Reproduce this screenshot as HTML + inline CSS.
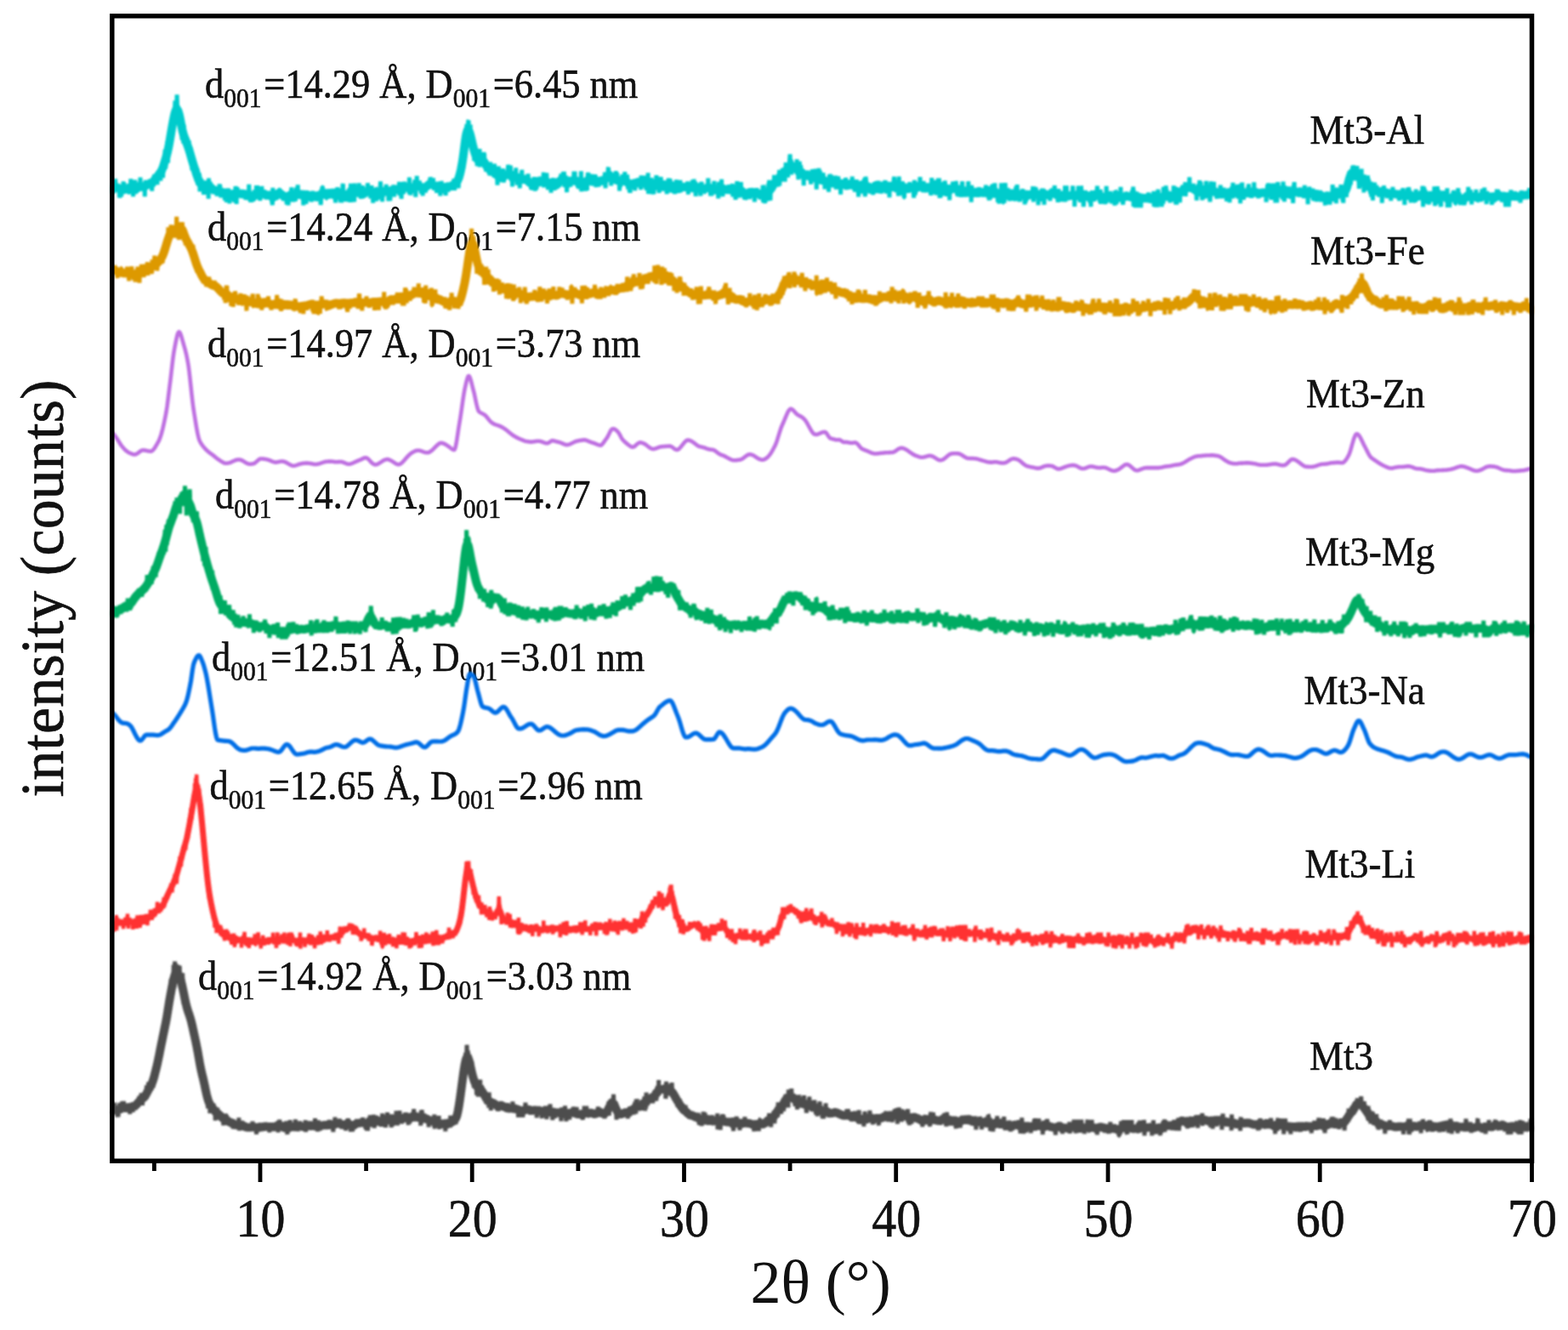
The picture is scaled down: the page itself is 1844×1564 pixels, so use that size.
<!DOCTYPE html>
<html><head><meta charset="utf-8"><style>
html,body{margin:0;padding:0;background:#fff;width:1844px;height:1564px;overflow:hidden}
svg{display:block}
.s{font-family:"Liberation Serif","Times New Roman",serif;fill:#111;stroke:#111;stroke-width:0.6px;paint-order:stroke}
</style></head><body>
<svg width="1844" height="1564" viewBox="0 0 1844 1564">
<rect width="100%" height="100%" fill="#fff"/>
<defs><filter id="b" x="-2%" y="-2%" width="104%" height="104%"><feGaussianBlur stdDeviation="0.8"/></filter></defs>
<text transform="translate(306.5 1454) scale(0.92 1)" font-size="63" text-anchor="middle" class="s">10</text>
<text transform="translate(555.7 1454) scale(0.92 1)" font-size="63" text-anchor="middle" class="s">20</text>
<text transform="translate(805.0 1454) scale(0.92 1)" font-size="63" text-anchor="middle" class="s">30</text>
<text transform="translate(1054.2 1454) scale(0.92 1)" font-size="63" text-anchor="middle" class="s">40</text>
<text transform="translate(1303.5 1454) scale(0.92 1)" font-size="63" text-anchor="middle" class="s">50</text>
<text transform="translate(1552.7 1454) scale(0.92 1)" font-size="63" text-anchor="middle" class="s">60</text>
<text transform="translate(1802.0 1454) scale(0.92 1)" font-size="63" text-anchor="middle" class="s">70</text>
<text x="965" y="1532" font-size="72" text-anchor="middle" class="s" style="stroke-width:0">2θ (°)</text>
<text transform="translate(74 692) rotate(-90) scale(0.978 1)" font-size="72" text-anchor="middle" class="s">intensity (counts)</text>
<text transform="translate(241.0 114.6) scale(0.925 1)" font-size="48" class="s">d<tspan font-size="32" dy="11">001</tspan><tspan dy="-11" dx="3">=</tspan>14.29 Å, D<tspan font-size="32" dy="11">001</tspan><tspan dy="-11" dx="3">=</tspan>6.45 nm</text>
<text transform="translate(244.0 283) scale(0.925 1)" font-size="48" class="s">d<tspan font-size="32" dy="11">001</tspan><tspan dy="-11" dx="3">=</tspan>14.24 Å, D<tspan font-size="32" dy="11">001</tspan><tspan dy="-11" dx="3">=</tspan>7.15 nm</text>
<text transform="translate(244.0 419.6) scale(0.925 1)" font-size="48" class="s">d<tspan font-size="32" dy="11">001</tspan><tspan dy="-11" dx="3">=</tspan>14.97 Å, D<tspan font-size="32" dy="11">001</tspan><tspan dy="-11" dx="3">=</tspan>3.73 nm</text>
<text transform="translate(253.0 598) scale(0.925 1)" font-size="48" class="s">d<tspan font-size="32" dy="11">001</tspan><tspan dy="-11" dx="3">=</tspan>14.78 Å, D<tspan font-size="32" dy="11">001</tspan><tspan dy="-11" dx="3">=</tspan>4.77 nm</text>
<text transform="translate(249.0 789) scale(0.925 1)" font-size="48" class="s">d<tspan font-size="32" dy="11">001</tspan><tspan dy="-11" dx="3">=</tspan>12.51 Å, D<tspan font-size="32" dy="11">001</tspan><tspan dy="-11" dx="3">=</tspan>3.01 nm</text>
<text transform="translate(246.5 940) scale(0.925 1)" font-size="48" class="s">d<tspan font-size="32" dy="11">001</tspan><tspan dy="-11" dx="3">=</tspan>12.65 Å, D<tspan font-size="32" dy="11">001</tspan><tspan dy="-11" dx="3">=</tspan>2.96 nm</text>
<text transform="translate(233.0 1164) scale(0.925 1)" font-size="48" class="s">d<tspan font-size="32" dy="11">001</tspan><tspan dy="-11" dx="3">=</tspan>14.92 Å, D<tspan font-size="32" dy="11">001</tspan><tspan dy="-11" dx="3">=</tspan>3.03 nm</text>
<text transform="translate(1540.5 168.5) scale(0.936 1)" font-size="48" class="s">Mt3-Al</text>
<text transform="translate(1541.0 311.3) scale(0.936 1)" font-size="48" class="s">Mt3-Fe</text>
<text transform="translate(1536.0 479) scale(0.936 1)" font-size="48" class="s">Mt3-Zn</text>
<text transform="translate(1535.0 665) scale(0.936 1)" font-size="48" class="s">Mt3-Mg</text>
<text transform="translate(1533.6 828) scale(0.936 1)" font-size="48" class="s">Mt3-Na</text>
<text transform="translate(1534.6 1032) scale(0.936 1)" font-size="48" class="s">Mt3-Li</text>
<text transform="translate(1540.0 1258) scale(0.936 1)" font-size="48" class="s">Mt3</text>
<g filter="url(#b)"><path d="M132.5 1305.9l.7-.1 .7-.1 .7-.2 .7-.1 .7 0 .7 .1 .7 0 .7-.1 .7-.2 .7-.4 .7-.4 .7-.5 .7-.4 .7-.3 .7-.3 .7-.3 .7-.1 .7 0 .7 .1 .7 .2 .7 .2 .7 0 .7 0 .7-.1 .7-.2 .7-.1 .7-.1 .7-.1 .7-.1 .7-.2 .7-.3 .7-.3 .7-.2 .7-.2 .7-.2 .7-.2 .7-.3 .7-.4 .7-.5 .7-.6 .7-.8 .7-.7 .7-.9 .7-.8 .7-.9 .7-.8 .7-.7 .7-.6 .7-.4 .7-.5 .7-.4 .7-.5 .7-.7 .7-.9 .7-1 .7-1.2 .7-1.3 .7-1.3 .7-1.4 .7-1.3 .7-1.3 .7-1.3 .7-1.2 .7-1.3 .7-1.4 .7-1.5 .7-1.7 .7-2 .7-2.3 .7-2.5 .7-2.7 .7-2.8 .7-2.8 .7-2.9 .7-3 .7-3.1 .7-3.4 .7-3.4 .7-3.6 .7-3.5 .7-3.5 .7-3.5 .7-3.4 .7-3.5 .7-3.4 .7-3.4 .7-3.3 .7-3.3 .7-3.4 .7-3.7 .7-3.9 .7-4.3 .7-4.4 .7-4.4 .7-4.3 .7-4.1 .7-3.9 .7-3.8 .7-3.8 .7-3.6 .7-3.5 .7-3.2 .7-2.8 .7-2.3 .7-1.7 .7-1 .7-.5 .7 0 .7 .3 .7 .8 .7 1 .7 1.4 .7 1.8 .7 2.2 .7 2.5 .7 2.8 .7 3 .7 3.2 .7 3.4 .7 3.5 .7 3.5 .7 3.3 .7 3.1 .7 2.9 .7 2.6 .7 2.3 .7 2.2 .7 2 .7 2.1 .7 2.1 .7 2.4 .7 2.5 .7 2.9 .7 3 .7 3.2 .7 3.2 .7 3.2 .7 3.2 .7 3.2 .7 3.3 .7 3.4 .7 3.6 .7 3.7 .7 4 .7 4 .7 4 .7 3.8 .7 3.6 .7 3.2 .7 3 .7 2.9 .7 2.8 .7 3.1 .7 3.1 .7 3.3 .7 3.4 .7 3.3 .7 3.1 .7 2.8 .7 2.4 .7 2.1 .7 1.7 .7 1.5 .7 1.2 .7 1.1 .7 .9 .7 .9 .7 .9 .7 .9 .7 1 .7 1 .7 .8 .7 .8 .7 .6 .7 .4 .7 .5 .7 .5 .7 .6 .7 .7 .7 .7 .7 .8 .7 .7 .7 .7 .7 .6 .7 .6 .7 .5 .7 .3 .7 .3 .7 .2 .7 .2 .7 .4 .7 .4 .7 .6 .7 .5 .7 .5 .7 .4 .7 .3 .7 .3 .7 .3 .7 .3 .7 .4 .7 .4 .7 .4 .7 .4 .7 .3 .7 .2 .7 0 .7 .1 .7-.1 .7 0 .7 .1 .7 .2 .7 .1 .7 .2 .7 .2 .7 .1 .7 .1 .7 .1 .7 .2 .7 .2 .7 .3 .7 .3 .7 .4 .7 .2 .7 .3 .7 .1 .7 0 .7 0 .7 0 .7 0 .7 0 .7-.1 .7 0 .7-.1 .7-.1 .7 0 .7 0 .7 0 .7 .1 .7 .1 .7 .2 .7 .1 .7 .1 .7 .1 .7-.1 .7-.1 .7-.2 .7-.1 .7-.1 .7-.1 .7 0 .7-.1 .7-.1 .7-.1 .7-.1 .7-.1 .7-.1 .7 0 .7 0 .7 .1 .7 0 .7 0 .7 0 .7 0 .7 0 .7 0 .7 .1 .7 .1 .7 .2 .7 .1 .7-.1 .7-.1 .7-.3 .7-.3 .7-.4 .7-.3 .7-.2 .7-.2 .7 0 .7 0 .7 .2 .7 .4 .7 .4 .7 .4 .7 .3 .7 .2 .7 .2 .7 .1 .7 .1 .7 .1 .7 .2 .7 .1 .7 .1 .7 0 .7-.1 .7-.2 .7-.3 .7-.4 .7-.2 .7-.2 .7-.1 .7 0 .7 0 .7 .1 .7 0 .7 0 .7-.1 .7 0 .7-.1 .7-.1 .7-.1 .7-.1 .7-.1 .7 0 .7 0 .7 .1 .7 .2 .7 .2 .7 .1 .7 .1 .7 .1 .7-.1 .7-.1 .7-.2 .7-.1 .7-.3 .7-.3 .7-.3 .7-.2 .7-.2 .7-.1 .7 .1 .7 .1 .7 .1 .7 .1 .7 0 .7 0 .7-.1 .7 0 .7-.1 .7 0 .7-.1 .7 0 .7 0 .7 0 .7 .1 .7 0 .7 .2 .7 0 .7 .1 .7-.1 .7-.1 .7-.1 .7-.1 .7-.1 .7-.1 .7-.1 .7 0 .7 0 .7-.1 .7-.1 .7-.1 .7-.1 .7-.1 .7-.1 .7 0 .7 .1 .7 .1 .7 .1 .7 0 .7-.1 .7-.2 .7-.3 .7-.3 .7-.3 .7-.3 .7-.2 .7-.2 .7 0 .7 .2 .7 .2 .7 .4 .7 .3 .7 .3 .7 .2 .7 .1 .7 .1 .7-.1 .7 0 .7-.1 .7-.1 .7-.2 .7-.1 .7-.1 .7 0 .7 .1 .7 .2 .7 .3 .7 .4 .7 .3 .7 .3 .7 .2 .7 .1 .7-.1 .7-.3 .7-.4 .7-.5 .7-.5 .7-.5 .7-.3 .7-.2 .7-.1 .7-.1 .7-.1 .7-.1 .7-.1 .7-.1 .7-.1 .7-.1 .7 0 .7 .1 .7 .1 .7 .2 .7 .2 .7 .3 .7 .2 .7 .1 .7-.1 .7-.4 .7-.6 .7-.7 .7-.6 .7-.5 .7-.3 .7-.1 .7 .1 .7 .1 .7 .1 .7 0 .7-.1 .7-.2 .7-.3 .7-.1 .7 0 .7 .2 .7 .2 .7 .2 .7 .2 .7 .1 .7 0 .7-.1 .7-.2 .7-.2 .7-.1 .7-.1 .7-.1 .7 0 .7-.1 .7-.2 .7-.1 .7-.2 .7-.1 .7 0 .7 0 .7 0 .7-.1 .7-.1 .7-.1 .7 0 .7-.1 .7-.1 .7-.2 .7-.2 .7-.3 .7-.3 .7-.3 .7-.4 .7-.3 .7-.3 .7-.2 .7-.1 .7 0 .7 .2 .7 .3 .7 .3 .7 .2 .7 .1 .7 0 .7-.2 .7-.3 .7-.2 .7-.2 .7 0 .7 .1 .7 .3 .7 .4 .7 .2 .7 .1 .7-.1 .7-.4 .7-.5 .7-.6 .7-.5 .7-.5 .7-.3 .7-.2 .7 .1 .7 .2 .7 .3 .7 .3 .7 .4 .7 .3 .7 .3 .7 0 .7 0 .7-.1 .7-.3 .7-.2 .7-.1 .7 0 .7 .1 .7 .3 .7 .3 .7 .5 .7 .4 .7 .4 .7 .3 .7 .4 .7 .3 .7 .4 .7 .2 .7 .3 .7 .1 .7 .2 .7 .2 .7 .2 .7 .2 .7 .2 .7 .2 .7 0 .7 .1 .7 0 .7 .2 .7 .2 .7 .4 .7 .5 .7 .4 .7 .4 .7 .4 .7 .2 .7 .1 .7 .1 .7 0 .7 .1 .7 0 .7 .2 .7 .2 .7 .2 .7 .1 .7 0 .7-.1 .7-.2 .7-.4 .7-.3 .7-.4 .7-.3 .7-.4 .7-.2 .7-.3 .7-.4 .7-.4 .7-.4 .7-.6 .7-.6 .7-.7 .7-1 .7-1.3 .7-1.8 .7-2.5 .7-3.1 .7-3.7 .7-4.2 .7-4.6 .7-5 .7-5.1 .7-5.3 .7-5.3 .7-5.2 .7-5.1 .7-4.8 .7-4.4 .7-3.8 .7-3.1 .7-2.4 .7-1.4 .7-.4 .7 .6 .7 1.6 .7 2.3 .7 2.9 .7 3.1 .7 3.2 .7 3.1 .7 2.9 .7 2.7 .7 2.5 .7 2.1 .7 1.9 .7 1.6 .7 1.4 .7 1.3 .7 1.1 .7 1 .7 .8 .7 .5 .7 .4 .7 .5 .7 .5 .7 .7 .7 .9 .7 1 .7 1.1 .7 1.2 .7 1.2 .7 1.2 .7 1.2 .7 1 .7 1 .7 .9 .7 .7 .7 .6 .7 .6 .7 .5 .7 .5 .7 .5 .7 .3 .7 .3 .7 .2 .7 .2 .7 .3 .7 .5 .7 .5 .7 .6 .7 .6 .7 .5 .7 .4 .7 .3 .7 .2 .7 0 .7-.1 .7-.1 .7 0 .7 0 .7 .1 .7 .1 .7 .2 .7 .3 .7 .2 .7 .3 .7 .2 .7 .3 .7 .2 .7 .2 .7 .2 .7 .2 .7 .1 .7 .1 .7 0 .7 0 .7-.1 .7-.1 .7 0 .7 0 .7 .1 .7 .1 .7 .2 .7 .2 .7 .2 .7 .3 .7 .3 .7 .2 .7 .3 .7 .2 .7 .2 .7 .3 .7 .3 .7 .2 .7 .2 .7-.1 .7-.3 .7-.3 .7-.4 .7-.4 .7-.2 .7-.2 .7-.1 .7 .1 .7 .1 .7 .2 .7 .3 .7 .3 .7 .2 .7 .2 .7 0 .7 0 .7-.2 .7-.1 .7-.1 .7 0 .7 .1 .7 .1 .7 .2 .7 .1 .7 0 .7 .1 .7 0 .7 .1 .7 0 .7 .2 .7 .1 .7 .2 .7 .1 .7 .1 .7 0 .7-.1 .7 0 .7 0 .7 .1 .7 0 .7-.1 .7-.2 .7-.1 .7 0 .7 .1 .7 .2 .7 .3 .7 .4 .7 .3 .7 .3 .7 .1 .7 .1 .7 .1 .7 .1 .7 .1 .7 0 .7 0 .7-.1 .7 0 .7 .1 .7 .1 .7 .2 .7 .2 .7 .2 .7 .2 .7 .1 .7 0 .7-.1 .7-.1 .7-.1 .7-.1 .7 .1 .7 .1 .7 0 .7 .1 .7 0 .7-.1 .7-.1 .7-.2 .7-.3 .7-.3 .7-.2 .7-.1 .7 0 .7 .2 .7 .2 .7 .3 .7 .2 .7 .3 .7 .3 .7 .2 .7 .2 .7 .1 .7 .1 .7 0 .7-.1 .7 .1 .7 0 .7 .1 .7 0 .7-.2 .7-.4 .7-.4 .7-.4 .7-.2 .7-.1 .7 .2 .7 .1 .7 .2 .7 0 .7 0 .7-.2 .7-.2 .7 0 .7 0 .7 .2 .7 .2 .7 .3 .7 .2 .7 .2 .7 0 .7-.1 .7-.3 .7-.3 .7-.3 .7-.2 .7-.1 .7-.1 .7 0 .7 .1 .7 .1 .7 .2 .7 .2 .7 .2 .7 .2 .7 0 .7 0 .7-.3 .7-.4 .7-.6 .7-.9 .7-1 .7-1.2 .7-1.4 .7-1.3 .7-1.4 .7-1.3 .7-1.1 .7-.8 .7-.6 .7 0 .7 .3 .7 .9 .7 1.3 .7 1.5 .7 1.7 .7 1.7 .7 1.5 .7 1.4 .7 1 .7 .8 .7 .5 .7 .3 .7 .1 .7-.1 .7-.1 .7-.2 .7-.3 .7-.4 .7-.3 .7-.3 .7-.2 .7-.1 .7 0 .7-.1 .7 0 .7-.2 .7-.3 .7-.4 .7-.4 .7-.4 .7-.4 .7-.3 .7-.3 .7-.4 .7-.6 .7-.6 .7-.8 .7-.8 .7-.7 .7-.4 .7-.2 .7 0 .7 .2 .7 .2 .7 0 .7-.1 .7-.4 .7-.6 .7-.7 .7-.7 .7-.7 .7-.7 .7-.6 .7-.5 .7-.5 .7-.5 .7-.5 .7-.5 .7-.6 .7-.5 .7-.5 .7-.5 .7-.4 .7-.4 .7-.3 .7-.4 .7-.4 .7-.4 .7-.5 .7-.6 .7-.6 .7-.9 .7-1 .7-1.1 .7-1.2 .7-1 .7-.8 .7-.5 .7-.4 .7-.1 .7-.1 .7-.1 .7 0 .7-.1 .7 .1 .7 0 .7 .2 .7 .2 .7 .2 .7 .2 .7 .2 .7 .2 .7 .3 .7 .2 .7 .2 .7 .2 .7 .2 .7 .2 .7 .4 .7 .5 .7 .8 .7 1 .7 1.2 .7 1.3 .7 1.3 .7 1.2 .7 1.2 .7 1.2 .7 1.1 .7 1.1 .7 1.2 .7 1.1 .7 1.1 .7 1.2 .7 1.1 .7 1 .7 .9 .7 .8 .7 .7 .7 .6 .7 .5 .7 .5 .7 .6 .7 .6 .7 .7 .7 .7 .7 .6 .7 .6 .7 .5 .7 .3 .7 .3 .7 .1 .7 .2 .7 .2 .7 .3 .7 .3 .7 .3 .7 .2 .7 .3 .7 .1 .7 .2 .7 .3 .7 .4 .7 .6 .7 .6 .7 .6 .7 .3 .7 .2 .7 0 .7-.2 .7-.3 .7-.3 .7-.2 .7 0 .7 0 .7 .2 .7 .2 .7 .3 .7 .2 .7 .3 .7 .2 .7 .2 .7 .2 .7 .1 .7 .2 .7 .2 .7 .2 .7 .1 .7 .1 .7-.1 .7-.2 .7-.2 .7-.1 .7-.1 .7 .1 .7 .2 .7 .2 .7 .3 .7 .3 .7 .1 .7 .1 .7-.1 .7-.1 .7-.2 .7-.1 .7 0 .7 .1 .7 .2 .7 .2 .7 .2 .7 .1 .7 .2 .7 .1 .7 0 .7 0 .7 .1 .7 .1 .7 .3 .7 .3 .7 .4 .7 .4 .7 .3 .7 .2 .7 0 .7-.2 .7-.2 .7-.3 .7-.2 .7 0 .7 .1 .7 .1 .7 .2 .7 .2 .7 .1 .7 .1 .7 0 .7-.1 .7-.1 .7-.2 .7-.3 .7-.2 .7-.1 .7 0 .7 .1 .7 .2 .7 .1 .7 .1 .7 0 .7 0 .7 .1 .7 .2 .7 .2 .7 .3 .7 .3 .7 .4 .7 .2 .7 .2 .7 0 .7-.1 .7-.2 .7-.2 .7-.2 .7-.2 .7-.1 .7-.1 .7-.1 .7-.1 .7 0 .7 0 .7 .2 .7 0 .7 0 .7-.1 .7-.2 .7-.4 .7-.5 .7-.6 .7-.6 .7-.7 .7-.7 .7-.6 .7-.4 .7-.3 .7-.3 .7-.2 .7-.2 .7-.4 .7-.5 .7-.7 .7-.7 .7-.9 .7-1 .7-1 .7-1.2 .7-1.1 .7-1 .7-.9 .7-.7 .7-.6 .7-.6 .7-.5 .7-.6 .7-.8 .7-.9 .7-1.2 .7-1.3 .7-1.5 .7-1.5 .7-1.3 .7-1.1 .7-.9 .7-.5 .7-.4 .7-.3 .7-.3 .7-.3 .7-.5 .7-.4 .7-.3 .7-.1 .7 .1 .7 .3 .7 .6 .7 .6 .7 .8 .7 .7 .7 .6 .7 .4 .7 .3 .7 0 .7-.1 .7-.1 .7 .1 .7 .2 .7 .4 .7 .4 .7 .4 .7 .4 .7 .3 .7 .2 .7 .4 .7 .5 .7 .7 .7 .6 .7 .6 .7 .3 .7 .1 .7 0 .7-.1 .7 0 .7 .3 .7 .4 .7 .4 .7 .3 .7 .2 .7 0 .7 0 .7 .1 .7 .3 .7 .3 .7 .5 .7 .4 .7 .4 .7 .2 .7 .1 .7 .1 .7 .3 .7 .3 .7 .6 .7 .7 .7 .7 .7 .6 .7 .3 .7 .1 .7-.2 .7-.2 .7-.2 .7-.1 .7 .1 .7 .3 .7 .4 .7 .5 .7 .4 .7 .4 .7 .2 .7 .1 .7 0 .7 0 .7-.1 .7-.2 .7-.2 .7-.2 .7-.2 .7 0 .7 .1 .7 .2 .7 .3 .7 .3 .7 .4 .7 .3 .7 .3 .7 .3 .7 .3 .7 .3 .7 .3 .7 .3 .7 .2 .7 .1 .7 0 .7-.1 .7-.2 .7-.2 .7-.1 .7-.1 .7 .1 .7 .2 .7 .3 .7 .3 .7 .5 .7 .4 .7 .4 .7 .2 .7 .1 .7 0 .7-.1 .7-.1 .7 .1 .7 .1 .7 .3 .7 .4 .7 .3 .7 .4 .7 .2 .7 .3 .7 .2 .7 .1 .7 .1 .7 .1 .7 0 .7 0 .7 .1 .7 0 .7 0 .7 0 .7 0 .7-.1 .7-.1 .7-.2 .7-.4 .7-.3 .7-.3 .7-.2 .7 0 .7 .3 .7 .3 .7 .4 .7 .2 .7 0 .7-.1 .7-.2 .7-.2 .7-.2 .7 0 .7 0 .7 .1 .7 0 .7 0 .7 0 .7-.1 .7 0 .7-.1 .7-.2 .7-.2 .7-.4 .7-.5 .7-.4 .7-.4 .7-.2 .7-.1 .7 .2 .7 .3 .7 .3 .7 .2 .7 .1 .7 0 .7-.1 .7-.2 .7-.2 .7-.2 .7-.3 .7-.4 .7-.3 .7-.3 .7-.2 .7 0 .7 0 .7 .1 .7 0 .7-.1 .7-.1 .7-.2 .7-.1 .7 0 .7 .1 .7 .2 .7 .2 .7 .1 .7 .2 .7 .1 .7 0 .7 .1 .7 .1 .7 .2 .7 .3 .7 .3 .7 .5 .7 .5 .7 .4 .7 .4 .7 .2 .7 .1 .7-.2 .7-.3 .7-.4 .7-.2 .7-.2 .7 .1 .7 .3 .7 .3 .7 .4 .7 .3 .7 .2 .7 .2 .7 .3 .7 .3 .7 .4 .7 .4 .7 .4 .7 .3 .7 .3 .7 0 .7-.1 .7-.2 .7-.1 .7-.1 .7-.1 .7 0 .7-.1 .7-.2 .7-.2 .7-.3 .7-.3 .7-.3 .7-.2 .7-.1 .7 0 .7 0 .7 .2 .7 .3 .7 .3 .7 .3 .7 .3 .7 .3 .7 .2 .7 .2 .7 .1 .7 0 .7 0 .7 0 .7-.1 .7-.2 .7-.3 .7-.3 .7-.3 .7-.2 .7-.1 .7 .1 .7 .3 .7 .2 .7 .2 .7 .1 .7-.1 .7-.1 .7-.1 .7-.1 .7 .1 .7 .3 .7 .2 .7 .3 .7 .2 .7 0 .7 0 .7-.1 .7 0 .7 .1 .7 .1 .7 .2 .7 .2 .7 .2 .7 .2 .7 .2 .7 .1 .7 0 .7-.2 .7-.4 .7-.5 .7-.5 .7-.4 .7-.2 .7 0 .7 0 .7 0 .7 0 .7 0 .7 0 .7 0 .7 .1 .7 0 .7 .2 .7 .2 .7 .2 .7 .3 .7 .3 .7 .3 .7 .2 .7 .2 .7 .1 .7 .2 .7 .1 .7 .1 .7 0 .7-.1 .7-.1 .7-.1 .7-.1 .7 0 .7 .2 .7 .3 .7 .4 .7 .3 .7 .2 .7 0 .7-.2 .7-.2 .7-.2 .7-.1 .7-.1 .7 0 .7-.1 .7 0 .7 0 .7 .2 .7 .3 .7 .5 .7 .6 .7 .5 .7 .4 .7 .2 .7 .1 .7-.2 .7-.2 .7-.3 .7-.2 .7-.2 .7-.2 .7-.1 .7 0 .7 .1 .7 .1 .7 .1 .7 .1 .7 0 .7 .1 .7 .1 .7 .1 .7 .2 .7 .3 .7 .4 .7 .5 .7 .4 .7 .4 .7 .2 .7 0 .7-.1 .7-.1 .7-.2 .7-.1 .7 0 .7 0 .7 0 .7 0 .7-.1 .7-.2 .7-.2 .7-.1 .7-.1 .7-.1 .7 .1 .7 .1 .7 .2 .7 .3 .7 .3 .7 .2 .7 .2 .7 .2 .7 0 .7 0 .7 0 .7 .1 .7 0 .7 .1 .7 .1 .7 0 .7 0 .7 0 .7-.1 .7 0 .7 0 .7 0 .7 .2 .7 .2 .7 .1 .7 .1 .7-.1 .7-.3 .7-.3 .7-.4 .7-.4 .7-.2 .7-.1 .7 0 .7 .2 .7 .1 .7 .1 .7 0 .7 0 .7 0 .7 .2 .7 .2 .7 .2 .7 .3 .7 .2 .7 .1 .7-.1 .7-.2 .7-.4 .7-.4 .7-.3 .7-.2 .7 0 .7 .2 .7 .4 .7 .5 .7 .3 .7 .3 .7 .1 .7 .1 .7 .1 .7 .2 .7 .2 .7 .2 .7 .2 .7 .1 .7 0 .7-.2 .7-.3 .7-.5 .7-.4 .7-.3 .7-.1 .7 0 .7 .2 .7 .4 .7 .4 .7 .4 .7 .3 .7 .2 .7 .1 .7 .1 .7 0 .7 .1 .7 0 .7 .1 .7 0 .7-.1 .7-.1 .7-.1 .7-.2 .7-.1 .7-.2 .7-.2 .7-.2 .7-.2 .7-.2 .7 0 .7 .1 .7 .1 .7 .2 .7 .1 .7 .1 .7 0 .7 0 .7 0 .7 0 .7-.1 .7-.1 .7-.1 .7 0 .7 .1 .7 .3 .7 .3 .7 .3 .7 .1 .7 0 .7-.2 .7-.3 .7-.2 .7-.2 .7 0 .7 .1 .7 .1 .7 0 .7 0 .7 0 .7-.1 .7 .1 .7 .1 .7 .2 .7 .1 .7 .2 .7 .2 .7 .1 .7 0 .7-.1 .7-.2 .7-.3 .7-.3 .7-.2 .7-.2 .7-.1 .7 .1 .7 .2 .7 .2 .7 .3 .7 .2 .7 .2 .7 .1 .7 .1 .7 0 .7 .1 .7 .1 .7 .1 .7 .2 .7 0 .7 0 .7-.1 .7-.1 .7 0 .7 0 .7 0 .7 .1 .7 0 .7 .1 .7 .1 .7 .2 .7 .3 .7 .3 .7 .3 .7 .2 .7 .1 .7-.2 .7-.5 .7-.5 .7-.6 .7-.5 .7-.4 .7-.2 .7 0 .7 .1 .7 .2 .7 .4 .7 .3 .7 .1 .7 .1 .7-.2 .7-.2 .7-.3 .7-.2 .7-.1 .7 .2 .7 .2 .7 .3 .7 .3 .7 .2 .7 .1 .7 0 .7 0 .7-.1 .7-.1 .7-.1 .7-.1 .7-.1 .7-.2 .7-.2 .7-.1 .7-.1 .7 0 .7 0 .7-.1 .7 0 .7 0 .7 .1 .7 0 .7 .1 .7 0 .7 0 .7-.1 .7-.2 .7-.1 .7-.2 .7 0 .7-.1 .7 0 .7 0 .7 .1 .7 .1 .7 .2 .7 .3 .7 .3 .7 .3 .7 .2 .7 .1 .7-.1 .7-.2 .7-.3 .7-.2 .7-.1 .7 0 .7 .1 .7 0 .7-.1 .7-.3 .7-.4 .7-.4 .7-.5 .7-.4 .7-.2 .7-.2 .7-.1 .7 0 .7 0 .7 0 .7 0 .7-.1 .7-.1 .7 0 .7 0 .7-.1 .7-.1 .7-.2 .7-.1 .7-.2 .7 0 .7 0 .7-.1 .7-.1 .7-.2 .7-.4 .7-.5 .7-.6 .7-.6 .7-.6 .7-.5 .7-.5 .7-.3 .7-.2 .7 0 .7 .1 .7 .2 .7 .1 .7 .2 .7 0 .7 .1 .7 0 .7-.1 .7 0 .7-.2 .7-.1 .7-.2 .7-.1 .7-.1 .7 0 .7 0 .7 .1 .7-.1 .7-.1 .7-.2 .7-.2 .7-.3 .7-.2 .7-.3 .7-.2 .7-.2 .7-.1 .7-.2 .7-.1 .7 .1 .7 .1 .7 .1 .7 .2 .7 .1 .7 .1 .7 0 .7 .1 .7 .1 .7 .1 .7 .2 .7 .2 .7 .3 .7 .3 .7 .2 .7 .2 .7 .1 .7 .1 .7-.1 .7-.1 .7-.2 .7-.2 .7-.1 .7-.1 .7 0 .7 0 .7 .1 .7 0 .7-.1 .7-.1 .7-.2 .7-.1 .7 0 .7 .1 .7 .2 .7 .2 .7 .2 .7 .1 .7 .1 .7 .1 .7 .1 .7 .2 .7 .1 .7 .2 .7 .2 .7 .1 .7 .1 .7 .2 .7 .1 .7 .1 .7 .1 .7 .1 .7 0 .7 0 .7 .1 .7 0 .7 .2 .7 .1 .7 .3 .7 .3 .7 .3 .7 .3 .7 .2 .7 .1 .7-.1 .7-.1 .7-.3 .7-.3 .7-.4 .7-.2 .7-.1 .7 0 .7 .1 .7 .1 .7 .1 .7-.1 .7-.1 .7-.1 .7-.1 .7 0 .7 0 .7 0 .7 .2 .7 .2 .7 .3 .7 .2 .7 .2 .7 .3 .7 .2 .7 .2 .7 .1 .7 .1 .7 .1 .7 0 .7-.1 .7-.1 .7-.1 .7-.1 .7-.1 .7-.2 .7-.2 .7-.1 .7 0 .7 0 .7 .1 .7 .2 .7 .2 .7 .2 .7 .2 .7 .1 .7-.1 .7-.1 .7-.1 .7 0 .7 0 .7 0 .7 .1 .7-.1 .7 0 .7 .1 .7 .2 .7 .4 .7 .4 .7 .5 .7 .4 .7 .1 .7-.1 .7-.3 .7-.4 .7-.5 .7-.4 .7-.2 .7-.1 .7 .1 .7 .2 .7 .2 .7 .2 .7 .2 .7 .3 .7 .2 .7 .3 .7 .1 .7 .1 .7 0 .7 0 .7 .1 .7 .1 .7 .1 .7 .2 .7 .1 .7 .2 .7 .2 .7 .2 .7 .1 .7 0 .7-.1 .7-.2 .7-.1 .7-.1 .7 0 .7-.1 .7 0 .7-.1 .7-.1 .7-.1 .7-.1 .7 0 .7 0 .7 .1 .7 0 .7 0 .7 0 .7 0 .7 0 .7 0 .7 .1 .7-.1 .7 0 .7-.1 .7-.1 .7 0 .7 0 .7 0 .7 .2 .7 .1 .7 .2 .7 0 .7 0 .7-.2 .7-.3 .7-.2 .7-.2 .7-.1 .7 0 .7-.1 .7-.1 .7-.2 .7-.4 .7-.3 .7-.3 .7-.1 .7 0 .7 .1 .7 .2 .7 .2 .7 .3 .7 .3 .7 .2 .7 .2 .7 .1 .7-.1 .7-.2 .7-.4 .7-.4 .7-.3 .7-.4 .7-.4 .7-.3 .7-.3 .7-.2 .7-.2 .7-.1 .7 0 .7 .1 .7 .1 .7 0 .7 0 .7 0 .7 .1 .7 .1 .7 .1 .7 .1 .7 .1 .7 0 .7 0 .7-.1 .7-.2 .7-.1 .7 0 .7-.1 .7-.2 .7-.3 .7-.5 .7-.8 .7-.9 .7-1.1 .7-1 .7-1.1 .7-1 .7-1.1 .7-1 .7-1.1 .7-1 .7-.9 .7-.8 .7-.7 .7-.8 .7-.9 .7-1 .7-1.3 .7-1.3 .7-1.4 .7-1.2 .7-.9 .7-.6 .7-.4 .7-.1 .7 0 .7 .2 .7 .4 .7 .4 .7 .7 .7 .7 .7 .9 .7 .9 .7 .8 .7 1 .7 .9 .7 1 .7 1 .7 1.1 .7 1 .7 1 .7 1.1 .7 1.1 .7 1.1 .7 1 .7 .9 .7 .7 .7 .6 .7 .5 .7 .4 .7 .3 .7 .3 .7 .3 .7 .4 .7 .6 .7 .6 .7 .6 .7 .6 .7 .4 .7 .3 .7 .3 .7 .2 .7 .3 .7 .2 .7 .3 .7 .3 .7 .2 .7 .3 .7 .2 .7 .2 .7 .1 .7 .2 .7 .1 .7 0 .7 0 .7-.1 .7 0 .7-.1 .7 0 .7 .1 .7 .1 .7 .1 .7 .2 .7 .2 .7 .2 .7 .2 .7 .1 .7 0 .7 0 .7-.1 .7-.1 .7 0 .7-.1 .7-.1 .7 0 .7 0 .7 0 .7 .1 .7 .2 .7 .1 .7 0 .7 0 .7-.3 .7-.2 .7-.3 .7-.2 .7 0 .7 .1 .7 .1 .7 .1 .7 .1 .7 .1 .7 0 .7 0 .7 0 .7 0 .7-.1 .7 0 .7-.1 .7 .1 .7 0 .7 .1 .7 0 .7-.1 .7-.1 .7-.2 .7-.1 .7 0 .7 0 .7-.1 .7-.1 .7-.2 .7-.1 .7-.2 .7 0 .7 0 .7 .1 .7 .1 .7 0 .7 0 .7-.1 .7-.2 .7-.2 .7-.1 .7 .1 .7 .2 .7 .3 .7 .4 .7 .2 .7 .1 .7 .1 .7 .1 .7 .1 .7 .1 .7 .1 .7 .1 .7 0 .7-.1 .7 0 .7-.2 .7-.1 .7-.2 .7-.1 .7-.2 .7-.1 .7-.1 .7-.1 .7-.1 .7 0 .7 0 .7 .1 .7 .1 .7 .2 .7 .1 .7 .1 .7 .1 .7 0 .7-.1 .7 0 .7 0 .7 .1 .7 .1 .7 .1 .7 0 .7-.1 .7-.1 .7-.1 .7-.1 .7 .1 .7 .1 .7 .2 .7 .2 .7 .2 .7 .1 .7 .1 .7 .1 .7 0 .7 0 .7 0 .7 0 .7 0 .7-.1 .7-.1 .7-.1 .7-.1 .7-.1 .7 0 .7 .1 .7 .2 .7 .2 .7 .3 .7 .2 .7 .1 .7 .2 .7 .1 .7 .1 .7 0 .7-.1 .7-.1 .7-.1 .7-.2 .7-.3 .7-.2 .7-.3 .7-.1 .7-.1 .7 .1 .7 .2 .7 .3 .7 .3 .7 .2 .7 .3 .7 .1 .7 .2 .7 .1 .7-.1 .7-.1 .7-.3 .7-.3 .7-.3 .7-.4 .7-.2 .7-.2 .7 0 .7 .1 .7 .2 .7 .2 .7 .1 .7 0 .7-.2 .7-.4 .7-.5 .7-.5 .7-.5 .7-.4 .7-.1 .7 .1 .7 .2 .7 .4 .7 .4 .7 .3 .7 .1 .7 .1 .7-.1 .7-.2 .7-.2 .7-.1 .7-.1 .7 .1 .7 .2 .7 .3 .7 .3 .7 .2 .7 .2 .7 .2 .7 .1 .7 0 .7-.1 .7-.1 .7 0 .7-.1 .7 0 .7 0 .7 0 .7 .1 .7 0 .7-.1 .7 0 .7-.1 .7-.1 .7-.1 .7-.1 .7-.1 .7-.1 .7-.2 .7-.2 .7-.2 .7-.1 .7 0 .7 .1 .7 .1 .7 .3 .7 .2 .7 .3 .7 .2 .7 .1 .7 0 .7-.1 .7-.1 .7-.1 .7-.2 .7-.1 .7 0 .7-.1 .7 0" fill="none" stroke="#4D4D4D" stroke-width="10" stroke-linejoin="round"/>
<path d="M132.5 1306.5l.3 3.2 .4-2 .3-4.1 .4 .7 .3 4.6 .4-12.3 .3 11.3 .4-.4 .3-2.4 .4-1.2 .3-.2 .4-.3 .3 1.3 .4 .3 .3 .2 .4 8.5 .3-6.7 .4-1.6 .3 8.1 .4-11 .3-.8 .4 3.5 .3-6.8 .4-.6 .3 6.6 .4-.3 .3 4.7 .4-3.8 .3-.8 .4-.1 .3-1.8 .4-7.2 .3 6.4 .4 3.6 .3-3.6 .4 1.5 .3-8.2 .4 11.6 .3-5.8 .4 1.4 .3 5.1 .4-3.6 .3 2.8 .4-2.2 .3 .8 .4-6 .3 4.4 .4-.3 .3 3.4 .4-4.4 .3 1.3 .4-6 .3 4.7 .4-.6 .3-2 .4 5.5 .3-3.4 .4 8.7 .3-7.7 .4 0 .3 .2 .4 .1 .3-4.3 .4 2.6 .3-1.7 .4 1.2 .3-3.8 .4 11.1 .3-9.4 .4 3.1 .3-2.6 .4 4.7 .3-2.8 .4-4.7 .3 6.3 .4 2.5 .3-1.7 .4-4.1 .3-3.9 .4 .5 .3 7.3 .4-5 .3-3.2 .4 6.2 .3-3.2 .4-.8 .3-1.4 .4-.1 .3-1.7 .4-5.2 .3 10.3 .4-4.2 .3 .1 .4-1.7 .3 2.7 .4-10.2 .3 6.9 .4-7.1 .3 3.4 .4 10.9 .3-6.7 .4-1.8 .3 .2 .4 3.2 .3-5.2 .4 1.2 .3 .2 .4-2.6 .3 .6 .4 1.5 .3 2.2 .4-8.7 .3 8.6 .4-16.3 .3 11.5 .4 .2 .3-7.1 .4 2.6 .3 2.8 .4-13.7 .3 10.4 .4 1.1 .3-3.2 .4 1 .3-4.8 .4-1.1 .3 1 .4-2.9 .3 1.1 .4 7 .3-7.3 .4-2.7 .3-1.7 .4 8 .3-8.7 .4 9.4 .3-11.3 .4-1.2 .3 3.7 .4-4.2 .3-2.9 .4-2.4 .3 3.9 .4-6.7 .3 5.5 .4-14.4 .3 4.8 .4-.8 .3 6.6 .4-12 .3 4.3 .4-3.2 .3-.9 .4-2.5 .3 7.9 .4-13.7 .3-1 .4-4.2 .3-7.1 .4 3.6 .3 8.5 .4-4.3 .3-12.3 .4 5 .3-2.9 .4-.8 .3-1.2 .4-5.4 .3 11 .4-12.9 .3-.2 .4-1.6 .3-7.4 .4-6.5 .3 6.8 .4 2.7 .3-.3 .4-3.2 .3-11 .4 13.5 .3-5.3 .4 .9 .3-7.9 .4 6.7 .3-21.4 .4-3.8 .3-3.7 .4 10.5 .3-1.9 .4-3.4 .3 3.5 .4-16.2 .3 11.4 .4-9.7 .3 5.2 .4-22.2 .3 11.5 .4 11.4 .3-13.6 .4 2.7 .3-5.2 .4-2.4 .3-8.5 .4 4.8 .3-17.2 .4 18.6 .3 8.1 .4-8.8 .3-22 .4 10.4 .3-1.1 .4-6.6 .3 10.5 .4 3.7 .3-8.1 .4 10.7 .3-2.1 .4-13.3 .3 12.9 .4 4.5 .3-13.9 .4 6.9 .3 1.4 .4-.1 .3-10.7 .4 12.9 .3 .6 .4 5.6 .3 .8 .4-6.3 .3 7.5 .4 6.1 .3 3 .4-13.3 .3-8.2 .4 20.2 .3-4.7 .4 7.6 .3 13.5 .4-11.2 .3 .1 .4 5.4 .3 4.5 .4-8.5 .3 8.5 .4-3.9 .3 10.2 .4 4.9 .3-5.7 .4 1.2 .3 3.1 .4-3.5 .3 1.8 .4 2.5 .3 2.7 .4-7.4 .3 13.3 .4-1.6 .3-2.3 .4-5.5 .3 13.6 .4-9 .3 1.2 .4 1 .3-1.1 .4 17.6 .3-9.6 .4 1.9 .3 8.6 .4-2.4 .3-4.4 .4 5.3 .3 8.8 .4-6.4 .3 5.3 .4-8.1 .3 11.6 .4 2.6 .3 2.7 .4-1 .3-1.3 .4-5.7 .3 10.7 .4 4.6 .3-5.1 .4 3.2 .3 4.7 .4 4.3 .3 5.3 .4-9.9 .3 3.3 .4 9.3 .3-.5 .4 2.6 .3 12.9 .4-3.8 .3-1.9 .4 .3 .3-2.2 .4 3.6 .3-3.2 .4 7.9 .3 1.6 .4 1.1 .3-.7 .4 1.2 .3 2.1 .4-6.9 .3 14.8 .4-1.9 .3 .5 .4 2.9 .3 3.2 .4-1.2 .3 5.8 .4 3.8 .3-5 .4-1.8 .3 7.5 .4 9.7 .3-13.2 .4 6.4 .3 2.5 .4 3.2 .3-8.8 .4-.2 .3 15.9 .4-13.9 .3 1.8 .4 4.1 .3-.3 .4 2.9 .3-4.2 .4 8.3 .3-6.9 .4 5 .3-7.4 .4 6 .3-7.1 .4 6.8 .3 .5 .4 3.3 .3-1.5 .4-5.4 .3 16.3 .4-5.3 .3 1.1 .4-6.5 .3 1.6 .4-1.2 .3-1.3 .4-3.3 .3 7.7 .4-3.5 .3 1.3 .4 6.5 .3-3.3 .4-2.3 .3 4.1 .4-2.6 .3 2.1 .4-1.5 .3 1.9 .4 .9 .3-.4 .4-.6 .3 3.1 .4 1.6 .3-6.2 .4-.6 .3-.3 .4 12.7 .3-2.6 .4-7.6 .3 9.8 .4-9.7 .3 2.6 .4 .1 .3 4.9 .4-11.1 .3 5.6 .4 2 .3-5.7 .4 3.5 .3 2 .4 4.1 .3-1.6 .4 1 .3-.7 .4-.3 .3 1.9 .4-1.8 .3 .7 .4-2.8 .3-1.4 .4 4.9 .3-4.6 .4 7.8 .3-4 .4-1.5 .3 6.6 .4-8.2 .3 3.2 .4-4.3 .3 11.4 .4-6.3 .3 2.1 .4-3.7 .3 4 .4-.9 .3-.3 .4 5.2 .3-6.2 .4 .1 .3 1.8 .4 1.7 .3-3.7 .4 2.2 .3-3.1 .4 2.6 .3 1.8 .4-7 .3 6.8 .4-10.2 .3 15.1 .4-6.3 .3-.2 .4 2 .3-1.2 .4 1.5 .3-5.9 .4 4.9 .3 0 .4 4.8 .3-11.2 .4 6.1 .3 1.1 .4-.4 .3-5 .4 5.4 .3-2.5 .4-.3 .3 6 .4-5.8 .3 2.1 .4 2 .3-.3 .4-1 .3 2.1 .4-2.5 .3 .9 .4 1.8 .3-1.4 .4-.2 .3-1.3 .4 .8 .3-.9 .4 2.3 .3-2.4 .4 .5 .3 2 .4-1.8 .3-1 .4 3.6 .3-3.3 .4 3.6 .3-.8 .4-2.4 .3 1.7 .4-8.1 .3 6.1 .4 3.8 .3-2.8 .4-.1 .3 .7 .4 .1 .3-.6 .4-.9 .3-2.1 .4 1.2 .3 0 .4 .9 .3 9.2 .4-9.7 .3 .6 .4-.4 .3 1.1 .4 5.2 .3-1.9 .4-4.4 .3-.9 .4 5.2 .3-3.6 .4 1.2 .3-6 .4 8.1 .3-4.5 .4 1.2 .3-2.3 .4 1.9 .3 3.1 .4-.1 .3-2.7 .4 2 .3-2.1 .4-.5 .3 .9 .4-2.5 .3 1.2 .4 2.4 .3 .6 .4-7.3 .3 7 .4 .9 .3-2.8 .4-4.9 .3 6.3 .4-2.9 .3 2.6 .4-1.5 .3 1.5 .4-2.4 .3 1.5 .4 .2 .3 .7 .4-3 .3 8.6 .4-7.8 .3 .2 .4-.5 .3-3.3 .4 4.6 .3 2.4 .4-.6 .3-3.7 .4-.9 .3 2.1 .4 3 .3-2 .4 4.8 .3-3.8 .4-.2 .3 1.2 .4-.2 .3-2.6 .4-.8 .3 1.4 .4 .2 .3-3 .4 2.8 .3 1.1 .4-4 .3 0 .4 .6 .3 1.2 .4 7.8 .3-13.8 .4 4.9 .3-.3 .4 2.7 .3-8.6 .4 8.5 .3-2.6 .4 1.3 .3 3.7 .4-4.7 .3 3.2 .4-1.2 .3 .1 .4 2.9 .3-5.3 .4 7.5 .3-.8 .4-2.9 .3-6.8 .4 6.8 .3-.4 .4 1.4 .3-4.1 .4 8 .3-2.2 .4-7.4 .3 2.6 .4-5.7 .3 9.5 .4 1.7 .3 4.4 .4-8.2 .3 .4 .4 .1 .3-.7 .4 5.5 .3-5.3 .4-1.6 .3 1.1 .4-8.3 .3 9.7 .4-.3 .3-1.6 .4 3.4 .3-1.2 .4-2.8 .3-3.7 .4 1.4 .3 .8 .4 1.2 .3 1 .4 5.1 .3-6.3 .4 5.4 .3-2.9 .4 2 .3-3.6 .4-8.3 .3 10.9 .4-3.9 .3-1.4 .4 5.4 .3-1.1 .4-3.3 .3 .6 .4 6.8 .3-6.9 .4 2.9 .3-4.7 .4 5.9 .3-6.2 .4 3.7 .3-6.7 .4 6.9 .3 2.7 .4-7.5 .3 3 .4 3.3 .3-1.3 .4-1.8 .3 1.9 .4-1 .3 3.5 .4-4.6 .3 3.2 .4-1.1 .3 .8 .4-2.3 .3 2.2 .4-.3 .3-1.9 .4-6.8 .3 13.9 .4-5.1 .3-3.7 .4 3.8 .3-3.1 .4 1.3 .3 3.4 .4-3.5 .3-1.2 .4 .2 .3-3.5 .4 2.6 .3 .5 .4-1.1 .3-2.6 .4 5 .3-2 .4 3.8 .3 3 .4-6.2 .3 1.9 .4-.4 .3-4.8 .4 1.2 .3 7.2 .4-3.9 .3 2.5 .4-7.5 .3 5.6 .4 2.8 .3 0 .4-12.3 .3 9 .4-.9 .3 2.6 .4-6.7 .3 3.2 .4 4.1 .3-2.7 .4-.1 .3 7.2 .4-8.1 .3-5.2 .4 5.7 .3-2.4 .4-1.6 .3 4.9 .4 5.6 .3-5.6 .4 .4 .3-2 .4 1.5 .3 1.4 .4-1.3 .3 1.8 .4-2.1 .3-2.6 .4 2.7 .3-.5 .4-2.8 .3 3.5 .4 1.8 .3-5.8 .4 3.5 .3 1.3 .4-2.1 .3-1.1 .4 .8 .3 1 .4 .9 .3-.9 .4-4.2 .3 6.4 .4 2.2 .3-8.8 .4 2.3 .3-1 .4 5.7 .3 1.3 .4-10.5 .3 5.1 .4-1.4 .3 2.3 .4 4.8 .3-9.7 .4 2.2 .3 2.7 .4 .2 .3 1.5 .4-2 .3-2.9 .4 2.3 .3 9.3 .4-6.7 .3-5.5 .4 6.1 .3-3.6 .4 3.3 .3-11.1 .4 12.4 .3-6.3 .4 2.6 .3 1.2 .4-1 .3-2.9 .4-.4 .3 1.8 .4-4.3 .3 3.6 .4-1.3 .3 3.2 .4-.7 .3 1.3 .4-1.9 .3-5.4 .4 5.7 .3 2.9 .4-3.5 .3 1.1 .4 2.3 .3-2.3 .4 4.3 .3 .8 .4-5.8 .3 2.8 .4-3.4 .3-1.5 .4 2.9 .3 .9 .4 4.6 .3-8.4 .4 4.5 .3-1.5 .4-3.3 .3 10.8 .4-6.2 .3-4.7 .4 7.7 .3-8.3 .4-.3 .3 3.3 .4 6.3 .3-12.2 .4 11.4 .3-3.9 .4-5.8 .3 5.5 .4-.6 .3 .5 .4 1.3 .3-.5 .4 7.8 .3-12 .4 5.5 .3-3 .4 2.6 .3 1.7 .4 5.1 .3-10.6 .4 1.3 .3 5.8 .4 .1 .3-6.4 .4 6.1 .3-5.9 .4-.3 .3 2.6 .4-2 .3-.2 .4-.4 .3 .3 .4-2.9 .3-2.1 .4 7.1 .3-1.4 .4 .7 .3 1.2 .4-4.3 .3 0 .4 .4 .3 .2 .4 3.1 .3-2.6 .4-.4 .3 1.9 .4-3.3 .3-1.5 .4 5.2 .3 .5 .4-3.1 .3 2.1 .4-7.7 .3 6.3 .4 .9 .3-2.1 .4 .7 .3 1.6 .4-.2 .3-3.5 .4 4.3 .3-6 .4 11.8 .3-9.5 .4 .5 .3-.6 .4 11.3 .3-10.4 .4 2 .3 8.4 .4-3.2 .3-12.2 .4 6.4 .3 .4 .4 .7 .3-2.3 .4-.1 .3-8 .4 2.2 .3 7 .4-5.1 .3 2.5 .4 1.2 .3-4 .4-2.1 .3 12 .4-5.3 .3-2 .4 3.6 .3-10.5 .4 7.2 .3 8.3 .4-2.5 .3-3.3 .4-5.1 .3 3.1 .4-6.3 .3 5.2 .4-5.6 .3 4.1 .4 4.3 .3-5 .4 1.1 .3 7.1 .4-5.3 .3 0 .4-3.6 .3 6.8 .4-1.2 .3-1 .4 .4 .3-4.9 .4 2.4 .3 2.1 .4 5.5 .3-3.5 .4-1.8 .3-.8 .4-9.2 .3 12.9 .4-9.2 .3 1.7 .4 4.7 .3 1.2 .4-.4 .3-2.5 .4-2.5 .3-4.2 .4 9.9 .3 4.8 .4-9.9 .3 5.2 .4-4.1 .3-.7 .4 1.2 .3-9.3 .4 8.8 .3-2.1 .4 3.8 .3-1.5 .4 3.4 .3 .5 .4-5.3 .3-.4 .4 6.9 .3-5.5 .4-4.4 .3-2 .4 15.4 .3-8.8 .4-6.3 .3 5.8 .4-.1 .3-.5 .4 6.4 .3-.2 .4-9.6 .3 .4 .4 2.5 .3 3.4 .4-2.2 .3 .8 .4-1.2 .3-2.8 .4 4.9 .3-12 .4 10.6 .3-3.9 .4 2.2 .3 8.1 .4-7.8 .3-6 .4 5.3 .3 1.4 .4-6.9 .3 3.9 .4-7 .3 9 .4-1 .3 .7 .4-1.5 .3 2.3 .4-3.8 .3 7.2 .4 2.2 .3-6.8 .4-.2 .3 3.6 .4-4.9 .3 3.9 .4-4 .3 3 .4-2.7 .3 1.6 .4 4.5 .3-11.1 .4 8.5 .3-2.4 .4-1 .3-.2 .4-4.4 .3 3.5 .4 2.5 .3-5.2 .4 5.5 .3 5.8 .4 1.8 .3-4.8 .4-1.5 .3-5.3 .4 10.3 .3-10 .4 6 .3 .2 .4-3.1 .3-.6 .4-2.6 .3 2.5 .4-1.5 .3-2.3 .4 .1 .3 6.1 .4 2.5 .3-8.4 .4-6.1 .3 7.8 .4-1.8 .3 .9 .4 3.1 .3-.9 .4 0 .3-1.9 .4 3.5 .3-2.6 .4 .9 .3 .4 .4 4.7 .3-6.3 .4 3.5 .3-2.8 .4 5.5 .3-4.8 .4 .7 .3 3.8 .4-2.6 .3-5.6 .4 1.1 .3 13 .4-17.1 .3 6.4 .4 8.1 .3-16 .4 6.4 .3 .8 .4-2.4 .3 4.6 .4 .8 .3-1.7 .4-2.8 .3 6.8 .4-.1 .3-2 .4-3.8 .3 3.8 .4 .6 .3-1.1 .4 3.9 .3-4 .4 .8 .3-3.9 .4 4.4 .3 1.7 .4-.3 .3-3.3 .4 11.2 .3-7.7 .4-1.9 .3 0 .4 2.8 .3-4.9 .4 3.8 .3 .7 .4-1.3 .3 3.6 .4-3.7 .3 .1 .4-1.2 .3 6.3 .4-5.8 .3 2.5 .4-1.7 .3 6 .4 .7 .3-13.2 .4 16.8 .3-8.5 .4-5.4 .3 5.2 .4-5.8 .3 6.5 .4-2.6 .3 2 .4-.2 .3 2.1 .4 2.2 .3 2.9 .4-6.1 .3 1.6 .4-9.2 .3 8.5 .4 7.3 .3-9.9 .4 7.2 .3-2.4 .4-2.2 .3 3.4 .4-3.4 .3 5.3 .4-8.5 .3 1 .4 5.3 .3-2 .4-2.8 .3 3.1 .4-1.4 .3 1.6 .4 1.4 .3 1.4 .4-8.6 .3 5.9 .4 8.2 .3-9 .4 2.2 .3-6.2 .4 7.6 .3-3 .4 3.3 .3-1.7 .4 1.2 .3-9 .4 6.9 .3-3.8 .4 .7 .3 .4 .4 1.6 .3 .1 .4 4.2 .3-14.2 .4 6.5 .3 1.4 .4 3.3 .3-2.5 .4-.4 .3 1.6 .4-1.1 .3-2.6 .4-3.4 .3 4 .4 3.7 .3-3.5 .4-6.8 .3 5.2 .4-.7 .3 .8 .4-.4 .3 5.3 .4-7.7 .3 0 .4 .6 .3 2.4 .4-3.9 .3-3.2 .4 1.1 .3-5 .4 5.5 .3-11.6 .4-4.9 .3 5 .4-7.4 .3 3 .4-5.3 .3-3.1 .4-8.5 .3 6 .4-12.7 .3 13.5 .4-7.3 .3-9.9 .4-6.2 .3 7.8 .4-8.5 .3-7.9 .4 2.9 .3-5.1 .4-.3 .3-.2 .4 3.6 .3-6 .4-11.1 .3 2.6 .4-1.7 .3 14.2 .4-24.2 .3 7.4 .4 7.9 .3-7.9 .4-.4 .3 5.1 .4-.3 .3 12.3 .4-13.2 .3 6 .4-1.6 .3 11.3 .4-2.9 .3 9.9 .4 1.1 .3 3.3 .4-9.2 .3-9.5 .4 13.7 .3 12 .4-5.7 .3-9.5 .4 10.8 .3 5.7 .4 4.3 .3-6.9 .4 3.4 .3 .2 .4-4.6 .3-3.9 .4 8.4 .3-6 .4 4.1 .3 13.6 .4-11.3 .3 .2 .4 8 .3-9.2 .4 14.3 .3-5.6 .4-6.5 .3 .2 .4-2.7 .3 11 .4-8.6 .3-7.8 .4 17.1 .3-3.6 .4 1.2 .3 1.3 .4-9.4 .3 3.1 .4 6 .3-6.7 .4 7.9 .3 2.6 .4-.3 .3 .2 .4-7.6 .3 5.5 .4 7.7 .3-8.7 .4 5 .3-6.8 .4 13.7 .3-9.2 .4 3 .3 1.2 .4 1.7 .3 4.7 .4-4 .3-2.8 .4-4.2 .3 7.4 .4 7.1 .3-18.1 .4 12.4 .3-5.1 .4 3 .3 .6 .4 .8 .3 9.6 .4-8.6 .3-1.9 .4 2.5 .3-1.6 .4-.2 .3-.1 .4 1 .3-1.4 .4-.3 .3-1.2 .4 3.2 .3-.9 .4 4.7 .3 .4 .4-4.2 .3 1.9 .4 3.9 .3-5.3 .4 1.4 .3-.5 .4 1.4 .3 6.1 .4-10.3 .3 10.9 .4-6.1 .3 1.5 .4-1.5 .3 2.9 .4-4.7 .3 2.8 .4-3.1 .3 1.9 .4 1.2 .3-3.5 .4-3.1 .3 8.1 .4 .3 .3-1.4 .4-2.1 .3 2.3 .4-5.7 .3 5.9 .4-.5 .3 .4 .4-1 .3-1.7 .4 3.8 .3-1.7 .4 2.1 .3-2.5 .4-3.6 .3 4.9 .4 .6 .3 4.2 .4-.9 .3-9.5 .4 7.8 .3-3.6 .4 3.1 .3-2 .4-.3 .3 1.2 .4 .3 .3 1.2 .4-.4 .3 .4 .4-1.8 .3 1.9 .4-2 .3 1.7 .4-.8 .3 .6 .4-9 .3 8.8 .4-2.1 .3 1.5 .4-4.2 .3 6 .4 3 .3-4.8 .4-3.1 .3 4.8 .4-4.3 .3 7.6 .4-7.6 .3 2.8 .4 .8 .3-3.7 .4 2.6 .3-.3 .4 3 .3 7.7 .4-10 .3 3.1 .4-5.5 .3 3.7 .4-.8 .3-1.1 .4 4.2 .3-.9 .4-5.2 .3 2 .4 4.1 .3 6.5 .4-8.5 .3 2.9 .4 5.4 .3-7.3 .4-.8 .3-3 .4 1.4 .3 1.5 .4 4.2 .3-6.3 .4 .7 .3-7.5 .4 9.5 .3-1.6 .4 2.6 .3-4.3 .4 3 .3 .1 .4-1.3 .3-2.4 .4 2 .3 2.4 .4-4.3 .3-2 .4 4.3 .3-1.8 .4 4.4 .3 .3 .4 3.1 .3-2.8 .4-2 .3-3.5 .4 5.3 .3-1.1 .4 .2 .3-.5 .4 1.5 .3-4.1 .4 2.4 .3-1 .4-1.1 .3 0 .4-2 .3 3.1 .4-.7 .3 .3 .4 3.7 .3-2 .4 0 .3 7.9 .4-11.2 .3 2.3 .4-4.4 .3 3.8 .4 6.7 .3-10.6 .4 6.5 .3 1.6 .4-3.3 .3 2.3 .4-2.6 .3-.6 .4 1 .3-2.4 .4 1.2 .3 0 .4 10.6 .3-10.2 .4-1 .3 7.7 .4-8.9 .3 10.5 .4-3.8 .3-2.2 .4-1.3 .3-2 .4-1.5 .3-.1 .4 3.3 .3 .4 .4 5.5 .3-4.6 .4 9.1 .3-7.7 .4-4.7 .3 3.6 .4-3.2 .3-3.6 .4 12.4 .3-6.7 .4-1.4 .3-1.6 .4 5.2 .3-1.1 .4-9 .3 10.7 .4-3.1 .3 3.9 .4-2.1 .3 .3 .4-.4 .3 1.4 .4 8.1 .3-6.7 .4-7.4 .3 5.1 .4-1.9 .3-2 .4 1.7 .3 .6 .4 8.4 .3-4.7 .4 1.5 .3-1.8 .4-2.5 .3 .6 .4 .4 .3-1 .4 1 .3 2.4 .4-6.8 .3 3.4 .4 1.5 .3 1.2 .4-.2 .3 .7 .4-5.5 .3 1.4 .4 1.5 .3-.2 .4 3.3 .3 7.3 .4-7.9 .3-8.1 .4 5.6 .3 3.8 .4 2.5 .3-4.3 .4-1.5 .3 .1 .4 1.7 .3 2.6 .4-4.3 .3-1.5 .4-6.6 .3 5.8 .4 6.4 .3-2.4 .4 8.3 .3-14.1 .4 4.3 .3 3.1 .4-1.3 .3-6.2 .4 4.6 .3 1.4 .4 .4 .3-1.5 .4-2.2 .3 9.4 .4-7.1 .3 1.7 .4-1.3 .3-4.9 .4 2.8 .3-3.4 .4 2.8 .3 .2 .4 1.8 .3-.6 .4 .3 .3 3.4 .4-10.7 .3 4.1 .4 6.5 .3-2.3 .4-.5 .3-1.3 .4 1.8 .3-2.3 .4 5.3 .3-.5 .4-3.8 .3-6.6 .4 11.5 .3-5.1 .4 2.3 .3 2.2 .4-.9 .3 1 .4-3.4 .3 3.1 .4-3.2 .3-1.4 .4 1.5 .3-.9 .4 3 .3 .8 .4-6.1 .3 .4 .4 2.2 .3 .5 .4 6.5 .3-.8 .4 1.5 .3-5.4 .4-.5 .3-2.7 .4 .8 .3-8.3 .4 11.9 .3-4.3 .4-3.2 .3 3.5 .4 .1 .3 2.6 .4-10.6 .3 7.1 .4 6.1 .3-.9 .4-2.4 .3-.5 .4-2.4 .3 5.7 .4-1.7 .3-1.8 .4-3 .3 .7 .4 1.5 .3-.4 .4-4.3 .3 4.9 .4 .2 .3-1.1 .4 .7 .3-.4 .4 .4 .3 1.4 .4-.7 .3-2.4 .4 4.7 .3-2.2 .4-.3 .3 1.6 .4 .4 .3 1.3 .4-.6 .3-1.4 .4 .4 .3-4.5 .4 4.3 .3-3 .4 0 .3-2 .4 3.1 .3-7.7 .4 9.3 .3 .8 .4 .3 .3-5.6 .4 4.4 .3 2 .4-9.7 .3 4.3 .4 .9 .3 1.4 .4-2.6 .3 3 .4-1.2 .3 2 .4-.8 .3 1 .4-3 .3 3.2 .4 .2 .3-.1 .4-6.6 .3 10.9 .4-5.4 .3-2 .4 1.2 .3 .5 .4 0 .3-1.9 .4 .1 .3 .5 .4 2.5 .3-3.1 .4-7.1 .3 5.6 .4-3.1 .3-8.2 .4 17 .3-11 .4 .6 .3-2.2 .4-6.5 .3 10 .4 .4 .3-9.5 .4 1.6 .3-.8 .4-2.7 .3 4.2 .4 1.4 .3 0 .4-.4 .3-10.3 .4 8.3 .3 3.3 .4 2.4 .3-1.1 .4 1.6 .3 4.6 .4-10.3 .3 7.8 .4 1.3 .3 11.9 .4-10.5 .3-3.2 .4 6.4 .3 1.9 .4-3.6 .3 6.1 .4-5.3 .3 3.7 .4-4.2 .3 6.6 .4-6.1 .3 3.9 .4 1.2 .3-4.7 .4-2.6 .3 4.7 .4-.5 .3-.2 .4 2.1 .3-2.4 .4 .1 .3-.1 .4-.3 .3-.4 .4-2.6 .3 1.5 .4-.4 .3-.3 .4 3.9 .3-6.2 .4 1.4 .3 2.3 .4-1.5 .3-.9 .4 1 .3 .6 .4 1 .3 6.3 .4-4.5 .3-3.8 .4-.1 .3-.4 .4-1.6 .3 8 .4-11.7 .3 2.7 .4 3.3 .3-.7 .4-2.3 .3 6.9 .4-6.3 .3 1 .4-5.4 .3 8.5 .4-8.5 .3 3.4 .4 4.5 .3 1.8 .4-1.7 .3-1.8 .4-5.2 .3-5.6 .4 7.1 .3-5.6 .4 12.5 .3-16.9 .4 8.4 .3-1.5 .4-7.5 .3 9.6 .4-5.4 .3 9.5 .4-3.4 .3-2.3 .4 3.8 .3-.9 .4-3.9 .3 4.3 .4 2 .3-5 .4-1.9 .3 5.3 .4 1.3 .3-7.4 .4-4.1 .3 8.5 .4-2.9 .3-3.5 .4 2.3 .3-2 .4 6.4 .3-6.6 .4-1.9 .3-4.6 .4 5.7 .3 11.1 .4-12.9 .3 1.9 .4 8.5 .3-19.1 .4 8.6 .3 4.3 .4-8.2 .3 10.4 .4-2.8 .3-7.2 .4 4 .3-.5 .4 .9 .3-3.2 .4 .4 .3-1.7 .4 .3 .3-1.8 .4 7.9 .3-.8 .4-5.8 .3 2.2 .4-1.8 .3-2 .4 .4 .3 9 .4-9.8 .3 1.4 .4 6 .3-8.9 .4 4.2 .3-8 .4 6.2 .3 .6 .4 .1 .3 5.6 .4-8.2 .3 7.7 .4-12.2 .3 1.6 .4-3.3 .3-3.4 .4 5 .3 1.9 .4 .4 .3-14.1 .4 17.9 .3-9.7 .4 .3 .3 5.1 .4 1.4 .3-3.3 .4-3.6 .3 1 .4 3.9 .3-4.9 .4 4.3 .3-.4 .4-3 .3 5.5 .4-6.1 .3 3.3 .4-1.1 .3-2.4 .4 1.7 .3 .6 .4-.4 .3-5.1 .4 16.9 .3-2.6 .4-17.5 .3 16.1 .4-7 .3-4.6 .4 8.2 .3-3.7 .4 2.5 .3 1.8 .4-3 .3-7.7 .4 11.2 .3-1.6 .4 4.2 .3-7.4 .4 5 .3 2 .4-5.3 .3 .7 .4-.3 .3-9.8 .4 9.4 .3 1.6 .4-3.2 .3 7.8 .4-2.5 .3 1.5 .4-1.8 .3 1.3 .4 3.7 .3-1.9 .4 1.4 .3-.7 .4 1.4 .3 5.1 .4-6.4 .3 2.6 .4 1.8 .3-6.3 .4 13.8 .3-7.5 .4-1.7 .3 4.9 .4 1.3 .3-1.6 .4 5 .3-10 .4 5.9 .3 2.4 .4 3.9 .3-3.8 .4 .3 .3-.8 .4 1.7 .3 .4 .4 5.1 .3-1.2 .4-.7 .3 4 .4-10.7 .3 8.5 .4-2 .3 2.6 .4-3.1 .3 1.6 .4 3.5 .3-10.1 .4 6.1 .3 1.7 .4 3.7 .3-4.9 .4 4.9 .3-4.7 .4 .8 .3 1.9 .4 1 .3 3.1 .4 .2 .3-5.7 .4 4 .3-.8 .4-1.4 .3 3.1 .4 2.4 .3-4.3 .4 5.2 .3-8.5 .4 .9 .3 5.2 .4-3.2 .3 2 .4-.4 .3-3.1 .4 5.4 .3 0 .4-5 .3 1.7 .4 4.5 .3 2.3 .4-.9 .3-3.5 .4-.7 .3 .6 .4-2.3 .3 2.9 .4-2 .3-.8 .4 2.4 .3-4.7 .4 5.5 .3 1.7 .4-.3 .3 7.2 .4-4 .3-3 .4 3.5 .3-4.5 .4 2.9 .3-3.9 .4 1.8 .3 8.5 .4-7.9 .3-.5 .4 2.3 .3-3.4 .4 4.2 .3-11.6 .4 6.9 .3-.7 .4 1 .3 7.8 .4-14 .3 6.8 .4 1.9 .3 1 .4 .8 .3-2.8 .4-1.4 .3 5.5 .4-6.9 .3-1.7 .4 3.5 .3 2.1 .4 5.8 .3-4.1 .4-1.2 .3-.2 .4 1.3 .3-.5 .4-1.8 .3-3.3 .4 2.1 .3 4.7 .4-1.3 .3 1.6 .4-8.8 .3 10.8 .4-5 .3 5.9 .4-4.5 .3-.2 .4 2.4 .3-1.8 .4 .4 .3-4.1 .4 3.7 .3-1.5 .4-4 .3 1.5 .4 3.5 .3-1.6 .4 3.8 .3-5.7 .4-5.6 .3 18.8 .4-10.6 .3 1.4 .4-2.3 .3 0 .4 1.8 .3 2.9 .4-9 .3 9.8 .4 6.4 .3-9 .4-1.1 .3-1.1 .4-.6 .3 1.5 .4 4.4 .3-12.5 .4 11.6 .3-1.1 .4-9.6 .3 3.4 .4 6.9 .3-.5 .4-2.3 .3 4.6 .4-5.6 .3 1.9 .4-3.4 .3 4.8 .4-5.4 .3 1.9 .4 4.7 .3-1.9 .4 1 .3 .7 .4-1 .3-3 .4 3.8 .3-5.2 .4 2.3 .3 1.3 .4-3.5 .3-.2 .4 5.1 .3 .8 .4-2.5 .3 .2 .4-1.7 .3 2.5 .4 .4 .3 4.8 .4-11.8 .3 11 .4 4.8 .3-10.1 .4 2.5 .3 1.2 .4-1.8 .3-2.3 .4 2.2 .3 2.9 .4-7.6 .3 3.9 .4-8 .3 11.2 .4-.9 .3-8.3 .4 7.9 .3-.4 .4-4.9 .3 3.8 .4 1.1 .3-2.3 .4 1.1 .3 7.9 .4-7.1 .3-.8 .4-5.3 .3 1.6 .4 6.9 .3-1.4 .4 1.1 .3-2.4 .4 0 .3-.3 .4 1.5 .3-2.7 .4 1.1 .3-.2 .4 1.2 .3-3.2 .4-5.6 .3 3.3 .4 1.8 .3 6 .4-1.8 .3 .3 .4-2.1 .3-3.8 .4 3.9 .3 3.6 .4-3.4 .3 .8 .4-1.6 .3-2.4 .4 3.9 .3-.8 .4-.9 .3-.8 .4 3 .3-2.5 .4 1.6 .3-2.1 .4 3.5 .3-2.6 .4 .7 .3 5.1 .4-3.6 .3 .2 .4-2.7 .3 4 .4-3.7 .3 9.9 .4-5.1 .3-3.2 .4 1.9 .3-2.7 .4 1.4 .3-5.3 .4 12.9 .3-6.9 .4-5.7 .3 1.4 .4 2.3 .3 1.5 .4-5.1 .3 9.7 .4-7.6 .3 10.2 .4-7.4 .3-2 .4-.8 .3-3.5 .4-.2 .3 5.3 .4 1.2 .3 2.4 .4-5.3 .3 6.2 .4-6.8 .3 6.9 .4-.8 .3-7.9 .4 6.4 .3-2 .4-.1 .3 1.6 .4-2.8 .3-.2 .4-.9 .3 4.2 .4 .8 .3-7.4 .4 5 .3-3.8 .4-1.2 .3 0 .4 2.7 .3-2.2 .4-.6 .3-2.6 .4 2.9 .3 3 .4-10.9 .3 8.1 .4 .4 .3-7.2 .4 4.5 .3 5.6 .4 4.8 .3-6.7 .4-6.7 .3 4.7 .4-2.7 .3-3.1 .4 2.5 .3 4.9 .4-1.7 .3-5 .4-5.5 .3 10 .4 5 .3-10.3 .4-2.7 .3 2.1 .4 .8 .3-1.9 .4-1.3 .3-1.4 .4 .2 .3-5.5 .4 4.3 .3 8.4 .4-17.6 .3 11.6 .4 .3 .3-3.6 .4 .7 .3-3.6 .4 3.1 .3-.1 .4-.3 .3-2.5 .4 8 .3-5.1 .4-4.1 .3 .4 .4-3.8 .3 8 .4-6.3 .3 3.3 .4-7.1 .3 11.6 .4-15.8 .3 4.6 .4-5.5 .3 1.3 .4 5 .3-9.2 .4 5.1 .3-2.5 .4 6.6 .3-10 .4 4.3 .3 5 .4-2.7 .3 0 .4 9.6 .3-21.3 .4 11.1 .3 .9 .4 0 .3-.4 .4-8 .3 .6 .4 8.3 .3-1.7 .4-2.8 .3-9.2 .4 11.6 .3-5.5 .4 7.7 .3-3.3 .4 4.4 .3-8.2 .4 5.3 .3-4.9 .4 7.8 .3-2.1 .4-2.6 .3 10.7 .4-6.6 .3-2.5 .4 5.3 .3-4.6 .4 7.8 .3-8.3 .4 12.6 .3-17.1 .4 8.6 .3-3.4 .4 1.3 .3 1.7 .4-8.2 .3 5.1 .4-2.2 .3 7 .4-4.3 .3 2.6 .4-1.1 .3-.8 .4 8.7 .3-6 .4 1.2 .3 .6 .4 1.7 .3-4.9 .4-3.5 .3 5.6 .4-2.9 .3-6.2 .4 15.2 .3-4.5 .4-1.3 .3-3.2 .4 6.2 .3-1.9 .4-3.2 .3 13.2 .4-2.9 .3-1.1 .4-2.4 .3-2.8 .4-1.6 .3 2.7 .4-4.4 .3 4.4 .4-6.6 .3-4.3 .4 12.1 .3-2.6 .4 2.7 .3 1.1 .4 1 .3-2.4 .4 2.8 .3-2.2 .4 4.6 .3-.9 .4-11.5 .3 5.4 .4 1.2 .3-1.1 .4-.9 .3 7.1 .4-12.4 .3 5.8 .4 5.1 .3-4.2 .4 .5 .3 9.8 .4-5.6 .3-2.3 .4-3.2 .3 2 .4 11.2 .3-6.7 .4-7.9 .3 7.2 .4-2.2 .3 2.5 .4-3 .3-2.1 .4-5.2 .3 7.7 .4 5.1 .3 .8 .4-2.8 .3 .7 .4-4.4 .3 1.7 .4 5.6 .3 5.4 .4-10 .3 2.6 .4 3.5 .3 4.3 .4-11.2 .3 2.6 .4-1.6 .3 .6 .4 0 .3-1.3 .4-7.3 .3 11.2 .4-.6 .3 1.8 .4-6.3 .3 1.3 .4 2.7 .3 5.2 .4-5.8 .3-2.2 .4 3.1 .3 6.3 .4-3 .3 .8 .4-4.9 .3-1.2 .4 5.6 .3-1.3 .4 1.1 .3-4 .4-.7 .3-.5 .4 5.8 .3 1.4 .4-5.8 .3 4.7 .4-4.4 .3 .5 .4 .7 .3-2.5 .4 .6 .3 0 .4 0 .3 2 .4-4.4 .3 6.7 .4-5.1 .3 2.6 .4 1.3 .3-4.3 .4 3 .3 1 .4 0 .3 3.9 .4-1.8 .3-6.1 .4 6.9 .3-2.6 .4 1 .3-4.3 .4 3 .3 1.6 .4 1.2 .3 .2 .4-4.8 .3 5.3 .4-2.5 .3 .8 .4 2.2 .3-3.8 .4 5.6 .3-1 .4-1.2 .3-3.3 .4 1 .3-3 .4 5 .3 2.2 .4-7.1 .3 4.9 .4-.4 .3-8.3 .4 12 .3-4.9 .4-1.4 .3-5.8 .4 9.8 .3-3.2 .4 1.3 .3-2.6 .4 3.3 .3-1.2 .4 3.3 .3-1.4 .4 .6 .3-3.3 .4-3.6 .3 9.4 .4 1.8 .3-4.5 .4 4.1 .3-3.4 .4-.7 .3-1 .4-.4 .3 1 .4-2 .3 1.8 .4 .5 .3-7.3 .4 6.8 .3-.7 .4 2.3 .3 1.9 .4-1.8 .3 .4 .4-.3 .3-2.4 .4 1.1 .3 3.9 .4 2.9 .3-8.5 .4-6.6 .3 16.1 .4-3.3 .3-2.7 .4 2.1 .3-2.1 .4 3.9 .3-6.2 .4 1.6 .3 1.4 .4-3.2 .3 3.7 .4-3.2 .3 3.2 .4 1 .3-2.8 .4 9.6 .3-8.4 .4 1.1 .3-10.2 .4 4.4 .3 5.3 .4 4.3 .3-4.9 .4 3.7 .3-10.1 .4 9.6 .3-.4 .4-2.9 .3-1.2 .4 1.8 .3-3.3 .4 2.9 .3 .2 .4-1.1 .3-1.9 .4-7.6 .3 6.8 .4 5.3 .3-5.2 .4-2.7 .3 3.1 .4 1.9 .3 .4 .4 3.1 .3-.4 .4 4 .3-3.5 .4-4.2 .3-3 .4 9.6 .3-8.5 .4 2.8 .3-2.5 .4 4.3 .3-5.1 .4 2 .3-1.8 .4 5.5 .3-2.7 .4 0 .3-2 .4-1.6 .3 6 .4-1.3 .3-.4 .4 7.7 .3-9.1 .4-3.1 .3 3.3 .4-2.2 .3 1.5 .4-.3 .3 .5 .4 4.6 .3-2.4 .4-3.2 .3 3.2 .4 .7 .3-1.4 .4-1.8 .3 3.9 .4-4.4 .3-4.1 .4 2.5 .3 2.6 .4-1.8 .3 .2 .4-.2 .3-2 .4-2 .3-1.7 .4 7.3 .3-2.4 .4 .9 .3 5.7 .4-4.7 .3 1.8 .4-.7 .3 4.4 .4-11.9 .3 4.7 .4 6.9 .3-6.5 .4 6.3 .3-8.8 .4-3.1 .3 9.9 .4-4.8 .3 .6 .4 5.5 .3-7.8 .4 9.6 .3-8.1 .4-1.3 .3-.2 .4 2.2 .3-.3 .4 4.1 .3-10.2 .4-.4 .3 3.4 .4 3.8 .3 1.6 .4-2.4 .3 .8 .4 .2 .3-9.7 .4 6.9 .3 11.5 .4-10.7 .3 7.2 .4-6.1 .3-2.2 .4-7.4 .3 7.4 .4 1 .3 .9 .4 .1 .3 .6 .4-.4 .3-7.3 .4 5.8 .3 8.7 .4-14.9 .3 9.7 .4-1.8 .3 1.6 .4-2.5 .3 .3 .4 1 .3 4.6 .4-5.7 .3-3.6 .4-2.2 .3 11 .4-5.1 .3-2.6 .4 4.5 .3 2.7 .4-2.5 .3-3.8 .4 2.7 .3-1 .4-7.4 .3 16.4 .4-7.3 .3-3.3 .4 7.6 .3 5.6 .4-6.7 .3-4.5 .4-.7 .3 2.8 .4 .5 .3 3.3 .4 3.6 .3-2.6 .4-5.5 .3 1.6 .4-4.2 .3 3.9 .4-5.2 .3 1.2 .4 .4 .3 2.5 .4 .1 .3 2.8 .4-6.4 .3 1.1 .4 5.1 .3 .2 .4 .3 .3 .2 .4-.4 .3-.7 .4 1.5 .3-6.5 .4 2.6 .3 4.1 .4-4.2 .3 2.7 .4-1.8 .3 1.4 .4 3.3 .3-1.8 .4-1.3 .3-1.2 .4 4.1 .3-1.5 .4-1.3 .3 4 .4-2.3 .3 7.4 .4-7.5 .3 3.2 .4-4 .3 1.2 .4 1.6 .3-7.5 .4 4.4 .3 .8 .4-6.3 .3 8 .4-.8 .3 3.9 .4-6.2 .3 .7 .4 4.7 .3-5.1 .4 3.5 .3-3.4 .4-.5 .3-.5 .4-.7 .3 1.8 .4-2.5 .3 5.8 .4 5 .3-12.1 .4-1.5 .3-3.5 .4 14.6 .3-10.3 .4 6.2 .3-2.5 .4-1.1 .3 .6 .4 3.1 .3-10 .4 12.2 .3-3 .4-2.4 .3-.3 .4 3.3 .3-.2 .4-2 .3 .2 .4 .9 .3 4.7 .4-4.3 .3 2.8 .4-2.1 .3-.6 .4-.4 .3 1.3 .4-1.2 .3 1.6 .4-4.2 .3 1.5 .4 4.8 .3-4.3 .4 3.7 .3 2.5 .4-5.1 .3-4.6 .4 6.1 .3-.8 .4-2.5 .3 4.8 .4-3.5 .3-5.6 .4 .4 .3 3.2 .4 2.8 .3 2 .4-7 .3-3.9 .4 9 .3-1.3 .4 .2 .3 3.1 .4 2.1 .3 2.4 .4-5 .3-11.6 .4 6.2 .3 3.7 .4 5.9 .3-11.2 .4 4.9 .3-.7 .4 .1 .3-1.1 .4 0 .3-.3 .4-2.2 .3 4.5 .4-.6 .3 1.8 .4-.6 .3 5.4 .4-7.3 .3 4.9 .4-4.6 .3 1.8 .4 1.4 .3-3.1 .4 .3 .3 1.2 .4-4.9 .3 4.2 .4-4.6 .3 2.4 .4 2.9 .3 6.9 .4 1.8 .3-11.2 .4-1.6 .3 3.4 .4-.4 .3-.4 .4 2.8 .3-.6 .4-1.1 .3 .4 .4-.2 .3 .7 .4 4 .3 .8 .4 2.6 .3-5.1 .4-7.6 .3 3.9 .4 2.5 .3-3.6 .4 2.1 .3-6.6 .4 3.5 .3 1.9 .4-4.7 .3 4.9 .4-1.7 .3 5.6 .4-4.7 .3 .5 .4 3.3 .3-2.2 .4-6.5 .3 4 .4 2.9 .3-3.1 .4 .6 .3 2.7 .4-.8 .3-1.6 .4 2 .3 .6 .4-7.7 .3 5.2 .4 .4 .3 5.1 .4-9.9 .3 5.2 .4-1.5 .3 3.9 .4 1.3 .3-8.4 .4 9.3 .3-2.1 .4-3.6 .3 7.1 .4-6.2 .3 3.8 .4-7.4 .3 4.9 .4 .3 .3 4.3 .4-1.2 .3-2.7 .4-6.4 .3 5.8 .4-.4 .3 10.3 .4-8.2 .3-1.7 .4-.3 .3 3 .4-6.5 .3 7.2 .4-1.6 .3-1.4 .4 1.9 .3-2.1 .4-2.7 .3 2.9 .4-5.6 .3 1.5 .4 4.4 .3 3.2 .4-5.2 .3 2.5 .4 8.5 .3-5.6 .4 1.5 .3-3.1 .4-.6 .3 0 .4 .2 .3-.8 .4-.6 .3-1.1 .4-3.4 .3 4.6 .4 3 .3-1.8 .4-3.2 .3 5.7 .4-9.3 .3 12 .4-4.3 .3-.6 .4-.8 .3 3.4 .4-12.2 .3 .3 .4 9.3 .3-1.4 .4 .8 .3 .8 .4-6.6 .3 15.6 .4-7.9 .3-5.4 .4 6.1 .3-1.5 .4 1.1 .3 .5 .4 7.7 .3-13.2 .4 13.3 .3-9.5 .4-2.3 .3 1.7 .4 0 .3 5 .4-4 .3-5.4 .4 6.9 .3-1.5 .4 2.7 .3-8.9 .4 9.8 .3 .7 .4-13.5 .3 9.3 .4-3.6 .3 4 .4-4.8 .3 8.6 .4-6.6 .3 3.8 .4-.1 .3-2.1 .4-1 .3 7 .4-11.4 .3 4.9 .4 .7 .3 1.6 .4-1.2 .3-3.2 .4 4.4 .3 1.2 .4-.1 .3-1.4 .4-1.3 .3-8 .4 9.6 .3 .6 .4-1.1 .3 7 .4-9 .3 5 .4-1.1 .3 2.8 .4 .8 .3-7 .4 6.9 .3-5.4 .4 1.7 .3 5.1 .4-5.6 .3-.1 .4-5.6 .3 5.7 .4-2.4 .3 1.2 .4 0 .3 8.5 .4-6.9 .3 .8 .4-4.4 .3 1.5 .4 5.1 .3-7.5 .4 10.1 .3-6.7 .4-.2 .3 .7 .4-.3 .3 .1 .4-.2 .3 1.8 .4-2.9 .3-1.3 .4 2.5 .3-4.2 .4 4.4 .3 .2 .4 2.3 .3-6.2 .4 3.4 .3 2.8 .4-3.2 .3 4 .4-1.4 .3-8 .4 5.9 .3 2.7 .4-1.9 .3 1 .4 8.3 .3-8.2 .4-.9 .3 2.9 .4-3.5 .3-8.9 .4 7.7 .3 2.2 .4 5.5 .3-5.4 .4-2.1 .3 10.9 .4-9.9 .3-1.5 .4 2.4 .3-1.3 .4-2.9 .3 5.4 .4-.2 .3 6.4 .4-11 .3 7.9 .4-2.1 .3-4.2 .4 1.7 .3 1 .4-2 .3-2.9 .4 7.1 .3-5.9 .4 2.9 .3-.3 .4 4.7 .3-4 .4-.7 .3 8.5 .4-9 .3 2.6 .4-3.6 .3 3.9 .4 0 .3 .9 .4-2.8 .3-2.1 .4 3 .3 3.7 .4-5.8 .3-7.2 .4 5.9 .3 7.9 .4-14.6 .3 3.5 .4 1.6 .3 8.3 .4-4.7 .3 2 .4 .1 .3-1.7 .4 2 .3-1.8 .4 .4 .3-1.5 .4-8 .3 9.9 .4-2.2 .3 .1 .4 5.3 .3-4.6 .4-3.3 .3 5 .4-.6 .3-5.9 .4 4.8 .3 1.6 .4-2.2 .3 10.9 .4-6.9 .3-2.4 .4 4.7 .3-11.7 .4 4.9 .3 6.8 .4-4.6 .3-2.9 .4 3.3 .3 1.2 .4-1 .3-6.9 .4-.5 .3 6.3 .4-8.5 .3 4.4 .4 5.6 .3-1.2 .4-4.3 .3 8.3 .4-4.5 .3 4.7 .4-3.2 .3 .1 .4-1.2 .3 1.6 .4-3 .3 .2 .4 5.4 .3-6 .4 1.7 .3 2.4 .4-2.8 .3 .3 .4 5.3 .3-6.8 .4 .4 .3 5.8 .4-5.4 .3 .5 .4 4.9 .3-5 .4 10.5 .3-6.6 .4 .4 .3-5.2 .4-.1 .3 4.1 .4 .9 .3-4.9 .4-.2 .3 .5 .4-1.5 .3 2.9 .4 .5 .3 .8 .4-6.6 .3 3.3 .4-1.3 .3 2.2 .4-.9 .3 8 .4-6.2 .3-2.6 .4 4.5 .3 6.6 .4-5.3 .3-1.4 .4-1.7 .3 .2 .4-.8 .3 3.9 .4-.1 .3-2.5 .4 3.5 .3-2.4 .4 .2 .3-2.8 .4-.3 .3-.1 .4 6.6 .3-2.1 .4 1.8 .3-1.5 .4-.2 .3-2.9 .4 2.4 .3-4.9 .4 3.9 .3-7.4 .4 13.5 .3-3.3 .4-6.7 .3 5 .4 .7 .3-9.2 .4 6.8 .3-.8 .4 1.2 .3 3.2 .4-2.3 .3-3.9 .4 2.6 .3 .1 .4-9.6 .3 5.7 .4 2.7 .3-1.9 .4 .8 .3 3.1 .4 5.6 .3-7 .4 1.2 .3 1 .4-.8 .3-.1 .4-10.3 .3 12.8 .4-6.4 .3 .3 .4 2.7 .3 .4 .4 1.4 .3-3.3 .4 7.3 .3-5.1 .4 2.3 .3-3.2 .4-4.9 .3-4.2 .4 10.1 .3-1.2 .4 .1 .3-.8 .4-1.6 .3 2.6 .4-1.7 .3 5.9 .4-6.8 .3 9.9 .4-3.8 .3-4.1 .4 2.8 .3-1.6 .4-.6 .3 2.7 .4 .3 .3-5.2 .4 6.7 .3-11.5 .4-2.1 .3 9.2 .4-1.2 .3 .8 .4 .4 .3-.1 .4 4.6 .3 .4 .4-5.8 .3-.4 .4 2.4 .3-3.4 .4 1.8 .3 2.1 .4-10.7 .3 11.3 .4-.4 .3-2.3 .4-1.2 .3 2.1 .4-1.6 .3 4.1 .4-2.2 .3-1.8 .4 3.8 .3-1.9 .4-4.1 .3 3 .4 .4 .3 5.9 .4-7 .3 .9 .4 8.4 .3-8.5 .4 3.2 .3-7.1 .4 3.7 .3-2 .4 6.5 .3-3.6 .4-2.4 .3-2.3 .4 4 .3-3.9 .4 4.3 .3 1.7 .4-2.9 .3-1.6 .4 2 .3-2 .4 5.9 .3-7.3 .4 6 .3-2.8 .4 2.7 .3 .4 .4-5.4 .3 5.3 .4 3.9 .3-5.4 .4 .5 .3-2 .4-1.6 .3 4.5 .4 .9 .3-5 .4-1.6 .3 3 .4 1.7 .3-1.6 .4 7.7 .3-4.6 .4 2.4 .3-4.1 .4 1.3 .3 4.2 .4-13 .3 7.4 .4-3 .3 4.9 .4-4.3 .3 3.7 .4-2.8 .3 2 .4 .2 .3 3.3 .4-.9 .3-3.9 .4 1.6 .3-3.9 .4-1.6 .3 5.7 .4 3 .3-2.6 .4-1.7 .3 .7 .4 .8 .3-1.2 .4-1.2 .3 4 .4-4 .3 5.1 .4-1.9 .3-.1 .4 .6 .3 6.3 .4 0 .3-9.2 .4-.7 .3 2.3 .4 5.6 .3-6.4 .4-8.6 .3 1.1 .4 6.5 .3 2.4 .4 1.7 .3-4.7 .4 .9 .3 0 .4-4.5 .3-4.9 .4 9.4 .3-.1 .4 3.4 .3-6.1 .4 5.9 .3-4.8 .4 1.8 .3 1.2 .4-4.6 .3 9 .4 .7 .3 .9 .4-16.7 .3 10.2 .4 .2 .3 2.6 .4-6.1 .3-1.3 .4 6.2 .3-4.2 .4-3.6 .3 .9 .4 5.3 .3-.7 .4 1.6 .3 .7 .4-11.8 .3 14.5 .4-1.5 .3 1.5 .4-3.2 .3-2.7 .4-1.2 .3 6.4 .4-5 .3 .4 .4 1.4 .3-.1 .4 0 .3-.5 .4-.7 .3 2 .4-2.7 .3-1 .4 6.1 .3-1.4 .4-1.6 .3-4.3 .4-3.4 .3 11.1 .4 .8 .3-7.3 .4 2.4 .3-9.4 .4 8 .3 2 .4-2.2 .3 3.3 .4 2.1 .3-8 .4 4.6 .3-1.9 .4-2.1 .3 1.9 .4 .8 .3 4.2 .4-2.1 .3-11.3 .4 3.6 .3 14.9 .4-8.9 .3 .3 .4-1.5 .3 3.7 .4-2.5 .3 .2 .4-2.4 .3 4 .4-4.4 .3-1.1 .4 3.9 .3 2.3 .4-4.3 .3 .1 .4-1.8 .3 3.7 .4 1.5 .3-5.7 .4 3.8 .3 0 .4-4.2 .3 4.2 .4-1.8 .3-.8 .4 11.7 .3-13.8 .4 3.5 .3 1.7 .4-1.3 .3-8.2 .4 12.2 .3-5.4 .4 1.4 .3 5 .4 2.9 .3-2.7 .4-5.2 .3 2.3 .4 1.3 .3-5.5 .4 9.7 .3-11.5 .4 5.2 .3-2.9 .4-.3 .3-1.2 .4 9 .3-9.2 .4 8.1 .3-7.4 .4 1.8 .3-1.2 .4 11.5 .3-13.7 .4 7.8 .3-4.7 .4 7.5 .3-4.4 .4-3.5 .3 1.7 .4-3 .3 2.4 .4-7.2 .3 8.9 .4-.7 .3-2.2 .4-7.8 .3 14.8 .4-9.2 .3 2.4 .4-6.8 .3 7.1 .4 0 .3 .7 .4-1.4 .3-.8 .4 4 .3-3.9 .4 .3 .3 1 .4-1.7 .3 3.1 .4-6.5 .3 3.5 .4 .5 .3-1.4 .4 4.7 .3-4.1 .4 .3 .3 .2 .4 2.9 .3-5.2 .4 4.9 .3 3.1 .4-7.9 .3-1.4 .4 5.1 .3-3.7 .4-1 .3-3.1 .4 5.6 .3 4.8 .4-1.8 .3-3.6 .4-1 .3 8.6 .4-7.4 .3 5.4 .4-5.5 .3 0 .4-.1 .3-5.3 .4 1.8 .3-3.8 .4 10.9 .3 4.1 .4-9.2 .3-3.9 .4-.8 .3 3.5 .4-.5 .3-2 .4-2.3 .3 5.7 .4 1.3 .3-8.2 .4 4.3 .3-.1 .4 1.5 .3 .4 .4-1.3 .3 4.1 .4-4.4 .3-.8 .4 3.4 .3 1 .4 .6 .3-6.9 .4 .3 .3 2.3 .4 7.7 .3-6.9 .4-.1 .3-2 .4 10.9 .3-12.7 .4 3.1 .3 .8 .4 1.4 .3 0 .4-3.5 .3-1.1 .4 10.6 .3-8.6 .4-2 .3-2 .4 6.1 .3 .7 .4-2.9 .3-1.2 .4 1.8 .3 7.9 .4-8.5 .3 1.9 .4 1.6 .3-2 .4-2.1 .3-2.8 .4 4.3 .3 1.6 .4 4.2 .3-10.5 .4-.8 .3 5 .4 2.1 .3-8.2 .4 6 .3-2.5 .4 11.6 .3-10.7 .4-4.1 .3 7.3 .4-3.7 .3 1 .4-3.2 .3 2.5 .4-2.5 .3 1.9 .4 2.3 .3-1.9 .4 2.6 .3 3.4 .4-4 .3-8.4 .4 14.9 .3-9.5 .4 1.6 .3 1.2 .4 .6 .3-1.8 .4 .7 .3 1.2 .4-1 .3-1.3 .4 1 .3-.1 .4-.7 .3 2.1 .4-.6 .3-.5 .4 2 .3 1.2 .4-1.6 .3-2 .4 6.7 .3-9.9 .4 6.9 .3-3 .4-.2 .3 3.9 .4-2.2 .3 7.1 .4-4.2 .3-7.7 .4 4 .3 2.1 .4-7 .3 5.2 .4 9.4 .3-11.6 .4-1.9 .3 2.5 .4 .5 .3-.5 .4 1.2 .3 3.4 .4-2.9 .3 .5 .4-4.6 .3-1.4 .4 11.9 .3-7.3 .4 7.1 .3-7.1 .4 2 .3 .2 .4-5.6 .3-.6 .4 4.9 .3-3.3 .4 2.3 .3-1.1 .4 1.3 .3 1.1 .4-1 .3 .2 .4 1.1 .3 1.3 .4-7.8 .3 16.1 .4-9.8 .3 5.4 .4-14.4 .3 3.7 .4 1.5 .3 9 .4-5.1 .3 3.7 .4-1.8 .3-6 .4 3.9 .3-.2 .4 .8 .3 2.2 .4-6.6 .3 9.9 .4-5.2 .3-.7 .4 2.2 .3-2.9 .4 3.1 .3-1.9 .4 .4 .3-2.5 .4 .3 .3 5.8 .4-2.9 .3-.9 .4 2.6 .3 2.6 .4-7.7 .3 12.5 .4-18.9 .3 10.2 .4-2.4 .3-.1 .4 1.9 .3 .6 .4-.9 .3 1.9 .4 4.7 .3-9.1 .4 1 .3 2.6 .4-1.1 .3-.7 .4 1.3 .3 1.3 .4 3.3 .3 1.1 .4-2.9 .3-3.7 .4 4.9 .3-2.4 .4-4.2 .3 9.1 .4-8.2 .3 3.2 .4 .1 .3 3.2 .4-3.4 .3 8 .4-14.7 .3-1.2 .4 4.4 .3 3 .4-.8 .3-4.4 .4 2.5 .3 2.9 .4-1 .3 2.6 .4-2.2 .3 4 .4-1.8 .3-1.9 .4-.9 .3-1.3 .4 .8 .3 .6 .4 .1 .3-1.9 .4 2.7 .3-3.9 .4 7.6 .3-3.2 .4-4.7 .3 3.3 .4-.6 .3-1.3 .4 3 .3-2.5 .4-.5 .3 4.6 .4-1.7 .3 1.5 .4-1.2 .3 .2 .4-1.3 .3 .9 .4 .4 .3-.9 .4 3.8 .3-4.6 .4-.3 .3 1.2 .4 3.3 .3 .9 .4-2.7 .3-1.2 .4 1.8 .3 1.9 .4-4.7 .3 3.1 .4 .3 .3-2 .4-2.6 .3 3.9 .4-2.9 .3 1.5 .4 1.1 .3 6.7 .4-10.1 .3-1.8 .4 5.3 .3 5.6 .4-12.1 .3 7.3 .4-8.6 .3 8 .4-4 .3 4.8 .4-1.8 .3 1.9 .4-2.7 .3-3.3 .4 2.4 .3 1.1 .4-1.3 .3 .5 .4 2.7 .3-.5 .4 3.1 .3-2.7 .4 .2 .3 1.3 .4 1.8 .3-2.7 .4-7.4 .3 6.7 .4-7 .3 7.9 .4-6 .3 5.7 .4-3.4 .3 6.5 .4-7.7 .3 5.5 .4 .3 .3-2.9 .4 2.2 .3-1.7 .4-.6 .3 .1 .4-7.4 .3 10.3 .4-6.2 .3 2.6 .4-2.1 .3 7.1 .4-2.3 .3-.3 .4 .7 .3 2 .4-1.7 .3-.7 .4-1.2 .3 1.3 .4 9.2 .3-8.8 .4-.5 .3 4 .4-9.7 .3 .4 .4 7.7 .3 3.4 .4-11.6 .3-2 .4-1.3 .3 9.8 .4-3.8 .3 3.7 .4 .7 .3-10.1 .4 12.7 .3-5.3 .4 2.1 .3-1.2 .4-.1 .3 .4 .4-8.6 .3 8.8 .4-1.2 .3 .8 .4-2.1 .3 1.9 .4 2.4 .3 7.7 .4-11.4 .3 5.9 .4-2.8 .3-4.8 .4-5.1 .3 13.1 .4-5.8 .3-2.1 .4 5.1 .3 .4 .4 2.7 .3-4.1 .4-1.2 .3 .1 .4-1.2 .3 3.2 .4 4.8 .3-10.3 .4 4 .3-.2 .4-3.9 .3 5.3 .4 8.3 .3-10.4 .4 3.2 .3 2.6 .4-5.8 .3 6.4 .4-3 .3-.9 .4-3.4 .3 1 .4-2.7 .3 8.3 .4-1.6 .3-7.1 .4 4.8 .3-2.4 .4 4.2 .3-1.6 .4 5.4 .3-4.2 .4-5.8 .3 3.4 .4 1.2 .3 4.1 .4-5.3 .3-1.8 .4 1.1 .3-.4 .4-1.2 .3 2.1 .4-.9 .3 1.9 .4 4 .3 2.2 .4-9.3 .3 3.4 .4 .7 .3-4.2 .4 3.3 .3-2.6 .4 1.6 .3-.3 .4 3.7 .3-4.6 .4 2.2 .3 .3 .4-1.6 .3 6.2 .4-6.2 .3-.1 .4 2.4 .3-1.3 .4 1.6 .3-4.7 .4-.1 .3 4.9 .4-2.4 .3 3.9 .4-5.2 .3 0 .4 5.3 .3-4.2 .4-3.2 .3 1.8 .4 4.2 .3-3.7 .4 2 .3 2.5 .4-2.2 .3 1.2 .4 6.2 .3-9.5 .4 5 .3-3.4 .4-2.6 .3-1.2 .4 2.4 .3-2.3 .4 5.4 .3-1.7 .4-6.7 .3 10.1 .4-3.2 .3-.9 .4-3 .3 3.1 .4 4.9 .3-4.3 .4-.7 .3 .8 .4-.3 .3 .4 .4-3.2 .3-.8 .4-6.1 .3 12.1 .4-12.2 .3 7.6 .4 2.2 .3-.5 .4 4.2 .3-6.5 .4-1.7 .3 .9 .4 3 .3-1.5 .4 1.2 .3 1.4 .4-2.4 .3 2.2 .4-9.6 .3 8.8 .4 4.1 .3 .9 .4-5 .3 8.5 .4-10.9 .3 .6 .4 1 .3 .3 .4 2.6 .3-3 .4-5.9 .3 7.5 .4-3.5 .3 5.9 .4-6.1 .3 .9 .4-2.1 .3 2 .4 1.9 .3-2.2 .4-4.6 .3 6.6 .4 1.2 .3-5.8 .4 3.6 .3-4.9 .4-3.7 .3 8.2 .4-.8 .3 5.2 .4-13.2 .3 10.3 .4 .7 .3-2.2 .4 .5 .3-1.9 .4 0 .3-4.2 .4 10.4 .3-12.1 .4 4.1 .3 5 .4-1.9 .3 .3 .4-1.5 .3-1.7 .4 5.4 .3-6.2 .4 2.3 .3 3.2 .4-3.3 .3 7.6 .4-9.1 .3 2.9 .4 0 .3-.2 .4 2.1 .3-8.6 .4 6.6 .3 2 .4-8.5 .3 6.3 .4-.7 .3-.3 .4 .6 .3 .4 .4 .4 .3 2.7 .4-3.6 .3 8.3 .4-8.9 .3-3.1 .4-2.1 .3-2.4 .4 3.2 .3-2.7 .4 4.8 .3-.4 .4-1.1 .3-1.9 .4 0 .3-2.1 .4 6.5 .3-15.6 .4 8.1 .3 1.3 .4-4 .3 6.1 .4-4.2 .3-1.3 .4-5.7 .3 3.9 .4 1.9 .3-2.8 .4-5.9 .3 7.3 .4-2.5 .3 4.6 .4-2.6 .3-.2 .4 2.3 .3-2.3 .4-4.9 .3 1.2 .4-3.1 .3-1.3 .4-.5 .3-2.5 .4 1.9 .3-.7 .4 3.4 .3-3.9 .4-5.8 .3 6.8 .4-2.7 .3 4.3 .4-4.3 .3 3 .4-3.8 .3 3.4 .4 4.5 .3-5.7 .4 2 .3-.4 .4-5.6 .3-3.6 .4 14.3 .3-4.6 .4 3.1 .3-1.6 .4 4.6 .3-6.1 .4 3.3 .3 .9 .4 2.9 .3-11 .4 8.2 .3 1.3 .4 1.2 .3-4 .4 4.6 .3 1.6 .4 .9 .3-3.8 .4 2.6 .3-.6 .4 1.4 .3 .4 .4 8.1 .3-16.3 .4 17.6 .3-13.8 .4 3.1 .3 3.4 .4 1.5 .3 5.7 .4 .1 .3 3 .4-6.1 .3-8.6 .4 10.8 .3 3.9 .4-8.6 .3 7.5 .4-12.6 .3 11.8 .4-1.6 .3 5 .4-.7 .3-10.2 .4 6.8 .3-1.8 .4 1.8 .3-5 .4 4.9 .3 .5 .4-8.9 .3 9.7 .4 4.5 .3-9.7 .4 11.8 .3-5.8 .4-2.1 .3 10 .4-7.5 .3-.1 .4-.2 .3 4.8 .4-7.4 .3 1.5 .4 .9 .3-3.9 .4 8.8 .3-3 .4 .8 .3 3.4 .4-3.8 .3-1.4 .4 1.8 .3 0 .4-1.3 .3-.5 .4 1.2 .3 2.7 .4-4.5 .3 12.3 .4-11.2 .3 .5 .4-2.1 .3 3.2 .4-.1 .3 2 .4 3 .3-5.9 .4 4.5 .3-3.8 .4 .8 .3-3 .4 7.7 .3-4.8 .4 2.1 .3-9 .4 9.1 .3-3.4 .4 1.8 .3 1.4 .4-3.9 .3 2.9 .4 2.8 .3-5.8 .4 2.7 .3-2.4 .4-.7 .3 3.2 .4-.1 .3 1.1 .4 2.4 .3-1.9 .4-2.4 .3 .9 .4 1.2 .3 1.9 .4-1.8 .3-1.2 .4-3.5 .3 7 .4-5 .3 .9 .4 4.4 .3-6.1 .4 6.9 .3-6.6 .4-2.6 .3 4.7 .4 2.2 .3-2.9 .4 3.6 .3-3.6 .4 3.2 .3-6.5 .4 2.4 .3-2.2 .4 5.4 .3-1.9 .4 1.2 .3-2.9 .4 3.6 .3 7.5 .4-14 .3 3.6 .4 4.7 .3-.3 .4 .4 .3-5.7 .4 2.5 .3-5 .4 4.2 .3 .8 .4-2.1 .3 1.3 .4-.4 .3-3.8 .4-.6 .3 7.4 .4-11.4 .3 18.4 .4-5.1 .3 5.1 .4-7 .3-11.4 .4 5.4 .3 2.6 .4-1.5 .3-2.8 .4 10.2 .3-.2 .4-2.5 .3-3.8 .4 5 .3-.5 .4-3.8 .3-2.5 .4 .2 .3 2.9 .4 3.4 .3-7.8 .4 4.5 .3-.5 .4 4.9 .3-7.1 .4 4.1 .3-2.1 .4 2 .3 1.8 .4 0 .3 .4 .4-4.5 .3-.2 .4-2.1 .3 1.9 .4-1.9 .3 5.9 .4-8.4 .3 3.7 .4 4.8 .3-.3 .4 5.7 .3-8.4 .4-5.6 .3 8.8 .4-4 .3 3.6 .4-10.6 .3 1.5 .4 7.6 .3 .6 .4-.9 .3-.1 .4 .4 .3-4.1 .4-1.9 .3 4.5 .4 1.2 .3-2.1 .4-.9 .3 2.4 .4-.2 .3-1.1 .4 6.6 .3 .7 .4-11.9 .3 6.1 .4-1.8 .3 .9 .4-6.5 .3 2.7 .4-2.3 .3 3.5 .4 4.5 .3-5.7 .4 8.7 .3-1.5 .4-4 .3 2.9 .4 4.8 .3-9.9 .4 4.1 .3-.5 .4-1 .3-.2 .4-3.2 .3 5.5 .4-3.3 .3 2 .4 5.5 .3-6 .4-.3 .3 6.4 .4-4.7 .3-.1 .4-2.5 .3 3 .4-1.6 .3 .9 .4-.8 .3-4.2 .4 8.5 .3-2.4 .4 5.2 .3-7.8 .4-.2 .3-1.9 .4 2.1 .3 .2 .4-1.5 .3 .9 .4 .3 .3 4.7 .4-3.6 .3 3 .4-8.7 .3 3.4 .4 8.8 .3-12.2 .4 .8 .3 5.3 .4-1.5 .3-1.1 .4 3.1 .3 0 .4-3.2 .3 2.8 .4-.4 .3 3.3 .4-8.3 .3 3.2 .4 2.4 .3-7.5 .4 10.2 .3 4.1 .4-8.3 .3 3.2 .4-3.9 .3 7.7 .4-8.1 .3-7 .4 4 .3 5 .4-6.5 .3 15.2 .4-7.7 .3-.4 .4 .4 .3-1.3 .4 4.4 .3-2.4 .4-1.9 .3-1.1 .4-1.7 .3 2 .4 .3 .3-3.9 .4 9.8 .3-6.7 .4 1.9 .3-5.5 .4 5.6 .3 .6 .4-5.7 .3 12.7 .4-10.8 .3 1.2 .4 3.4 .3-2.7 .4 4.7 .3-5.6 .4 .7 .3 2.5 .4 2 .3 .5 .4-5.2 .3 1.6 .4-.7 .3 1.6 .4-3.2 .3 5.1 .4-1.5 .3-4.2 .4 1.5 .3 .2 .4 6.1 .3-5.3 .4 .9 .3 4.5 .4-5.8 .3 6.4 .4-7.2 .3-7.8 .4 5.1 .3 5.4 .4-2 .3 3.6 .4-2.7 .3 1 .4-2.1 .3 1.4 .4 .8 .3-2 .4 .7 .3 3 .4 2.1 .3-6 .4-4.4 .3 8.3 .4-3.3 .3 7.6 .4-5.3 .3-2.8 .4 4 .3-2.9 .4 1.2 .3 2.3 .4-3.3 .3 5.4 .4-6.5 .3-.1 .4 1.6 .3-1.5 .4 2 .3-1.2 .4 1.5 .3 1.1 .4-2.4 .3 4.2 .4-2.4 .3 1.1 .4-11.8 .3-.6 .4 9.9 .3-1.9 .4 4.7 .3-4.2 .4 2.4 .3-3.7 .4 2.7 .3 3.4 .4-.8 .3-4.2 .4 .7 .3 .3 .4-1.2 .3 .9 .4 7 .3-3.2 .4-4.9 .3 2.4 .4 4.7 .3-6.7 .4 3.9 .3-.7 .4 1.5 .3-8.6 .4 9.6 .3 3.7 .4-10.5 .3 2.7 .4-5.3 .3 5.1 .4 .8 .3 .4 .4 1.5 .3-4.7 .4-2.4 .3 6.4 .4-10.4 .3 5.8 .4 0 .3 4.1 .4-2.4 .3 3.2 .4-1.8 .3 1.9 .4-.8 .3 1.5 .4-5.3 .3 .7 .4 1.7 .3-.3 .4 1.6 .3 .4 .4-3.8 .3-2.4 .4 5.4 .3-.5 .4-2.7 .3-4.2 .4-2.3 .3 6.2 .4 .2 .3-.7 .4-3.7 .3 3.2 .4 1.9 .3-3.5 .4 2.1 .3 2 .4 3.4 .3 .5 .4-4.2 .3-3 .4 2 .3 2.7 .4-1.6 .3 .9 .4 1.3 .3-.7 .4 2.3 .3-7.9 .4 3.2 .3-5.6 .4 7.1 .3 .6 .4-2.5 .3-4 .4 5.6 .3-2.7 .4 .4 .3 1.8 .4 6.5 .3-6.7 .4 2.3 .3-2.2 .4 .3 .3-2.8 .4 .7 .3 4.6 .4-2.4 .3-1.1 .4 10.7 .3-5.5 .4-5.4 .3 1.3 .4 .8 .3-3.3 .4 2.5 .3-1.1 .4 4 .3-6.9 .4 13.6 .3-11.2 .4 .9 .3-3.8 .4 9.5 .3-1.8 .4-8 .3 5.4 .4-.8 .3 1.2 .4-1.6 .3 7.4 .4-8.6 .3 4.9 .4-4.3 .3 2.5 .4-1.3 .3 .5 .4 0 .3 .7 .4-6 .3-.4 .4 13 .3-9.2 .4 .9 .3-1 .4 2.8 .3 8.1 .4-9.6 .3-.6 .4 .3 .3-6.7 .4 3.1 .3-1.6 .4 5 .3 10.2 .4-12.4 .3 3.6 .4-2.6 .3-4.5 .4 9.7 .3-6.5 .4 .2 .3 6 .4-4.5 .3-.5 .4 8.1 .3-8.2 .4 5.3 .3-4.1 .4 1.7 .3-1.6 .4 .2 .3 6.2 .4-.8 .3-7.1 .4 4.3 .3-4.9 .4 2 .3-3.8 .4 6 .3 .7 .4 .2 .3 .3 .4-2.7 .3-2.1 .4-6.5 .3 8.9 .4 5.6 .3-5.6" fill="none" stroke="#4D4D4D" stroke-width="5" stroke-linejoin="bevel"/>
<path d="M132.5 1086.8l.7-.1 .7-.2 .7-.3 .7-.3 .7-.3 .7-.2 .7-.2 .7-.2 .7-.1 .7-.1 .7-.1 .7 0 .7 .1 .7 .1 .7 .2 .7 .2 .7 .1 .7 .1 .7-.1 .7-.2 .7-.3 .7-.2 .7-.3 .7-.3 .7-.1 .7-.1 .7-.1 .7 .1 .7 0 .7 .2 .7 .1 .7 .2 .7 .1 .7 .1 .7-.1 .7-.2 .7-.2 .7-.2 .7-.1 .7-.1 .7-.1 .7-.1 .7-.1 .7-.2 .7-.2 .7-.3 .7-.4 .7-.5 .7-.5 .7-.5 .7-.4 .7-.3 .7-.1 .7-.1 .7 0 .7 0 .7-.1 .7-.1 .7-.3 .7-.4 .7-.5 .7-.6 .7-.6 .7-.6 .7-.5 .7-.4 .7-.3 .7-.5 .7-.4 .7-.7 .7-.7 .7-.9 .7-.9 .7-1 .7-.8 .7-.7 .7-.5 .7-.3 .7-.3 .7-.3 .7-.4 .7-.7 .7-.8 .7-1 .7-1.1 .7-1.3 .7-1.4 .7-1.5 .7-1.6 .7-1.6 .7-1.6 .7-1.6 .7-1.5 .7-1.5 .7-1.4 .7-1.4 .7-1.3 .7-1.2 .7-1.4 .7-1.4 .7-1.6 .7-1.7 .7-1.8 .7-1.9 .7-1.8 .7-1.8 .7-1.9 .7-2.1 .7-2.4 .7-2.5 .7-2.6 .7-2.5 .7-2.5 .7-2.4 .7-2.4 .7-2.5 .7-2.7 .7-2.6 .7-2.6 .7-2.4 .7-2.4 .7-2.4 .7-2.5 .7-2.8 .7-3.1 .7-3.3 .7-3.6 .7-3.7 .7-3.7 .7-3.8 .7-3.8 .7-3.8 .7-3.9 .7-4.2 .7-4.2 .7-4.3 .7-4.2 .7-3.8 .7-3.1 .7-2.1 .7-.9 .7 .4 .7 1.8 .7 2.9 .7 4 .7 4.7 .7 5.5 .7 6.1 .7 6.7 .7 7.1 .7 7.4 .7 7.7 .7 7.6 .7 7.6 .7 7.5 .7 7.3 .7 7.1 .7 6.9 .7 6.5 .7 6 .7 5.5 .7 4.9 .7 4.4 .7 4.1 .7 3.7 .7 3.6 .7 3.3 .7 3.3 .7 3 .7 2.9 .7 2.8 .7 2.4 .7 2.3 .7 2 .7 1.8 .7 1.6 .7 1.3 .7 1.1 .7 .9 .7 .8 .7 .8 .7 .7 .7 .8 .7 .8 .7 .7 .7 .7 .7 .6 .7 .5 .7 .2 .7 .2 .7 .1 .7 .1 .7 .3 .7 .5 .7 .7 .7 .7 .7 .7 .7 .6 .7 .5 .7 .4 .7 .2 .7 .1 .7 0 .7 0 .7 0 .7 0 .7 0 .7 0 .7 .1 .7 .1 .7 .1 .7 .2 .7 .2 .7 .2 .7 .2 .7 .1 .7-.2 .7-.2 .7-.4 .7-.3 .7 0 .7 .1 .7 .4 .7 .5 .7 .4 .7 .3 .7 .2 .7 0 .7 0 .7-.1 .7-.2 .7-.1 .7 0 .7 0 .7 0 .7 .1 .7 0 .7 0 .7-.2 .7-.2 .7-.2 .7-.2 .7-.2 .7 .1 .7 .2 .7 .3 .7 .4 .7 .2 .7 .2 .7 0 .7 0 .7-.1 .7-.1 .7-.1 .7-.1 .7-.1 .7-.1 .7-.2 .7-.1 .7-.1 .7-.1 .7-.1 .7-.2 .7-.1 .7-.1 .7-.1 .7-.1 .7 0 .7 .1 .7 .2 .7 .2 .7 .3 .7 .2 .7 .2 .7 0 .7 0 .7-.1 .7-.2 .7-.2 .7-.3 .7-.4 .7-.4 .7-.4 .7-.2 .7-.2 .7 0 .7 .2 .7 .3 .7 .3 .7 .4 .7 .3 .7 .2 .7 .1 .7-.1 .7-.2 .7-.3 .7-.3 .7-.2 .7-.1 .7 0 .7 0 .7 .2 .7 .2 .7 .3 .7 .4 .7 .4 .7 .5 .7 .3 .7 .3 .7 .2 .7 0 .7 0 .7-.1 .7-.2 .7-.1 .7-.2 .7-.2 .7-.2 .7-.2 .7-.1 .7 0 .7 .1 .7 0 .7 0 .7-.1 .7-.1 .7-.2 .7-.2 .7-.1 .7-.1 .7-.1 .7-.1 .7-.1 .7 0 .7 0 .7 .2 .7 .3 .7 .3 .7 .3 .7 .2 .7 0 .7-.2 .7-.3 .7-.3 .7-.3 .7-.3 .7-.3 .7-.3 .7-.3 .7-.2 .7-.2 .7-.1 .7 0 .7-.1 .7-.1 .7-.1 .7-.2 .7-.2 .7-.2 .7-.1 .7 0 .7 0 .7 .1 .7 .1 .7-.1 .7-.1 .7-.2 .7-.2 .7-.2 .7-.1 .7-.2 .7-.1 .7-.2 .7-.2 .7-.2 .7-.1 .7-.1 .7-.2 .7-.3 .7-.5 .7-.6 .7-.7 .7-.7 .7-.7 .7-.7 .7-.7 .7-.6 .7-.6 .7-.4 .7-.4 .7-.3 .7-.3 .7-.3 .7-.4 .7-.4 .7-.5 .7-.4 .7-.4 .7-.2 .7 .1 .7 .2 .7 .3 .7 .4 .7 .4 .7 .3 .7 .4 .7 .4 .7 .4 .7 .6 .7 .7 .7 .7 .7 .7 .7 .7 .7 .7 .7 .7 .7 .6 .7 .5 .7 .4 .7 .2 .7 0 .7 0 .7 0 .7 0 .7 .2 .7 .2 .7 .3 .7 .3 .7 .2 .7 .3 .7 .4 .7 .4 .7 .5 .7 .5 .7 .5 .7 .4 .7 .1 .7-.1 .7-.2 .7-.4 .7-.3 .7-.2 .7-.2 .7 .1 .7 0 .7 .2 .7 .1 .7 .2 .7 .3 .7 .5 .7 .5 .7 .6 .7 .4 .7 .2 .7 0 .7-.2 .7-.2 .7-.2 .7 0 .7-.1 .7 0 .7 0 .7 0 .7 0 .7 .1 .7 .1 .7 .1 .7 .1 .7 0 .7 .1 .7 .1 .7 0 .7 .1 .7 0 .7 .1 .7 .1 .7 .1 .7 .1 .7 0 .7-.1 .7 0 .7-.1 .7-.1 .7-.1 .7-.1 .7-.2 .7-.2 .7-.1 .7 0 .7 0 .7 .1 .7 .1 .7 .1 .7 .3 .7 .2 .7 .4 .7 .4 .7 .3 .7 .3 .7 .1 .7 0 .7-.2 .7-.3 .7-.2 .7-.2 .7-.2 .7-.2 .7-.2 .7-.3 .7-.2 .7-.2 .7-.1 .7 .1 .7 .3 .7 .3 .7 .4 .7 .2 .7 .1 .7-.1 .7-.3 .7-.4 .7-.4 .7-.3 .7-.2 .7-.1 .7-.2 .7 0 .7-.1 .7-.1 .7 0 .7 0 .7 .1 .7-.1 .7 0 .7-.1 .7-.1 .7 0 .7 0 .7 .1 .7 0 .7 0 .7-.1 .7 0 .7-.1 .7-.1 .7 0 .7-.1 .7 0 .7 0 .7 0 .7 0 .7 0 .7 0 .7-.1 .7-.3 .7-.3 .7-.5 .7-.4 .7-.4 .7-.4 .7-.3 .7-.3 .7-.3 .7-.3 .7-.4 .7-.4 .7-.3 .7-.2 .7-.2 .7-.1 .7-.1 .7-.1 .7-.2 .7-.3 .7-.6 .7-.7 .7-.9 .7-1.1 .7-1.4 .7-1.5 .7-1.8 .7-2 .7-2.2 .7-2.7 .7-3.1 .7-3.6 .7-4.2 .7-4.8 .7-5.4 .7-5.8 .7-6.2 .7-6.2 .7-6.1 .7-5.5 .7-4.5 .7-3.3 .7-1.8 .7-.5 .7 .6 .7 1.5 .7 2 .7 2.5 .7 2.7 .7 2.8 .7 3 .7 3 .7 3 .7 2.8 .7 2.6 .7 2.4 .7 2.2 .7 2 .7 1.8 .7 1.8 .7 1.6 .7 1.5 .7 1.3 .7 1.2 .7 1.1 .7 .9 .7 .8 .7 .7 .7 .7 .7 .6 .7 .7 .7 .7 .7 .8 .7 .8 .7 .8 .7 .7 .7 .5 .7 .4 .7 .3 .7 .1 .7 .2 .7 .1 .7 .3 .7 .3 .7 .3 .7 .2 .7 0 .7-.1 .7-.4 .7-.6 .7-.9 .7-1.2 .7-1.3 .7-1.3 .7-.9 .7-.2 .7 .6 .7 1.3 .7 1.8 .7 1.9 .7 1.9 .7 1.4 .7 1.2 .7 .8 .7 .5 .7 .3 .7 .1 .7 .1 .7 0 .7 .1 .7 .1 .7 .3 .7 .4 .7 .5 .7 .6 .7 .7 .7 .7 .7 .5 .7 .4 .7 .3 .7 .2 .7 .1 .7 .2 .7 .3 .7 .5 .7 .6 .7 .7 .7 .7 .7 .7 .7 .4 .7 .2 .7 0 .7-.1 .7-.2 .7-.1 .7-.1 .7 .1 .7 .1 .7 .2 .7 .2 .7 .2 .7 .2 .7 .2 .7 .1 .7 .2 .7 .2 .7 .2 .7 .3 .7 .3 .7 .3 .7 .1 .7 0 .7-.2 .7-.3 .7-.4 .7-.3 .7-.3 .7-.1 .7 .1 .7 .2 .7 .4 .7 .4 .7 .4 .7 .3 .7 .2 .7 .1 .7-.1 .7-.3 .7-.4 .7-.4 .7-.3 .7-.2 .7-.1 .7 .2 .7 .3 .7 .3 .7 .3 .7 0 .7 0 .7-.2 .7-.2 .7-.2 .7 0 .7 0 .7 0 .7 .1 .7 0 .7 0 .7 0 .7-.1 .7-.1 .7-.1 .7-.1 .7 0 .7 .1 .7 .1 .7 .2 .7 .2 .7 .2 .7 .1 .7 0 .7-.1 .7 0 .7-.1 .7-.1 .7-.1 .7-.1 .7-.1 .7 .1 .7 .1 .7 .1 .7 .1 .7 .1 .7 .1 .7 0 .7 0 .7 0 .7-.1 .7-.1 .7 0 .7 0 .7 .1 .7 .1 .7 .1 .7 0 .7-.1 .7-.1 .7-.2 .7-.2 .7-.1 .7-.1 .7 0 .7 0 .7 .2 .7 .1 .7 0 .7-.1 .7-.2 .7-.3 .7-.1 .7 0 .7 .1 .7 .2 .7 .3 .7 .2 .7 .1 .7 0 .7-.1 .7-.2 .7-.3 .7-.3 .7-.4 .7-.3 .7-.3 .7-.2 .7-.2 .7-.1 .7-.1 .7-.1 .7 0 .7-.1 .7-.1 .7-.1 .7-.1 .7-.1 .7 0 .7 .1 .7 .1 .7 .2 .7 .2 .7 .2 .7 .3 .7 .2 .7 .1 .7 .1 .7 0 .7 0 .7-.1 .7-.3 .7-.3 .7-.4 .7-.3 .7-.2 .7-.1 .7 .1 .7 .1 .7 .1 .7 .1 .7 0 .7 0 .7 0 .7 0 .7 0 .7 0 .7-.1 .7-.1 .7-.2 .7-.2 .7-.1 .7-.2 .7-.2 .7-.1 .7-.1 .7 0 .7 0 .7 .1 .7 .1 .7 .1 .7 .1 .7 .1 .7 .1 .7 0 .7-.1 .7 0 .7-.1 .7 0 .7-.1 .7 0 .7 .1 .7 .2 .7 .1 .7 .2 .7-.1 .7-.1 .7-.4 .7-.5 .7-.7 .7-.6 .7-.7 .7-.5 .7-.6 .7-.6 .7-.7 .7-.8 .7-.9 .7-.9 .7-.7 .7-.6 .7-.5 .7-.5 .7-.6 .7-.7 .7-.9 .7-.9 .7-1 .7-1 .7-1.1 .7-1.2 .7-1.3 .7-1.3 .7-1.4 .7-1.4 .7-1.2 .7-1.2 .7-1.1 .7-1 .7-.8 .7-.6 .7-.6 .7-.5 .7-.5 .7-.5 .7-.6 .7-.5 .7-.4 .7-.2 .7 .1 .7 .5 .7 .6 .7 .8 .7 .6 .7 .5 .7 .3 .7 .2 .7 0 .7-.1 .7-.3 .7-.6 .7-1 .7-1.4 .7-1.6 .7-1.6 .7-1.3 .7-.7 .7 .2 .7 1.1 .7 2 .7 2.6 .7 3.2 .7 3.2 .7 3.2 .7 2.9 .7 2.6 .7 2.4 .7 2.2 .7 2 .7 1.8 .7 1.7 .7 1.5 .7 1.2 .7 1 .7 .9 .7 .7 .7 .8 .7 .8 .7 .8 .7 .9 .7 .6 .7 .5 .7 .2 .7 0 .7-.1 .7-.4 .7-.4 .7-.6 .7-.5 .7-.5 .7-.5 .7-.4 .7-.4 .7-.4 .7-.4 .7-.3 .7-.2 .7 0 .7 .1 .7 .3 .7 .3 .7 .4 .7 .4 .7 .5 .7 .5 .7 .5 .7 .8 .7 .8 .7 1 .7 1.1 .7 1.1 .7 .9 .7 .7 .7 .5 .7 .2 .7 .2 .7 0 .7 0 .7-.1 .7-.2 .7-.3 .7-.4 .7-.5 .7-.5 .7-.5 .7-.3 .7-.1 .7-.1 .7-.2 .7-.2 .7-.3 .7-.5 .7-.5 .7-.5 .7-.5 .7-.4 .7-.4 .7-.4 .7-.3 .7-.2 .7-.2 .7-.2 .7-.1 .7 0 .7 .2 .7 .2 .7 .4 .7 .5 .7 .8 .7 .9 .7 1 .7 1 .7 .9 .7 .8 .7 .6 .7 .6 .7 .5 .7 .4 .7 .5 .7 .5 .7 .6 .7 .5 .7 .5 .7 .4 .7 .1 .7 0 .7-.1 .7-.2 .7-.2 .7-.2 .7-.3 .7-.2 .7-.3 .7-.1 .7-.1 .7 .1 .7 .1 .7 .1 .7 0 .7-.1 .7 0 .7 0 .7 .1 .7 .2 .7 .2 .7 .3 .7 .2 .7 .1 .7 .1 .7 .1 .7 .1 .7 0 .7 0 .7-.1 .7-.2 .7-.1 .7-.1 .7 0 .7 .1 .7 .1 .7 .3 .7 .2 .7 .1 .7 .1 .7 .1 .7 0 .7 .2 .7 .2 .7 .3 .7 .3 .7 .2 .7 .1 .7 0 .7 0 .7-.1 .7 0 .7-.1 .7-.2 .7-.2 .7-.4 .7-.5 .7-.5 .7-.5 .7-.5 .7-.4 .7-.4 .7-.4 .7-.4 .7-.5 .7-.4 .7-.5 .7-.6 .7-.5 .7-.6 .7-.7 .7-.9 .7-1.2 .7-1.4 .7-1.8 .7-2 .7-2.3 .7-2.5 .7-2.4 .7-2.2 .7-2 .7-1.6 .7-1.2 .7-.9 .7-.6 .7-.5 .7-.3 .7-.2 .7-.2 .7-.2 .7-.2 .7-.3 .7-.3 .7-.3 .7-.2 .7-.2 .7 .1 .7 .1 .7 .4 .7 .4 .7 .5 .7 .5 .7 .5 .7 .5 .7 .5 .7 .5 .7 .6 .7 .6 .7 .5 .7 .6 .7 .6 .7 .5 .7 .3 .7 .2 .7 0 .7 0 .7 0 .7 0 .7 .1 .7 .1 .7 .1 .7 .1 .7 0 .7-.1 .7-.1 .7-.2 .7-.2 .7 0 .7 .2 .7 .3 .7 .5 .7 .7 .7 .6 .7 .7 .7 .6 .7 .5 .7 .3 .7 .1 .7 0 .7-.2 .7-.2 .7-.1 .7 0 .7 .1 .7 .3 .7 .3 .7 .4 .7 .3 .7 .1 .7 0 .7 0 .7 .1 .7 .3 .7 .4 .7 .5 .7 .6 .7 .6 .7 .5 .7 .5 .7 .3 .7 .1 .7 .1 .7 0 .7 0 .7 .1 .7 .2 .7 .3 .7 .4 .7 .4 .7 .4 .7 .4 .7 .3 .7 .3 .7 .2 .7 .2 .7 .3 .7 .3 .7 .3 .7 .3 .7 .4 .7 .3 .7 .3 .7 .3 .7 .2 .7 .2 .7 .3 .7 .3 .7 .2 .7 .2 .7 .1 .7 .1 .7 .1 .7 0 .7 .1 .7 .1 .7 .1 .7 0 .7 0 .7 .2 .7 .2 .7 .3 .7 .2 .7 .1 .7 .1 .7 0 .7-.1 .7 0 .7 0 .7 .1 .7 0 .7 .1 .7 0 .7-.1 .7-.2 .7-.1 .7-.1 .7 0 .7 .1 .7 .2 .7 .2 .7 .1 .7 .1 .7 0 .7-.1 .7-.1 .7-.2 .7-.2 .7-.2 .7-.3 .7-.4 .7-.3 .7-.2 .7-.2 .7-.2 .7-.1 .7-.2 .7-.1 .7-.1 .7-.1 .7-.1 .7 0 .7 0 .7 .1 .7-.1 .7 0 .7-.1 .7 0 .7-.1 .7 0 .7 0 .7 0 .7 0 .7 .1 .7 .2 .7 .3 .7 .3 .7 .3 .7 .2 .7 .1 .7 0 .7-.1 .7-.1 .7-.1 .7 0 .7 0 .7 0 .7 0 .7-.1 .7-.2 .7-.2 .7-.1 .7-.1 .7-.1 .7 0 .7 .1 .7 .2 .7 .4 .7 .4 .7 .4 .7 .3 .7 .2 .7 .2 .7 0 .7 0 .7 0 .7-.1 .7 .1 .7 .1 .7 .1 .7 .3 .7 .2 .7 .2 .7 .1 .7 0 .7-.1 .7-.2 .7-.1 .7 0 .7 .2 .7 .4 .7 .5 .7 .5 .7 .4 .7 .2 .7 .1 .7-.1 .7-.2 .7 0 .7 0 .7 .1 .7 .1 .7 .2 .7 0 .7 0 .7-.1 .7-.2 .7-.3 .7-.2 .7-.2 .7-.1 .7 0 .7 .2 .7 .1 .7 .1 .7 .1 .7 0 .7 0 .7 0 .7-.1 .7-.1 .7-.1 .7-.1 .7-.2 .7-.2 .7-.2 .7-.1 .7 .1 .7 .1 .7 .3 .7 .2 .7 .2 .7 0 .7 0 .7-.1 .7-.1 .7-.1 .7 0 .7 .1 .7 .3 .7 .4 .7 .5 .7 .3 .7 .2 .7 .1 .7-.2 .7-.2 .7-.2 .7-.1 .7-.1 .7 0 .7 .1 .7 0 .7-.1 .7-.3 .7-.4 .7-.4 .7-.3 .7-.1 .7 0 .7 .2 .7 .1 .7 .1 .7 .1 .7 0 .7 .1 .7 .1 .7 .2 .7 .2 .7 .2 .7 .1 .7 .1 .7 .1 .7 0 .7-.1 .7 0 .7 0 .7-.1 .7-.1 .7-.1 .7-.1 .7-.2 .7-.1 .7 0 .7 .1 .7 .1 .7 .2 .7 .2 .7 .1 .7 0 .7-.1 .7-.1 .7 0 .7-.1 .7 0 .7-.1 .7 0 .7 0 .7 .1 .7 .1 .7 .3 .7 .2 .7 .3 .7 .2 .7 .3 .7 .2 .7 .2 .7 .2 .7 .1 .7 .1 .7 .1 .7 .1 .7-.1 .7 0 .7 0 .7 .1 .7 .1 .7 .2 .7 .1 .7 0 .7 0 .7-.1 .7-.1 .7 .1 .7 .1 .7 .3 .7 .2 .7 .3 .7 .1 .7 .2 .7 .1 .7 0 .7-.1 .7-.2 .7-.2 .7-.1 .7-.1 .7 .1 .7 .2 .7 .4 .7 .3 .7 .4 .7 .3 .7 .2 .7 0 .7 0 .7-.1 .7 0 .7-.1 .7 .1 .7 .2 .7 .3 .7 .4 .7 .4 .7 .3 .7 .1 .7 0 .7-.1 .7-.3 .7-.3 .7-.3 .7-.4 .7-.3 .7-.4 .7-.5 .7-.5 .7-.4 .7-.2 .7-.1 .7 .2 .7 .3 .7 .5 .7 .4 .7 .4 .7 .3 .7 .2 .7 0 .7 .1 .7-.1 .7 0 .7-.1 .7 0 .7-.1 .7 .1 .7 0 .7 .2 .7 .3 .7 .4 .7 .4 .7 .4 .7 .3 .7 .2 .7 0 .7-.1 .7-.2 .7-.2 .7-.1 .7-.1 .7-.1 .7 0 .7 0 .7-.1 .7-.1 .7-.1 .7 .1 .7 .1 .7 .2 .7 .3 .7 .3 .7 0 .7-.1 .7-.2 .7-.2 .7-.2 .7-.1 .7 0 .7 .1 .7 .2 .7 .3 .7 .2 .7 0 .7 0 .7-.1 .7-.2 .7-.1 .7-.1 .7 .1 .7 .1 .7 .1 .7 .2 .7 .1 .7 .2 .7 .1 .7 .1 .7 0 .7 0 .7-.2 .7-.2 .7-.2 .7-.3 .7-.2 .7-.1 .7 0 .7 .1 .7 .1 .7 .1 .7 .1 .7 0 .7 0 .7 .1 .7 .2 .7 .3 .7 .3 .7 .3 .7 .2 .7 .1 .7 0 .7 0 .7-.1 .7-.1 .7 0 .7-.1 .7-.2 .7-.2 .7-.3 .7-.2 .7-.1 .7 0 .7 .1 .7 .1 .7 .2 .7 .2 .7 .1 .7 .1 .7 .2 .7 .1 .7 .2 .7 .1 .7 0 .7-.1 .7-.2 .7-.2 .7-.2 .7-.1 .7 0 .7 0 .7 .1 .7 .1 .7 0 .7 .1 .7 .1 .7 0 .7 .1 .7 0 .7 0 .7-.1 .7-.1 .7-.2 .7-.2 .7-.3 .7-.2 .7-.1 .7-.1 .7-.1 .7 .1 .7 0 .7 .2 .7 .2 .7 .2 .7 .2 .7 .2 .7 .2 .7 .2 .7 .2 .7 .2 .7 .1 .7 0 .7-.2 .7-.2 .7-.3 .7-.1 .7-.1 .7 0 .7 .1 .7 .2 .7 0 .7 0 .7 0 .7-.1 .7 0 .7 0 .7 0 .7 0 .7 0 .7-.2 .7-.1 .7-.2 .7-.1 .7 .1 .7 .1 .7 .2 .7 .2 .7 .3 .7 .1 .7 .1 .7 .1 .7 0 .7 .1 .7 0 .7-.1 .7 0 .7 0 .7 0 .7 0 .7-.1 .7-.2 .7-.2 .7-.2 .7 0 .7 .1 .7 .2 .7 .4 .7 .4 .7 .4 .7 .2 .7 0 .7-.1 .7-.3 .7-.4 .7-.5 .7-.6 .7-.4 .7-.3 .7-.1 .7 .2 .7 .3 .7 .5 .7 .5 .7 .3 .7 .2 .7 0 .7-.1 .7-.2 .7-.1 .7-.2 .7-.2 .7-.1 .7-.1 .7 0 .7 0 .7 .1 .7 .2 .7 .3 .7 .3 .7 .2 .7 .2 .7 0 .7-.1 .7-.1 .7-.2 .7-.2 .7-.2 .7-.1 .7-.1 .7 0 .7 0 .7 0 .7 .2 .7 .1 .7 .1 .7 .1 .7 0 .7-.1 .7-.2 .7-.3 .7-.3 .7-.3 .7-.2 .7 0 .7 .2 .7 .3 .7 .4 .7 .3 .7 .3 .7 0 .7-.2 .7-.3 .7-.5 .7-.6 .7-.5 .7-.5 .7-.4 .7-.3 .7-.1 .7-.1 .7-.1 .7-.1 .7-.2 .7-.1 .7 0 .7 0 .7 .1 .7 0 .7-.1 .7-.3 .7-.6 .7-.9 .7-1.1 .7-1.1 .7-1 .7-.8 .7-.6 .7-.4 .7-.2 .7-.1 .7-.1 .7-.1 .7-.2 .7-.3 .7-.3 .7-.3 .7-.2 .7-.2 .7 0 .7 0 .7 .1 .7 .1 .7 .2 .7 .4 .7 .4 .7 .3 .7 .2 .7 0 .7-.1 .7 0 .7 .1 .7 .2 .7 .5 .7 .5 .7 .4 .7 .3 .7 0 .7-.3 .7-.3 .7-.4 .7-.4 .7-.2 .7-.1 .7 .1 .7 .2 .7 .3 .7 .4 .7 .3 .7 .1 .7 0 .7-.1 .7-.1 .7 0 .7 .1 .7 .2 .7 .2 .7 .4 .7 .3 .7 .3 .7 .2 .7 0 .7-.1 .7-.1 .7-.1 .7 0 .7 .1 .7 .2 .7 .2 .7 .2 .7 .2 .7 .1 .7 .1 .7 0 .7 0 .7 .1 .7 0 .7 0 .7-.1 .7 0 .7-.1 .7-.1 .7 .1 .7 .1 .7 .3 .7 .3 .7 .4 .7 .3 .7 .1 .7-.1 .7-.4 .7-.4 .7-.4 .7-.2 .7-.1 .7 .1 .7 .2 .7 .4 .7 .3 .7 .4 .7 .3 .7 .3 .7 .2 .7 .3 .7 .3 .7 .2 .7 .1 .7 .1 .7 .1 .7 0 .7 .1 .7 0 .7-.1 .7-.3 .7-.3 .7-.3 .7-.3 .7-.1 .7 .1 .7 .1 .7 .1 .7 0 .7 0 .7 0 .7 0 .7 0 .7 0 .7 .1 .7 .1 .7 .1 .7 .2 .7 .3 .7 .2 .7 0 .7-.2 .7-.4 .7-.5 .7-.4 .7-.4 .7-.2 .7 0 .7 .1 .7 .2 .7 .1 .7 .1 .7 .1 .7 .1 .7 .2 .7 .2 .7 .3 .7 .2 .7 .2 .7 .1 .7 .1 .7 0 .7 0 .7 .1 .7 .1 .7 0 .7 .1 .7-.1 .7-.1 .7-.2 .7-.2 .7-.3 .7-.3 .7-.3 .7-.1 .7-.1 .7-.1 .7-.1 .7-.1 .7-.1 .7-.1 .7 0 .7 .1 .7 .1 .7 .1 .7 .1 .7 0 .7 0 .7 0 .7 0 .7 .1 .7 .1 .7 .1 .7 .2 .7 .2 .7 .1 .7 .1 .7 0 .7-.1 .7 0 .7 0 .7 .2 .7 .2 .7 .2 .7 .1 .7 0 .7 0 .7 .1 .7 0 .7 0 .7 .1 .7 0 .7 0 .7 0 .7 0 .7 .1 .7 .1 .7 .1 .7 .2 .7 .2 .7 .1 .7 0 .7-.1 .7-.2 .7-.1 .7-.1 .7 0 .7 .1 .7 .3 .7 .3 .7 .3 .7 .2 .7 .1 .7-.1 .7-.1 .7-.3 .7-.3 .7-.3 .7-.2 .7-.1 .7-.1 .7 0 .7-.1 .7 0 .7-.1 .7-.1 .7-.1 .7-.2 .7-.2 .7-.3 .7-.2 .7 .1 .7 .2 .7 .5 .7 .5 .7 .4 .7 .2 .7-.1 .7-.3 .7-.4 .7-.4 .7-.3 .7-.1 .7 .1 .7 .1 .7 .2 .7 0 .7 0 .7 0 .7 0 .7 0 .7 .1 .7 0 .7 0 .7-.1 .7-.2 .7-.3 .7-.3 .7-.4 .7-.5 .7-.5 .7-.5 .7-.5 .7-.6 .7-.6 .7-.9 .7-1.1 .7-1.3 .7-1.3 .7-1.4 .7-1.2 .7-1.3 .7-1.3 .7-1.5 .7-1.5 .7-1.6 .7-1.3 .7-1.1 .7-.6 .7-.2 .7 .1 .7 .4 .7 .5 .7 .6 .7 .7 .7 .9 .7 1.1 .7 1.3 .7 1.5 .7 1.5 .7 1.4 .7 1.3 .7 1.1 .7 1 .7 .7 .7 .6 .7 .4 .7 .3 .7 .3 .7 .3 .7 .4 .7 .5 .7 .5 .7 .5 .7 .3 .7 .3 .7 .2 .7 .1 .7 .2 .7 .2 .7 .2 .7 .2 .7 .4 .7 .3 .7 .4 .7 .4 .7 .3 .7 .3 .7 .3 .7 .3 .7 .4 .7 .4 .7 .4 .7 .4 .7 .2 .7 .1 .7-.1 .7-.2 .7-.1 .7-.1 .7-.1 .7 .1 .7 0 .7 .1 .7 .1 .7 0 .7 .2 .7 .1 .7 .2 .7 .2 .7 .1 .7 0 .7 0 .7-.1 .7-.3 .7-.3 .7-.2 .7-.2 .7 .1 .7 .2 .7 .3 .7 .2 .7 .2 .7 .1 .7-.1 .7 0 .7 0 .7 .1 .7 .3 .7 .4 .7 .4 .7 .3 .7 .2 .7 0 .7 0 .7 0 .7-.1 .7 0 .7-.2 .7-.2 .7-.4 .7-.6 .7-.6 .7-.6 .7-.5 .7-.3 .7-.2 .7 0 .7 .1 .7 .3 .7 .3 .7 .3 .7 .2 .7 .3 .7 .2 .7 .2 .7 .3 .7 .3 .7 .4 .7 .4 .7 .3 .7 .2 .7 0 .7-.1 .7-.2 .7-.3 .7-.2 .7-.1 .7-.2 .7-.1 .7-.2 .7-.3 .7-.3 .7-.3 .7-.3 .7-.2 .7-.1 .7 0 .7 .1 .7 .2 .7 .2 .7 .1 .7 .2 .7 0 .7 .1 .7 .1 .7 .1 .7 .1 .7 0 .7 .1 .7-.1 .7-.1 .7-.2 .7-.3 .7-.4 .7-.3 .7-.3 .7-.2 .7-.1 .7 0 .7 .2 .7 .2 .7 .1 .7 .1 .7-.1 .7-.2 .7-.1 .7-.1 .7 .1 .7 .3 .7 .5 .7 .6 .7 .6 .7 .5 .7 .2 .7-.1 .7-.2 .7-.5 .7-.4 .7-.3 .7-.2 .7 0 .7 .1 .7 .1 .7 .1 .7 .1 .7 0 .7-.1 .7-.2 .7-.2 .7-.1 .7 0 .7 .1 .7 0 .7 .1 .7 .1 .7 0 .7-.1 .7 0 .7-.1 .7 0 .7 0 .7 .1 .7 .2 .7 .2 .7 .3 .7 .2 .7 .3 .7 .1 .7 .1 .7-.1 .7-.2 .7-.3 .7-.3 .7-.3 .7-.2 .7 0 .7 .1 .7 .2 .7 .2 .7 .3 .7 .2 .7 .2 .7 .1 .7 0 .7-.1 .7-.1 .7-.1 .7-.1 .7-.1 .7 0 .7 0 .7 0 .7 0 .7 .1 .7 .2 .7 .1 .7 .1 .7 0 .7-.1 .7-.1 .7 0 .7 0 .7 0 .7 .1 .7 0 .7 0 .7 .1 .7 .2 .7 .2 .7 .2 .7 .2 .7 .2 .7 .1 .7 .1 .7-.1 .7-.1 .7-.3 .7-.4 .7-.5 .7-.6 .7-.4 .7-.3 .7-.1 .7 0 .7 .1 .7 .1 .7 0 .7 .1 .7 .1 .7 .2 .7 .1 .7 .2 .7 .1 .7 .1 .7 0 .7 0 .7-.1 .7-.1 .7-.1 .7 0 .7 0 .7 0 .7 .1 .7 0 .7 .1 .7 .1 .7 0 .7 .2 .7 .2 .7 .3 .7 .2 .7 .1 .7 0 .7-.1 .7-.2 .7-.2 .7-.2 .7-.2 .7-.2 .7-.2 .7-.2 .7-.1" fill="none" stroke="#FF3232" stroke-width="7" stroke-linejoin="round"/>
<path d="M132.5 1086.9l.3-1.4 .4 .1 .3-.1 .4 10.2 .3-8.8 .4 .3 .3-2.4 .4 2.3 .3-5.1 .4-2.4 .3 9.4 .4-12.9 .3 18 .4-5.7 .3-.6 .4-8.7 .3 3.9 .4 5.6 .3-3.7 .4 1.1 .3-4.6 .4 1.1 .3 2.6 .4 2 .3-1.8 .4-4.5 .3 7.7 .4-7 .3 3.1 .4 .8 .3-1.8 .4 .7 .3 4.5 .4-4.3 .3 .4 .4 7.4 .3-9.3 .4 5.8 .3-5.1 .4-.4 .3 5.1 .4-9.4 .3 9 .4-.7 .3 1.3 .4-10 .3 3.7 .4 4.1 .3-2.6 .4-9.2 .3 10.8 .4 1.2 .3 5.4 .4-11.3 .3 1.4 .4 4.9 .3-7.8 .4 2.9 .3 1.3 .4-.2 .3 .7 .4 3.3 .3-2.9 .4 .1 .3-.5 .4-2.9 .3 2 .4 9.8 .3-5 .4-2.7 .3-1.9 .4 3.4 .3-2.9 .4-1.6 .3 .8 .4-2.8 .3 2.9 .4-1.8 .3 3.5 .4 .5 .3 6.7 .4-6.7 .3-8.9 .4 7.3 .3 1 .4 1 .3-3.9 .4-.2 .3 .3 .4-3.5 .3 9.8 .4 2.9 .3-11.5 .4 8.4 .3-9.3 .4-2.5 .3 6.4 .4 1 .3-5.4 .4 9 .3-7.3 .4-2.2 .3 1.2 .4-2.8 .3 6.1 .4-3.8 .3 2.8 .4-1.7 .3-3.7 .4 4.2 .3 6.9 .4-10.4 .3 9.7 .4-11.2 .3 4.3 .4-3.6 .3 12.6 .4-9.7 .3 3.4 .4-2.5 .3-1.9 .4-1.7 .3 5.4 .4 .1 .3-2 .4 .2 .3-9.8 .4 4.4 .3 2.4 .4-5.7 .3 5.5 .4 5.5 .3-7.5 .4 2.1 .3-4.1 .4 4.8 .3 1.6 .4-1.9 .3-3.4 .4-.9 .3-4.3 .4 8.1 .3 1 .4-4.5 .3 1.4 .4-4.6 .3 3.9 .4-4.3 .3 3.4 .4-12.1 .3 9 .4-1.7 .3-5.4 .4 5 .3 6.7 .4-6.9 .3-3.1 .4 5 .3 .7 .4-3.7 .3 6.1 .4-4.3 .3-1.7 .4 3.9 .3-2.2 .4-2.6 .3-3.1 .4 1.6 .3 .2 .4 3.2 .3 1 .4-12.8 .3 5.7 .4 5.4 .3-7.2 .4 2 .3-5.1 .4 5.8 .3-7.9 .4 .6 .3-.9 .4-2.3 .3 4.4 .4 1.6 .3-7.8 .4 0 .3 1.4 .4-1.5 .3 1.8 .4-6.2 .3 4.3 .4-1.2 .3-5.3 .4 3.4 .3-1.3 .4-6.3 .3 4.2 .4 1.6 .3 2.6 .4 2.2 .3-6.4 .4-3.6 .3-4.2 .4 4.6 .3-2 .4 2.8 .3-7.4 .4 2.5 .3-7.8 .4 2.9 .3 .1 .4 2.7 .3-5.5 .4 1.1 .3 10.2 .4-5.5 .3-9 .4-3.9 .3 2.8 .4 1.1 .3-3.5 .4 .6 .3-6.6 .4-.1 .3-3.3 .4-4.8 .3 6.3 .4 2.1 .3-5.2 .4 8.6 .3-11.2 .4-.9 .3 4.3 .4-4.3 .3-2.4 .4-4.4 .3-5.1 .4 1.1 .3-1.3 .4 2.2 .3-2.2 .4 .6 .3-4.3 .4 3 .3 5.6 .4-6.2 .3-4.8 .4-4.8 .3 4.7 .4-.5 .3-12.9 .4 10.1 .3 1.2 .4-12.9 .3-2.1 .4 5.1 .3-4.3 .4-9.7 .3 7.5 .4 1.8 .3-3.8 .4-14.6 .3-2.9 .4 8.8 .3-.6 .4 4.3 .3-8 .4-2.7 .3 2.1 .4-9.5 .3-6.2 .4-3.9 .3 3.2 .4 5.6 .3-8 .4-14.7 .3 17.4 .4-5.4 .3-17.9 .4 13.2 .3-10.4 .4-7.2 .3 10.2 .4 4.5 .3-4.4 .4 4.1 .3 8.4 .4-10.1 .3 10.9 .4-1.5 .3-5.4 .4 16.3 .3 1.5 .4 .8 .3 3.5 .4 2.8 .3 7 .4-14 .3 13 .4 3 .3 5.1 .4 11 .3 2.6 .4 6.1 .3 2.2 .4 6.7 .3 2.1 .4-9.3 .3 7.3 .4 12 .3 6.7 .4 2.9 .3-6.9 .4 10.8 .3-1.7 .4 6 .3 9.6 .4-.1 .3 6.1 .4 0 .3 7.7 .4-4.9 .3 4.5 .4 9.4 .3-2.1 .4-8 .3 6.5 .4 3.7 .3 3.8 .4-1 .3 7.1 .4 1.1 .3-1.9 .4 0 .3 1.4 .4 1.4 .3 3.9 .4 1.7 .3 5.8 .4-3.4 .3 1.7 .4-1.5 .3 13.5 .4-8.9 .3-2.4 .4 3 .3 4.4 .4-2.7 .3 12.9 .4-9.1 .3 2.9 .4-1.3 .3 1.3 .4-1.4 .3 4 .4 .5 .3 .5 .4-1.3 .3 2.2 .4 .6 .3-4.2 .4-4.1 .3 12.4 .4-5.4 .3-4.1 .4 9.5 .3-.1 .4-2.1 .3-4.6 .4 8.5 .3-3.4 .4-4.4 .3 2.3 .4-.2 .3 7.5 .4 .8 .3 1.6 .4-6.3 .3 2 .4 .5 .3-1.4 .4-8.1 .3 3.7 .4 1 .3 4.9 .4 0 .3-7.3 .4 2.4 .3 5.1 .4 1.7 .3-.8 .4 2 .3-1.6 .4-5 .3 .6 .4 3.3 .3 1.6 .4 3 .3 .3 .4 3 .3-3.3 .4-4 .3 .9 .4-6 .3 11.5 .4-5.2 .3-7.1 .4 10.7 .3-2.4 .4 8 .3-13.9 .4 4 .3-3.7 .4 9.9 .3-8.9 .4 4.8 .3-.3 .4-.6 .3-.7 .4-.2 .3 2.8 .4-1.8 .3-1.6 .4 2.8 .3-.6 .4-1.4 .3 1.8 .4-4.4 .3 2.6 .4 2.7 .3 .1 .4-.4 .3 7.7 .4-10.2 .3 5.4 .4-2.5 .3-.2 .4-3.1 .3-3.4 .4 6.7 .3-7.7 .4 6.7 .3-10.4 .4 6.7 .3 2.4 .4 3.3 .3-4.3 .4 6.4 .3 .8 .4-3.9 .3-2.9 .4 .8 .3 7.9 .4-7.2 .3 .2 .4-.2 .3-3.5 .4 12.7 .3-9 .4 .7 .3 1.4 .4-2.6 .3-1.8 .4 7.4 .3-8.3 .4 2 .3 2.2 .4-1.7 .3 .9 .4-2.7 .3 5.3 .4 .4 .3-3.9 .4 5.2 .3-1.2 .4-2.6 .3-3.1 .4-5.3 .3 12.8 .4-.1 .3-4.5 .4-.5 .3 1.5 .4-2.3 .3-.6 .4 .2 .3 .1 .4 1.2 .3-9.8 .4 7.4 .3 2.5 .4 3.6 .3-3.8 .4-1.7 .3 7.4 .4-2.5 .3-5 .4 11.2 .3-8.1 .4-3.1 .3 2.4 .4-1.8 .3 6.2 .4-4.4 .3-6.8 .4 6.2 .3 .2 .4 2.5 .3 3.1 .4-4.6 .3-.8 .4-.2 .3-3.1 .4 4.6 .3-1.7 .4-.6 .3 2.5 .4-2.8 .3 2.3 .4-2.5 .3-1.5 .4 2.9 .3 4.5 .4-7.4 .3-.6 .4 2 .3 4.6 .4-3.6 .3-.6 .4 0 .3-.3 .4 1.4 .3-.8 .4-2.8 .3 5 .4-4.9 .3 3.5 .4-.4 .3-9.2 .4 7.4 .3 4.4 .4 .5 .3 .5 .4-6.9 .3 5.2 .4-2.8 .3-1.1 .4-.5 .3 6.4 .4 4.9 .3-8.4 .4 5.5 .3-9.3 .4-6 .3 9.3 .4 4.3 .3-4 .4-1.9 .3 6.7 .4-4 .3-1.9 .4 1.5 .3 .5 .4-6 .3 5.3 .4 .3 .3-5.4 .4 2 .3-4.5 .4 5.1 .3-5.2 .4 7.9 .3 2.2 .4-6.8 .3 7.8 .4-5.7 .3-7.5 .4 9 .3-.9 .4 .5 .3-.3 .4 3.4 .3-3 .4 3.8 .3-1.8 .4 0 .3 .9 .4-4.9 .3 7.9 .4-4.7 .3-9.2 .4 6.3 .3 7.1 .4-3.7 .3-10.4 .4 5.2 .3 11.1 .4-9.1 .3 2 .4 .7 .3-9.9 .4 9 .3 .9 .4-7.3 .3 6.8 .4 2.2 .3-1.1 .4-3.3 .3 2 .4-2.4 .3 2.1 .4-.4 .3 .6 .4 2 .3-4.3 .4 8.1 .3-3.3 .4 4.2 .3-7.2 .4 1.7 .3 .3 .4 5.9 .3-5.7 .4-1.2 .3-3.3 .4 5.5 .3 2.6 .4-4 .3-.7 .4-9.6 .3 18.9 .4-6.4 .3-2.3 .4-.8 .3 1.5 .4 1.9 .3-4.4 .4-2.2 .3 2.3 .4-2.7 .3 3.4 .4 2.1 .3-2.6 .4 .5 .3-2.6 .4 10.4 .3-10.2 .4 6.9 .3-6.1 .4 6 .3-7.3 .4 3.8 .3-.2 .4-3.6 .3 3.7 .4-.4 .3 3.8 .4-8.6 .3 4.5 .4-8.1 .3 11.2 .4-8.8 .3 9.1 .4-1.7 .3 3.8 .4-5.2 .3-4.4 .4 5.8 .3-8.4 .4 2.8 .3 2.6 .4 1.5 .3-4.6 .4 4.4 .3-2.5 .4 .8 .3 6.9 .4-5.1 .3 9.2 .4-8 .3-2.2 .4 3.6 .3-1.8 .4-3 .3 .3 .4 .4 .3 .3 .4 5.7 .3-.5 .4-10.5 .3 5.4 .4-2.7 .3 5.7 .4-2.7 .3-.5 .4 2.2 .3 1.4 .4-12.9 .3 6.4 .4-1.9 .3 10.8 .4-6.9 .3-.3 .4-.2 .3-1.7 .4 .3 .3 1.7 .4 5.2 .3-5.1 .4-4.8 .3 4.3 .4 .4 .3 2.8 .4-1 .3-1.3 .4-1.6 .3-2.8 .4 1.4 .3 1.6 .4 4.5 .3-13.1 .4 8.7 .3 1.5 .4-5.5 .3 4.3 .4 2.4 .3-2.2 .4-1.4 .3 5.6 .4-4.7 .3 .3 .4-1.6 .3 3.2 .4-3.3 .3 1.3 .4-.9 .3-.2 .4-1.8 .3 .6 .4 1.6 .3 .1 .4-2.7 .3 3.2 .4 3.3 .3-3.6 .4-.3 .3 2.1 .4-2.3 .3-2.7 .4-2 .3 2.2 .4 1.3 .3-1.3 .4-1.8 .3 8.6 .4-2 .3-7.5 .4 3.3 .3 9.9 .4-5 .3-6.8 .4-1 .3 .1 .4-7.6 .3 12.3 .4 1 .3-12.6 .4 12.7 .3-6.4 .4 .3 .3 2 .4-6.8 .3 7.4 .4-5.6 .3-2.9 .4 4 .3-1.7 .4 1.3 .3-5.1 .4 4.7 .3 2 .4-2.9 .3 .4 .4-1.3 .3-1.8 .4 5.9 .3-3 .4 .7 .3-1.7 .4 .4 .3-1.5 .4 .3 .3 .6 .4-2.1 .3 .1 .4-4.5 .3 7.9 .4-6.3 .3 3.6 .4-1 .3-3.8 .4 4.5 .3 .8 .4 1.5 .3-6.2 .4 4.1 .3 8.2 .4-7.1 .3-.1 .4 .5 .3-4.4 .4 11.3 .3-8.9 .4 4.2 .3-3.7 .4 3.4 .3-5 .4 2 .3 4.8 .4-5 .3 4.5 .4 .8 .3 1.2 .4 1.5 .3-.7 .4-.7 .3-1.2 .4 2.4 .3-3.4 .4 1 .3 .2 .4 .4 .3 .7 .4 2.7 .3 6.3 .4-6.6 .3 4.8 .4-4.6 .3 .4 .4-.4 .3-3.5 .4 5.9 .3-3.8 .4 1 .3-8.4 .4 8.8 .3 .9 .4-1.5 .3-.6 .4 3.1 .3-.1 .4-.1 .3-1.3 .4-.8 .3 1.8 .4-1.5 .3-.7 .4 3.3 .3-1.5 .4-4.1 .3 9.4 .4-5.6 .3 .2 .4 1 .3 2.1 .4-.6 .3-4.1 .4 3.9 .3-1.6 .4 3.4 .3 6.4 .4-1.1 .3-6.5 .4-1.5 .3 2.5 .4 2.2 .3-4.7 .4-2.3 .3 1.1 .4 .9 .3 0 .4 .8 .3-1.4 .4 2.1 .3-3.9 .4 4 .3-2.1 .4 2.1 .3-2.5 .4 2.7 .3-.9 .4 4.7 .3-7 .4 2.2 .3 .2 .4-.2 .3 0 .4 1.6 .3-10.2 .4 8.9 .3 .2 .4 4.1 .3 3.1 .4-3.9 .3 .5 .4 6.5 .3 0 .4-8.6 .3-6.5 .4 9.2 .3-3.5 .4-7.6 .3 4.6 .4 3.4 .3 1.2 .4 5.5 .3-4.2 .4 1.5 .3-9.9 .4 5.4 .3 3 .4 .1 .3-5 .4 2.9 .3-2.4 .4-1.3 .3 6.2 .4-3.6 .3 5.1 .4-11.3 .3 12.1 .4-2.5 .3-2.6 .4 .3 .3-1.7 .4 1.7 .3 1.5 .4-.3 .3-.8 .4-4 .3 2 .4 9.3 .3-8.4 .4 .1 .3 .1 .4 3.9 .3-3.9 .4 1 .3-.9 .4-1.7 .3 1 .4-.8 .3 4.6 .4 7.1 .3-7.4 .4-2 .3 .5 .4-.5 .3 3.2 .4-6.8 .3-3 .4 8.1 .3-1.7 .4 2.1 .3 3.1 .4-7.5 .3 4.5 .4-.3 .3-.8 .4-1.5 .3 1.3 .4-.4 .3-4.8 .4 5 .3-9.9 .4 8.4 .3 2.3 .4 3.4 .3-.5 .4-5.2 .3-8.3 .4 14 .3-8.7 .4 5.5 .3-3.6 .4 5.3 .3-7.4 .4 10.2 .3-9.8 .4 4.7 .3 2.7 .4-6.4 .3 2.5 .4-.9 .3 7 .4-5 .3 3.8 .4 4.8 .3-8.8 .4 2.1 .3-2.5 .4-.5 .3 8.7 .4-9.1 .3 .1 .4-.3 .3-1.2 .4 1.2 .3-.7 .4 5.2 .3-1.7 .4-1.5 .3 2.3 .4-.9 .3 4 .4-8.9 .3 1.7 .4 4.8 .3-4.4 .4-8.6 .3 7.5 .4-1 .3 3.8 .4 2.9 .3-4.2 .4 .5 .3-1.1 .4-.9 .3-3.6 .4 14.9 .3-9.9 .4 1.8 .3-.9 .4 6.9 .3-4.2 .4-1.5 .3-3 .4 10.5 .3-12.7 .4 3.7 .3-.6 .4-6.3 .3 9 .4-5.2 .3 2.4 .4-.2 .3-.9 .4 .1 .3 3 .4 3.1 .3-4.2 .4-1 .3-2.9 .4-5.5 .3 8.9 .4 1 .3 1.3 .4-4.5 .3 1.8 .4-1.4 .3-3.3 .4 6 .3 3.3 .4-5.7 .3 2.2 .4 1.4 .3-9 .4 6.5 .3-2.1 .4 .5 .3 3 .4-3.9 .3 5.1 .4-1 .3-11.1 .4 5.7 .3 11 .4-9.6 .3 6.8 .4-4.4 .3-1.4 .4-1 .3 1.3 .4-.2 .3-2.7 .4 4.9 .3 4.7 .4-16.9 .3 12.6 .4 4.9 .3-7.2 .4-1.3 .3-2.2 .4 .4 .3 10.5 .4-12.3 .3 5.2 .4-.8 .3-.7 .4 .3 .3 6.5 .4-6.5 .3-.2 .4 .5 .3 .4 .4-1 .3 1.8 .4 4.8 .3-5.6 .4 2.8 .3-7.6 .4 3.1 .3-.3 .4 2.9 .3-3.9 .4 0 .3 .9 .4-2.2 .3 2 .4 .7 .3-2.6 .4-.7 .3 4.3 .4 1.5 .3-2.9 .4 .7 .3-6 .4 5.3 .3-.8 .4-10.1 .3 8 .4 5.5 .3-5.9 .4-.7 .3 2.6 .4-4.1 .3 2.9 .4 2.1 .3-4.4 .4 2.3 .3-5.4 .4 4.3 .3 5.1 .4-4.5 .3 2.8 .4-2.7 .3-1.9 .4 1.4 .3 1 .4-2.9 .3 .2 .4 3.5 .3-7.2 .4 2.4 .3-.2 .4 2.2 .3-5.4 .4 2.6 .3-1.8 .4-2.7 .3-3 .4 .5 .3 .5 .4-1.6 .3 1.5 .4-1.9 .3-2.7 .4 3.2 .3-7.5 .4-.3 .3-4.7 .4 5.7 .3-5.7 .4-9.1 .3 8.3 .4-9 .3-5 .4-5 .3-1.2 .4-1.1 .3-1.2 .4-4.5 .3-5.6 .4-1 .3-6.5 .4-4.2 .3-7.8 .4-2 .3-5.8 .4 2.4 .3-2.6 .4 3 .3 .4 .4 8.7 .3-7.6 .4-4.9 .3 8.1 .4 3.1 .3 1.2 .4 4.9 .3 .4 .4-1.8 .3 1.3 .4-7.7 .3 14.1 .4-8.4 .3 8.7 .4 .6 .3 4.2 .4-2.1 .3 .5 .4 12.4 .3-7.4 .4-1.1 .3 7.2 .4-7 .3 12.9 .4-8 .3 6.9 .4-2.8 .3 7.4 .4-8.6 .3-.2 .4 10.7 .3-4 .4-4.6 .3 8.9 .4 2.6 .3 .1 .4-12.3 .3 15.4 .4-3.7 .3 1 .4-1.5 .3 1.5 .4-3.6 .3 6.4 .4-1.6 .3 8.6 .4-14.1 .3 8.9 .4-2.8 .3 2.5 .4-5.1 .3 7.7 .4-5.2 .3 1.6 .4 .4 .3 1.3 .4 4.4 .3-10.9 .4 9.2 .3-.2 .4-2.8 .3 1.4 .4-2.9 .3 9.7 .4-1.8 .3 1.5 .4-4 .3-.7 .4 .9 .3 1.6 .4-1.5 .3 4.8 .4 2.4 .3-15.6 .4 10.7 .3-2.1 .4-4.4 .3 1.5 .4 5.9 .3-1.7 .4-1.9 .3 8.4 .4-5.7 .3 3.2 .4-4.4 .3 1.4 .4-2.9 .3 2.7 .4 1.9 .3-3.7 .4 1.3 .3 1 .4 3.8 .3-8.2 .4 3.7 .3-2.5 .4 2.8 .3-2.5 .4 .7 .3-1.9 .4-.4 .3-4.2 .4-3.4 .3-.9 .4-10.3 .3 5.8 .4 7.1 .3-2.4 .4 4.6 .3 3.4 .4 3.5 .3-2.1 .4 13.1 .3-8.3 .4-2.9 .3 7.6 .4-6.5 .3 3.4 .4-1.1 .3 3.5 .4-1.7 .3 .7 .4 .8 .3 3 .4-5.8 .3-.4 .4 2.6 .3-2.5 .4 2 .3 6.1 .4-4.3 .3-2.5 .4 .8 .3-8.3 .4 12.5 .3-7.5 .4 2.9 .3 1 .4 4.7 .3-5.8 .4-.2 .3-5.9 .4 16 .3-7 .4 1.1 .3-1.2 .4-2.1 .3 3.8 .4 2.1 .3-1.8 .4 3.8 .3 1.5 .4-3.3 .3-.7 .4-3.7 .3 .6 .4 1.5 .3-3.5 .4 5.2 .3 .2 .4-2 .3 4.4 .4-.8 .3-1.1 .4-4.1 .3-1 .4 5 .3 2 .4 8.4 .3-8.5 .4-10.6 .3 14.7 .4 3.6 .3 1.3 .4-7.1 .3-3.9 .4 .1 .3 9 .4-5 .3-6.6 .4 3.3 .3 1.7 .4 1.1 .3-.6 .4 .7 .3-4 .4 .7 .3 1.1 .4 .2 .3 3.9 .4-5.7 .3 7.5 .4-4.2 .3 .7 .4-2.5 .3-2.3 .4 7 .3-.4 .4-.3 .3-2.3 .4 4.9 .3-5.9 .4-.1 .3-1 .4 1.2 .3-1.7 .4 6.9 .3 2 .4-6.3 .3 .9 .4 5.1 .3-4.2 .4-5.4 .3 4.4 .4 5.5 .3-3.3 .4 1.2 .3 5.8 .4-10.3 .3 2.4 .4-.4 .3-.4 .4 3 .3-6.1 .4 2.2 .3 .2 .4-3.8 .3 4.4 .4-2.9 .3 4.1 .4-6.9 .3 6 .4 1.8 .3 1.2 .4-6.5 .3 3.3 .4-2.3 .3-.4 .4 11.8 .3-8.8 .4 2.4 .3-2.7 .4 1.4 .3 1.6 .4-4.7 .3 5.5 .4 0 .3 .4 .4-5.1 .3 6.1 .4-3.9 .3-1.5 .4 1.2 .3 2.1 .4-12.7 .3 9.6 .4-.5 .3-3.4 .4 3.8 .3-1.3 .4 2.1 .3-4.5 .4 8.1 .3-3.9 .4-2 .3 2.5 .4 .8 .3 3.4 .4-1.4 .3-3.9 .4 2.8 .3 1.7 .4-4.3 .3-3.6 .4 1.7 .3 2.9 .4-1.6 .3-1.9 .4 3.1 .3 .9 .4-3 .3 5 .4-2.8 .3-5.5 .4 5.4 .3 5.9 .4-10.6 .3 7.6 .4-6.1 .3 .7 .4 6.2 .3-3.2 .4-.9 .3-.1 .4 0 .3 .3 .4 1.8 .3-4.8 .4 1.9 .3 1 .4-.1 .3-3.9 .4 3.2 .3 .3 .4-1.2 .3 1.1 .4 2.5 .3-1.9 .4 .2 .3 .8 .4 8.7 .3-15.5 .4 4.6 .3 3.5 .4-2.8 .3 1.3 .4-2.3 .3 4.4 .4-2.1 .3-2.5 .4 8.2 .3-14.7 .4 12.3 .3-4 .4 6.4 .3-11.9 .4 6.2 .3-.3 .4-9.1 .3 8.6 .4 7.4 .3-6 .4-10.7 .3 9.5 .4 1.7 .3 2.2 .4-4.1 .3 3.2 .4-6.7 .3 4.6 .4-1.4 .3 5.2 .4-6.2 .3-.6 .4 3 .3 2.7 .4-5.4 .3 2.4 .4 1.2 .3-4.9 .4 3.7 .3-1.1 .4 2.9 .3 .1 .4-2.4 .3-3.4 .4 1.2 .3-1.8 .4 4.5 .3 1.6 .4 .9 .3-1.5 .4-.6 .3 1.2 .4 2.3 .3-9 .4 5 .3 .7 .4-5.4 .3 5 .4 2.1 .3-3.2 .4-3.7 .3 6.9 .4-2.9 .3-.4 .4-.9 .3-7 .4 11.9 .3-4.4 .4 1.3 .3-8.8 .4 13.4 .3-3.4 .4 4.9 .3-7.3 .4 1.7 .3-.6 .4-.3 .3-.4 .4-.6 .3-4.2 .4 6.9 .3-6.4 .4-5.6 .3 13.4 .4-3.4 .3-1.8 .4 3.6 .3-.7 .4-1 .3 2.8 .4-.6 .3-4.3 .4 2.1 .3 .4 .4-1.5 .3 3.8 .4-2.6 .3-1.4 .4 .5 .3 8.1 .4-6.7 .3-2.9 .4-.5 .3 1.6 .4 2.5 .3-5.1 .4-2.5 .3 5.5 .4 0 .3-.8 .4 4.1 .3-2.7 .4-2.9 .3 .5 .4-1.6 .3-4.1 .4 6.6 .3-4.7 .4 2.7 .3 11.5 .4-8.5 .3 1.1 .4-2.6 .3-4.5 .4 2.3 .3-3.5 .4 9.1 .3-2.7 .4-2.2 .3 1.3 .4-.3 .3 4 .4-9.2 .3 7.5 .4-4.3 .3-.1 .4-1.1 .3 3.9 .4 1.1 .3-1.1 .4 2 .3-2 .4-2.3 .3-2.3 .4 6.5 .3-2.5 .4 4 .3 4.3 .4-8.4 .3 6.2 .4-9.1 .3-.7 .4-1.9 .3 5.9 .4 9.4 .3-8.9 .4-1.3 .3 9.1 .4-8.6 .3 2 .4 2.5 .3-7.9 .4 2.2 .3 2.3 .4-.8 .3-9.7 .4 8.1 .3 3.6 .4-3.3 .3-.9 .4-2.9 .3 4.7 .4 5 .3-5.8 .4 6.4 .3-7.1 .4 .3 .3 2.6 .4-.3 .3-3.7 .4 2 .3-6.7 .4 9.6 .3 2.3 .4-.1 .3-7.5 .4 2.4 .3-5.7 .4 12.6 .3-6.7 .4-1 .3-3.6 .4 14.4 .3-11.2 .4 .9 .3 3.1 .4-4.1 .3 3.7 .4-7.5 .3-.8 .4 7.6 .3 1.5 .4-1.6 .3-1.6 .4-6 .3 5.5 .4 5.6 .3-9.3 .4 4.8 .3-1.9 .4 2.6 .3-10.6 .4 11 .3-4.1 .4 5.3 .3-2.5 .4-2.6 .3 1.7 .4 .6 .3 1.8 .4 1.9 .3-5.1 .4-5 .3 8.2 .4 1.3 .3-1.5 .4-3.8 .3-1.4 .4 .8 .3 4.1 .4-1.2 .3 .6 .4 5.9 .3-8.4 .4 1 .3-3.5 .4 3.4 .3-3.6 .4 4.4 .3-1.9 .4 .6 .3 1.5 .4 8.5 .3-10.1 .4-1.4 .3-.4 .4 7.5 .3 3.7 .4-7.6 .3-9.5 .4 9.5 .3 3.5 .4 3.2 .3-9.1 .4-.7 .3-3.1 .4 4.3 .3-2.8 .4-.5 .3 .6 .4 4 .3-6.2 .4-1.6 .3 4 .4 5.2 .3-5.3 .4 1.6 .3-2 .4-4.4 .3 11.7 .4-10.5 .3-4.4 .4 4.3 .3-9.6 .4 4.1 .3 3.7 .4 0 .3 10 .4-9.2 .3-2 .4 0 .3-3.4 .4 5.9 .3-4.7 .4 8.6 .3-6.9 .4 1.4 .3-3.8 .4-3.6 .3 2.2 .4-1.3 .3 5.6 .4-4.3 .3-1.2 .4-.5 .3 3.2 .4-3.8 .3-.8 .4 1.8 .3 .1 .4-7.5 .3-1.6 .4 6 .3-3.4 .4-1.4 .3 1.6 .4-.7 .3-1.6 .4-5.8 .3 9.9 .4-7.3 .3-1.4 .4 4.1 .3-5.6 .4 2.3 .3 .8 .4-.4 .3-6.7 .4 5.4 .3 2.9 .4-7.5 .3 5.5 .4 3.2 .3-8.6 .4 2.4 .3 5.4 .4-6.3 .3 1 .4 10.1 .3-15.5 .4-4 .3 3.8 .4 1 .3 4.5 .4-.6 .3-2.1 .4-1.1 .3 1 .4 8.5 .3-12.7 .4 5.2 .3 10.4 .4-2.9 .3 7.1 .4-14.3 .3 2.5 .4-.3 .3 4.6 .4-5.7 .3-.3 .4 2.6 .3 5.2 .4-8.4 .3 6.1 .4 3.7 .3-9.4 .4 4.7 .3 2.8 .4-3.2 .3-3.9 .4 .9 .3 5.4 .4-5.1 .3-8.1 .4 5.5 .3-4.3 .4-7.7 .3 6.7 .4-3.1 .3-6.6 .4 7.5 .3-7.7 .4 12.9 .3 1.6 .4-7.3 .3 4.3 .4 3.3 .3 4.2 .4 2.2 .3-3.6 .4 7.1 .3 7.4 .4-4.1 .3 .1 .4 11.7 .3-14.8 .4 15.6 .3-13.1 .4 4.5 .3 7.5 .4-4.1 .3 4.7 .4-1.1 .3 1.3 .4-1.6 .3 1.5 .4 6.2 .3 3.4 .4-14.2 .3 10 .4 1.1 .3-2.6 .4 13 .3-8.7 .4-1 .3-1.5 .4-5.6 .3 10.7 .4-2.5 .3-7.3 .4 5.6 .3 2.5 .4 9 .3-13 .4 7.2 .3 .5 .4 .4 .3 .4 .4-1.2 .3 2.2 .4-1.5 .3-.2 .4-2.7 .3 2.2 .4-.4 .3-.4 .4 1.7 .3-.6 .4-2.4 .3 1.2 .4-.1 .3-.6 .4 .2 .3-7.4 .4 6.1 .3 .7 .4-2.8 .3 1 .4-1.5 .3 3.6 .4-2.2 .3-.7 .4 2.5 .3-4.9 .4-1.5 .3 4.9 .4-1.8 .3 .7 .4-3.2 .3 4 .4-4.5 .3-.3 .4 3.6 .3-1.7 .4 1.1 .3-.7 .4 .8 .3 4.7 .4-6.1 .3 6.2 .4 1.5 .3-3 .4-6.2 .3-.2 .4 1.5 .3 8.1 .4-4.2 .3 6 .4-4.4 .3-5.4 .4 7.4 .3-3.1 .4 1.4 .3-1.9 .4 7.3 .3-7.9 .4 16.2 .3-10.6 .4 1.3 .3 2.6 .4-2.6 .3 1.3 .4 9.2 .3-9.2 .4-.4 .3 1.6 .4-1 .3-1 .4-7.7 .3 9.4 .4 5.2 .3-1.9 .4-6.8 .3 3.5 .4-.2 .3-.6 .4-1.7 .3 4.2 .4-3.1 .3 9.9 .4-15.4 .3 1 .4 2.3 .3 5.1 .4-4 .3-4.7 .4-4 .3 3.5 .4 3.7 .3 5.6 .4-4.6 .3 1.9 .4 1.4 .3-3.6 .4 4.9 .3-7.1 .4-5.6 .3 5.2 .4 7.7 .3-9 .4 1.3 .3 1.8 .4-2.1 .3-.8 .4 3.7 .3-2.1 .4-4.8 .3 1.8 .4 3.4 .3-1.2 .4-6.6 .3 3.7 .4 3.6 .3-.2 .4-1.4 .3-3.9 .4 7.6 .3-4.5 .4-1.4 .3-.1 .4 .6 .3-9.2 .4 13 .3-1.7 .4 1 .3-3.2 .4 .3 .3-1.1 .4 3.7 .3-1.1 .4-.1 .3-2.5 .4-6.1 .3 8.8 .4 2.9 .3 1.2 .4 1.5 .3-3 .4 .4 .3 8.7 .4-7.8 .3-2.8 .4 9.4 .3-6.8 .4 1.1 .3-1.9 .4 6.8 .3-6.7 .4 6.2 .3 5 .4-7 .3 1.8 .4-4.8 .3 7.4 .4-10.3 .3 3 .4 2.7 .3 .9 .4 8.7 .3-3.9 .4-.1 .3-.8 .4-3 .3 1.3 .4 2.7 .3-4.2 .4 1.1 .3 9.2 .4-9.8 .3 .9 .4-3.3 .3 .4 .4 5.9 .3-5.2 .4 4.7 .3-1.3 .4-4 .3 .7 .4 4.4 .3-1.5 .4-.3 .3-1.1 .4-8.7 .3 8.5 .4-1.7 .3 1.8 .4 1.9 .3-5.9 .4-1.6 .3 10.5 .4-3.2 .3 .3 .4 1.1 .3-6.2 .4 5.8 .3-1.3 .4-2.7 .3 .4 .4-3.4 .3-3.7 .4 9.8 .3-1.8 .4 5.1 .3-13 .4 12.7 .3-1.7 .4-1.1 .3-.6 .4-3.9 .3 5 .4-2.4 .3 2 .4-.8 .3 .6 .4-4.2 .3 4 .4 0 .3-3 .4 3.2 .3-1 .4 2.8 .3 .3 .4-.8 .3-3.1 .4-1.6 .3-1.2 .4 5.8 .3 .5 .4-9.8 .3 13.7 .4-14.8 .3 7.6 .4 3.8 .3-8.7 .4 7.5 .3-1.7 .4-1.3 .3 3.9 .4 .1 .3-3.3 .4-1.1 .3-.1 .4 5.6 .3-2.9 .4 .4 .3 1.4 .4-.7 .3-7.3 .4 3.4 .3 5 .4-10.4 .3 10.6 .4-3.2 .3-2.9 .4 13.6 .3-3.2 .4-5.7 .3-2 .4-1.9 .3 1.9 .4 8.3 .3-8.7 .4 .1 .3 2.9 .4-3 .3 4.8 .4-2.5 .3 .7 .4-2.8 .3-1.8 .4 6.4 .3 2.9 .4-7.1 .3 .7 .4-5.8 .3 12.7 .4-7.1 .3 1.1 .4 .8 .3-2.3 .4-7.2 .3 .4 .4 3.5 .3 4.2 .4-.9 .3-3.1 .4 1.3 .3 .7 .4 .8 .3-8 .4 6.1 .3 1.9 .4 2.7 .3-6.8 .4-6.5 .3 3 .4 4.9 .3 .9 .4-2.2 .3 .7 .4-3.1 .3 1.2 .4-2.8 .3 5 .4-6.5 .3 3.1 .4 .1 .3 1.3 .4-2 .3 5 .4-10.3 .3 1.4 .4-.9 .3-1.2 .4 1.8 .3-.4 .4-2.8 .3 2.9 .4-14.4 .3 6.5 .4-4.8 .3 5.3 .4-7 .3 .2 .4-.5 .3-8.5 .4 6.4 .3-.5 .4-4.9 .3 2.5 .4 10.6 .3-6.6 .4-5.3 .3 .8 .4-1.8 .3-.4 .4 5.1 .3 1.2 .4-5.4 .3 2.5 .4-1 .3 5.1 .4-4 .3 .9 .4-7.2 .3 7.4 .4-4.2 .3 .9 .4 4.5 .3-2.3 .4 1.5 .3-2.6 .4-6.8 .3 2.7 .4 1.5 .3 2.7 .4-1 .3 .8 .4-2.7 .3-.9 .4 5.1 .3-4.9 .4 3.7 .3 1.1 .4 1.4 .3-.6 .4-2.6 .3 1.4 .4 4.4 .3-3.5 .4-3.5 .3 2 .4 .6 .3 5.1 .4-.8 .3-4.8 .4 1.4 .3-.4 .4 8.3 .3-.4 .4-6.7 .3-1.3 .4 1.6 .3 2.6 .4-1.9 .3 1.5 .4 9 .3-8.7 .4 10.2 .3-10.4 .4 .9 .3-1.9 .4 2.7 .3 2.7 .4-.6 .3-6.7 .4 6.5 .3-3.9 .4-3.4 .3 5.6 .4 2.4 .3 4.3 .4-10 .3 2.3 .4 4.7 .3-13 .4 10.9 .3 .1 .4 .1 .3 4.1 .4-6.7 .3-.9 .4 4.7 .3-2 .4-4 .3 3.1 .4-.5 .3-3.3 .4 4.1 .3-6.5 .4 9.2 .3 1.2 .4-13.1 .3 6.2 .4 0 .3 8.1 .4-3.7 .3 4.1 .4-3.4 .3-2.4 .4-1.5 .3 3.3 .4 7.2 .3-5.9 .4-1.3 .3 7.5 .4-9 .3 10.4 .4-8 .3 .3 .4 0 .3 3.8 .4-.9 .3-1.2 .4-2.3 .3-1.7 .4 1.7 .3-.2 .4 .1 .3 3.3 .4-5.2 .3 4.5 .4-5.6 .3 4.3 .4 1.7 .3 3.1 .4-13.5 .3 14.6 .4 3.7 .3-10.5 .4 8.3 .3-5.9 .4 .1 .3-4.5 .4 7.1 .3-10.2 .4 10.5 .3-4.1 .4-4.7 .3 10.2 .4-8.6 .3 7.1 .4-3.3 .3 4.7 .4-1.3 .3-.5 .4-2.8 .3 5.7 .4 .7 .3-6.1 .4 2.7 .3 1.1 .4 2.8 .3-1.6 .4-1.1 .3 1 .4-.5 .3 .4 .4 .5 .3-3.2 .4 2.5 .3-7.4 .4 10.4 .3-5.4 .4 1.3 .3 .6 .4 1.7 .3 .2 .4-3.7 .3-.6 .4 6.5 .3-3.4 .4 2.4 .3-4.9 .4 7.7 .3-5.9 .4 5 .3 6.7 .4-13.6 .3 1.6 .4 2.7 .3-1.3 .4 0 .3 3.5 .4-2.7 .3 1.5 .4 2.7 .3 2 .4-6.7 .3-1.5 .4 4.2 .3 2.5 .4-3 .3-1.2 .4 4.7 .3-4 .4 .8 .3 10.7 .4-9.9 .3 .1 .4 1.5 .3-2.7 .4 3.1 .3-6.5 .4 5.2 .3 2.3 .4 .7 .3-1.2 .4-3.3 .3 8.3 .4-5.7 .3 .8 .4 3.1 .3-6 .4 5.5 .3-.9 .4-11.2 .3 7.5 .4 3.5 .3-4.1 .4 4.4 .3 5.8 .4-8.7 .3 1.4 .4 1.9 .3 1.7 .4-12.5 .3 12.8 .4-10.9 .3 8.6 .4 1.7 .3-7.2 .4 4.5 .3-2.2 .4 2.7 .3 .6 .4-.5 .3-1 .4 8.7 .3-6.9 .4-5.4 .3 5.9 .4-4.2 .3 12.1 .4-19 .3 9.5 .4-1 .3 5.8 .4-6.4 .3-2.3 .4 1.5 .3 3.1 .4 2.1 .3 .1 .4-2.2 .3 2.6 .4-8.1 .3 6.6 .4-2.5 .3-1.6 .4 5.5 .3 .1 .4-4.6 .3 1.1 .4-2.5 .3 7.4 .4-14.7 .3 7.6 .4 4.7 .3-3.8 .4 1.6 .3-3.4 .4 8.9 .3-3.3 .4-.1 .3-4.8 .4 5.3 .3-1 .4-1.7 .3 2.9 .4-4.8 .3-1.7 .4 2.4 .3 3 .4-1.6 .3 .4 .4 2.6 .3-1.4 .4-1.1 .3-4.4 .4-.8 .3 10.7 .4-14.3 .3 10.7 .4-3.9 .3-.6 .4-1.5 .3 1.6 .4 2.8 .3-6.7 .4 3.1 .3-.1 .4-.2 .3 1.3 .4 2.9 .3-.2 .4-8.8 .3 8.3 .4-.9 .3-6.3 .4 5.4 .3-6.9 .4 7.2 .3-6 .4 5.7 .3 1.2 .4-4.1 .3 6.8 .4-6.5 .3 1.7 .4-2.5 .3-.3 .4 7.9 .3-9.3 .4 3.1 .3 1 .4-3.2 .3 4.2 .4 1.6 .3-7 .4 2 .3 2.8 .4 2.3 .3-4.8 .4 6.2 .3-10.3 .4 2.5 .3 3.5 .4 .7 .3 1 .4-2.7 .3-2.4 .4 2.5 .3 1.5 .4-.1 .3-.1 .4 4 .3-3.8 .4-1 .3-.9 .4 5.9 .3 0 .4-2.4 .3-1.5 .4-2.8 .3 5.6 .4-4.7 .3 2.6 .4-1.2 .3-3.5 .4 4.7 .3-.1 .4 2.7 .3-13.2 .4 11.4 .3 5.1 .4-7 .3 4.1 .4 2.6 .3-9.6 .4 3 .3-7.8 .4 9.1 .3-4.4 .4 4.3 .3-5.5 .4 .9 .3 12.3 .4-5.4 .3-3.1 .4-5.2 .3 8.6 .4-11.6 .3 3.5 .4-4.1 .3 13.7 .4-4.1 .3 .1 .4-.6 .3 .6 .4-.4 .3 5.2 .4-4.6 .3 3.2 .4-7.9 .3 2 .4 3.8 .3 2.3 .4-4.5 .3 5.7 .4-10.9 .3 10.1 .4-1.9 .3-1.5 .4-3.2 .3 8.1 .4-6.7 .3-5.2 .4 7.5 .3-1.8 .4-1.6 .3 8.7 .4-8.8 .3 3.6 .4 2.5 .3-.7 .4-3 .3 1.4 .4 .6 .3 1.5 .4-1.1 .3-.3 .4-1 .3-1.1 .4 1.3 .3-.4 .4 3.4 .3-7.9 .4 4.3 .3-.5 .4-3.1 .3 8 .4-2.1 .3-10.4 .4 8.1 .3-.6 .4 2.1 .3 7.1 .4 2.5 .3-9 .4 .6 .3 4.5 .4-2.5 .3-7.8 .4 6.3 .3-2.3 .4-1.4 .3 1.6 .4 4 .3-7.9 .4 7.5 .3-3.8 .4 5.2 .3-6.5 .4 2.9 .3-.1 .4-1.1 .3 4.3 .4 1.4 .3-7.7 .4 2.4 .3 4.9 .4-4.4 .3-.3 .4-1.4 .3 5.4 .4 .7 .3-9.1 .4 3.1 .3 1.3 .4 .3 .3-2.7 .4 1.7 .3-.1 .4-8.3 .3 15 .4-4 .3-2.9 .4-3.4 .3 12.3 .4-5.3 .3-7.4 .4 6.6 .3-4.5 .4 1.2 .3 6.3 .4-1.2 .3-1.7 .4-7.8 .3 5 .4 1.8 .3 2 .4-4.8 .3 4.7 .4-10 .3 11.4 .4-6.8 .3 8.1 .4-6.1 .3 1.5 .4-2.2 .3-.4 .4 0 .3 1.6 .4-8 .3 10.1 .4-3 .3 2 .4-8.2 .3 7.5 .4 1 .3-4.6 .4 6.8 .3-1.8 .4-.7 .3 1.6 .4-5.5 .3 6.9 .4-6.4 .3 2.9 .4-1.3 .3-2.3 .4 6.8 .3-3.9 .4 1.6 .3-.6 .4-4.6 .3-.3 .4 2.4 .3 1 .4 2.1 .3-3.3 .4 3.9 .3-7.4 .4 5.1 .3 2.4 .4 7.8 .3-4.5 .4-3.6 .3 2.4 .4-5.3 .3 5.2 .4-6.8 .3 6.1 .4-2.4 .3-1.3 .4 1.5 .3-1.6 .4 4.9 .3-3.9 .4-8.3 .3 13.6 .4-4.6 .3-3.6 .4 3.7 .3-1.1 .4 0 .3-1.7 .4 11.4 .3-7.7 .4-2.5 .3 3.7 .4 .1 .3-4.8 .4-5.6 .3 10 .4-10.4 .3 6 .4-6.1 .3 8 .4 .3 .3-1.7 .4-3 .3 10.3 .4-10.3 .3 7.6 .4-4.3 .3 1.7 .4-1.8 .3 1.6 .4 .3 .3-9.9 .4 8.6 .3-1.9 .4 2.5 .3 .4 .4-2.3 .3 6 .4-3.7 .3-1.8 .4-1.2 .3 7.5 .4-14.8 .3 12.7 .4-3.7 .3 8.1 .4-4.2 .3-2.1 .4-1.6 .3-.5 .4 3.3 .3-12 .4 15.6 .3-5 .4-8.7 .3 10.9 .4 5.7 .3-10.2 .4 2.9 .3-.8 .4-10.4 .3 19.3 .4-11 .3-2.1 .4 4.7 .3-2 .4 .5 .3 1.7 .4-4.5 .3-1.6 .4 8.3 .3-2.6 .4-6.1 .3 5.3 .4-1.8 .3 .5 .4 4.3 .3 .4 .4-2.5 .3 1.7 .4-2.6 .3 1 .4-2.6 .3 1.5 .4-2.2 .3 .7 .4-.2 .3 1.4 .4 1.2 .3 1.6 .4-8.2 .3 15.9 .4-8.2 .3-3.4 .4-7.6 .3 8.8 .4-1.3 .3 2 .4 .6 .3-1.1 .4 1 .3-.4 .4 .4 .3-3.2 .4-1.8 .3 6.9 .4 1 .3-5 .4-.1 .3 8.6 .4-5.7 .3-6.2 .4 12.3 .3-7.6 .4-2.6 .3 4.1 .4 2 .3-1.4 .4-.2 .3 1.4 .4-1 .3-.1 .4 .3 .3-3.8 .4 3 .3 3.3 .4-3.3 .3 .7 .4 1.1 .3 .6 .4-.8 .3-3 .4-1.2 .3-4.9 .4 9.3 .3-1.6 .4 .1 .3 2.2 .4 .9 .3-2.8 .4 7.4 .3-4.4 .4-1.8 .3-5.3 .4 5.1 .3-4.5 .4 3.8 .3-9.4 .4 9.4 .3-.4 .4 5.3 .3-6.3 .4 3.1 .3-2.7 .4 4 .3-1.1 .4-3.1 .3 0 .4 4.7 .3-2.5 .4-3.7 .3 4.5 .4 1.1 .3 3.2 .4-6.5 .3-1 .4 3.1 .3-1.3 .4 .2 .3-.4 .4 10.6 .3-12 .4 .8 .3-2.9 .4-2.3 .3 4 .4 .4 .3 4 .4-1.2 .3-.8 .4 3 .3-4.9 .4 2.5 .3-3.2 .4 4.5 .3 1.3 .4-1.9 .3 1.9 .4 3 .3-5.9 .4 .2 .3 3.7 .4-3.4 .3-.7 .4 .8 .3 .5 .4-2.5 .3 5.2 .4-3.8 .3 6 .4-10.8 .3 4.7 .4 1.9 .3-2.6 .4 .4 .3 .9 .4 5.3 .3-1.5 .4-4.3 .3 1.7 .4 1 .3 3 .4-2.7 .3 .8 .4 6.4 .3-8.4 .4-3.5 .3 6.1 .4-2.9 .3 6.4 .4-7.5 .3 .7 .4-4.8 .3 4.6 .4-.9 .3 3.2 .4-2.6 .3 4.1 .4-.9 .3-1.5 .4-2.7 .3 2.1 .4-3.5 .3 3.6 .4-9.8 .3 .1 .4 10.2 .3-.1 .4-3.5 .3 .1 .4-6.4 .3 2.8 .4 5 .3 2.9 .4-1.3 .3-1 .4-1.7 .3 3.2 .4-1.2 .3 .9 .4-1.9 .3 1.5 .4-.2 .3 6 .4-6 .3-6.2 .4 4.3 .3 7.7 .4-7.4 .3 2 .4 1.2 .3-4.9 .4 1.7 .3 .7 .4 3.7 .3 1 .4-2.9 .3-7.6 .4 4.2 .3 2.9 .4 2.5 .3-.6 .4-9.1 .3 7.8 .4-3 .3 1.6 .4 .7 .3 5.7 .4-6.1 .3-.6 .4 5.5 .3-5.9 .4 4 .3-4.5 .4 11.6 .3-7 .4 3.9 .3-9.1 .4 3.4 .3 1.1 .4-1 .3-.6 .4-.3 .3 4.7 .4-4.3 .3-2.4 .4-1.9 .3 5.4 .4-1.5 .3 8.8 .4-9.5 .3 .6 .4-3.1 .3 7.3 .4-3.1 .3 .5 .4-.7 .3-1.8 .4 5.5 .3-7.6 .4 3.3 .3-.2 .4-2.5 .3 5 .4-7.2 .3 4.6 .4-.1 .3 1.6 .4 5.8 .3-.7 .4 .8 .3-5.3 .4 1.1 .3-4.7 .4-3.7 .3 6.2 .4 1.1 .3-3.4 .4 4.5 .3 3.1 .4-5.3 .3-9.2 .4 9.8 .3-.8 .4-1.4 .3 .6 .4-.5 .3 4.6 .4-2.3 .3 1.2 .4 2 .3-9.7 .4 5.4 .3 5.4 .4-4.9 .3 9.8 .4-9.7 .3-.5 .4 1 .3-9.8 .4 6.4 .3 .8 .4 7 .3-8.4 .4 5.3 .3 2.1 .4-9.4 .3 5.1 .4 3 .3-1.3 .4-.5 .3 1 .4-5.9 .3 5.5 .4-2.6 .3 2.7 .4 .8 .3-1.8 .4 4 .3-5.1 .4 .6 .3 1.2 .4-2.9 .3 2.9 .4 .8 .3 .8 .4 3 .3-8.5 .4 1.2 .3 2.1 .4-.5 .3-2.2 .4 2.2 .3-1.3 .4-1.5 .3-3.5 .4 10.6 .3-4.4 .4 1.5 .3-3.6 .4 5.3 .3-6.8 .4 2 .3 3.6 .4-.5 .3-3 .4 2.6 .3 1.5 .4-3.3 .3 .9 .4 .6 .3-2.6 .4-1 .3-.4 .4 1.9 .3 3.1 .4-2.9 .3 11.3 .4-8.1 .3-2.3 .4-3.8 .3 10.1 .4-4.8 .3 2 .4 7.2 .3-11.8 .4-1 .3 .6 .4 3 .3-2.1 .4 .5 .3 1.2 .4-.3 .3 10 .4-8 .3-2.7 .4-2.8 .3 7.3 .4-4.7 .3 1.6 .4 1.2 .3-6.3 .4 3.5 .3 .2 .4 1.2 .3-.8 .4-3.3 .3 5 .4-8.9 .3 11 .4-2.6 .3 0 .4 3.7 .3-6.8 .4-1.9 .3 5.7 .4-.9 .3 3.5 .4-4.9 .3 .6 .4 .6 .3-.5 .4-3 .3 3.2 .4 0 .3 2.2 .4-.7 .3 4.9 .4-5.1 .3-.1 .4-1.2 .3-2.7 .4 6.5 .3 .3 .4-3.6 .3 .8 .4-5 .3 .5 .4-4.8 .3 9.2 .4 .1 .3-.5 .4 2.5 .3-3.2 .4 4.1 .3-3.4 .4-.3 .3-9.3 .4 11.6 .3-1.5 .4-1.9 .3 1.6 .4-2.1 .3 4.6 .4-2.4 .3 .5 .4-7.3 .3 10.6 .4-4.2 .3-1.8 .4 1.6 .3-1.6 .4 2.5 .3 2.2 .4-2.4 .3 0 .4 1.5 .3-4.2 .4 2.1 .3-6.9 .4 4.4 .3 1.7 .4 4.4 .3-3.4 .4-1.7 .3-7.8 .4 8.4 .3 3.6 .4-.7 .3-2.9 .4-8.4 .3 7 .4 6.5 .3-8.3 .4 4.8 .3-10 .4 9.4 .3 3.2 .4-3 .3-.5 .4 .8 .3-4.9 .4 5.9 .3-.5 .4-.7 .3-.7 .4 .5 .3-2.8 .4-.8 .3 3.9 .4-2.3 .3 4.1 .4 4.1 .3-4.1 .4-1.3 .3-.1 .4-2.5 .3 2 .4 6.8 .3-5.8 .4-10.7 .3 10.8 .4-4.5 .3-1.5 .4 5.8 .3-2.6 .4 1.8 .3-1.6 .4 1.4 .3 1.4 .4-2.7 .3 2 .4-.9 .3 .7 .4-6.3 .3 9.7 .4 4.6 .3-11.2 .4-3.6 .3 5.4 .4 1.7 .3-5.2 .4 .1 .3 7.1 .4-7.5 .3 14.1 .4-9.8 .3 1.5 .4-5.6 .3 7.1 .4-6.3 .3 3.2 .4 .9 .3-6.2 .4 11.4 .3-2 .4-11.1 .3 6.3 .4-5.7 .3 6.4 .4-3 .3 5 .4-3.5 .3 .9 .4 2.3 .3-.4 .4 8.6 .3-16.2 .4 6 .3 1.3 .4-1 .3-2.5 .4 6.3 .3-4.4 .4 4.3 .3-2.7 .4-1.9 .3-1.6 .4 3.8 .3 2.4 .4-2.3 .3 3.8 .4-10.3 .3 4.3 .4 3.3 .3-3.6 .4-2.1 .3 6 .4-1.1 .3-3.5 .4 4.4 .3 7.3 .4-13 .3 5 .4-4.9 .3 5.3 .4-3.9 .3 1.2 .4-1.1 .3-7.2 .4 9.5 .3-2.3 .4 5.4 .3-2.2 .4-2.9 .3-1.6 .4 7.5 .3-1 .4-2.4 .3-1.1 .4-.1 .3 3.8 .4 6 .3-8.9 .4-1.7 .3 5 .4-8.5 .3 5.1 .4 7.3 .3-8 .4-3.1 .3 4 .4-1.3 .3-.3 .4-1.9 .3 2.3 .4-2.8 .3 1.7 .4-1.9 .3-5.6 .4 9.6 .3-.6 .4 .1 .3-.7 .4-7.4 .3 9.5 .4-.1 .3 4.7 .4-5.5 .3 3.9 .4-3.1 .3-2.9 .4 8.2 .3-6.2 .4-2.5 .3-7.4 .4 10.6 .3 6.3 .4-7.2 .3-.5 .4-1.2 .3 6 .4-4.3 .3-9.7 .4 8.6 .3 2.6 .4-1.3 .3 2.1 .4-2.7 .3-3.4 .4 4.6 .3-.1 .4-1.6 .3-6.3 .4 5.9 .3-.7 .4 2.3 .3-.3 .4 3 .3-1 .4-1.4 .3 4.2 .4-6.1 .3 1.1 .4 .3 .3-.8 .4 8.8 .3-9.6 .4 .7 .3 .5 .4 .1 .3-.1 .4-.9 .3 2.5 .4-6.7 .3 7.4 .4 4.3 .3-4.7 .4-8.8 .3 5.2 .4-1.5 .3 8.7 .4-4.7 .3-1.5 .4 .2 .3-4.3 .4 4.2 .3 5 .4-6.1 .3 .1 .4 4.8 .3-2 .4-.3 .3-3.9 .4 4 .3 5.6 .4-5.6 .3 .3 .4-2.6 .3-1.6 .4 4 .3-1.7 .4 1.7 .3-2.2 .4 .7 .3-3 .4 2.3 .3 .6 .4 1.5 .3-5 .4-4.5 .3 4.2 .4 3.7 .3 3.5 .4-1.9 .3 .5 .4 1.5 .3 .4 .4-2.7 .3-.3 .4 .6 .3-3.8 .4 1.4 .3 11 .4-6.6 .3-3.2 .4-4.4 .3 2.1 .4 2.9 .3-1.7 .4-.3 .3 1.8 .4-6.5 .3 2.9 .4 2.2 .3 .6 .4-9.1 .3 10 .4-7.4 .3 5.3 .4 1.4 .3-2.2 .4-1.9 .3 1.5 .4-1.9 .3 5 .4-4.6 .3 6.8 .4-5.4 .3-2.8 .4-1.7 .3-1.7 .4 7.1 .3-3.1 .4-.2 .3 6.6 .4-1.9 .3-1.1 .4-1.2 .3 3.4 .4-3 .3-1.1 .4-.8 .3-1.8 .4 2.4 .3 7.4 .4-8.8 .3-1.1 .4-3.9 .3-2.8 .4 3.1 .3 2.2 .4-10.1 .3 11 .4-2.5 .3 2.8 .4-6.1 .3-6.4 .4 11 .3 .4 .4-4.8 .3 4.6 .4-4.1 .3 6.4 .4-6.1 .3-1.9 .4 6.7 .3-9.2 .4 8.6 .3-3.5 .4 .7 .3-1.4 .4 .5 .3 .9 .4-7.4 .3 4.3 .4-.3 .3-1.4 .4 4.8 .3-.5 .4-.6 .3 2.8 .4-2.1 .3-7.4 .4 9.4 .3-3.9 .4-4.9 .3 6.4 .4 0 .3-5.1 .4 5.6 .3-2.3 .4 11.7 .3-8.9 .4 3.4 .3-5.9 .4 4.9 .3-4 .4 5.3 .3-5.8 .4 2.3 .3-4.5 .4-4.3 .3 7.8 .4-1.5 .3 5.6 .4-4 .3-2.4 .4 4.3 .3 3 .4-3.6 .3 2.8 .4 5.4 .3-5.5 .4 .6 .3-4.4 .4 1.2 .3 3.5 .4-3.3 .3-4 .4 5.5 .3-8.5 .4 4.3 .3 6.1 .4-4.2 .3 4.2 .4-12.3 .3 8.4 .4 2.1 .3-7.6 .4 6.1 .3-4.2 .4-.6 .3 2.6 .4 4.2 .3 4.8 .4-2.8 .3-2.2 .4-3 .3 4.5 .4-3.5 .3 .3 .4 .9 .3-9.2 .4 8.8 .3-2.2 .4 5.2 .3-3.6 .4 .7 .3 2.1 .4-7.4 .3 .6 .4 5.8 .3 .9 .4-4.8 .3 3.8 .4 4.8 .3-8.1 .4 1.8 .3 1.4 .4 .4 .3 .6 .4 8.2 .3-9.4 .4 .2 .3-.8 .4 3.2 .3-12.3 .4 11 .3 2 .4-7.5 .3-1.1 .4 9.7 .3-1.5 .4-2.8 .3-2.9 .4 6.1 .3-3.1 .4 1.6 .3-5.5 .4 8.4 .3-3.8 .4 1.1 .3-1.8 .4 1.8 .3 .2 .4 .4 .3-3.3 .4-1.4 .3 4.4 .4-5.3 .3 11.8 .4-8.9 .3 1.7 .4-.8 .3 0 .4-.7 .3-.6 .4 3.5 .3-1.6 .4 3.6 .3-5.8 .4 2.9 .3-3.5 .4 1.7 .3-1.6 .4 1.1 .3 .3 .4 6.1 .3-6.9 .4-3.3 .3 4.1 .4-1 .3 4.6 .4 5.4 .3-.7 .4-1 .3-5 .4 1 .3-2.6 .4 1.5 .3-.7 .4-1 .3 .2 .4-3.8 .3 1.8 .4 5.7 .3-4.2 .4 3 .3-10.3 .4 11.1 .3-4.9 .4 2.2 .3-6.4 .4 7.5 .3 6.3 .4-7.9 .3-1.1 .4 .7 .3 7.9 .4-2.7 .3-3.4 .4-2.9 .3 2.7 .4-.8 .3 .9 .4 2 .3-1.9 .4-.3 .3 3.8 .4 1 .3-.6 .4 2.5 .3-4.1 .4-1.4 .3-.6 .4 1.4 .3-7.5 .4 6.2 .3-.7 .4 4.3 .3 5.7 .4-7 .3-1.2 .4-2.4 .3 10.7 .4-8.7 .3 .8 .4 3.3 .3-4.4 .4-10 .3 6.5 .4 7.7 .3-2.7 .4-5.3 .3 4.4 .4-5.4 .3 3.7 .4 6.2 .3-8.8 .4 6.6 .3 1.4 .4-4.3 .3 3.1 .4-1.6 .3-6.3 .4 4.1 .3 1.3 .4-6.5 .3 8.2 .4-2.6 .3-.3 .4 3.3 .3 2.9 .4-7.2 .3 .5 .4 1.8 .3-.8 .4-1 .3 1.4 .4-1.5 .3-3.3 .4 7.8 .3-8 .4 12.8 .3-6.9 .4 4.7 .3 3.7 .4-9 .3-10 .4 19 .3-8.6 .4 .1 .3-2.9 .4 .8 .3-3 .4-5.4 .3 9.4 .4-2.1 .3 2.7 .4 .1 .3-.5 .4 .3 .3-7 .4 8.5 .3-1.3 .4-3.7 .3 7.2 .4-7.2 .3 2.7 .4 .1 .3 .6 .4-1.2 .3-.3 .4 4.3 .3-10.1 .4 7.4 .3-1 .4 2.5 .3-.9 .4-3.1 .3 7.6 .4-6.2 .3 5.2 .4-3.1 .3-4.1 .4 5.9 .3-3.6 .4-.2 .3 3.1 .4-1 .3-.3 .4-2.2 .3 1.7 .4-.7 .3 4.2 .4-8.4 .3 1.8 .4 12.4 .3-8.4 .4-2 .3 10.4 .4-11.8 .3-3.5 .4 6 .3 4.5 .4-7.4 .3 1.9 .4 1.8 .3 .9 .4-1.5 .3 0 .4-.5 .3-9.3 .4 7.9 .3 0 .4 2.9 .3-4 .4 3.3 .3 .4 .4-4.2 .3 2.7 .4-.2 .3-.7 .4 .5 .3 1.2 .4-2.2 .3-.5 .4-1 .3-3.5 .4 1.7 .3 8 .4-8 .3 8.3 .4-3.9 .3 4.2 .4-5.1 .3 4.2 .4-1.8 .3-6.3 .4-3.8 .3 10.9 .4-6.2 .3 11.5 .4-9.2 .3 1.7 .4 1.6 .3-4 .4 1.3 .3-1.5 .4 2.7 .3 2.2 .4-1.3 .3-9.3 .4 8.2 .3 1 .4 1.2 .3 7.7 .4-11.1 .3 3.2 .4-2 .3-1.2 .4 1.9 .3 3.3 .4-5.3 .3-7.3 .4 9.6 .3-4.1 .4 4.2 .3 2.9 .4-3.2 .3-1.4 .4 10 .3-10 .4 3.1 .3-1.9 .4-.5 .3-.6 .4 2.1 .3-2.8 .4 3.5 .3-3.8 .4 2.6 .3 4.5 .4-1.8 .3-3.4 .4-6 .3 8.5 .4 .9 .3-3 .4 8.2 .3-15.5 .4 6.9 .3 2.5 .4 1 .3-.6 .4-3.6 .3-5.7 .4 8.6 .3-3.6 .4 3 .3 7.5 .4-9.3 .3-1.9 .4 1.3 .3 8.5 .4-5.9 .3-.9 .4 6.2 .3-9.7 .4 2.2 .3 6.3 .4-6 .3 .9 .4 4.9 .3-7.8 .4 1.7 .3 1.4 .4 .5 .3-.7 .4-4 .3-.6 .4 8.1 .3-1.1 .4 .3 .3-2.1 .4 2.3 .3-2.5 .4 8.8 .3-10.6 .4-.4 .3 2.2 .4 8.8 .3-8.9 .4-1.3 .3 4.2 .4 1.6 .3-4.5 .4-1.1 .3 4.5 .4-5.8 .3 5.7 .4-8.3 .3-3.6 .4 11.5 .3-3.3 .4 1.5 .3 4.2 .4-7 .3 3.7 .4 2.1 .3-5 .4-3.7 .3-1 .4 5.3 .3 2.3 .4-3.6 .3 1.9 .4 .6 .3-.6 .4-1.8 .3 8.9 .4-9.4 .3 1.9 .4-.9 .3-6.2 .4 2.9 .3 3.4 .4-1 .3 1.6 .4-9.8 .3 5.7 .4 7.6 .3-3.1 .4 4.6 .3-6.5 .4 1 .3 .1 .4 9.5 .3-2.9 .4-6.8 .3 3.7 .4-2.4 .3-1.2 .4-.5 .3 3.5 .4-2.2 .3-9.8 .4 6.5 .3 2.6 .4-1.3 .3-4.7 .4 6.3 .3 2.1 .4-.7 .3 1.8 .4-4 .3 2.5 .4-2.1 .3-3.2 .4 .7 .3 12.1 .4-9.8 .3-1.7 .4-2.6 .3 1 .4 3.8 .3 2.9 .4-4.4 .3 2.5 .4 2.8 .3-3.7 .4-.6 .3 1.3 .4-4.3 .3 5.7 .4-1.5 .3-.6 .4-1 .3-4.6 .4 6.4 .3 .9 .4-2.4 .3-2 .4 3.3 .3-2.7 .4 1.2 .3-1.3 .4-2.8 .3-1.7 .4 5.7 .3-11.2 .4 6.6 .3 8.2 .4-.4 .3-13 .4 6 .3 7.6 .4-5.1 .3-4.7 .4-2.1 .3-2.7 .4 2 .3-3 .4 4.6 .3-11.3 .4 5.9 .3 3.2 .4-1.4 .3-1.2 .4 2 .3-3.3 .4 3.1 .3-4 .4 1.1 .3-8.9 .4 3.9 .3-3.6 .4 1.3 .3-3.5 .4 .9 .3 .4 .4-2.9 .3 1.4 .4-.5 .3 1.6 .4 8.6 .3-15.1 .4 10.2 .3 2.1 .4-2.7 .3 2.7 .4-5.7 .3 5 .4 .8 .3-7.7 .4 4.9 .3 4 .4-7.7 .3 8.1 .4-4.4 .3 4.8 .4 1.4 .3 1.7 .4-2.4 .3 10.4 .4-6.4 .3-2.8 .4 4.1 .3 4.7 .4-7.2 .3 0 .4 1.5 .3 8.3 .4-4.1 .3 1.4 .4-.1 .3-1.1 .4 .6 .3-3 .4 2.2 .3 .5 .4-.6 .3 1.6 .4 .4 .3-9.4 .4 8.6 .3 2.2 .4-2.1 .3-.6 .4 .9 .3 .4 .4 4.8 .3-2.1 .4 3.9 .3-6.4 .4-6.3 .3 8.7 .4-.9 .3-.2 .4 .3 .3 4.9 .4-5.9 .3-3.3 .4 6.1 .3-6 .4 6.3 .3-1.5 .4 1.9 .3-6 .4 9.1 .3-4.1 .4-.5 .3-7.8 .4 2.3 .3 12.4 .4 2.9 .3-8.7 .4-.1 .3 1.2 .4-.1 .3-.3 .4-2 .3-3.8 .4 8 .3-1 .4 3.6 .3-3 .4-9.9 .3 10.5 .4-2.3 .3 2.9 .4 4 .3 3.7 .4-12.9 .3 1.1 .4 3.3 .3 1.5 .4 7.4 .3-9.5 .4-3.5 .3 5.9 .4-3.1 .3-5.7 .4 2.3 .3 8.9 .4-4.3 .3-.1 .4-.1 .3 1.3 .4-3.2 .3 2.9 .4-.6 .3-.4 .4-.4 .3 1 .4 .5 .3 2 .4-10.4 .3 7.6 .4-.1 .3-5.5 .4 15.4 .3-8 .4-2.1 .3 1.1 .4 0 .3-1.5 .4-.5 .3 2.5 .4 .5 .3-1.6 .4 1.4 .3 1.7 .4-2.3 .3-1.7 .4 4.6 .3-1.1 .4-4 .3-7 .4 1.9 .3 6.1 .4-1.7 .3 4.7 .4-7.6 .3 5.6 .4-.4 .3 1 .4 2 .3-3 .4 2.5 .3-1.3 .4 .5 .3-3.1 .4 4.8 .3-13 .4 15.2 .3-3.3 .4-3.2 .3 1.9 .4-3.4 .3-3 .4 4.7 .3-3.3 .4 2.6 .3 6.5 .4 4.3 .3-5.2 .4-4.3 .3 5.8 .4-6.2 .3 2.3 .4 1.2 .3-.1 .4-1 .3-2.4 .4 2.9 .3-4.3 .4 .5 .3 4 .4 1.1 .3-1.2 .4 3.7 .3-5 .4 3.2 .3-4.5 .4-.3 .3 3.1 .4-2.2 .3 .5 .4-1 .3-2.1 .4 1.1 .3-2 .4 2.9 .3-3.7 .4 3.8 .3-5 .4 1 .3 3.6 .4-6.9 .3 4.1 .4 4 .3-.6 .4-5.7 .3 6.6 .4-2.4 .3-2.5 .4 5.6 .3 2 .4-2.9 .3-7.4 .4 6.2 .3-.3 .4 .5 .3-.1 .4-.2 .3 6.7 .4-3.9 .3-5.8 .4-6.2 .3 9.6 .4 .2 .3 8.7 .4-10.3 .3 2.6 .4 5.1 .3-5.9 .4 4.9 .3-3.1 .4 1.4 .3 .9 .4-1.9 .3-3.5 .4 .2 .3 .4 .4 2.4 .3 2.2 .4-3.4 .3-3.5 .4 3 .3 1.4 .4 1.9 .3-7.4 .4 6.1 .3-1.9 .4 5.3 .3-5.8 .4-1.8 .3-.7 .4 4.3 .3-.3 .4-1.2 .3-2 .4 2 .3-6.3 .4 6.4 .3-2.1 .4 1.2 .3-2.1 .4 3.1 .3-4.1 .4 2.8 .3-.2 .4-.9 .3 2.8 .4-6 .3 5.2 .4 9.3 .3-13.9 .4 4.2 .3 7.9 .4-9.3 .3-7.6 .4 13.7 .3-10.1 .4 5.1 .3 4.4 .4-4 .3 .4 .4 1.7 .3-2.4 .4-.6 .3 6 .4-6.1 .3 0 .4-.1 .3 2.9 .4 0 .3-1.6 .4 3.9 .3-5.8 .4 .8 .3 4.9 .4-9.4 .3 4.4 .4 2 .3 .9 .4-8.8 .3 7.1 .4-5 .3 5.4 .4 .3 .3-7.4 .4 .3 .3 7.3 .4-1.3 .3-1.2 .4-4.1 .3 7.2 .4-3.4 .3 2.5 .4 6.3 .3-7.8 .4 0 .3 .8 .4-9.5 .3 10.1 .4-.6 .3-.4 .4-1.9 .3-1.7 .4 3.7 .3-1.8 .4-2.9 .3-.4 .4 .9 .3 5.5 .4 .9 .3-5.5 .4 6.5 .3 6.6 .4-9.2 .3 7 .4-4.1 .3-4.5 .4 .3 .3 2.7 .4 5.5 .3-7.5 .4 3.3 .3-4.2 .4 2 .3-4.7 .4-3.3 .3 5.3 .4 6.1 .3-4.7 .4-1.7 .3 .8 .4 3.3 .3 1.1 .4-10.1 .3 8.2 .4 1.7 .3-4.1 .4 2.5 .3-.8 .4-1 .3 2.9 .4-1.6 .3-.4 .4 1 .3-3.2 .4 5.1 .3-6.3 .4-6.4 .3 6.5 .4 6.4 .3-1.4 .4-2.1 .3 4.3 .4-13 .3 5.6 .4 7 .3 2.5 .4-13.1 .3 7.9 .4 0 .3 1 .4-3.5 .3 .7 .4-3.6 .3 5.1 .4 1.2 .3-2 .4-2.9 .3 2.6 .4-2.2 .3 3.6 .4-3 .3 .8 .4 .6 .3-.3 .4 3.7 .3-2.9 .4 .5 .3-.6 .4 4.3 .3-13.6 .4 6.7 .3 5.9 .4 4.7 .3-2.5 .4 1 .3-6.9 .4-4.3 .3 7.4 .4-4.2 .3 .8 .4 2 .3 6.2 .4-9.6 .3 3.5 .4-6.8 .3 6.6 .4-.7 .3-5.9 .4 4.4 .3 4.2 .4-1.4 .3-9.3 .4 3.2 .3 4.1 .4 5.6 .3-2.5 .4-3.9 .3 3.5 .4 3.7 .3-14 .4 15.8 .3-10.1 .4 4 .3-5 .4 2.4 .3 5.8 .4-4 .3 5.8 .4-5.5 .3 .4 .4-5.4 .3 1.6 .4 1 .3-1 .4 6.3 .3-7.3 .4 6.2 .3-2.7 .4 2.8 .3 1.8 .4-3.1 .3-5.3 .4-4.6 .3 8 .4-.3 .3-.2 .4 3.3 .3 .5 .4-.7 .3-2.9 .4 6.9 .3-5.2 .4-10.6 .3 18.9 .4-7.5 .3-1.8 .4-1 .3-2.9 .4 3.4 .3-1.1 .4 3.7 .3-3.5 .4 1.3 .3 5.3 .4-5.9 .3 2.5 .4-.5 .3 .8 .4-3.9 .3 3.8 .4-8.3 .3 4.2 .4 .3 .3 10.9 .4-8.1 .3 .5 .4-4 .3 3.1 .4 2.9 .3 1.1 .4-4.2 .3 1.4 .4-5.5 .3 8.2 .4 2 .3-4.4 .4-10.5 .3 16.7 .4-3.7 .3-.5 .4-4.3 .3 2.4 .4-2.7 .3-.8 .4 3.1 .3 .9 .4 1.1 .3-7.2 .4-1.9 .3 3.7 .4-.1 .3 .8 .4-8.4 .3 10.5 .4-.8 .3-8.8 .4 11.7 .3 3.6 .4-7.6 .3 .5 .4-1 .3 3.1 .4-7.3 .3 3.2 .4-7 .3 8.2 .4 7 .3-5.1 .4-.6 .3-.4 .4 .3 .3 .9 .4-.8 .3-2.7 .4 4.2 .3-5.2 .4 4.7 .3-1.2 .4-1 .3 6 .4-6.2 .3 .9 .4-1 .3 1.2 .4 .8 .3-5.5 .4 4.3 .3 3.4 .4-2.3 .3-4.1 .4 5.2 .3-10.9 .4 12.1 .3-.5 .4-.5 .3-1.3 .4 5.3 .3-14.2 .4 7.7 .3 .3 .4 1 .3-1.9 .4 1.5 .3 1.6 .4-5.6 .3 1 .4 5.2 .3-3.5 .4 5.1 .3 1.5 .4-3.7 .3-1.2 .4 1.7 .3 2 .4-8.9 .3 1.2 .4 4.4 .3-.4 .4 2 .3-.6 .4 0 .3-3.5 .4-2.1 .3 6 .4-1.2 .3-7 .4 6.6 .3 2.5 .4-1.7 .3-4 .4-2 .3 3.1" fill="none" stroke="#FF3232" stroke-width="4.5" stroke-linejoin="bevel"/>
<path d="M132.5 838.1l1 1.1 1 1.1 1 1.2 1 1.2 1 1.3 1 1.3 1 1.2 1 1.2 1 .9 1 .8 1 .5 1 .3 1 .2 1 0 1 .1 1 .2 1 .2 1 .4 1 .6 1 .8 1 .9 1 1.3 1 1.7 1 1.9 1 2 1 2.1 1 2 1 1.8 1 1.7 1 1.4 1 .9 1 .6 1-.1 1-.7 1-1.1 1-1.4 1-1.5 1-1.1 1-.8 1-.1 1 0 1 0 1 0 1 0 1 0 1 0 1 0 1 0 1 .1 1 .1 1 .1 1 .1 1 0 1-.1 1-.3 1-.4 1-.5 1-.6 1-.7 1-.7 1-.6 1-.6 1-.6 1-.6 1-.5 1-.7 1-1 1-1.1 1-1.4 1-1.4 1-1.5 1-1.5 1-1.4 1-1.4 1-1.5 1-1.5 1-1.6 1-1.5 1-1.7 1-1.6 1-1.6 1-1.7 1-1.7 1-1.8 1-2 1-2.2 1-2.7 1-3.6 1-4.3 1-4.7 1-5 1-5.3 1-6.8 1-7.1 1-5.5 1-3 1-2.3 1-2 1-1.7 1-1.3 1-.6 1 .2 1 1.4 1 2.1 1 2.5 1 2.4 1 2.9 1 3.5 1 3.8 1 4.2 1 5 1 5.6 1 6 1 6.3 1 6.4 1 6.2 1 6 1 6.7 1 7.1 1 7 1 6.1 1 4.7 1 2.8 1 .7 1 .2 1 .1 1 .1 1 .1 1 .2 1 .1 1 .1 1 .1 1 0 1 .1 1 .1 1 .1 1 .2 1 .3 1 .5 1 .8 1 .8 1 1 1 1 1 1 1 1 1 .9 1 .8 1 .7 1 .6 1 .5 1 .3 1 .1 1 .2 1 0 1 .1 1-.1 1-.1 1-.3 1-.3 1-.4 1-.3 1-.4 1-.3 1-.2 1 0 1 0 1 0 1 .1 1 .1 1 .1 1 0 1 0 1 0 1-.1 1-.1 1 0 1 0 1 .1 1 0 1 .1 1 .1 1 .1 1 .2 1 .2 1 .2 1 .4 1 .3 1 .4 1 .4 1 .4 1 .5 1 .3 1 .3 1 .2 1 0 1-.1 1-.5 1-1 1-1.3 1-1.4 1-1.4 1-1.3 1-1.1 1-.6 1-.2 1 .3 1 .7 1 1 1 1.3 1 1.4 1 1.5 1 1.5 1 1.3 1 1.2 1 .9 1 .5 1 .1 1-.1 1-.1 1-.1 1-.2 1-.1 1-.2 1-.1 1-.2 1-.3 1-.3 1-.3 1-.3 1-.3 1-.2 1-.1 1 0 1 0 1 0 1 .1 1 0 1 0 1-.1 1-.2 1-.2 1-.2 1-.4 1-.4 1-.5 1-.5 1-.5 1-.5 1-.5 1-.4 1-.4 1-.2 1-.3 1-.1 1-.2 1-.4 1-.4 1-.5 1-.6 1-.5 1-.4 1-.3 1-.1 1 .1 1 .3 1 .3 1 .5 1 .5 1 .4 1 .4 1 .3 1 .2 1 0 1-.2 1-.5 1-.7 1-.8 1-.9 1-.9 1-1 1-.9 1-.8 1-.7 1-.5 1-.3 1 0 1 .1 1 .3 1 .4 1 .6 1 .5 1 .5 1 .4 1 .2 1-.1 1-.4 1-.6 1-.7 1-.8 1-.7 1-.6 1-.4 1 0 1 .3 1 .6 1 .8 1 .8 1 1 1 .9 1 .9 1 .8 1 .7 1 .5 1 .4 1 .2 1 .2 1 .1 1 .2 1 .2 1 .1 1 .1 1 .1 1 .1 1 0 1 0 1 .1 1 .1 1 .1 1 .2 1 .2 1 .3 1 .1 1 .1 1 0 1-.2 1-.2 1-.3 1-.4 1-.3 1-.4 1-.4 1-.3 1-.4 1-.3 1-.3 1-.3 1-.2 1-.2 1-.2 1-.3 1-.2 1-.3 1-.3 1-.3 1-.3 1-.2 1-.2 1 .2 1 .4 1 .6 1 .8 1 .9 1 .9 1 .9 1 .7 1 .4 1 .2 1-.3 1-.6 1-.9 1-1 1-1.1 1-1.1 1-.8 1-.6 1-.3 1-.1 1-.1 1 0 1 .1 1 0 1 0 1 .1 1 0 1 0 1 0 1-.1 1-.2 1-.4 1-.4 1-.6 1-.6 1-.8 1-.7 1-.8 1-.7 1-.7 1-.6 1-.5 1-.4 1-.5 1-.4 1-.6 1-.7 1-.9 1-1.1 1-1.9 1-3 1-3.8 1-4.3 1-4.7 1-4.9 1-5.4 1-6.7 1-7.3 1-6.9 1-5.9 1-6.2 1-5 1-1.9 1 .2 1 .5 1 .8 1 .8 1 1.5 1 3 1 3.9 1 4.3 1 4.2 1 3.6 1 3.8 1 3.9 1 3.7 1 2.8 1 1.6 1 .5 1 .4 1 .2 1 .2 1 .2 1 .2 1 .3 1 .4 1 .7 1 .8 1 .9 1 .9 1 .7 1 .5 1 .2 1-.2 1-.5 1-.8 1-.9 1-1.1 1-1 1-1 1-.7 1-.5 1-.1 1 .4 1 .9 1 1.3 1 1.6 1 1.8 1 1.8 1 1.8 1 1.6 1 1.4 1 1.5 1 1.8 1 1.9 1 2 1 1.8 1 1.7 1 1.3 1 .8 1 .2 1 0 1-.1 1-.3 1-.3 1-.6 1-.6 1-.6 1-.7 1-.7 1-.6 1-.5 1-.4 1-.2 1 0 1 .3 1 .6 1 .9 1 1.1 1 1.2 1 1.1 1 1.1 1 .8 1 .5 1 .1 1-.2 1-.5 1-.6 1-.7 1-.7 1-.7 1-.5 1-.4 1 0 1 .1 1 .3 1 .4 1 .6 1 .7 1 .8 1 .9 1 .8 1 .9 1 .9 1 .8 1 .7 1 .7 1 .5 1 .5 1 .4 1 .2 1 .1 1 0 1-.1 1-.2 1-.3 1-.3 1-.4 1-.4 1-.4 1-.5 1-.5 1-.6 1-.6 1-.6 1-.6 1-.4 1-.4 1-.2 1-.1 1-.1 1-.2 1-.1 1-.1 1-.1 1 0 1-.1 1 .1 1 0 1 0 1 0 1 .2 1 .2 1 .2 1 .3 1 .4 1 .3 1 .4 1 .4 1 .5 1 .5 1 .6 1 .6 1 .7 1 .6 1 .6 1 .5 1 .3 1 .3 1 .2 1 0 1-.1 1-.1 1-.3 1-.4 1-.5 1-.4 1-.6 1-.5 1-.6 1-.6 1-.7 1-.5 1-.6 1-.5 1-.4 1-.2 1-.2 1-.1 1 0 1 0 1 0 1 .1 1 .2 1 .2 1 .2 1 .2 1 .3 1 .2 1 .1 1 .1 1 0 1 0 1-.1 1-.1 1-.3 1-.4 1-.5 1-.6 1-.8 1-.8 1-.9 1-.9 1-.9 1-1 1-.8 1-.9 1-.8 1-.9 1-.8 1-.7 1-.8 1-.7 1-.7 1-.7 1-.6 1-.7 1-.7 1-.7 1-.9 1-1.3 1-1.6 1-1.8 1-1.8 1-1.7 1-1.3 1-.9 1-.8 1-.8 1-.8 1-.9 1-.8 1-.7 1-.7 1-.5 1-.5 1-.3 1-.2 1 .1 1 .9 1 1.4 1 2 1 2.3 1 2.6 1 2.6 1 2.7 1 2.5 1 2.4 1 2.7 1 3.1 1 3.4 1 3.5 1 3.3 1 2.9 1 2.4 1 1.7 1 .7 1 0 1-.1 1-.3 1-.5 1-.6 1-.7 1-.7 1-.7 1-.6 1-.4 1-.3 1-.1 1 .3 1 .5 1 .7 1 .9 1 .9 1 1 1 .9 1 .9 1 .7 1 .5 1 .3 1 0 1 0 1 0 1 0 1 0 1 0 1 0 1-.1 1-.1 1-.2 1-.9 1-1.3 1-1.7 1-1.7 1-1.5 1-1 1-.2 1 .3 1 .6 1 .9 1 1.1 1 1.4 1 1.5 1 1.6 1 1.7 1 1.7 1 1.7 1 1.6 1 1.5 1 1.3 1 1 1 .7 1 .3 1 .1 1 0 1 0 1-.1 1 0 1 0 1 .1 1 .1 1 .2 1 .2 1 .1 1 .2 1 .1 1 0 1 0 1-.1 1 0 1 0 1 0 1 .1 1 .1 1 .1 1 .1 1 .1 1 0 1-.1 1-.1 1-.2 1-.4 1-.3 1-.5 1-.4 1-.4 1-.5 1-.6 1-.6 1-.8 1-.9 1-1 1-1 1-1.2 1-1.1 1-1.2 1-1.2 1-1.1 1-1.2 1-1.1 1-1.1 1-1.2 1-1.4 1-1.8 1-2.1 1-2.4 1-2.6 1-2.6 1-2.6 1-2.5 1-2.4 1-2 1-1.7 1-1.3 1-1.1 1-1.1 1-.9 1-.7 1-.6 1-.2 1 .1 1 .3 1 .5 1 .5 1 .8 1 .8 1 .9 1 1.1 1 1.1 1 1.1 1 1.2 1 1.1 1 1.1 1 .9 1 .8 1 .6 1 .3 1 .2 1 .1 1 .1 1 .1 1 .2 1 .3 1 .3 1 .5 1 .6 1 .6 1 .6 1 .5 1 .5 1 .4 1 .4 1 .3 1 .3 1 .2 1 .1 1 0 1-.1 1-.3 1-.5 1-.6 1-.7 1-.7 1-.6 1-.4 1-.3 1-.1 1 .3 1 .7 1 1.2 1 1.5 1 1.6 1 1.8 1 1.8 1 1.6 1 1.5 1 1.3 1 1 1 .6 1 .3 1 .3 1 .3 1 .2 1 .3 1 .2 1 .1 1 .2 1 .1 1 .1 1 .2 1 .2 1 .2 1 .4 1 .4 1 .5 1 .5 1 .5 1 .5 1 .5 1 .5 1 .4 1 .4 1 .2 1 .2 1 .1 1 0 1-.2 1-.2 1-.2 1-.2 1-.1 1 0 1 0 1 0 1 0 1 0 1 0 1-.1 1 0 1 0 1 0 1 .1 1 .1 1 .1 1 .1 1 0 1 0 1 0 1-.2 1-.3 1-.3 1-.5 1-.5 1-.7 1-.6 1-.6 1-.6 1-.5 1-.5 1-.4 1-.3 1-.2 1-.2 1 .1 1 .2 1 .3 1 .6 1 .7 1 .8 1 1 1 1 1 1.1 1 1.2 1 1.1 1 1.1 1 1.1 1 .9 1 .7 1 .6 1 .3 1 0 1-.1 1-.2 1-.2 1-.2 1-.2 1-.2 1-.1 1-.1 1-.1 1-.2 1-.1 1-.3 1-.2 1-.3 1-.2 1-.1 1 .2 1 .3 1 .5 1 .6 1 .8 1 .7 1 .8 1 .7 1 .6 1 .4 1 .4 1 .1 1 .1 1-.1 1 0 1 .1 1 0 1 .1 1 0 1 0 1-.1 1-.1 1-.2 1-.2 1-.2 1-.2 1-.2 1-.2 1-.2 1-.2 1-.3 1-.3 1-.3 1-.3 1-.4 1-.3 1-.5 1-.6 1-.6 1-.7 1-.8 1-.8 1-.7 1-.8 1-.7 1-.5 1-.5 1-.4 1-.3 1-.1 1 0 1 .1 1 .3 1 .4 1 .4 1 .4 1 .5 1 .4 1 .4 1 .5 1 .4 1 .4 1 .6 1 .5 1 .7 1 .7 1 .8 1 1 1 1 1 1 1 .9 1 .8 1 .7 1 .5 1 .4 1 .3 1 .1 1 0 1 0 1 0 1 0 1 .1 1 .1 1 .2 1 .2 1 .2 1 .1 1 .1 1 0 1-.1 1-.1 1-.2 1-.1 1-.1 1-.1 1 .1 1 .1 1 .3 1 .3 1 .4 1 .5 1 .5 1 .6 1 .5 1 .5 1 .4 1 .3 1 .3 1 .1 1 .2 1 .1 1 .2 1 .1 1 .2 1 .1 1 .3 1 .3 1 .3 1 .4 1 .3 1 .4 1 .4 1 .3 1 .2 1 .3 1 .1 1 .2 1 .1 1 0 1 .1 1 0 1 .1 1 .1 1 .1 1 .1 1 .1 1-.1 1-.2 1-.4 1-.5 1-.7 1-.9 1-1 1-1 1-1.1 1-1 1-1 1-.9 1-.7 1-.6 1-.4 1-.2 1-.1 1 .1 1 .3 1 .3 1 .3 1 .3 1 .4 1 .3 1 .4 1 .3 1 .4 1 .5 1 .4 1 .5 1 .4 1 .4 1 .4 1 .2 1 .2 1 0 1-.3 1-.4 1-.5 1-.6 1-.7 1-.7 1-.8 1-.7 1-.7 1-.7 1-.4 1-.4 1-.1 1 .1 1 .2 1 .4 1 .6 1 .7 1 .7 1 .9 1 .9 1 1 1 .9 1 1 1 .8 1 .7 1 .5 1 .4 1 0 1-.1 1-.2 1-.3 1-.4 1-.5 1-.4 1-.4 1-.4 1-.3 1-.3 1-.2 1-.2 1-.1 1-.1 1-.1 1-.1 1-.1 1 .1 1 .1 1 .1 1 .3 1 .3 1 .4 1 .5 1 .5 1 .6 1 .6 1 .7 1 .7 1 .6 1 .7 1 .7 1 .6 1 .5 1 .3 1 .3 1 .1 1 0 1-.1 1 0 1-.1 1-.1 1-.1 1-.1 1-.2 1-.3 1-.4 1-.4 1-.5 1-.5 1-.6 1-.4 1-.4 1-.3 1-.2 1 0 1 0 1 .1 1 .1 1 0 1-.1 1-.2 1-.2 1-.3 1-.3 1-.3 1-.3 1-.2 1-.2 1-.2 1-.1 1 0 1 0 1 .1 1 0 1 0 1-.1 1-.1 1-.1 1-.1 1 .2 1 .3 1 .4 1 .5 1 .6 1 .5 1 .5 1 .3 1 .1 1 .1 1-.1 1-.1 1-.3 1-.4 1-.5 1-.5 1-.6 1-.6 1-.5 1-.4 1-.3 1-.2 1-.3 1-.4 1-.5 1-.7 1-.7 1-.9 1-.9 1-1 1-1 1-1.1 1-1 1-.9 1-1 1-.8 1-.8 1-.7 1-.5 1-.3 1-.2 1-.1 1 0 1 0 1 .1 1 .2 1 .3 1 .2 1 .3 1 .4 1 .3 1 .3 1 .3 1 .5 1 .7 1 .6 1 .7 1 .6 1 .6 1 .4 1 .3 1 .2 1 .2 1 .2 1 .2 1 .3 1 .3 1 .3 1 .4 1 .5 1 .4 1 .5 1 .5 1 .5 1 .5 1 .5 1 .5 1 .4 1 .4 1 .2 1 .2 1 0 1 0 1 0 1-.1 1 0 1 0 1 .1 1 .1 1 .1 1 .3 1 .2 1 .2 1 .3 1 .2 1 .2 1 .1 1 .1 1 .1 1-.1 1-.4 1-.6 1-.8 1-.9 1-.9 1-.9 1-.9 1-.8 1-.7 1-.6 1-.4 1-.3 1 0 1 .2 1 .3 1 .4 1 .5 1 .6 1 .6 1 .7 1 .8 1 .7 1 .7 1 .6 1 .5 1 .4 1 .2 1 .1 1 0 1-.2 1-.2 1-.1 1 0 1 0 1 0 1 0 1 .1 1 .1 1 0 1 .1 1 .1 1 .1 1 .1 1 .1 1 .2 1 .3 1 .3 1 .2 1 .3 1 .3 1 .3 1 .3 1 .2 1 .2 1 .1 1 0 1-.1 1-.2 1-.2 1-.2 1-.4 1-.4 1-.4 1-.6 1-.6 1-.7 1-.7 1-.8 1-.7 1-.8 1-.7 1-.6 1-.6 1-.4 1-.4 1-.2 1-.2 1 0 1 0 1 .1 1 .2 1 .3 1 .4 1 .4 1 .4 1 .6 1 .5 1 .6 1 .5 1 .4 1 .3 1 .1 1-.1 1-.3 1-.5 1-.5 1-.6 1-.6 1-.5 1-.4 1-.4 1-.1 1 .2 1 .3 1 .4 1 .5 1 .4 1 .4 1 .2 1-.1 1-.3 1-.6 1-.8 1-1 1-1.1 1-1.3 1-1.5 1-1.6 1-2.2 1-2.8 1-3.2 1-3.3 1-3.2 1-2.9 1-2.3 1-2.3 1-2.3 1-2 1-1.6 1-.8 1 0 1 .9 1 1.6 1 2 1 2.2 1 2.2 1 2 1 2.5 1 2.8 1 2.8 1 2.8 1 2.5 1 2 1 1.3 1 1.1 1 1 1 .8 1 .7 1 .6 1 .5 1 .5 1 .3 1 .4 1 .3 1 .3 1 .3 1 .3 1 .3 1 .3 1 .3 1 .3 1 .4 1 .3 1 .4 1 .4 1 .5 1 .5 1 .5 1 .6 1 .5 1 .5 1 .5 1 .5 1 .3 1 .3 1 .2 1 .1 1 .1 1 .1 1 .1 1 .2 1 .3 1 .3 1 .5 1 .4 1 .4 1 .3 1 .3 1 .1 1 .1 1-.1 1-.1 1-.3 1-.3 1-.3 1-.4 1-.4 1-.5 1-.4 1-.3 1-.3 1-.2 1-.2 1-.3 1-.2 1-.2 1-.2 1-.2 1-.1 1 0 1 .3 1 .3 1 .4 1 .4 1 .3 1 .1 1-.1 1-.3 1-.4 1-.5 1-.6 1-.7 1-.7 1-.6 1-.6 1-.5 1-.4 1-.3 1-.2 1 0 1 .1 1 .2 1 .3 1 .4 1 .5 1 .6 1 .7 1 .7 1 .8 1 .7 1 .8 1 .7 1 .7 1 .5 1 .5 1 .4 1 .2 1 .1 1-.1 1-.2 1-.3 1-.5 1-.6 1-.7 1-.7 1-.7 1-.7 1-.6 1-.4 1-.4 1-.2 1 0 1 .1 1 .3 1 .5 1 .4 1 .6 1 .5 1 .4 1 .4 1 .4 1 .2 1 .1 1 0 1-.2 1-.2 1-.4 1-.4 1-.4 1-.4 1-.4 1-.3 1-.2 1-.1 1 0 1 .2 1 .4 1 .5 1 .5 1 .6 1 .6 1 .4 1 .4 1 .3 1 .2 1 0 1-.1 1-.2 1-.4 1-.4 1-.5 1-.5 1-.5 1-.5 1-.4 1-.3 1-.3 1-.1 1 0 1 .1 1 0 1 0 1 0 1-.1 1 0 1-.1 1-.1 1-.2 1-.1 1-.1 1-.2 1 0 1-.1 1 .1 1 .1 1 .3 1 .3 1 .4 1 .5 1 .6 1 .5 1 .5 1 .5" fill="none" stroke="#006EE6" stroke-width="5.2" stroke-linejoin="round"/>
<path d="M132.5 719.3l.7-.1 .7-.1 .7-.1 .7-.1 .7 0 .7 0 .7-.1 .7-.3 .7-.4 .7-.4 .7-.5 .7-.5 .7-.4 .7-.4 .7-.3 .7-.4 .7-.4 .7-.5 .7-.5 .7-.4 .7-.5 .7-.4 .7-.3 .7-.2 .7-.3 .7-.3 .7-.2 .7-.4 .7-.4 .7-.5 .7-.7 .7-.8 .7-.9 .7-1.1 .7-1 .7-1 .7-1 .7-1 .7-.8 .7-.9 .7-.8 .7-.8 .7-.8 .7-.8 .7-.6 .7-.5 .7-.5 .7-.5 .7-.5 .7-.6 .7-.7 .7-.7 .7-.8 .7-.8 .7-.9 .7-.9 .7-1 .7-1.1 .7-1 .7-1.1 .7-1.1 .7-1.2 .7-1.2 .7-1.3 .7-1.4 .7-1.5 .7-1.5 .7-1.5 .7-1.5 .7-1.3 .7-1.4 .7-1.4 .7-1.6 .7-1.8 .7-2 .7-2 .7-2 .7-2.1 .7-2 .7-2 .7-2 .7-1.9 .7-2 .7-1.9 .7-2.1 .7-2.1 .7-2.2 .7-2.3 .7-2.4 .7-2.6 .7-2.6 .7-2.7 .7-2.6 .7-2.5 .7-2.3 .7-2 .7-1.9 .7-1.8 .7-1.8 .7-1.8 .7-1.9 .7-2 .7-2.2 .7-2.2 .7-2.3 .7-2.2 .7-1.9 .7-1.5 .7-1.2 .7-.8 .7-.7 .7-.7 .7-.8 .7-1.1 .7-1.1 .7-1.2 .7-.9 .7-.5 .7-.2 .7 .1 .7 .5 .7 .8 .7 .9 .7 .9 .7 .8 .7 .7 .7 .7 .7 .8 .7 1.2 .7 1.5 .7 1.9 .7 2.2 .7 2.3 .7 2.3 .7 2 .7 1.8 .7 1.5 .7 1.3 .7 1.3 .7 1.5 .7 1.9 .7 2.3 .7 2.8 .7 3.1 .7 3.2 .7 3.2 .7 3 .7 3 .7 2.9 .7 2.9 .7 2.9 .7 2.9 .7 2.9 .7 2.7 .7 2.6 .7 2.5 .7 2.5 .7 2.5 .7 2.4 .7 2.5 .7 2.4 .7 2.4 .7 2.3 .7 2.3 .7 2.2 .7 2.3 .7 2.1 .7 2.1 .7 2 .7 2 .7 2 .7 2.1 .7 2.2 .7 2.3 .7 2.4 .7 2.3 .7 2.2 .7 2.1 .7 1.8 .7 1.5 .7 1.2 .7 1.1 .7 .8 .7 .8 .7 .7 .7 .6 .7 .5 .7 .6 .7 .5 .7 .6 .7 .5 .7 .6 .7 .6 .7 .8 .7 .8 .7 1 .7 1 .7 1 .7 .9 .7 .7 .7 .6 .7 .6 .7 .6 .7 .6 .7 .6 .7 .6 .7 .5 .7 .5 .7 .5 .7 .5 .7 .5 .7 .4 .7 .4 .7 .3 .7 .1 .7-.1 .7-.1 .7-.1 .7-.1 .7 0 .7 .1 .7 .2 .7 .2 .7 .2 .7 .3 .7 .1 .7 0 .7 0 .7 0 .7 0 .7 .1 .7 .2 .7 .4 .7 .4 .7 .3 .7 .4 .7 .2 .7 .2 .7 .2 .7 .1 .7 .2 .7 .3 .7 .2 .7 .3 .7 .2 .7 .3 .7 .1 .7 .1 .7 0 .7-.1 .7-.3 .7-.2 .7-.2 .7-.1 .7 .2 .7 .3 .7 .6 .7 .7 .7 .7 .7 .7 .7 .6 .7 .5 .7 .2 .7 .2 .7 0 .7 .1 .7 .1 .7 .2 .7 .2 .7 .2 .7 .1 .7 0 .7 0 .7 0 .7 0 .7 0 .7 .2 .7 .1 .7 .2 .7 .2 .7 .1 .7 0 .7 .1 .7-.1 .7 0 .7-.1 .7 0 .7 .1 .7 .2 .7 .1 .7 0 .7-.1 .7-.3 .7-.4 .7-.4 .7-.2 .7-.3 .7-.1 .7-.2 .7-.2 .7-.2 .7-.3 .7-.2 .7-.1 .7 0 .7 .1 .7 .1 .7 .2 .7 .1 .7 .2 .7 .1 .7-.1 .7-.1 .7-.1 .7-.2 .7-.1 .7 0 .7 0 .7 .1 .7 .1 .7 .1 .7-.1 .7-.1 .7-.2 .7-.2 .7-.2 .7-.1 .7-.1 .7-.1 .7-.1 .7-.1 .7-.1 .7-.1 .7-.1 .7 0 .7 0 .7-.1 .7 0 .7-.1 .7-.2 .7-.1 .7-.1 .7 0 .7 0 .7 .2 .7 0 .7 0 .7-.1 .7-.2 .7-.3 .7-.2 .7-.1 .7-.1 .7 0 .7-.1 .7 0 .7-.1 .7-.2 .7-.2 .7-.2 .7-.2 .7-.2 .7 0 .7 .1 .7 .1 .7 .1 .7 0 .7 0 .7-.1 .7-.3 .7-.2 .7-.3 .7-.3 .7-.1 .7 .1 .7 .2 .7 .4 .7 .5 .7 .4 .7 .2 .7 .1 .7-.1 .7-.2 .7-.3 .7-.2 .7-.1 .7-.1 .7 .1 .7 .2 .7 .2 .7 .2 .7 0 .7 0 .7 0 .7 0 .7 0 .7 0 .7 .1 .7 0 .7 0 .7 0 .7 0 .7-.1 .7 .1 .7 .1 .7 .1 .7 .2 .7 .3 .7 .2 .7 .1 .7 .1 .7 0 .7-.1 .7-.2 .7-.3 .7-.3 .7-.3 .7-.2 .7-.2 .7 0 .7-.1 .7-.1 .7-.2 .7-.5 .7-.9 .7-1.2 .7-1.5 .7-1.6 .7-1.6 .7-1.5 .7-1.2 .7-.7 .7-.3 .7 .4 .7 .9 .7 1.4 .7 1.5 .7 1.5 .7 1.3 .7 1.1 .7 .9 .7 .7 .7 .5 .7 .4 .7 .2 .7 .1 .7 .1 .7 0 .7-.1 .7-.1 .7-.2 .7-.2 .7-.2 .7 0 .7 0 .7 .1 .7 .2 .7 .2 .7 .3 .7 .2 .7 .3 .7 .2 .7 .2 .7 .1 .7 .2 .7 0 .7 0 .7-.1 .7-.2 .7-.1 .7-.2 .7-.1 .7 0 .7 .1 .7 .2 .7 .1 .7 .1 .7 0 .7-.2 .7-.3 .7-.4 .7-.4 .7-.4 .7-.4 .7-.2 .7-.2 .7-.1 .7-.1 .7 0 .7 0 .7 0 .7 .1 .7 0 .7 0 .7 0 .7 .1 .7 0 .7-.1 .7-.1 .7-.3 .7-.3 .7-.4 .7-.3 .7-.3 .7-.1 .7 .1 .7 .2 .7 .2 .7 .1 .7-.1 .7-.3 .7-.5 .7-.5 .7-.3 .7-.2 .7 .1 .7 .2 .7 .2 .7 .2 .7 .1 .7-.1 .7-.3 .7-.3 .7-.4 .7-.4 .7-.2 .7-.2 .7-.2 .7-.2 .7-.1 .7-.1 .7-.1 .7 0 .7 .1 .7-.1 .7-.1 .7-.3 .7-.2 .7-.2 .7-.1 .7-.1 .7 .1 .7 0 .7 0 .7 0 .7 .1 .7 .1 .7 .2 .7 .3 .7 .3 .7 .4 .7 .2 .7 .2 .7-.1 .7-.2 .7-.4 .7-.4 .7-.5 .7-.3 .7-.2 .7-.1 .7 .1 .7 0 .7 .2 .7 0 .7 .1 .7 .1 .7 0 .7-.1 .7-.2 .7-.3 .7-.6 .7-.8 .7-.8 .7-1 .7-1 .7-1.1 .7-1.5 .7-1.9 .7-2.3 .7-3.1 .7-3.7 .7-4.4 .7-5 .7-5.5 .7-6 .7-6.2 .7-6.4 .7-6.5 .7-6.5 .7-6.2 .7-5.7 .7-4.9 .7-3.8 .7-2.3 .7-.7 .7 .9 .7 2.2 .7 3.2 .7 3.8 .7 3.8 .7 3.7 .7 3.4 .7 3.1 .7 3 .7 3 .7 3.1 .7 3.1 .7 3 .7 2.9 .7 2.6 .7 2.2 .7 2 .7 1.6 .7 1.5 .7 1.2 .7 1.1 .7 1.1 .7 1 .7 .9 .7 .8 .7 .8 .7 .8 .7 .8 .7 .8 .7 .8 .7 .9 .7 .8 .7 .7 .7 .6 .7 .4 .7 .3 .7 .2 .7 .1 .7 0 .7-.2 .7-.3 .7-.4 .7-.5 .7-.5 .7-.5 .7-.3 .7-.3 .7-.1 .7 0 .7 .1 .7 .2 .7 .5 .7 .7 .7 .9 .7 1.3 .7 1.5 .7 1.5 .7 1.3 .7 1.2 .7 1 .7 .7 .7 .7 .7 .7 .7 .6 .7 .7 .7 .6 .7 .4 .7 .2 .7 .1 .7-.1 .7-.1 .7-.1 .7 0 .7 .2 .7 .2 .7 .1 .7 .2 .7 .2 .7 .1 .7 .2 .7 .2 .7 .2 .7 .2 .7 .2 .7 .2 .7 .2 .7 .2 .7 .3 .7 .4 .7 .4 .7 .4 .7 .3 .7 .2 .7 .2 .7 .2 .7 .1 .7 .1 .7 .1 .7 0 .7-.1 .7-.2 .7-.1 .7-.1 .7-.1 .7 0 .7 .1 .7 0 .7 0 .7-.1 .7 0 .7 0 .7 .1 .7 .2 .7 .4 .7 .3 .7 .3 .7 .1 .7 .1 .7 .1 .7-.1 .7-.1 .7-.2 .7-.3 .7-.3 .7-.2 .7-.2 .7-.1 .7 0 .7 0 .7-.1 .7 0 .7-.1 .7 0 .7 0 .7 .1 .7 .2 .7 .1 .7 .2 .7 .1 .7 0 .7 .1 .7 0 .7-.1 .7-.1 .7-.2 .7-.1 .7-.2 .7-.1 .7 .1 .7 .1 .7 .2 .7 .1 .7 0 .7-.1 .7-.2 .7-.2 .7-.3 .7-.2 .7-.2 .7-.2 .7-.2 .7-.2 .7-.2 .7-.2 .7 0 .7 0 .7 .2 .7 .2 .7 .2 .7 .2 .7 0 .7 .1 .7 0 .7 0 .7 0 .7 .1 .7 0 .7 0 .7-.1 .7-.1 .7-.1 .7-.2 .7-.2 .7-.1 .7 0 .7 0 .7 .1 .7 .2 .7 .3 .7 .3 .7 .2 .7 .1 .7-.1 .7-.3 .7-.3 .7-.3 .7-.2 .7-.1 .7-.2 .7-.1 .7-.2 .7-.1 .7 0 .7 0 .7 .1 .7 .1 .7 .1 .7 0 .7 0 .7-.1 .7 0 .7 .1 .7 .1 .7 .2 .7 .2 .7 .1 .7-.1 .7-.3 .7-.4 .7-.4 .7-.4 .7-.3 .7-.1 .7 0 .7 .1 .7 0 .7-.1 .7-.1 .7-.2 .7-.2 .7-.1 .7-.1 .7-.1 .7-.1 .7-.1 .7 0 .7 0 .7 .1 .7-.1 .7-.1 .7-.4 .7-.4 .7-.5 .7-.6 .7-.4 .7-.3 .7-.1 .7-.1 .7-.1 .7-.1 .7-.3 .7-.4 .7-.4 .7-.4 .7-.5 .7-.5 .7-.4 .7-.4 .7-.4 .7-.4 .7-.4 .7-.4 .7-.4 .7-.4 .7-.4 .7-.3 .7-.3 .7-.2 .7-.1 .7-.1 .7 0 .7-.1 .7-.2 .7-.2 .7-.4 .7-.5 .7-.4 .7-.4 .7-.5 .7-.5 .7-.6 .7-.7 .7-.8 .7-.8 .7-.8 .7-.7 .7-.7 .7-.4 .7-.4 .7-.5 .7-.5 .7-.7 .7-.8 .7-.8 .7-.8 .7-.7 .7-.6 .7-.5 .7-.4 .7-.4 .7-.3 .7-.4 .7-.3 .7-.1 .7 0 .7 .2 .7 .2 .7 .1 .7 0 .7-.1 .7-.2 .7-.3 .7-.2 .7-.3 .7-.4 .7-.4 .7-.5 .7-.4 .7-.4 .7-.3 .7-.2 .7-.1 .7 .1 .7 .1 .7 .3 .7 .4 .7 .4 .7 .5 .7 .4 .7 .4 .7 .4 .7 .4 .7 .4 .7 .2 .7 .1 .7-.1 .7-.2 .7-.5 .7-.5 .7-.4 .7-.3 .7-.1 .7 .4 .7 .7 .7 1 .7 1.2 .7 1.5 .7 1.6 .7 1.6 .7 1.5 .7 1.4 .7 1.2 .7 1.1 .7 1.1 .7 1.2 .7 1.2 .7 1.3 .7 1.1 .7 1 .7 .8 .7 .7 .7 .7 .7 .5 .7 .6 .7 .4 .7 .5 .7 .4 .7 .5 .7 .5 .7 .5 .7 .5 .7 .5 .7 .4 .7 .3 .7 .2 .7 .1 .7 0 .7-.1 .7 .1 .7 .2 .7 .3 .7 .6 .7 .7 .7 .7 .7 .6 .7 .5 .7 .2 .7 .2 .7 .2 .7 .2 .7 .3 .7 .4 .7 .5 .7 .4 .7 .3 .7 .2 .7 .1 .7 .1 .7 .1 .7 .2 .7 .2 .7 .3 .7 .2 .7 .2 .7 .1 .7 .1 .7 .1 .7 .1 .7 .3 .7 .3 .7 .4 .7 .4 .7 .4 .7 .4 .7 .3 .7 .4 .7 .4 .7 .6 .7 .5 .7 .4 .7 .3 .7 .1 .7-.1 .7-.3 .7-.1 .7-.1 .7 .1 .7 .2 .7 .4 .7 .4 .7 .4 .7 .5 .7 .4 .7 .4 .7 .3 .7 .3 .7 .3 .7 .3 .7 .3 .7 .3 .7 .1 .7 0 .7-.1 .7-.1 .7-.2 .7-.2 .7 0 .7-.1 .7 .1 .7 0 .7 .1 .7 0 .7 .1 .7 0 .7 .1 .7 .1 .7 .2 .7 .2 .7 .2 .7 .1 .7-.1 .7-.2 .7-.2 .7-.2 .7-.1 .7 .2 .7 .2 .7 .3 .7 .2 .7 0 .7-.3 .7-.4 .7-.6 .7-.4 .7-.4 .7-.1 .7-.1 .7 .1 .7 .1 .7 .2 .7 .1 .7 .1 .7 0 .7 0 .7-.1 .7 0 .7 0 .7 0 .7 0 .7 0 .7-.1 .7-.1 .7-.1 .7-.1 .7 0 .7 .1 .7 .2 .7 .1 .7 .1 .7 .1 .7 0 .7-.1 .7-.2 .7-.2 .7-.4 .7-.4 .7-.5 .7-.7 .7-.7 .7-.9 .7-.9 .7-1 .7-1.1 .7-1.1 .7-1 .7-1 .7-.9 .7-.7 .7-.6 .7-.6 .7-.6 .7-.6 .7-.8 .7-.9 .7-1.1 .7-1.3 .7-1.5 .7-1.6 .7-1.6 .7-1.5 .7-1.4 .7-1.1 .7-1 .7-.7 .7-.6 .7-.5 .7-.5 .7-.5 .7-.4 .7-.4 .7-.4 .7-.3 .7-.2 .7-.1 .7-.1 .7-.1 .7-.2 .7-.2 .7-.3 .7-.3 .7-.1 .7 0 .7 .1 .7 .3 .7 .2 .7 .3 .7 .4 .7 .4 .7 .5 .7 .7 .7 .8 .7 .7 .7 .6 .7 .6 .7 .5 .7 .5 .7 .5 .7 .7 .7 .7 .7 .6 .7 .7 .7 .6 .7 .5 .7 .4 .7 .4 .7 .3 .7 .3 .7 .2 .7 .3 .7 .3 .7 .2 .7 .1 .7-.1 .7-.2 .7-.2 .7 0 .7 0 .7 .3 .7 .3 .7 .2 .7 .1 .7 .1 .7 0 .7 .1 .7 .3 .7 .3 .7 .3 .7 .4 .7 .3 .7 .3 .7 .4 .7 .5 .7 .7 .7 .7 .7 .8 .7 .6 .7 .5 .7 .1 .7-.1 .7-.3 .7-.2 .7-.1 .7 .3 .7 .4 .7 .6 .7 .5 .7 .4 .7 .2 .7 .2 .7 .2 .7 .1 .7 .1 .7 0 .7 0 .7-.1 .7-.1 .7-.2 .7-.1 .7 0 .7 .1 .7 .2 .7 .3 .7 .3 .7 .1 .7 .1 .7 .1 .7 .1 .7 .2 .7 .3 .7 .3 .7 .4 .7 .3 .7 .3 .7 .2 .7 .2 .7 .1 .7 0 .7 0 .7-.1 .7-.1 .7 0 .7-.1 .7 0 .7 0 .7 .1 .7 0 .7 .1 .7 .1 .7 0 .7 .1 .7 .1 .7 0 .7-.1 .7-.1 .7-.1 .7-.1 .7 0 .7 .1 .7 .2 .7 .1 .7 .1 .7-.1 .7-.1 .7-.2 .7-.1 .7-.1 .7 0 .7 0 .7 .1 .7 .1 .7 .2 .7 .2 .7 .2 .7 .3 .7 .3 .7 .2 .7 .2 .7 0 .7 0 .7 0 .7-.1 .7-.1 .7-.2 .7-.2 .7-.2 .7-.2 .7-.1 .7-.1 .7-.1 .7 0 .7-.1 .7-.1 .7-.1 .7-.2 .7-.1 .7-.1 .7 .1 .7 .2 .7 .3 .7 .2 .7 .3 .7 .1 .7 .1 .7 .1 .7 .1 .7-.1 .7 0 .7-.2 .7-.1 .7-.1 .7 0 .7-.1 .7 0 .7 .1 .7 .1 .7 .1 .7 .2 .7 .1 .7 .1 .7 0 .7-.2 .7-.2 .7-.3 .7-.4 .7-.3 .7-.3 .7-.3 .7-.3 .7-.1 .7-.1 .7 0 .7 .2 .7 .3 .7 .2 .7 .2 .7 .1 .7 0 .7-.1 .7-.1 .7-.1 .7 0 .7-.1 .7 0 .7-.1 .7-.2 .7-.1 .7-.2 .7-.1 .7-.1 .7-.1 .7 .1 .7 .2 .7 .3 .7 .3 .7 .4 .7 .4 .7 .4 .7 .5 .7 .3 .7 .4 .7 .2 .7 0 .7-.1 .7-.2 .7-.3 .7-.3 .7-.2 .7-.1 .7-.1 .7 0 .7 .1 .7 .1 .7 0 .7 .1 .7 .1 .7 0 .7-.2 .7-.2 .7-.2 .7-.1 .7-.1 .7 .1 .7 .2 .7 .4 .7 .4 .7 .4 .7 .4 .7 .4 .7 .2 .7 .1 .7 0 .7-.2 .7-.2 .7 0 .7 .2 .7 .5 .7 .8 .7 .9 .7 .8 .7 .5 .7 .1 .7-.3 .7-.4 .7-.5 .7-.3 .7-.2 .7 0 .7 .2 .7 .2 .7 .2 .7 .2 .7 .1 .7 .1 .7 0 .7-.1 .7-.1 .7 0 .7-.1 .7 .1 .7 .1 .7 .2 .7 .2 .7 .2 .7 0 .7 0 .7-.1 .7-.3 .7-.2 .7-.2 .7-.1 .7 .1 .7 .4 .7 .5 .7 .6 .7 .6 .7 .6 .7 .5 .7 .2 .7 0 .7-.1 .7-.2 .7-.2 .7-.1 .7 0 .7 .2 .7 .3 .7 .3 .7 .4 .7 .3 .7 .2 .7-.1 .7-.1 .7-.3 .7-.3 .7-.3 .7-.3 .7-.2 .7-.2 .7-.2 .7-.2 .7-.2 .7-.2 .7-.1 .7-.1 .7 0 .7 .1 .7 .2 .7 .4 .7 .3 .7 .3 .7 .3 .7 .1 .7 .1 .7 .1 .7 .1 .7 .1 .7 .1 .7 0 .7 0 .7 0 .7 0 .7 .2 .7 .2 .7 .2 .7 .2 .7 .1 .7 0 .7-.1 .7-.1 .7 0 .7 .1 .7 .3 .7 .4 .7 .5 .7 .3 .7 .3 .7 .1 .7 0 .7-.2 .7-.3 .7-.3 .7-.3 .7-.3 .7-.3 .7-.2 .7-.1 .7-.1 .7 .1 .7 .2 .7 .3 .7 .5 .7 .4 .7 .5 .7 .2 .7 .2 .7-.1 .7-.1 .7-.1 .7 0 .7 .1 .7 .2 .7 .1 .7 .1 .7 .1 .7 .1 .7 0 .7-.1 .7-.3 .7-.3 .7-.4 .7-.4 .7-.2 .7 0 .7 .1 .7 .2 .7 .4 .7 .3 .7 .4 .7 .4 .7 .3 .7 .2 .7 0 .7-.1 .7-.1 .7-.2 .7-.2 .7-.1 .7-.1 .7-.2 .7-.1 .7-.1 .7-.1 .7 .1 .7 .3 .7 .4 .7 .5 .7 .5 .7 .3 .7 .2 .7 0 .7-.3 .7-.3 .7-.3 .7-.3 .7-.2 .7-.2 .7-.2 .7-.1 .7 0 .7 0 .7 .1 .7 .2 .7 .2 .7 0 .7 0 .7 0 .7-.1 .7-.1 .7-.1 .7 0 .7 .2 .7 .2 .7 .3 .7 .3 .7 .3 .7 .2 .7 .1 .7 0 .7-.3 .7-.3 .7-.4 .7-.3 .7-.3 .7 0 .7 .1 .7 .2 .7 .3 .7 .3 .7 .2 .7 .1 .7 0 .7-.1 .7-.2 .7-.2 .7-.1 .7-.1 .7 0 .7 .1 .7 .2 .7 .1 .7 .2 .7 .2 .7 .2 .7 .3 .7 .3 .7 .2 .7 .1 .7 0 .7-.1 .7-.1 .7-.3 .7-.2 .7-.1 .7 0 .7 .1 .7 .2 .7 .3 .7 .3 .7 .3 .7 .3 .7 .3 .7 .2 .7 .1 .7-.1 .7-.3 .7-.4 .7-.4 .7-.5 .7-.4 .7-.3 .7-.2 .7 0 .7 .1 .7 .2 .7 .3 .7 .1 .7 .1 .7-.1 .7-.3 .7-.2 .7-.3 .7-.1 .7-.1 .7 .2 .7 .2 .7 .2 .7 .4 .7 .3 .7 .4 .7 .3 .7 .3 .7 .3 .7 .2 .7 .1 .7 .2 .7 .2 .7 .3 .7 .2 .7 .2 .7 0 .7-.2 .7-.3 .7-.5 .7-.6 .7-.4 .7-.3 .7 0 .7 .1 .7 .2 .7 .4 .7 .2 .7 .2 .7 .2 .7-.1 .7-.1 .7-.2 .7-.4 .7-.3 .7-.4 .7-.3 .7-.1 .7-.1 .7 .1 .7 .3 .7 .4 .7 .5 .7 .4 .7 .3 .7 .3 .7 .1 .7-.1 .7-.1 .7-.3 .7-.3 .7-.4 .7-.3 .7-.3 .7-.2 .7-.1 .7 .1 .7 .1 .7 .2 .7 .2 .7 .2 .7 .2 .7 .3 .7 .2 .7 .3 .7 .2 .7 .2 .7 .1 .7 .1 .7 0 .7 0 .7 0 .7 0 .7 0 .7 0 .7 0 .7 0 .7 0 .7 0 .7 .1 .7 0 .7 0 .7-.1 .7-.1 .7-.3 .7-.2 .7-.2 .7-.1 .7 0 .7 .1 .7 .1 .7 .1 .7 .1 .7 .1 .7-.1 .7 0 .7-.1 .7 0 .7-.1 .7 0 .7-.1 .7-.2 .7-.2 .7-.2 .7-.4 .7-.3 .7-.3 .7-.3 .7-.2 .7-.2 .7 0 .7 0 .7 .2 .7 .2 .7 .2 .7 .1 .7 0 .7-.1 .7-.2 .7-.2 .7-.3 .7-.2 .7-.1 .7-.1 .7 0 .7 .1 .7 .2 .7 .1 .7 0 .7-.1 .7-.3 .7-.4 .7-.7 .7-.6 .7-.7 .7-.6 .7-.6 .7-.4 .7-.3 .7-.1 .7 0 .7 .1 .7 0 .7 0 .7-.1 .7-.2 .7-.2 .7-.2 .7-.3 .7-.4 .7-.4 .7-.3 .7-.1 .7 .1 .7 .4 .7 .6 .7 .6 .7 .5 .7 .3 .7 .1 .7 0 .7-.2 .7-.4 .7-.4 .7-.5 .7-.5 .7-.5 .7-.4 .7-.2 .7-.1 .7 0 .7 .1 .7 0 .7 .1 .7 0 .7 .1 .7 .1 .7 .1 .7 .2 .7 .2 .7 .1 .7 .1 .7 .1 .7-.1 .7 0 .7-.1 .7 0 .7 .1 .7 .1 .7 .1 .7 .1 .7 .1 .7 .1 .7 .2 .7 .2 .7 .3 .7 .1 .7 .1 .7-.2 .7-.3 .7-.3 .7-.2 .7 0 .7 .2 .7 .3 .7 .3 .7 .2 .7 0 .7 0 .7-.1 .7 0 .7 0 .7 .1 .7 .1 .7 .1 .7 0 .7-.1 .7-.1 .7-.2 .7-.2 .7-.1 .7-.2 .7-.1 .7-.1 .7-.1 .7 0 .7 .1 .7 .2 .7 .3 .7 .3 .7 .4 .7 .3 .7 .1 .7 .1 .7-.1 .7-.1 .7-.2 .7 0 .7 0 .7 .1 .7 .2 .7 .2 .7 .2 .7 .2 .7 .1 .7-.1 .7-.1 .7-.2 .7-.1 .7-.1 .7 0 .7 .1 .7 .1 .7 .1 .7 .1 .7 .1 .7 .2 .7 .1 .7 .2 .7 .2 .7 .1 .7 .1 .7 .1 .7 .1 .7 .1 .7 .2 .7 .1 .7 .1 .7 .1 .7 .1 .7 .2 .7 .2 .7 .2 .7 .1 .7 0 .7-.1 .7-.3 .7-.2 .7-.3 .7-.1 .7-.1 .7-.1 .7-.1 .7-.1 .7-.1 .7-.2 .7-.1 .7 0 .7-.1 .7 0 .7-.2 .7-.1 .7-.2 .7-.2 .7-.1 .7 .1 .7 .1 .7 .2 .7 .1 .7 0 .7-.2 .7-.3 .7-.2 .7-.1 .7 .1 .7 .2 .7 .4 .7 .5 .7 .5 .7 .4 .7 .2 .7 .1 .7-.2 .7-.1 .7-.1 .7 0 .7 0 .7 .1 .7 .1 .7 0 .7-.1 .7 0 .7-.1 .7-.1 .7 0 .7 0 .7 0 .7-.1 .7 0 .7-.1 .7 .1 .7 .1 .7 .2 .7 .3 .7 .3 .7 .1 .7 0 .7-.2 .7-.4 .7-.4 .7-.4 .7-.3 .7-.2 .7 0 .7 .2 .7 .2 .7 .3 .7 .3 .7 .3 .7 .2 .7 .2 .7 .1 .7 .1 .7 .2 .7 .1 .7 .1 .7 .1 .7 .1 .7 0 .7 0 .7 0 .7 0 .7 0 .7-.1 .7-.1 .7-.1 .7-.1 .7 0 .7-.1 .7-.2 .7-.1 .7-.1 .7 0 .7 .1 .7 .1 .7 .2 .7 .2 .7 .2 .7 0 .7 0 .7-.1 .7-.4 .7-.5 .7-.6 .7-.6 .7-.5 .7-.2 .7 .1 .7 .2 .7 .4 .7 .5 .7 .5 .7 .5 .7 .5 .7 .3 .7 .1 .7-.1 .7-.3 .7-.5 .7-.5 .7-.5 .7-.3 .7-.4 .7-.3 .7-.4 .7-.6 .7-.8 .7-.8 .7-.8 .7-.7 .7-.7 .7-.6 .7-.6 .7-.8 .7-.8 .7-1.1 .7-1.1 .7-1.3 .7-1.4 .7-1.4 .7-1.5 .7-1.5 .7-1.6 .7-1.5 .7-1.6 .7-1.6 .7-1.6 .7-1.5 .7-1.5 .7-1.3 .7-.9 .7-.6 .7-.1 .7 .4 .7 .8 .7 1.2 .7 1.4 .7 1.5 .7 1.6 .7 1.5 .7 1.5 .7 1.4 .7 1.2 .7 1.2 .7 1 .7 1 .7 1 .7 1 .7 1 .7 .9 .7 .8 .7 .6 .7 .6 .7 .6 .7 .7 .7 .7 .7 .8 .7 .8 .7 .6 .7 .5 .7 .5 .7 .5 .7 .5 .7 .3 .7 .3 .7 .2 .7 .2 .7 .2 .7 .3 .7 .5 .7 .6 .7 .6 .7 .6 .7 .6 .7 .5 .7 .4 .7 .3 .7 .1 .7 .1 .7 0 .7 .2 .7 .2 .7 .4 .7 .4 .7 .3 .7 .3 .7 .1 .7 0 .7-.3 .7-.3 .7-.5 .7-.5 .7-.3 .7-.2 .7 .1 .7 .3 .7 .4 .7 .5 .7 .5 .7 .3 .7 .1 .7-.2 .7-.3 .7-.4 .7-.3 .7-.2 .7 0 .7 .2 .7 .3 .7 .2 .7 .2 .7 .1 .7 .1 .7 0 .7 .1 .7 .1 .7 .1 .7 .2 .7 .2 .7 .2 .7 .2 .7 .1 .7 0 .7-.2 .7-.3 .7-.4 .7-.4 .7-.3 .7-.3 .7-.1 .7-.1 .7 0 .7 .2 .7 .3 .7 .2 .7 .3 .7 .1 .7 .1 .7-.1 .7-.1 .7-.1 .7 .1 .7 0 .7 .1 .7 0 .7 0 .7-.1 .7-.1 .7-.1 .7 0 .7-.1 .7 0 .7-.1 .7 0 .7 0 .7-.1 .7 0 .7-.1 .7-.1 .7-.2 .7-.1 .7-.1 .7 0 .7 .1 .7 .1 .7 .1 .7 .2 .7 .1 .7 .2 .7 .1 .7 0 .7-.1 .7-.2 .7-.2 .7-.3 .7-.2 .7-.2 .7-.1 .7 0 .7 0 .7 .1 .7 .2 .7 .1 .7 0 .7 0 .7-.1 .7-.2 .7-.1 .7-.1 .7 0 .7 .2 .7 .4 .7 .4 .7 .4 .7 .3 .7 .1 .7 0 .7-.1 .7 0 .7 0 .7 0 .7 0 .7 0 .7-.2 .7-.3 .7-.4 .7-.5 .7-.3 .7-.2 .7-.1 .7 0 .7 0 .7 .1 .7 .1 .7 0 .7 0 .7-.1 .7 0 .7-.1 .7 0 .7 .1 .7 .2 .7 .2 .7 .1 .7 0 .7 0 .7-.1 .7 0 .7-.1 .7 .1 .7 0 .7 0 .7-.1 .7-.1 .7-.1 .7 0 .7 0 .7 0 .7 0 .7 0 .7 .1 .7 0 .7 .1 .7 .1 .7 .2 .7 .2 .7 .3 .7 .3 .7 .3 .7 .4 .7 .2 .7 .2 .7 .1 .7-.1 .7-.1 .7-.2 .7-.3 .7-.5 .7-.5 .7-.7 .7-.6 .7-.5 .7-.3 .7 0 .7 .2 .7 .4 .7 .5 .7 .5 .7 .4 .7 .3 .7 0 .7-.1 .7-.3 .7-.3 .7-.3 .7-.3 .7-.2 .7 0 .7 0 .7 .1 .7 .1 .7 .1 .7-.1 .7-.1 .7-.2 .7-.1 .7-.1 .7 0 .7 0 .7 .2 .7 .3 .7 .4 .7 .4 .7 .2 .7 .1 .7-.1 .7-.2 .7-.3 .7-.3 .7-.1 .7 0 .7 .1 .7 .1 .7 .2 .7 .1 .7 .1 .7 .1 .7 0 .7 0 .7 0 .7 .1 .7 0 .7 .1 .7 .2 .7 .1 .7 .2 .7 .1 .7 0 .7 0 .7-.1 .7-.2 .7-.1 .7-.2 .7-.1" fill="none" stroke="#00AC64" stroke-width="10" stroke-linejoin="round"/>
<path d="M132.5 723.8l.3-6 .4 8.3 .3-13.5 .4 5.6 .3-1.5 .4 3.3 .3-5.6 .4 6.6 .3-3.6 .4 4.2 .3-4.8 .4-.3 .3 2.7 .4 7.1 .3-10.6 .4 8.5 .3-2.4 .4-8.5 .3 3.5 .4 .7 .3 4.4 .4-5 .3-5 .4 3.6 .3-.2 .4-.1 .3 6.9 .4-8.2 .3-1.4 .4 2.3 .3 .6 .4 4.9 .3-5.6 .4-2.5 .3 7.2 .4-5.8 .3 1.2 .4-1.6 .3-2.4 .4 3.6 .3 .7 .4-5.2 .3 2.3 .4-.9 .3-2.3 .4 .5 .3 9.7 .4-3.5 .3-5.2 .4 2.5 .3-9.3 .4 12.1 .3-5.1 .4 2.5 .3-4.9 .4 .7 .3-.5 .4 9.3 .3-9.1 .4 .2 .3 6.8 .4-2.6 .3-5.8 .4-1.1 .3 3.9 .4-7.7 .3 3.5 .4 4.5 .3 .8 .4-8.1 .3-3.7 .4 7.8 .3-2.2 .4-3.5 .3 1.9 .4-6.3 .3 7 .4-1.7 .3 1.1 .4-7.3 .3 6 .4-2.3 .3 .5 .4-1.5 .3 1.8 .4-.8 .3 0 .4-7.5 .3 3.6 .4-3.9 .3 4.9 .4 .4 .3-4.9 .4 5.6 .3-1.7 .4-.3 .3 .4 .4 5.4 .3-6.2 .4-6.3 .3 1.1 .4 5.1 .3-3.4 .4 3.3 .3-2.6 .4-1.4 .3 2.6 .4-5.8 .3 1 .4-.4 .3 .7 .4 5.6 .3-2.8 .4-.4 .3-2.9 .4-13.1 .3 9.2 .4 1.2 .3 4.6 .4-6.9 .3 .7 .4 3 .3-6 .4 2.9 .3-2.3 .4-1.2 .3 .1 .4-1.9 .3-5.7 .4 9.7 .3 3.5 .4-6.7 .3-5.7 .4 1.5 .3 .8 .4-10.8 .3 9.5 .4-10.1 .3 12.9 .4-10.9 .3 11.1 .4-12.9 .3 2.2 .4 2.9 .3 8 .4-11.7 .3 1.3 .4-5.8 .3 2.6 .4-4.4 .3 7.3 .4-5.2 .3-4.9 .4 3.3 .3-11.6 .4 13.7 .3-6.2 .4-4.4 .3 2 .4 .9 .3-3 .4 3.6 .3-7.5 .4-2 .3-.4 .4-2.1 .3 1.1 .4 2 .3 1.7 .4-5.4 .3 1.2 .4 7 .3-10.9 .4-9.9 .3 7.4 .4-15.6 .3 14.2 .4 11.9 .3-16 .4 7.5 .3-23.4 .4 24 .3-17.2 .4 8.4 .3-8.4 .4 0 .3-6 .4-6.9 .3 13.4 .4-1.4 .3-10.6 .4 6.4 .3-5.6 .4 9.1 .3-14.6 .4 5.7 .3 5 .4-7.9 .3 .4 .4 1.4 .3-3.2 .4 1.3 .3-10 .4 11.1 .3-9.4 .4 7.7 .3-7.3 .4-.4 .3 7.5 .4-20.3 .3 13.7 .4-10.4 .3 7 .4-10.2 .3 3 .4-7.1 .3 10.7 .4-8.4 .3 1.7 .4 4.3 .3-6.8 .4 8.7 .3-8.2 .4 10.8 .3-8 .4 14.1 .3-16.4 .4-5.9 .3 2.4 .4 10.7 .3-1.6 .4-14 .3 .1 .4 0 .3 5.3 .4-6.4 .3 8.1 .4-5 .3 8.8 .4-9.5 .3 14.4 .4-12.1 .3-11.7 .4 8.6 .3 11.7 .4-10.7 .3 2.5 .4 22.9 .3-19.3 .4 3.3 .3-.8 .4-.3 .3 9.3 .4-21.6 .3 13 .4 1.5 .3 3.5 .4 1.4 .3-21 .4 10.6 .3 5.2 .4 2.4 .3 6.7 .4 .1 .3 7.2 .4-10.4 .3 .9 .4-4.8 .3 15.1 .4 .9 .3 5 .4-8.4 .3 4.9 .4-5.8 .3 5.8 .4-7 .3 6.6 .4 .9 .3-1.3 .4 5.2 .3-2.5 .4-4.6 .3-6.7 .4 10.2 .3-1.3 .4 13.8 .3-6.4 .4 4.1 .3 7.5 .4-3.4 .3 3.6 .4-4 .3 4.4 .4 9.4 .3-10.1 .4 4.6 .3 10.1 .4-12.3 .3-3.6 .4 10.1 .3 8.5 .4-4.8 .3-2.4 .4 20.6 .3-13.8 .4 1.2 .3-6 .4 8.9 .3 15.2 .4-12.5 .3 5.3 .4 6 .3-21.1 .4 17.7 .3-5.8 .4 6.5 .3 6.1 .4-5 .3 4.9 .4-3.3 .3 4.3 .4 2.8 .3-.9 .4-.8 .3 5.4 .4-6.3 .3 4.6 .4 5.9 .3-2 .4-5.2 .3 9.1 .4 6.1 .3-9.5 .4 11.8 .3-18.6 .4 22.8 .3-6.8 .4-2.1 .3-.5 .4 4.6 .3 1.1 .4 1.7 .3 1.2 .4-5.2 .3 4.8 .4-.7 .3 8.9 .4-6.6 .3 6.5 .4-6.2 .3 8.1 .4-.7 .3 1.4 .4 3.2 .3-3 .4 4.1 .3 4.9 .4-2.9 .3-.6 .4 1.5 .3 4 .4-14 .3 21.5 .4-11 .3 5.7 .4-11.3 .3 5.6 .4 2.7 .3 .5 .4 6.7 .3-7.7 .4-.5 .3 3.8 .4-4.1 .3 9.4 .4-7.5 .3-8.2 .4 12.3 .3-3 .4 8.3 .3-10 .4 5.2 .3 1 .4-.3 .3-6.2 .4 7 .3-4 .4-3 .3 12.9 .4-6.8 .3-3.6 .4-4.5 .3 15.1 .4 .1 .3-1.4 .4 .9 .3-4.1 .4 2.7 .3 1.7 .4-3.7 .3 4.3 .4 1.1 .3-2.2 .4 1.1 .3-9.5 .4 8.3 .3-.2 .4 .6 .3 6.9 .4 1 .3-12.4 .4 7.1 .3-3 .4 4 .3 7.9 .4-12.1 .3 3.1 .4-.2 .3 2.9 .4 1.5 .3-9.8 .4 4.6 .3 1.8 .4 8.4 .3-5.1 .4-1.3 .3 7.2 .4-8.5 .3 3.4 .4-4.6 .3 .2 .4 7.2 .3-2.2 .4-2.1 .3-4.1 .4 2.1 .3 6.9 .4-5.7 .3-6.8 .4 4.9 .3 2.9 .4 3.2 .3-4 .4-1.7 .3 4.7 .4-3.9 .3-.4 .4 2.3 .3-.3 .4 3.7 .3-4 .4 1.4 .3-1.3 .4 1.6 .3 3.6 .4-9.5 .3 9.4 .4 .3 .3-5.7 .4-9.3 .3 10.2 .4 1.6 .3-3.9 .4-.1 .3 2 .4 5.7 .3-3.9 .4 .9 .3-.8 .4 .8 .3-1.6 .4 .5 .3-4.3 .4 14.8 .3-13.3 .4 6.2 .3-1.9 .4 1.2 .3-1.7 .4 .2 .3-1.3 .4-4.1 .3 6.3 .4 0 .3-1.8 .4 6.6 .3 .4 .4-6.3 .3 .8 .4-2.1 .3 4.2 .4-4.2 .3 1.5 .4 8.5 .3-10.3 .4 8 .3-4 .4-2.9 .3 5.5 .4-2.1 .3 1.9 .4-3 .3-.4 .4-2.8 .3 .5 .4 4.1 .3-.6 .4-5.3 .3 3.5 .4 2.8 .3-6.4 .4-3.3 .3 11.2 .4-5.8 .3 4.4 .4 6.4 .3-10.4 .4 4.2 .3-1.8 .4 5.2 .3-2.3 .4-5 .3 7.2 .4 3.3 .3-2.7 .4-4.6 .3 12.2 .4-8.5 .3-1.9 .4-4 .3 5.1 .4-5.2 .3 1.5 .4 4.8 .3 1 .4-1.1 .3-1 .4 3.5 .3 .5 .4-10.7 .3 9.1 .4 .9 .3-1.9 .4-1 .3 2.6 .4-10.1 .3 12.5 .4-4.2 .3 .3 .4 .7 .3-1.3 .4-1.2 .3-.5 .4-1.1 .3-6.7 .4 13.2 .3 4.6 .4-6.7 .3-2.7 .4 .8 .3 3.3 .4-2.8 .3-.6 .4 2.9 .3-3.9 .4-2.5 .3 3.5 .4 4.7 .3 5.7 .4-12 .3 4.5 .4-6.6 .3 5.4 .4-5 .3 1.6 .4 4.6 .3-6.5 .4 4.3 .3-1.2 .4 10.8 .3-7.7 .4-3.7 .3 10.9 .4-8.5 .3-4.1 .4 1.7 .3 4.2 .4 4.2 .3-14.2 .4 7.7 .3-3 .4 4 .3-11.3 .4 11.6 .3-1.6 .4 .6 .3-1 .4 1.3 .3 1.8 .4-8.4 .3 4.2 .4-1.5 .3 2.3 .4 .9 .3-1.3 .4 2.9 .3-12.2 .4 6.7 .3-.5 .4-1.2 .3 5.4 .4 .6 .3-2.2 .4 2.3 .3-2.4 .4 1.4 .3-7.6 .4 6 .3-5 .4 7.9 .3-.9 .4 2.4 .3 .4 .4-3.7 .3-3.8 .4 2.1 .3 2.2 .4 .4 .3 .1 .4-5.9 .3 .5 .4 5.5 .3-6.7 .4 5.1 .3-.5 .4 3.2 .3-7.7 .4 6.6 .3-3 .4 2.4 .3-4.5 .4 3.9 .3 1.2 .4-.7 .3 .8 .4-1.5 .3-.6 .4 1 .3-5.2 .4 5.1 .3-4.6 .4 3.2 .3 0 .4-4 .3 1.8 .4 3.9 .3-.7 .4-1.1 .3 1.4 .4-2 .3 .5 .4-.4 .3 2.5 .4-7.8 .3 8.4 .4-12.7 .3 8.7 .4 9.3 .3-10.4 .4 1.2 .3-2.2 .4 6.3 .3-6.2 .4 2.2 .3-.4 .4-1.5 .3 2.7 .4-1.3 .3 6.9 .4-6.3 .3 1.8 .4-9.8 .3 11.2 .4-2.6 .3-2.1 .4 1.7 .3-10.3 .4 6.6 .3 4.7 .4-1.7 .3 4.6 .4-3 .3 4.3 .4-2.5 .3-7.6 .4 7.3 .3-2 .4-4.3 .3-.8 .4 2.1 .3 4.1 .4-3.5 .3 .9 .4-.3 .3 .8 .4-1.3 .3-5.3 .4 12.8 .3-6.9 .4-7.9 .3 4.7 .4 8.7 .3 .9 .4-7.1 .3-1 .4 .5 .3-.8 .4 1 .3 .8 .4-4.5 .3 11.6 .4-10.5 .3-2.6 .4 5.7 .3-1.8 .4 2.9 .3-4.9 .4 3.1 .3-4.1 .4 6.8 .3-5.2 .4 9.4 .3-9.6 .4 2.7 .3-1 .4 7.9 .3-8.5 .4 1.5 .3 3.8 .4-9.1 .3 4.6 .4 4 .3-5.8 .4-2 .3 4.3 .4 2.4 .3 1.4 .4-4.5 .3-2.5 .4-7.6 .3 9.4 .4-2.9 .3 4.2 .4 .8 .3-.1 .4-3.8 .3 12.5 .4-7.6 .3-1.5 .4 1.8 .3 4.1 .4-7.8 .3 3.5 .4-3 .3-.1 .4 10.5 .3-13.3 .4 3.4 .3 2.7 .4-1.7 .3-1.6 .4 3 .3-4.4 .4 2.2 .3-.1 .4-3.1 .3 .3 .4 6.5 .3-7.7 .4 13.8 .3-10.9 .4 9.9 .3-7.1 .4-1.7 .3 4.2 .4-8.1 .3 4.4 .4 1.4 .3 0 .4-3.1 .3-4.2 .4 13.1 .3-2.2 .4-6.5 .3 4.5 .4-6.5 .3 1.7 .4 11.4 .3-13.8 .4 4.6 .3 1.3 .4 1 .3 3.1 .4-11 .3 6.8 .4-.6 .3-1 .4-1.8 .3 5.3 .4-4.4 .3 2 .4-2.2 .3 .8 .4 10 .3-12 .4 5.7 .3-8.5 .4 12.7 .3-6.6 .4-1.9 .3 3.6 .4-.6 .3 6 .4-6.4 .3 .8 .4-3 .3 3.7 .4-.7 .3-2.3 .4-1.8 .3 11.6 .4-9.9 .3 2.9 .4-8 .3 4.1 .4-1.2 .3 4.3 .4-2.5 .3 3.4 .4-3.7 .3-.2 .4 0 .3-.7 .4 2.3 .3-.3 .4 4.8 .3-5.9 .4-2.5 .3 7.5 .4 3.1 .3-7 .4-5.8 .3 4.4 .4-3.5 .3 .4 .4-.7 .3-6.7 .4 4.7 .3-1.4 .4-3.2 .3-3.9 .4 4.2 .3-.3 .4 8.9 .3-10.3 .4-3.6 .3 .3 .4-7.2 .3 6.8 .4 9.5 .3-9.4 .4 9.2 .3-.8 .4 5.2 .3 2.8 .4-.9 .3 2 .4-7.8 .3 2.5 .4-1.4 .3 4 .4-6.8 .3 10.5 .4 1.5 .3-1.3 .4-3.8 .3 1.2 .4 1.5 .3-3.9 .4 1.7 .3 2.6 .4-1.4 .3-.7 .4-1.5 .3 4.7 .4-3.7 .3 .7 .4 .9 .3-3 .4 7.2 .3-5.8 .4 3.2 .3-1 .4-4.1 .3-6.7 .4 9.6 .3 2.1 .4-5.5 .3 6.2 .4-5.2 .3 1.8 .4-3.1 .3 .7 .4 3.9 .3 1.1 .4-8 .3 9.3 .4-2.8 .3 .1 .4-.3 .3-3.9 .4 10.2 .3-2.6 .4-7.9 .3 2.7 .4-1.3 .3 2.3 .4 0 .3 6.6 .4-5.1 .3 4.9 .4-2.7 .3-6.4 .4 5.1 .3-1.4 .4-4.1 .3 3.8 .4 1.1 .3-4.8 .4 7.6 .3 2.1 .4 3.3 .3-19.2 .4 8.6 .3-2.1 .4-.7 .3 4.2 .4-.9 .3 1.2 .4 1.2 .3-2.7 .4 3.6 .3 .5 .4 6.1 .3-19.6 .4 8.7 .3 7.1 .4-2.4 .3-5.9 .4 5.5 .3 2 .4-2.8 .3-6.6 .4 5.7 .3-11.6 .4 10.3 .3-.1 .4 1.7 .3-3.6 .4 1.2 .3-.5 .4-4 .3 3.8 .4 2.1 .3-.1 .4-4.3 .3-5.4 .4 12.2 .3-2.9 .4-5.7 .3 5.1 .4-2.7 .3 3.5 .4 2 .3-4.4 .4 3.5 .3-9.6 .4 4.7 .3 1.3 .4 .6 .3-.2 .4 4.7 .3-6.3 .4-1.1 .3 6.5 .4-3.2 .3 .3 .4-1.4 .3 .9 .4 2.7 .3-5.6 .4 2.2 .3-1.5 .4 1.9 .3-1.5 .4 0 .3 0 .4-.1 .3 1.6 .4-4.8 .3 3 .4-8.9 .3 9.2 .4-2.9 .3 4 .4-3.3 .3 12.6 .4-8.3 .3-3.9 .4 10.2 .3-4.9 .4-7.3 .3 5.1 .4 2.6 .3-13.8 .4 5.9 .3 1.2 .4 3.5 .3-.3 .4-5.2 .3 .4 .4-.8 .3 4.2 .4-1.3 .3 1.2 .4 6 .3-5.8 .4-1 .3 .1 .4 1.3 .3 4.6 .4-5.9 .3 2.9 .4-1 .3-.8 .4-.7 .3 0 .4-.9 .3-4 .4 4.7 .3-5.4 .4 6.3 .3-4.2 .4 3.4 .3-1.1 .4-1.5 .3 2.2 .4 8.5 .3-9.9 .4-.1 .3-.1 .4-8.9 .3 6.2 .4 4.5 .3-6.8 .4 2.3 .3 9.4 .4 2.5 .3-10.7 .4-3.4 .3 6.1 .4 6.3 .3-8.9 .4 2.5 .3-4.5 .4 4.7 .3-13 .4 17.1 .3-7.1 .4 .7 .3 .7 .4-1.5 .3-.4 .4-1.1 .3 2.4 .4 5.1 .3-2.2 .4-6 .3 4 .4 2.4 .3-6.4 .4 2.8 .3 .1 .4 .9 .3-5 .4 4.4 .3 0 .4 2.7 .3-1.5 .4 1.9 .3-3.4 .4 1.3 .3-4 .4 5.3 .3 5.4 .4-5.1 .3-.1 .4-1.8 .3 5.5 .4-3.9 .3 4.2 .4-10.4 .3 6.1 .4-2.5 .3-2.1 .4 2.5 .3 2.1 .4-5.9 .3-1.1 .4 8 .3-2.1 .4 .2 .3-4.7 .4-4.3 .3 8.3 .4 3.1 .3-3.8 .4 2 .3-1.4 .4-1.6 .3 3.1 .4-2.9 .3 2.3 .4-2.1 .3-.2 .4-4 .3 3.8 .4 3.1 .3-.9 .4 .5 .3 .5 .4 6.5 .3-9 .4-.2 .3 2.1 .4-12.6 .3 9.4 .4-1.1 .3 2.1 .4-11.7 .3 8.7 .4 6.7 .3-9.6 .4 5.2 .3-.6 .4-5.5 .3-3 .4 6.7 .3-7.9 .4-2.1 .3 9.7 .4-7 .3-.3 .4-5.1 .3-1.5 .4 7.7 .3-12.3 .4-3 .3-5.3 .4-14.1 .3 11 .4 7.5 .3-19.7 .4 1.6 .3-3.6 .4-2.2 .3-4.2 .4-2.2 .3-5.3 .4-2.9 .3-7.4 .4 3.6 .3 1.6 .4-13.6 .3-6.7 .4-7.3 .3 8.5 .4 1.7 .3-20.3 .4 10.9 .3-2.8 .4 3.5 .3-2.5 .4-1.8 .3 10.7 .4-8.7 .3 3.8 .4 8.2 .3 4 .4 4.6 .3-1.4 .4 .9 .3 8 .4 10.3 .3-7.3 .4 1.2 .3-5.1 .4 2.2 .3 1 .4 1.1 .3 2.2 .4-5.6 .3 11.9 .4 2.4 .3 4.3 .4-1 .3-2.8 .4 5.1 .3 1.7 .4-2.2 .3 8.1 .4-6.4 .3 2.9 .4 9.9 .3-4.1 .4 2.5 .3-4.5 .4 4.1 .3-3.7 .4 2.3 .3 1.2 .4 3.9 .3-7.7 .4 15.5 .3-15.7 .4 10 .3-5.1 .4-1.6 .3 10.9 .4-5.8 .3 5 .4-4.6 .3-1.7 .4 1.4 .3 3 .4 7.3 .3-7.6 .4 1 .3-8.2 .4 9.2 .3-.4 .4 .4 .3 2.1 .4 2.6 .3-5.2 .4 1.7 .3 1.8 .4 4.1 .3-3.3 .4-5.4 .3 13.9 .4-10.5 .3 3.6 .4 2.4 .3-12.5 .4 10.7 .3 1.9 .4-2.6 .3-.7 .4-3.8 .3 13.3 .4-21.9 .3 18.5 .4-4.4 .3 2 .4-13 .3 12.7 .4-2.4 .3-.7 .4-4.4 .3-.9 .4-3.4 .3 9 .4 .3 .3-8.4 .4 .6 .3 3.1 .4-1.3 .3 2.7 .4 2.1 .3 1.6 .4-6.6 .3 3.3 .4-5.9 .3 6.2 .4-3.4 .3-1.1 .4 4.9 .3-1.8 .4-.9 .3 .9 .4 5.8 .3-5.5 .4 2.3 .3 6.4 .4-3.5 .3-1.1 .4 11.2 .3 1.2 .4-8.9 .3-.7 .4 3.8 .3 2.4 .4-4.2 .3 4.1 .4 1.3 .3-14.3 .4 18.7 .3-13 .4 4.7 .3 6.2 .4 1.4 .3-8.2 .4 2.1 .3 3 .4 4.3 .3-3.3 .4-3 .3 8.3 .4-8.2 .3 .4 .4 7.8 .3-8.7 .4-7.3 .3 7.7 .4 3.6 .3-1.2 .4-9.5 .3 6.9 .4 6.3 .3-.9 .4-2.9 .3-1.2 .4 2.6 .3-8.4 .4 7.7 .3 1.8 .4 .9 .3-3.7 .4-8.2 .3 9.6 .4 .9 .3 .2 .4-3.4 .3 1.8 .4 1.6 .3-2.7 .4 2.4 .3-9.1 .4 10 .3-.7 .4 5.3 .3-.7 .4-13.4 .3 8.5 .4-2.6 .3 3.1 .4-.1 .3-6.7 .4 6.1 .3 .7 .4 5.8 .3-3 .4-1 .3-3.4 .4 7 .3-13.2 .4 15.4 .3-1.5 .4-7.9 .3-3.4 .4 7.7 .3 .6 .4-1 .3 1.9 .4 1.1 .3-8.9 .4 6.7 .3-4.3 .4 9.7 .3-3.3 .4-1.9 .3-1.6 .4 2.1 .3-11.1 .4 10.8 .3-4.9 .4 3.3 .3 0 .4 2.6 .3-3.8 .4 .7 .3-.3 .4 1.5 .3-5.4 .4 6.2 .3-3.4 .4 3.1 .3 1.8 .4 .5 .3-6.2 .4 4.8 .3-1.4 .4-7.3 .3 3.5 .4-.4 .3 2.3 .4 .5 .3 1.1 .4 .4 .3-1.5 .4 5.4 .3-2.6 .4 3.8 .3-4.6 .4-.9 .3 .4 .4-5.7 .3 5.3 .4-2.8 .3 11.8 .4-5.1 .3-5.8 .4 2.4 .3 1 .4 .1 .3-1 .4-.6 .3 4.8 .4-5.7 .3-8.2 .4 11.6 .3 .4 .4-10.9 .3 7.2 .4 1.3 .3-2.9 .4 5.1 .3-6.2 .4 3.7 .3 3.9 .4-1.2 .3-6.9 .4 2 .3-3.6 .4 4.4 .3 9.3 .4-16.8 .3 7.4 .4 .4 .3 .4 .4-1.2 .3 2.4 .4-4.5 .3 5.2 .4-1.9 .3 1.2 .4 .6 .3-2.5 .4-.3 .3 3.6 .4-3 .3 .6 .4 .6 .3-3 .4 5.4 .3-8.2 .4 11.6 .3-5.6 .4-3.3 .3 4.7 .4 .4 .3-3.1 .4 1.3 .3-7.9 .4 6.8 .3 7.8 .4-16.6 .3 8.1 .4 2.7 .3-3.7 .4-6.3 .3 7.5 .4 5.6 .3-2.3 .4 3.9 .3-12.4 .4 3.5 .3 7.6 .4 1.5 .3-7.2 .4-9.7 .3 10.3 .4 3.6 .3-4.9 .4 5.8 .3-14.8 .4 11.8 .3-7.2 .4 9.6 .3-4.6 .4 2 .3-9.3 .4 8.6 .3-5.6 .4 4 .3 .5 .4 2.3 .3-3 .4-3.9 .3 5.4 .4-9 .3 3.7 .4 4.2 .3-.1 .4-5.3 .3 .8 .4 6.7 .3-1.1 .4-2 .3 4.3 .4-6.4 .3 5.5 .4-6.9 .3 8.5 .4-3.8 .3-1.3 .4-1.6 .3-2.1 .4 3.7 .3 2.5 .4-.8 .3-1.1 .4-2.3 .3 6.9 .4-6.4 .3 0 .4 3.5 .3-1.1 .4-1.4 .3-.5 .4 7.3 .3-6.1 .4-4.8 .3 3.5 .4 8.1 .3-11.3 .4 4.9 .3-10.3 .4 12.2 .3-3.1 .4 2.7 .3 1.2 .4-2.6 .3-6.6 .4 4.3 .3 1.1 .4 2.6 .3-4 .4-1.1 .3 .3 .4 2.5 .3 2 .4 4.4 .3-6 .4 2.5 .3 2.8 .4-5.2 .3 4.8 .4-5.5 .3 .1 .4 0 .3-3.4 .4-1.8 .3 6.5 .4-9.3 .3 7.7 .4 9.8 .3-10.7 .4 2.3 .3-2.3 .4-.4 .3 2.3 .4 1.3 .3-5.1 .4 3.7 .3-2.6 .4-7.7 .3 8.6 .4 1.7 .3-1.8 .4 1.5 .3 .2 .4-1.7 .3 1.2 .4-1.9 .3 9.3 .4-6.8 .3-11.6 .4 13.7 .3-.7 .4 .6 .3-4 .4-5.3 .3 7 .4-2.3 .3 .1 .4-2.4 .3 12.7 .4-10.2 .3-2.4 .4 2.6 .3 3.6 .4-2.5 .3 2.6 .4 .8 .3 .3 .4-1.7 .3-1.2 .4-1.9 .3 .5 .4-.8 .3-1.2 .4 3.3 .3-7.6 .4 9.2 .3-11 .4 6.2 .3 .3 .4 2.4 .3-1.1 .4-2.8 .3 5.8 .4 .4 .3-5 .4 1 .3 5.6 .4-6.1 .3 3.3 .4-11.4 .3 3.2 .4 8.7 .3-4.9 .4 .3 .3-.4 .4-1.2 .3 1.3 .4 8 .3 2.1 .4-14 .3 4.1 .4-.3 .3-3.6 .4 1.5 .3 .3 .4-1.6 .3 5.5 .4 1.2 .3-2.9 .4 8.8 .3-1.3 .4-10.9 .3 2.9 .4-2.7 .3 2.1 .4-.6 .3 .4 .4 6.6 .3-3.8 .4-4.7 .3-6 .4 8.1 .3-1.9 .4 1.4 .3-1.4 .4-3.2 .3 .5 .4 1.3 .3 3.8 .4-3.8 .3 11.3 .4-7.9 .3 2.3 .4-5.1 .3-.1 .4-7.6 .3 8.2 .4 3.5 .3-9.4 .4 4.8 .3 3 .4-.5 .3-1.4 .4-2.4 .3-1.4 .4-.1 .3-2.7 .4 5.5 .3-2.1 .4 2.6 .3 2.3 .4-14.9 .3 8.6 .4 2 .3-.7 .4 .8 .3 4.2 .4-8.1 .3 2.4 .4-5.3 .3 4.7 .4-.3 .3-10.1 .4 8.6 .3 4.5 .4-3.2 .3-.6 .4 0 .3 2.3 .4-7.4 .3 5 .4-6.2 .3 8.3 .4-3.5 .3-1.5 .4 1 .3 1.8 .4 2.7 .3-1.8 .4 7.8 .3-12.3 .4-1.3 .3 3.1 .4-5.1 .3 1.2 .4 3.9 .3 2.8 .4-2.5 .3-9.4 .4 14.8 .3-5.2 .4-2.2 .3-.1 .4-2.2 .3-.8 .4 3.1 .3-5.9 .4 7.1 .3-3.5 .4 .4 .3 0 .4 3.6 .3-16.2 .4 10.7 .3-5.6 .4 .4 .3 12.9 .4-18.7 .3 4.2 .4 8.9 .3-3.3 .4-6.5 .3 12.1 .4-7 .3 8.6 .4-15.1 .3 6.8 .4-6.4 .3 .7 .4 1.4 .3 .7 .4-.2 .3-1 .4-1.2 .3-.9 .4 2.8 .3-1.2 .4-5 .3 1.1 .4 4.8 .3-2.4 .4-2.4 .3 7.7 .4-6.1 .3 5.5 .4-4.9 .3-6 .4 6.8 .3-1.8 .4-7 .3 .7 .4 5 .3 5.4 .4-4.2 .3 2.4 .4-3.1 .3-1 .4 7.2 .3 3.1 .4-10.6 .3 4.9 .4-4.6 .3-.3 .4 3.3 .3-1 .4-.3 .3 2.3 .4-15 .3 17.3 .4-5.7 .3 6 .4-2.4 .3-3.8 .4-.5 .3 4 .4-.5 .3-7.4 .4-7.5 .3 10.6 .4 .4 .3-7.2 .4 11.2 .3 3.5 .4-6.1 .3-1.5 .4-2.8 .3-2.6 .4 6.7 .3-11.6 .4 12.4 .3-12.5 .4 15.6 .3-5.2 .4 1.7 .3 2.5 .4 2.3 .3-11.7 .4 3 .3 7.3 .4-7.4 .3 2.4 .4 1.5 .3 2 .4-1.3 .3 .1 .4-4.3 .3 7.3 .4-2.3 .3 7.3 .4-7.5 .3 1.9 .4-5.1 .3 3.3 .4-2.1 .3-3.4 .4 16.9 .3-4.3 .4-10.4 .3 2.8 .4 1.4 .3-6.6 .4 .4 .3 6.5 .4-5.9 .3 .3 .4 2.2 .3-2.9 .4 .6 .3-2.1 .4 8 .3-1.4 .4-4 .3 4.4 .4 4.8 .3 1.1 .4-11.4 .3 7.6 .4 1.9 .3-.9 .4 1.8 .3 1.5 .4 1.6 .3 2 .4 3.1 .3 1.1 .4-.8 .3-.8 .4-3.4 .3 3.1 .4-8.4 .3-1.7 .4 9.7 .3 2.8 .4 .5 .3 .8 .4 9.9 .3-6.6 .4-3.1 .3-.1 .4 1.8 .3 0 .4-.2 .3 3.8 .4-.7 .3-3 .4-1.3 .3 4.7 .4 1.3 .3-1.9 .4 3 .3-1.6 .4-.5 .3-1.6 .4 1.5 .3 1.5 .4 4.2 .3-4.8 .4-5.7 .3 4.9 .4 3.4 .3-.6 .4-2.3 .3 2.1 .4 4.4 .3-6 .4 4.2 .3-2.6 .4-.8 .3 7.8 .4-6.7 .3-.2 .4 10.5 .3-10.1 .4-1.5 .3-2.4 .4 7.6 .3 0 .4-3.3 .3 2.2 .4 .3 .3 2.7 .4-12.2 .3 8.1 .4-7.3 .3 5.4 .4 3.7 .3 .4 .4-1.9 .3-2.6 .4 11.7 .3-9.1 .4 9.5 .3 .9 .4-6.1 .3-3.4 .4 .3 .3-2.5 .4 5.4 .3 1 .4-.7 .3-.5 .4-.7 .3 .8 .4-2.5 .3 2.8 .4-3.4 .3 5.5 .4-4 .3 9.3 .4-7.9 .3 3.8 .4-1.5 .3-2 .4 5.8 .3-2.3 .4 2.9 .3-5.3 .4-2.3 .3-2.3 .4 5.7 .3-4.4 .4 12.7 .3-14.3 .4 9.3 .3 0 .4-2.9 .3 7.7 .4-17.9 .3 11.4 .4 .4 .3-.5 .4 .7 .3-1.8 .4 .9 .3 5.2 .4 2.5 .3-15.8 .4 6.8 .3 1.8 .4-.6 .3-8.8 .4 10.8 .3-3.2 .4 7 .3-.7 .4-4.2 .3 3 .4-1.1 .3-.8 .4 1.8 .3-2.9 .4 .7 .3 3.4 .4-2.1 .3-1.3 .4 2.4 .3-5.6 .4 3 .3 1.7 .4 8.3 .3-5.5 .4 0 .3 1.6 .4-2.7 .3 6.5 .4-9 .3 9.7 .4-11.8 .3 3.7 .4 11.5 .3-13.1 .4-5.6 .3 9.4 .4-2.5 .3-2.3 .4 .1 .3 3.4 .4 .3 .3 8.3 .4-10 .3 6 .4-3.6 .3-2.5 .4-3.4 .3 10.7 .4-6.1 .3 .6 .4 2.2 .3 10.1 .4-10.2 .3-2 .4 3.3 .3-.2 .4 .7 .3-2.9 .4 2.5 .3 2.5 .4-3 .3-2.2 .4 5.7 .3-2.8 .4 .1 .3-1.9 .4 5.7 .3-2.2 .4 1.8 .3 6.4 .4-11 .3-.6 .4 .8 .3-1.9 .4 2.6 .3 .4 .4 1.4 .3-6.3 .4 7.4 .3-3.2 .4 1.1 .3 2.4 .4-2.1 .3-3.1 .4 3.3 .3-2.8 .4-2.9 .3 11.1 .4-6.8 .3 1.1 .4-1.4 .3 1.8 .4-1.8 .3 4 .4-5.1 .3 6.4 .4-5.3 .3-2.4 .4-.2 .3 4.4 .4-.5 .3 2.1 .4-5.1 .3 7.8 .4-3 .3 6.2 .4-8.7 .3-1.5 .4 3.7 .3 2.8 .4-6 .3-.6 .4-1.4 .3 5 .4-3.1 .3 2 .4-.8 .3-4.4 .4 3.9 .3-.1 .4 .1 .3 6.5 .4-1.7 .3-3 .4 3.9 .3 .3 .4 .8 .3-4.1 .4-1.7 .3-3.1 .4 0 .3 3.6 .4-10.6 .3 4.8 .4 3 .3 2.4 .4 6.5 .3-7.2 .4-2.2 .3 1.1 .4-2.5 .3 1.5 .4 4.1 .3-6.5 .4 1.3 .3 3.9 .4-4.6 .3 4.8 .4 7 .3-.8 .4-15.4 .3 9.8 .4-.5 .3-1.4 .4-1.3 .3 1.3 .4-1.4 .3-8.1 .4 11.6 .3 .7 .4 3.1 .3-11.2 .4 6 .3 2.1 .4-3.4 .3 6.7 .4-8.2 .3 .3 .4 3.9 .3-6.8 .4 1.8 .3 3.2 .4-.1 .3 .9 .4-4 .3 2.7 .4 1.2 .3-1.6 .4-1.2 .3 1.7 .4 2.5 .3-5.8 .4 6.3 .3-3.5 .4 1.2 .3-.4 .4 3.7 .3-2.6 .4-2.2 .3-4.3 .4 8.2 .3 .2 .4-4.1 .3 .3 .4-2.8 .3 3.4 .4-2.8 .3 1.3 .4 7.1 .3-.2 .4-13.2 .3 3.4 .4 2.1 .3-1.9 .4 .8 .3-4.6 .4 3.1 .3 7.4 .4-11.3 .3 2 .4 3.9 .3-4.2 .4-5.2 .3 2.7 .4 4.5 .3-3.7 .4-.8 .3-2.2 .4-6.9 .3 2.9 .4 7.2 .3-3.3 .4-3.2 .3 14.1 .4-12.6 .3-1.9 .4 2.3 .3-5.7 .4 1.3 .3 5 .4 3.2 .3-.8 .4-5.6 .3-4.5 .4 10.4 .3-7.9 .4-.8 .3 1 .4-1.2 .3 .4 .4-4.9 .3 2.6 .4-3 .3-.8 .4 4.9 .3-11.9 .4 .3 .3 7.4 .4-10 .3 10.3 .4-1.9 .3-5.9 .4 1.2 .3 1.6 .4 .4 .3-3.4 .4 4.2 .3-1.3 .4-8.1 .3 7 .4 3.3 .3-5.2 .4 4.1 .3-2.8 .4-6.8 .3 9.6 .4-10.9 .3 2.2 .4 11.7 .3-6 .4-4.1 .3 3.8 .4-3.3 .3-1.8 .4 1 .3 .1 .4 6.4 .3-4.5 .4 .9 .3 10.1 .4-14.4 .3 6.8 .4-8.8 .3 4.3 .4 .2 .3-4.1 .4 .9 .3 4.3 .4-1.1 .3-1.9 .4 .2 .3 3.2 .4 1.1 .3-1.3 .4 2 .3-4.2 .4 2.6 .3-2.7 .4 3 .3-.4 .4 2 .3-2.7 .4-2.4 .3-2.4 .4 8.6 .3 1.9 .4-3.7 .3-2.3 .4 4.7 .3 1.4 .4 4.9 .3-2.3 .4-3.3 .3-.7 .4 1.4 .3-2.9 .4 1.3 .3-4.6 .4 2.2 .3 4.2 .4 10.3 .3-8.7 .4-6 .3 14.5 .4-8.4 .3-.4 .4 4.6 .3-3.8 .4-.4 .3-4.8 .4 11.3 .3-1 .4-1.3 .3-3 .4 6.1 .3-5.2 .4 .3 .3 7.5 .4-5.8 .3-5.1 .4 6.2 .3-5.5 .4 .8 .3 3.4 .4 1 .3 9.5 .4-11.2 .3 .8 .4-1.3 .3 5.1 .4-.7 .3 4.8 .4-6.2 .3-2.3 .4-3.4 .3 8.1 .4-13.6 .3 .2 .4 10.3 .3 3.6 .4-6.5 .3 7.8 .4-2.8 .3 1.9 .4-7.4 .3 5.3 .4-.8 .3 1 .4-1.6 .3-.2 .4-2.3 .3 5.4 .4-6.6 .3-1.1 .4 3.4 .3 2.8 .4 .1 .3 .4 .4-1.5 .3 2.3 .4 2.5 .3-6.5 .4 5.1 .3-.3 .4-.6 .3-10.1 .4 10.1 .3 1 .4-1.5 .3 .2 .4-1.3 .3 2.8 .4 .9 .3-.8 .4-.3 .3-.7 .4 1.9 .3 .7 .4 5 .3 3.9 .4-5.6 .3-2.6 .4 8.5 .3-14.1 .4 5 .3-5.2 .4 3.6 .3-5.4 .4 6.9 .3-2.8 .4 4.6 .3-10.5 .4 10.8 .3-.9 .4 1.1 .3 .2 .4 5.8 .3-3.3 .4-2.3 .3 .2 .4-5.3 .3 4 .4 .4 .3-.7 .4-2.1 .3 5.7 .4-.2 .3 .3 .4-.9 .3-3 .4-1.2 .3 2.5 .4 2.2 .3-4.3 .4 8.6 .3-3.6 .4-1.7 .3-.7 .4-8.3 .3 3.2 .4 6.5 .3-.7 .4-1.8 .3 2.6 .4-2.5 .3 0 .4-4.5 .3 9.4 .4-12.2 .3 10.6 .4 .8 .3-5.1 .4 4.9 .3 6.7 .4-8.7 .3-1.5 .4 .2 .3 2.8 .4-7.7 .3 3.6 .4-7.8 .3 11.6 .4 4.7 .3-3.5 .4 4.1 .3-12.9 .4 8.2 .3 3 .4-4.2 .3-1.7 .4 3.8 .3-2.2 .4-.4 .3 6.2 .4-2.4 .3-4.2 .4 1.8 .3-.9 .4 1.3 .3 .1 .4 3.1 .3-2.1 .4 3.5 .3-9.3 .4 4.3 .3-2.8 .4 9.3 .3-8.9 .4 1.2 .3 .4 .4-2.3 .3 3.6 .4 2.2 .3-4.8 .4 7.5 .3-1.4 .4-9.9 .3 5 .4 1.2 .3 .3 .4 5.4 .3-8.5 .4 1.6 .3 .1 .4 .5 .3 4.4 .4-6.8 .3 2.6 .4 7.6 .3-10.2 .4 2.6 .3 7.3 .4-6.6 .3 0 .4-1.1 .3 1.4 .4-8.1 .3 11.4 .4-11.8 .3 10.2 .4-1.7 .3-.2 .4-1.9 .3 3.2 .4-2.8 .3 3.3 .4 7.7 .3-10.5 .4 3 .3-5.8 .4 4.6 .3-2.8 .4 2 .3-6 .4 3.2 .3 3.4 .4 4.8 .3-3.6 .4-5.5 .3 3.2 .4 2.9 .3-8.3 .4 8.1 .3-10.8 .4 11.2 .3-2.8 .4 2 .3 3.9 .4-6.7 .3 .9 .4-.5 .3-4.2 .4 4.9 .3-.1 .4-.1 .3 1.8 .4 2.9 .3-1 .4 .3 .3-.4 .4-3.3 .3-2.3 .4-.2 .3 4.3 .4 4.5 .3-5.2 .4 .1 .3-1.6 .4-1 .3 4.3 .4-7.3 .3 11.2 .4-6.2 .3 5.3 .4-5.7 .3-5.9 .4 4.9 .3 .1 .4 1.8 .3-3.5 .4-2.3 .3 6.5 .4 3.6 .3-1.6 .4-4 .3-9.3 .4 8.5 .3 4.5 .4-3.2 .3 .1 .4-.6 .3-1.6 .4 5.1 .3-3.4 .4 .1 .3-5.8 .4 3.7 .3 .3 .4-3.1 .3 5.4 .4-1.2 .3-1.8 .4 5.4 .3-3.4 .4-.7 .3 3.9 .4-2.2 .3 4.3 .4 .5 .3-13.2 .4 7 .3 1.4 .4-5.3 .3 10.9 .4-7.6 .3 2.8 .4 5.6 .3-6.6 .4 1.5 .3-1.3 .4-1.5 .3-1.3 .4-.6 .3 4.5 .4-3.6 .3 7.6 .4-5.2 .3-.6 .4-9.2 .3 14.3 .4-4.1 .3 4.2 .4-5 .3-1.6 .4 .9 .3-8.5 .4 10.9 .3 3.5 .4-1.7 .3-4.8 .4-2.1 .3 4.7 .4 4.9 .3-3.9 .4-2.1 .3 5.9 .4-11.9 .3 2.9 .4 6.6 .3-.1 .4-5.1 .3 2.2 .4-1.3 .3 .2 .4 1.6 .3-5.7 .4-.6 .3 6.2 .4-1.1 .3-7.2 .4 13.7 .3-2.4 .4-11.5 .3 .6 .4 7.7 .3-7.8 .4 5.5 .3-4.7 .4 7.1 .3-1.6 .4-1 .3 .5 .4 3.6 .3-3.7 .4-1.5 .3 5.2 .4-6.5 .3 4 .4 2.6 .3-3.6 .4 1.2 .3-2.5 .4 2 .3-2.9 .4 2.8 .3-3.4 .4 2.5 .3 1.8 .4-3 .3 2.6 .4 .7 .3-4.3 .4 2.8 .3 2.8 .4-2.4 .3-.6 .4-9.8 .3 8.5 .4 3.5 .3 4.8 .4-11.4 .3 1.4 .4 1.8 .3-1.3 .4 1.1 .3-2.8 .4 2.4 .3 2.2 .4-.8 .3-1.3 .4-.2 .3 3 .4-1.4 .3-2.4 .4 4.3 .3-.9 .4-.5 .3-5.8 .4 15.8 .3-9.5 .4-2.1 .3 5.4 .4-4.6 .3 .5 .4 1.1 .3 3.2 .4-2 .3 7.2 .4-5.4 .3-3.7 .4 1.8 .3 5.4 .4-9.2 .3 2.7 .4-1 .3 .8 .4 5.3 .3-5 .4-.6 .3-5.2 .4 2.8 .3 3.4 .4-1.7 .3 5.3 .4-4.2 .3 4.7 .4-4 .3-2.8 .4 1.7 .3-1 .4-.8 .3 2.2 .4 2.1 .3-4.6 .4-2.7 .3 15.8 .4-3.4 .3-5.5 .4-3.2 .3 2.4 .4-7.7 .3 7.7 .4-1.1 .3 2.9 .4-1.5 .3 .1 .4-10.3 .3 4.9 .4 3.8 .3 3.8 .4-.6 .3-5.9 .4 3.2 .3 1.2 .4-2.8 .3 4.8 .4-3.9 .3 .6 .4 1.2 .3 2.9 .4-1.7 .3-1 .4 2.1 .3-3.9 .4 7.9 .3-5.7 .4-.3 .3 10.3 .4-11.3 .3 2.5 .4-4.1 .3-1.7 .4 4.6 .3-8.3 .4 9.6 .3 .9 .4-5.1 .3 3.9 .4-1.1 .3 1.7 .4-3 .3 .6 .4 5 .3 6.7 .4 .1 .3-.6 .4-2 .3-.9 .4-5 .3 2.5 .4-7.6 .3-.9 .4 2 .3 3.7 .4 2.6 .3 1.7 .4-9.4 .3 5.3 .4-.9 .3-4.7 .4 2.6 .3 12.3 .4-7.1 .3-6.2 .4-.5 .3 5.3 .4 3.1 .3-.6 .4 .5 .3-.8 .4-7.5 .3 2.5 .4 3.1 .3-2.9 .4 7 .3-3.9 .4 5.8 .3-13.1 .4 8.5 .3 2.8 .4-12.2 .3-.1 .4 8.6 .3 1.3 .4-.7 .3 .5 .4-3.9 .3 4.4 .4-10 .3 11.9 .4-.9 .3-1.8 .4-3.1 .3 3.1 .4-3.9 .3 2.8 .4 6.5 .3-4.8 .4-1.8 .3-1.3 .4 1.9 .3-6.5 .4 .9 .3 4.5 .4 1.6 .3 0 .4-3.6 .3-6.2 .4 6.6 .3 9 .4-13.4 .3 8.5 .4-1.3 .3 .7 .4-.2 .3 .2 .4-1.9 .3 8.7 .4-1.6 .3-5.9 .4 2.8 .3-2.5 .4 1.9 .3 4.4 .4-2.5 .3-3.5 .4 .4 .3-.1 .4 1.2 .3 2.9 .4-9.6 .3-1 .4 8.1 .3-7.3 .4 13.4 .3-5.3 .4-2.8 .3-.1 .4-.5 .3 2.3 .4 3.3 .3-2.4 .4 2 .3-5.1 .4 1.7 .3 8 .4-6.3 .3-1.1 .4 1 .3 5.2 .4-10.1 .3 5.2 .4-5.4 .3 2.3 .4 5.2 .3-3.7 .4-2.9 .3-1 .4 3.7 .3-.6 .4 0 .3 4.9 .4-5.7 .3 .6 .4-2 .3 2.2 .4-2.4 .3 3.4 .4 1.3 .3-4.3 .4 .2 .3 .2 .4-2.7 .3 5.5 .4-4 .3-2.7 .4 5.8 .3 3.1 .4-4.3 .3-2.6 .4-4.4 .3 10.4 .4 4.3 .3-7.2 .4 2.7 .3-6.2 .4 4.6 .3 2.6 .4-3.8 .3 1.5 .4 6.7 .3-5.4 .4-.7 .3-9.4 .4 5.2 .3 2.4 .4 1.8 .3-.9 .4 1.5 .3 8.4 .4-10 .3 .5 .4 .8 .3-1.9 .4 1.7 .3-1.9 .4-4.9 .3 5.8 .4 2.4 .3-4.6 .4 7 .3-1.9 .4-5.9 .3 3.7 .4 1.6 .3-1.3 .4 2.5 .3 5.3 .4-7.3 .3 .2 .4-4.3 .3 5.3 .4-.4 .3-5.8 .4 5.4 .3-3.4 .4 4.4 .3-2.8 .4-5.4 .3 8.7 .4-1.8 .3-3.9 .4 13.8 .3-5.9 .4-4 .3 1.6 .4 1.5 .3-2.3 .4 2.4 .3-6.8 .4 11.2 .3-5.4 .4-1.5 .3 3.5 .4-4.1 .3 .6 .4 0 .3 1.1 .4-5.3 .3 6.1 .4 1 .3-10.1 .4 6.2 .3 1.9 .4-7.7 .3 7.2 .4 3 .3-.8 .4-4 .3-2.2 .4-2.4 .3 3.8 .4 1.6 .3-2.7 .4 2.1 .3 1.2 .4 .5 .3-2.2 .4 .3 .3 7.6 .4-5.2 .3-2.7 .4 4.6 .3 2 .4-4.4 .3 .4 .4 4.8 .3 1.3 .4-7.9 .3-1.6 .4 .3 .3 2.3 .4-7.9 .3 10 .4-.7 .3 .3 .4 1 .3 1.6 .4-.7 .3 1.3 .4-4.9 .3 1.3 .4-3.3 .3 .3 .4 2.4 .3-.2 .4-5.1 .3 15 .4-6 .3 .8 .4 1.3 .3-6.3 .4-.3 .3-6.2 .4 7.5 .3 1.9 .4-1.9 .3-10.3 .4 9.3 .3-1.3 .4 .6 .3 2.4 .4-1.6 .3 1.5 .4-6.6 .3-.7 .4 8 .3 3.3 .4-1.8 .3-7.3 .4 4.1 .3-1 .4 .9 .3 4.9 .4-6.4 .3 6.3 .4-1.3 .3-5.5 .4 5.1 .3 7.1 .4-6.6 .3-8 .4 1.8 .3 2.8 .4-1.3 .3 6.9 .4-11.7 .3 8.8 .4 1.6 .3-2.6 .4-6.4 .3 13.6 .4-11.3 .3-.2 .4-.5 .3 8.1 .4-6.2 .3 2.5 .4-5.2 .3 5.4 .4-3.7 .3-.7 .4 3.1 .3-.2 .4 2.9 .3-2.7 .4-3.9 .3 5.9 .4-.5 .3-.4 .4 5.2 .3-7.3 .4 11.3 .3-6.5 .4 .1 .3 .8 .4-2.5 .3-2.8 .4 1.6 .3 1.5 .4-7.4 .3-.3 .4 5.6 .3-.5 .4 9.1 .3-5.6 .4-4.6 .3 5.2 .4-9.3 .3 1.9 .4 4 .3 2.5 .4-3.9 .3 .3 .4 .5 .3-1.2 .4-5 .3 8.1 .4-.6 .3 4.7 .4-9.3 .3-.2 .4 14.1 .3-7 .4-3.5 .3-2.5 .4-.2 .3 6.9 .4-7.7 .3 5.5 .4 1 .3-4.8 .4-.6 .3 4.2 .4-3.8 .3 2.6 .4-.6 .3 .7 .4 5.8 .3-15.5 .4 9.7 .3-.9 .4 2.6 .3-.1 .4 1.4 .3-2 .4-1.5 .3 7.3 .4-3.8 .3-3.2 .4 .3 .3-.8 .4 3 .3 4.7 .4-8.3 .3 .8 .4 0 .3 1.2 .4-2.5 .3-.8 .4 7.3 .3-11.4 .4-.2 .3 12.6 .4-7 .3-.3 .4-3.2 .3 2.5 .4 2.2 .3 10.3 .4-13.7 .3 10.6 .4-7.1 .3-2.4 .4-.8 .3 5.9 .4 6.1 .3-11 .4 2.1 .3 2.7 .4-7.1 .3 5.2 .4 1.4 .3 2 .4-2.3 .3-2.8 .4-4.3 .3 4 .4-5.9 .3 7.9 .4 2.3 .3-1.3 .4-.5 .3-.8 .4 6.8 .3-11.3 .4 7.7 .3-8.3 .4 4.7 .3 5.2 .4-9 .3 1.6 .4 3.4 .3 1.4 .4 1.8 .3-3.9 .4 9 .3-7.9 .4-4.4 .3 5.5 .4 4.6 .3-10.9 .4 6.2 .3 2.1 .4-3.7 .3-2.9 .4 11.2 .3-9.1 .4-.4 .3-.7 .4 2.3 .3-1.6 .4 1.2 .3-4.8 .4 1.1 .3 6.1 .4-.9 .3 2.6 .4-1.4 .3-.9 .4-6.2 .3 4.2 .4 4.5 .3-4.7 .4 1.1 .3 9.2 .4-9.9 .3 .7 .4 1.1 .3-7.7 .4 10.9 .3-2.4 .4 7.4 .3-6.1 .4 2.8 .3-1 .4-8.5 .3 .2 .4 1.6 .3 .7 .4-5.3 .3 11.5 .4-5 .3 1.6 .4-2.1 .3-3.1 .4 2.6 .3-6.8 .4 6.2 .3 3.2 .4-6.4 .3 6.3 .4-6.7 .3 5.7 .4-3.9 .3 4.1 .4 7 .3-9.8 .4 2.2 .3 1.3 .4-3.6 .3 1.5 .4 .1 .3 3.3 .4-2.8 .3-3 .4-2.5 .3 5.8 .4-5.5 .3 4.1 .4-1 .3 1.9 .4-7.7 .3 11.8 .4-10.9 .3 10.6 .4-2 .3 .5 .4-5.4 .3-.4 .4 7.5 .3-11.9 .4 5.8 .3 11.8 .4-9.9 .3 .8 .4 .3 .3 3.7 .4-7.2 .3 2.9 .4 1.5 .3 6.6 .4-9.7 .3 1.5 .4 7.2 .3-9.5 .4 2.6 .3-.9 .4 1.7 .3 0 .4-1.7 .3 2.8 .4 8 .3-9.4 .4 9.8 .3-6.8 .4-1 .3-.8 .4-1.4 .3 .6 .4 2.5 .3-7.7 .4 12.5 .3-7.3 .4-9.8 .3 9.5 .4 .1 .3-2 .4-1.4 .3-3.7 .4 8.1 .3 1.8 .4-3.2 .3 1 .4 1.2 .3-7.3 .4 7.7 .3-.8 .4 .8 .3-2.5 .4 0 .3 4.3 .4-1.1 .3-8.3 .4 6.8 .3 2.9 .4 2.1 .3-12.8 .4 5.6 .3 2.6 .4-3.5 .3-5.3 .4 11.2 .3-8 .4 4.1 .3 2 .4-3.6 .3 2 .4-10.1 .3 6.7 .4-4.5 .3 2.7 .4 4.7 .3 1 .4-.7 .3 3.7 .4-4 .3 1.8 .4-1.7 .3-5.7 .4 1.1 .3 6.4 .4 3.2 .3-3.4 .4 3.7 .3-5.2 .4 2.1 .3-2.8 .4 .8 .3 5.2 .4-4 .3-11.1 .4 6.4 .3 4.9 .4-.3 .3 1.4 .4 .9 .3-3.3 .4-1.9 .3-8.1 .4 3.6 .3 5.7 .4-1.1 .3 4.4 .4-11.2 .3 13.3 .4-10.9 .3 5.3 .4 .3 .3-1.7 .4 5.3 .3-6.4 .4 2.2 .3 1 .4 .8 .3-2.3 .4-6.7 .3 11.8 .4-3.3 .3 3.2 .4-1.9 .3-2.8 .4-1.6 .3 3.2 .4 2.1 .3-3.4 .4 8.2 .3-8.9 .4 5.5 .3-4.1 .4-8.2 .3 11.6 .4 5.7 .3-8.2 .4-1.1 .3-3.7 .4 4 .3 1.3 .4 .4 .3-.5 .4 1 .3-4.1 .4 9.5 .3-8.5 .4 .8 .3-4.2 .4 11.3 .3-7.1 .4-.2 .3-3 .4 7.9 .3-2.8 .4-3.1 .3 1.3 .4 .5 .3 9.4 .4-10 .3-1.4 .4 4.7 .3-4.2 .4 1.5 .3 2.2 .4-2.2 .3-5 .4 7.4 .3-6.9 .4 4.9 .3-3.7 .4 7.3 .3-4.6 .4-.5 .3-2.3 .4-.1 .3 3.3 .4 5.7 .3-6.9 .4 2.9 .3-1.2 .4-1.9 .3 1.9 .4 2.9 .3-2.6 .4-5.6 .3 9.1 .4-4.1 .3-7 .4 6.9 .3 2.8 .4-1.6 .3 5.2 .4-13.7 .3 4.7 .4 2.2 .3-.1 .4 2 .3 1.8 .4 .6 .3-8.7 .4 3.2 .3-2.4 .4 1.5 .3 7.5 .4-12 .3 7.9 .4-1.7 .3-2.7 .4-.3 .3 3.4 .4-3.2 .3 4.9 .4-7 .3-2.2 .4 5.3 .3-2.5 .4 7.4 .3-5.9 .4 2.1 .3-.2 .4-4.6 .3 1.3 .4 3.7 .3 .7 .4 4.4 .3-7.4 .4 .3 .3 4.1 .4 .8 .3 .3 .4-8.9 .3 4.8 .4 .6 .3-2.4 .4 .2 .3-3.3 .4 5.4 .3-.8 .4 1.2 .3-1.9 .4-1.4 .3 5.1 .4-3.7 .3-.6 .4 1.7 .3-11.4 .4 10 .3 1.5 .4 6.3 .3-6.1 .4-4.1 .3 8.1 .4-6.2 .3 3.9 .4 3.8 .3-9.7 .4 1.2 .3-.7 .4 2.6 .3 1.2 .4-3.3 .3-.6 .4-9 .3 13.2 .4-3.5 .3 .1 .4-.6 .3-4.1 .4 5.1 .3-11.2 .4 15.5 .3-12.4 .4-3.5 .3 9.2 .4 1.7 .3-2.3 .4 3.4 .3-3.3 .4 3.8 .3-3.9 .4 .1 .3-.2 .4-2.8 .3 1.8 .4 1.3 .3 1 .4-2.5 .3-.8 .4 3.9 .3-2.8 .4 1.5 .3-3.9 .4 5.8 .3 1.8 .4-12.7 .3 12 .4-4.7 .3-10.2 .4 2.6 .3 8.1 .4-3.5 .3 1.4 .4 .8 .3-.5 .4-3.3 .3 2.8 .4 11 .3 0 .4-10.9 .3 7.8 .4-6.7 .3 .6 .4 .5 .3 5.4 .4-8.3 .3 5.4 .4-1.2 .3 1.3 .4-2.8 .3 2 .4-.7 .3 .7 .4-1.8 .3 .3 .4-4.7 .3 3 .4-2 .3 10.9 .4-16.7 .3 4.3 .4-2.6 .3 5 .4 .9 .3-1 .4 2.7 .3 7 .4-9.3 .3-6.5 .4 5.8 .3 8.1 .4-14.4 .3 6.5 .4 .4 .3 2.5 .4-.4 .3-2.6 .4 3.2 .3-7.7 .4 8.2 .3-2.4 .4 1.7 .3-2.4 .4 2.6 .3-9.3 .4 13.6 .3-5.8 .4-.6 .3 .7 .4 2.1 .3-1 .4 .1 .3-.8 .4 2.4 .3-5.8 .4 5.7 .3-4.1 .4-8 .3 7.9 .4 3 .3-1.3 .4 .3 .3 4.8 .4-6 .3 .8 .4 5.5 .3-4.5 .4-4.5 .3-4 .4 7.6 .3 8.1 .4-6.4 .3-.9 .4-4.5 .3-.8 .4 4.5 .3-.8 .4 6.8 .3-2.3 .4 4.6 .3-9.1 .4 8.3 .3-4.3 .4-5 .3 4.6 .4-8.7 .3-3.4 .4 12.2 .3-3.4 .4 .7 .3-3.3 .4 .2 .3 13.7 .4-16.9 .3 6.5 .4 3.3 .3-1.5 .4-1.5 .3 7.8 .4-2.4 .3-11.7 .4 6.5 .3 1.8 .4-3.4 .3 2.9 .4-4.2 .3-.3 .4-.6 .3 10.5 .4-9.1 .3 6.8 .4-2.2 .3-5.8 .4 4.7 .3-.7 .4 .8 .3-1.3 .4 4.1 .3 .6 .4-3.7 .3 .2 .4-4.5 .3-4.3 .4 7.5 .3 2 .4-2.1 .3 2.1 .4-4.7 .3 3.7 .4 .9 .3 7 .4-10.2 .3-3.4 .4-1 .3-3.2 .4 11.6 .3-3.4 .4 1 .3 5.6 .4-6.8 .3 4.4 .4-4.9 .3-6.2 .4 5.4 .3-.6 .4 3.3 .3 5.4 .4-.5 .3 .8 .4-8.7 .3 6.7 .4-1.5 .3 .4 .4-3 .3-.5 .4-1.7 .3 2.6 .4 .4 .3-2.9 .4 3.6 .3 2.6 .4-1.3 .3-3.2 .4 1.7 .3-2.5 .4-1.7 .3-.2 .4 9 .3-3.1 .4-3.6 .3 6.7 .4-4.8 .3 3.7 .4-5.2 .3 2.6 .4 .4 .3 2.7 .4-1.9 .3-.3 .4-7.4 .3 6.8 .4-5.1 .3 2.8 .4 .7 .3-.5 .4 2.6 .3-.9 .4 .2 .3-5.2 .4 7.1 .3-1.8 .4-.5 .3-3.6 .4 4 .3-1.8 .4 5.1 .3-3.9 .4-1.9 .3 3.6 .4-1.7 .3 2.5 .4-11 .3 10.9 .4-2.6 .3 5.2 .4-4.6 .3-.7 .4 5.7 .3 4.8 .4-11.5 .3-6.8 .4 9.1 .3-.3 .4-6.1 .3 7 .4-1.3 .3 9.1 .4-3.5 .3-5.8 .4 3.1 .3-2.3 .4-3.9 .3 5.8 .4-.7 .3 4.2 .4-5.7 .3-7.6 .4 8.6 .3 3.5 .4-2 .3-2.9 .4 3.8 .3 4.9 .4-8.6 .3 10.3 .4-8.4 .3 .5 .4-4.1 .3 5.6 .4-2.7 .3-4.6 .4 .5 .3 3.8 .4-1 .3 6.6 .4-7 .3 2.3 .4 .4 .3-1.6 .4 4.6 .3-4.8 .4 1.2 .3-.6 .4-7.8 .3 6.5 .4 1.9 .3 3.4 .4-3.8 .3-3.1 .4 .5 .3 5.7 .4-11.5 .3 8.1 .4 4.4 .3-3.6 .4-.1 .3-3.9 .4-.5 .3 7.9 .4-3.6 .3-6.5 .4 3.2 .3 5.2 .4-2.1 .3-6.3 .4 3.3 .3-7.2 .4 11.3 .3-7.3 .4 7.7 .3-2.5 .4 10.5 .3-4.8 .4-7 .3 .5 .4-1.8 .3-.8 .4 .3 .3 2.9 .4-.1 .3 .1 .4-4.5 .3 7 .4-11.3 .3 8.4 .4 2 .3-4.4 .4 5.1 .3-.8 .4-5.9 .3 1.3 .4 5.2 .3 1.5 .4-5.1 .3 7.4 .4-3.2 .3 4.3 .4 .6 .3-7.2 .4 2.4 .3-1.8 .4-8.9 .3 5.2 .4 2.3 .3 4.4 .4-5.3 .3 2.2 .4-1.2 .3 10.8 .4-6.8 .3-5.2 .4-7 .3 12 .4 5.7 .3-9.2 .4 1.3 .3 .1 .4-1.9 .3 2.7 .4-1 .3-6.5 .4 9.5 .3 3.2 .4-10.9 .3-.2 .4 4.6 .3 5.8 .4-3.1 .3-5.1 .4 .6 .3 1.4 .4-.3 .3 7.1 .4-7.4 .3-8.2 .4 15 .3-6.8 .4-4.4 .3 8.4 .4-2.5 .3 .1 .4-1 .3 .7 .4 1.2 .3-.7 .4-.9 .3 1.2 .4 4.7 .3-2.9 .4 3.8 .3-7.2 .4 .2 .3 5.1 .4-6.1 .3-5.1 .4 6.5 .3-7 .4 3.6 .3 6.9 .4-6.3 .3 3 .4-.4 .3-.7 .4 4.1 .3-12.2 .4 7.1 .3 4 .4-4.7 .3 1.2 .4 2.6 .3 4.2 .4-4.5 .3 1.2 .4-5.8 .3 5.7 .4-3.2 .3 3.8 .4 1.3 .3-2.8 .4-.6 .3-.5 .4-5.8 .3 7.8 .4 1.2 .3-1 .4-1.6 .3-.2 .4 5.3 .3-2.9 .4-1.9 .3 5.6 .4-5.3 .3-2.8 .4-7.2 .3 11.7 .4 .6 .3-1.2 .4 2.5 .3-.1 .4-3.3 .3-1.5 .4 5.3 .3-7 .4 4.5 .3-6.2 .4 4.5 .3-2.4 .4 5.7 .3-6.2 .4 8.1 .3-7.5 .4 4.5 .3-1.3 .4 2.1 .3-3.8 .4-4.3 .3 4.3 .4 6.8 .3-11.4 .4 2.7 .3-6.6 .4 14.3 .3-2.1 .4-1.3 .3-7 .4 8.3 .3-1 .4 .3 .3-2.4 .4-.6 .3-2 .4 3.9 .3-2 .4 3.1 .3-.1 .4 3 .3-6.7 .4 2.8 .3 2.7 .4-5.1 .3 1.9 .4-1.8 .3-.3 .4-2.5 .3 3.7 .4-9.5 .3 1.6 .4 2.6 .3 5.4 .4-3.1 .3 3 .4-.8 .3-1.7 .4-1.5 .3 4.6 .4-.9 .3-3.2 .4-1.5 .3 7.6 .4 1.4 .3-5.7 .4 1.9 .3-1.9 .4 1.2 .3 7.9 .4-7.1 .3 6.1 .4-7.1 .3 7.3 .4-11.2 .3 6.8 .4 3.6 .3-9 .4-4.1 .3 5.3 .4 2 .3-.7 .4-2.7 .3 0 .4 5.5 .3-10 .4 8.7 .3-4.5 .4 10.6 .3-14.6 .4 14.1 .3-12.5 .4-.9 .3 3.3 .4 .2 .3 .6 .4-.8 .3-11.8 .4 9.6 .3-4.2 .4 4.3 .3 2.4 .4-6.5 .3 6.5 .4-9.8 .3 7.3 .4-3.4 .3 3.2 .4 2.1 .3-4.7 .4-8.3 .3 4.2 .4 5.4 .3-6.5 .4 2 .3 1 .4-6.7 .3 2.2 .4-.1 .3-.3 .4-.1 .3-.5 .4-3.6 .3-2.5 .4-1.4 .3 4.1 .4-2 .3 2.1 .4-4.6 .3-2.1 .4 5.8 .3-8.3 .4-.7 .3 7.5 .4-7.7 .3-.3 .4-1.4 .3 1.5 .4-3.6 .3-.2 .4-.1 .3-.9 .4-1.2 .3 1.9 .4 .2 .3 .2 .4-1.2 .3-4.6 .4 9.9 .3-7.5 .4 8.9 .3 1 .4-3.8 .3 2.1 .4-.4 .3 8.5 .4-9.8 .3 9.7 .4-.3 .3-12.4 .4 12.4 .3-.9 .4 5.6 .3 .9 .4-7 .3 5.7 .4-.5 .3-5.2 .4 2.9 .3-2.5 .4 8.4 .3 .2 .4 7.1 .3-18.6 .4 6.4 .3-.8 .4 12.9 .3-8.9 .4 4.9 .3-1.8 .4-1.3 .3 7.1 .4-1.3 .3-3.1 .4-.2 .3 2.3 .4-10.9 .3 8 .4-.6 .3-1.5 .4 3.9 .3 7.4 .4-2 .3-2.5 .4 0 .3 4.1 .4-8.8 .3 8.1 .4-4.3 .3 2.3 .4 .9 .3-9.8 .4 13.5 .3-1.1 .4-4.1 .3 1.8 .4-2.2 .3 2.8 .4-.9 .3 9.7 .4-7.6 .3-5 .4 6.2 .3-.8 .4-4.9 .3-5.4 .4 6.2 .3 3.3 .4 3.8 .3-4.6 .4 5.3 .3-6.1 .4 3.8 .3-2.2 .4 4.5 .3-2.9 .4 .7 .3 1.4 .4-2.6 .3 7.3 .4-10.4 .3 5.1 .4 .3 .3 9 .4-6.1 .3 .9 .4-6.1 .3 1.9 .4-.7 .3-7.1 .4 10 .3-2.2 .4 .8 .3 4.5 .4-6.3 .3 4.8 .4-1.6 .3 4.1 .4-4.1 .3-1.2 .4-.3 .3-1.9 .4 9.4 .3-3.6 .4-1.8 .3 7.4 .4-9.2 .3-.1 .4 .1 .3 4 .4 .7 .3-9.5 .4 3.6 .3 1 .4-.2 .3 3.5 .4-11.2 .3 5.3 .4 2.4 .3-2.4 .4 9.7 .3-9.7 .4 2 .3-.8 .4 0 .3 4.3 .4-2.1 .3 4.6 .4-2.4 .3 6.4 .4-3.3 .3-6.5 .4 2.6 .3 2 .4-5.1 .3 7.2 .4-7.8 .3 2 .4-.7 .3-7.7 .4 4.5 .3 7.4 .4-2.5 .3-2.5 .4 4.2 .3 .3 .4-1.7 .3-2.4 .4 1.6 .3-9 .4 19.5 .3-4.6 .4-6.7 .3 1 .4 7.2 .3-15.2 .4 5.7 .3 2 .4 .6 .3 1.2 .4 2.2 .3 .6 .4-5.3 .3 1.9 .4-.6 .3-2.4 .4 1.6 .3-.9 .4 11.6 .3-7.8 .4-2.9 .3-2.9 .4 8.7 .3-3.4 .4 5 .3-5.2 .4 4.3 .3-5.9 .4 3.3 .3-3.8 .4 1.6 .3-4.2 .4-1.8 .3 5.4 .4 1.2 .3 2.6 .4-3.1 .3-2 .4 .6 .3-7.1 .4 7.1 .3 4.2 .4-8.5 .3 5.2 .4-5.1 .3 5.6 .4-3.5 .3 4.8 .4-.5 .3-3.6 .4 2.8 .3-.8 .4 1.4 .3 .1 .4 6.6 .3-6.2 .4-2.5 .3 .6 .4-4.9 .3 1.4 .4 3.7 .3-1 .4 1.7 .3-1.2 .4-.6 .3-.5 .4 4.9 .3 4 .4-4.9 .3-5 .4 1.9 .3-4.3 .4 5.8 .3 1.4 .4-1 .3-6.4 .4 5.8 .3-2.2 .4 1.5 .3 3.8 .4-1.2 .3-4.5 .4 3.2 .3-4 .4-1.8 .3 7.7 .4-3.7 .3 1.9 .4-7.2 .3 3.8 .4 6.1 .3-3.8 .4 5.1 .3-8 .4-.2 .3 1.4 .4 .5 .3 .5 .4-.2 .3-.3 .4 1.4 .3-1.3 .4-.7 .3-.5 .4 1.4 .3-4.1 .4 1.9 .3 1.9 .4 4.3 .3-4.5 .4 4.4 .3-6.3 .4 .4 .3-1.6 .4 5.6 .3 3.4 .4-5.4 .3-8.4 .4 8.9 .3 3.3 .4 5.7 .3-13.2 .4 6.2 .3 .2 .4 .2 .3-6 .4 2.2 .3-6.6 .4 10.5 .3 .3 .4-2.7 .3-9.1 .4 10.4 .3 .3 .4-3.4 .3 1.1 .4-.9 .3-2.3 .4-1.4 .3 3.8 .4 .1 .3-.9 .4 4.9 .3-2.8 .4-1 .3 4.8 .4-8.1 .3 2.1 .4 1 .3 1 .4 5.8 .3-8.9 .4 .3 .3 .6 .4 4.4 .3-1.1 .4-1.5 .3-6.8 .4 7.7 .3-5.8 .4-3.7 .3 7.6 .4 5.9 .3-5.3 .4 6.2 .3-6 .4-4.3 .3 6.8 .4 4 .3-5.8 .4 8.5 .3-8.6 .4-.2 .3-1.3 .4 0 .3 4.5 .4-9.8 .3 8.8 .4-.5 .3 .4 .4-4.8 .3 5.3 .4-5.2 .3 12 .4-11.5 .3 3.3 .4-.9 .3 7.2 .4-6.6 .3-1.7 .4-1 .3 0 .4 .6 .3 .3 .4-.4 .3-.2 .4-1.2 .3 .1 .4 1 .3-2.6 .4 3.8 .3-1.4 .4 4.6 .3-2.5 .4-3.5 .3 3 .4-6.6 .3 14.2 .4-8.3 .3-1 .4-6.7 .3 9.8 .4-.8 .3 1.8 .4-2.8 .3 3.5 .4-9.3 .3 2.8 .4 2.3 .3 4.7 .4-12.1 .3 7.2 .4-.3 .3 .1 .4 2.3 .3 3.3 .4-2.7 .3 0 .4-2.2 .3 1 .4-1.4 .3 1.5 .4-4.3 .3 4.8 .4-3.2 .3 2.4 .4 .9 .3-3.8 .4 .9 .3-.8 .4 .3 .3 12.1 .4-8.8 .3-4.7 .4 6.6 .3-1.3 .4-7.4 .3 5.2 .4-.9 .3-.5 .4-1 .3 2.8 .4 1.2 .3-.4 .4-.3 .3-2 .4 2.3 .3-2 .4 4.1 .3-4.9 .4 .1 .3-.6 .4 2.9 .3-.2 .4 0 .3 4.1 .4-13.9 .3 7.3 .4 12.3 .3-11.1 .4 1.1 .3-1.8 .4 1.5 .3-1.3 .4 3.5 .3-1.4 .4 .7 .3-1.3 .4 3.5 .3-3.3 .4 3.4 .3 6.5 .4-9.1 .3 1.3 .4-1.4 .3-2.4 .4 10.7 .3-11.6 .4 1.6 .3 .8 .4 6.1 .3-.1 .4-4.8 .3 2.5 .4-4.7 .3 3.1 .4 .3 .3-3.3 .4 .5 .3 .3 .4 .6 .3 .2 .4-10 .3 10.1 .4-7.6 .3 8.6 .4-10.3 .3 4.6 .4-2.3 .3 14.7 .4-9.9 .3-2.8 .4 3.5 .3-2.8 .4 4.6 .3 3.2 .4-.6 .3-1.4 .4-.1 .3-4.8 .4 5.7 .3-5.6 .4 8.6 .3-6.5 .4 3.8 .3-4 .4-.7 .3 2.6 .4-2.3 .3 .6 .4-6.5 .3 7.8 .4-.5 .3-3.9 .4 4.7 .3-2.2 .4 3.1 .3-11.6 .4 7.3 .3 7.6 .4-4.2 .3-3.1 .4 .6 .3 2.1 .4 1.1 .3-.9 .4-1.9 .3 4 .4-9.1 .3 3.1 .4-2 .3 5.6 .4 2.5 .3-4.7 .4-2.4 .3 3.5 .4 1.1 .3-3.5 .4 1.8 .3-5.4 .4 6.4 .3-.6 .4-4.1 .3 9.2 .4-1.6 .3-2 .4 1.6 .3-2.2 .4-.2 .3 0 .4 4.9 .3-4.9 .4 7.9 .3-14.7 .4 7.7 .3 .1 .4-4.3 .3-6.3 .4 8.8 .3 6.1 .4-8.7 .3 0 .4 11.6 .3-16.5 .4 6.5 .3 3.6 .4-1.6 .3 1.5 .4 1.9 .3-.6 .4-8.4 .3 5.8 .4 2.1 .3-8.6 .4 3.1 .3 2.1 .4 8.7 .3-7.1 .4 1.7 .3-1.2 .4 3.5 .3-9.2 .4-4.1 .3 4.8 .4 11.4 .3-8.4 .4-.1 .3 6.7 .4-8.8 .3 6.6 .4-4.2 .3 2.9 .4-6 .3 6 .4 7.7 .3-12.5 .4-.3 .3 4.7 .4 .1 .3-3.2 .4-1.8 .3 9 .4-3.4 .3 1.5 .4-9.2 .3 9.6 .4-5.1 .3-4.8" fill="none" stroke="#00AC64" stroke-width="5" stroke-linejoin="bevel"/>
<path d="M132.5 508.8l1 1.5 1 1.3 1 1.3 1 1.4 1 1.5 1 1.5 1 1.6 1 1.6 1 1.6 1 1.5 1 1.3 1 1.2 1 1.1 1 1.1 1 1 1 .9 1 .7 1 .7 1 .6 1 .5 1 .4 1 .4 1 .4 1 .3 1 .2 1 .1 1-.2 1-.4 1-.6 1-.7 1-.8 1-.8 1-.7 1-.6 1-.2 1-.1 1 .1 1 .1 1 .2 1 .2 1 .2 1 .2 1 .2 1 .2 1-.1 1-.3 1-.7 1-1 1-1.3 1-1.5 1-1.7 1-1.7 1-1.8 1-1.7 1-2.2 1-2.7 1-3.1 1-3.5 1-3.9 1-4.3 1-4.7 1-4.9 1-5.2 1-6.4 1-7.5 1-8.2 1-8.1 1-7.9 1-8.6 1-8.7 1-8.3 1-7 1-5.4 1-5.2 1-5 1-4.1 1-2.8 1-1.1 1 .8 1 2.2 1 3.1 1 3.6 1 3.6 1 3.3 1 3.5 1 3.9 1 4.4 1 4.9 1 5.8 1 7.5 1 8.7 1 9.3 1 9.4 1 8.8 1 7.7 1 6.3 1 6.2 1 6.1 1 5.8 1 5.2 1 4.3 1 3.2 1 2 1 1.7 1 1.5 1 1.4 1 1.3 1 1.1 1 1.1 1 1.1 1 .9 1 .9 1 .8 1 .8 1 .7 1 .7 1 .7 1 .8 1 .8 1 .8 1 .9 1 .8 1 .7 1 .8 1 .6 1 .7 1 .7 1 .6 1 .6 1 .6 1 .5 1 .3 1 .1 1 0 1-.1 1-.2 1-.2 1-.3 1-.4 1-.5 1-.4 1-.5 1-.4 1-.4 1-.4 1-.3 1-.1 1-.1 1 0 1 .2 1 .3 1 .4 1 .5 1 .6 1 .6 1 .7 1 .6 1 .5 1 .3 1 .3 1 .2 1 0 1-.1 1-.1 1-.1 1-.3 1-.5 1-.8 1-.8 1-.9 1-.9 1-.8 1-.6 1-.3 1 0 1 0 1 .1 1 .2 1 .1 1 .2 1 .2 1 .2 1 .3 1 .3 1 .4 1 .4 1 .5 1 .4 1 .3 1 .3 1 .2 1 0 1-.1 1-.1 1-.3 1-.2 1-.2 1-.2 1 0 1 .1 1 .2 1 .2 1 .4 1 .5 1 .5 1 .6 1 .6 1 .5 1 .6 1 .4 1 .4 1 .2 1 0 1-.1 1-.2 1-.3 1-.4 1-.3 1-.4 1-.3 1-.3 1-.2 1-.2 1-.1 1-.1 1-.1 1-.1 1 0 1 0 1 .1 1 .1 1 .2 1 .1 1 .2 1 .2 1 .2 1 .2 1 .1 1 0 1-.1 1-.1 1-.2 1-.3 1-.4 1-.3 1-.4 1-.3 1-.3 1-.3 1-.2 1-.2 1-.1 1-.1 1-.1 1 0 1 0 1 0 1 .1 1 .1 1 .2 1 .1 1 .1 1 0 1 0 1-.1 1 0 1-.1 1 0 1 .1 1 .2 1 .3 1 .4 1 .4 1 .4 1 .4 1 .3 1 .2 1 0 1-.1 1-.2 1-.3 1-.4 1-.5 1-.5 1-.4 1-.4 1-.5 1-.4 1-.4 1-.4 1-.4 1-.4 1-.5 1-.5 1-.5 1-.4 1-.2 1 0 1 .4 1 .7 1 .8 1 1.1 1 1.1 1 1.1 1 1 1 .8 1 .6 1 .4 1 .1 1-.1 1-.3 1-.4 1-.6 1-.6 1-.7 1-.6 1-.7 1-.6 1-.6 1-.4 1-.4 1-.2 1-.1 1 .2 1 .3 1 .4 1 .5 1 .5 1 .6 1 .7 1 .6 1 .7 1 .6 1 .5 1 .3 1 .2 1-.1 1-.4 1-.6 1-.8 1-.9 1-1.1 1-1.1 1-1.2 1-1.2 1-1.1 1-1.1 1-1 1-1 1-.8 1-.8 1-.7 1-.6 1-.5 1-.5 1-.4 1-.3 1-.2 1-.1 1 .1 1 .1 1 .2 1 .3 1 .4 1 .4 1 .4 1 .3 1 .2 1 .2 1 0 1-.1 1-.3 1-.5 1-.7 1-.7 1-.9 1-.9 1-1 1-1 1-1 1-1 1-1 1-.8 1-.8 1-.5 1-.2 1 0 1 .2 1 .4 1 .4 1 .5 1 .6 1 .6 1 .7 1 .7 1 .7 1 .8 1 .8 1 .7 1 .6 1 .4 1-.1 1-2.5 1-4.6 1-5.9 1-6.7 1-6.7 1-6 1-6.2 1-6.7 1-7 1-6.9 1-6.4 1-5.6 1-4.5 1-4.4 1-3.8 1-2.5 1-.4 1 1.4 1 2.9 1 3.8 1 4 1 3.9 1 3.7 1 4.6 1 4.8 1 4.6 1 4 1 3 1 1.4 1 .7 1 .6 1 .5 1 .5 1 .5 1 .6 1 .8 1 .9 1 1.2 1 1.2 1 1.3 1 1.2 1 1.1 1 1 1 .8 1 .7 1 .6 1 .5 1 .3 1 .4 1 .3 1 .3 1 .4 1 .4 1 .4 1 .5 1 .5 1 .6 1 .6 1 .6 1 .8 1 .7 1 .8 1 .8 1 .9 1 .8 1 .8 1 .8 1 .7 1 .7 1 .7 1 .6 1 .6 1 .5 1 .5 1 .5 1 .4 1 .5 1 .4 1 .4 1 .4 1 .4 1 .4 1 .4 1 .2 1 .2 1 .2 1 .1 1 .1 1 .1 1 0 1 0 1-.1 1-.1 1-.1 1-.2 1-.2 1-.1 1-.1 1 0 1 .1 1 .2 1 .2 1 .4 1 .4 1 .3 1 .4 1 .3 1 .2 1 .1 1-.3 1-.5 1-.7 1-.7 1-.6 1-.4 1 .1 1 .2 1 .3 1 .3 1 .2 1 .3 1 .3 1 .2 1 .3 1 .4 1 .4 1 .4 1 .4 1 .5 1 .3 1 .3 1 .1 1-.1 1-.1 1-.3 1-.4 1-.5 1-.5 1-.5 1-.5 1-.5 1-.4 1-.3 1-.3 1-.3 1-.2 1-.2 1-.1 1-.2 1-.1 1-.1 1-.1 1 0 1 .1 1 .3 1 .4 1 .4 1 .4 1 .5 1 .3 1 .4 1 .3 1 .3 1 .3 1 .4 1 .4 1 .4 1 .5 1 .3 1 .3 1 .2 1 0 1-.5 1-1 1-1.3 1-1.4 1-1.4 1-1.4 1-1.3 1-1.6 1-2 1-2 1-2 1-1.7 1-1.2 1-.5 1-.1 1 .3 1 .5 1 .8 1 .9 1 1 1 1.2 1 1.6 1 1.9 1 1.9 1 1.7 1 1.2 1 1.1 1 1 1 .9 1 .9 1 .8 1 .8 1 .8 1 .8 1 .6 1 .5 1 .3 1 0 1-.4 1-.6 1-.9 1-.9 1-.9 1-.8 1-.5 1-.3 1 0 1 .2 1 .3 1 .4 1 .4 1 .6 1 .6 1 .8 1 .8 1 .8 1 .7 1 .7 1 .6 1 .4 1 .2 1 .1 1-.1 1-.3 1-.3 1-.4 1-.4 1-.4 1-.3 1-.3 1-.2 1-.1 1-.1 1-.1 1 0 1-.1 1-.1 1-.1 1 0 1-.1 1 0 1 .1 1 .4 1 .6 1 .8 1 .8 1 .7 1 .6 1 .3 1 0 1-.4 1-.7 1-1 1-1.1 1-1.2 1-1.3 1-1.2 1-1.3 1-1.1 1-.9 1-.7 1-.4 1 0 1 .1 1 .4 1 .4 1 .5 1 .6 1 .7 1 .7 1 .8 1 .8 1 .7 1 .8 1 .6 1 .4 1 .2 1 .2 1 .2 1 .2 1 .3 1 .3 1 .4 1 .4 1 .4 1 .4 1 .2 1 .2 1 .1 1 .1 1 0 1 .2 1 .4 1 .5 1 .7 1 .8 1 .8 1 .7 1 .7 1 .6 1 .5 1 .4 1 .3 1 .4 1 .4 1 .5 1 .5 1 .6 1 .6 1 .5 1 .6 1 .5 1 .4 1 .4 1 .3 1 .2 1 0 1 0 1 0 1-.1 1-.1 1-.2 1-.1 1-.1 1-.4 1-.4 1-.6 1-.7 1-.8 1-.8 1-.7 1-.7 1-.6 1-.4 1-.1 1 0 1 .2 1 .3 1 .4 1 .6 1 .6 1 .6 1 .7 1 .7 1 .6 1 .5 1 .4 1 .4 1 .2 1 .1 1-.1 1-.2 1-.5 1-.5 1-.8 1-.8 1-1 1-1.1 1-1.3 1-1.4 1-1.6 1-1.7 1-1.9 1-1.9 1-1.9 1-2.3 1-2.7 1-3.1 1-3.3 1-3.2 1-3.2 1-2.9 1-2.6 1-2.2 1-2.2 1-2.4 1-2.4 1-2.4 1-2.3 1-2.1 1-1.8 1-1.2 1-.8 1 0 1 .4 1 .8 1 1 1 1.2 1 1.1 1 1.1 1 .9 1 .6 1 .6 1 .5 1 .5 1 .5 1 .7 1 .8 1 1 1 1 1 1.3 1 1.6 1 1.7 1 1.8 1 1.8 1 1.9 1 1.7 1 1.7 1 1.4 1 1.2 1 .8 1 .3 1 .1 1 0 1-.2 1-.4 1-.4 1-.4 1-.5 1-.4 1-.3 1-.2 1-.1 1 .1 1 .8 1 1.3 1 1.5 1 1.6 1 1.3 1 .8 1 .4 1 .2 1 .3 1 .3 1 .2 1 .3 1 .1 1 .1 1-.1 1-.1 1 .2 1 .5 1 .6 1 .7 1 .5 1 .4 1 0 1-.1 1 .1 1 .1 1 .2 1 .2 1 .2 1 .1 1 .1 1-.1 1-.1 1-.2 1-.1 1 .2 1 .6 1 .9 1 1.1 1 1.3 1 1.2 1 1.1 1 .9 1 .5 1 .4 1 .4 1 .4 1 .4 1 .4 1 .4 1 .4 1 .5 1 .5 1 .4 1 .4 1 .3 1 .2 1 .2 1 0 1 0 1-.1 1-.1 1-.1 1-.2 1-.1 1-.1 1-.1 1-.1 1-.1 1-.1 1-.1 1 0 1-.1 1 0 1-.1 1 0 1-.1 1 0 1 0 1-.2 1-.4 1-.6 1-.7 1-.7 1-.7 1-.7 1-.5 1-.4 1-.2 1 0 1 .1 1 .3 1 .4 1 .4 1 .5 1 .6 1 .7 1 .7 1 .7 1 .7 1 .8 1 .6 1 .7 1 .5 1 .5 1 .5 1 .4 1 .3 1 .4 1 .4 1 .3 1 .3 1 .1 1 0 1-.1 1-.2 1-.2 1-.3 1-.3 1-.3 1-.3 1-.1 1-.1 1 .1 1 .2 1 .4 1 .4 1 .6 1 .6 1 .7 1 .6 1 .6 1 .5 1 .4 1 .2 1-.1 1-.2 1-.3 1-.5 1-.7 1-.8 1-.8 1-.9 1-.9 1-.8 1-.7 1-.5 1-.4 1-.2 1-.2 1 0 1 0 1 0 1 .1 1 0 1 .1 1 .1 1 .3 1 .4 1 .5 1 .6 1 .7 1 .7 1 .6 1 .6 1 .5 1 .3 1 .2 1 .1 1 0 1 .1 1-.1 1 0 1 .1 1 .1 1 .1 1 .1 1 .2 1 .2 1 .3 1 .3 1 .3 1 .3 1 .3 1 .3 1 .3 1 .2 1 .3 1 .3 1 .2 1 .3 1 .2 1 .1 1 .1 1 0 1 0 1-.1 1-.1 1-.1 1 0 1 0 1 .1 1 .2 1 .3 1 .2 1 .2 1 .1 1 .1 1 0 1-.1 1-.2 1-.2 1-.4 1-.6 1-.6 1-.7 1-.7 1-.6 1-.5 1-.3 1-.2 1 0 1 .1 1 .2 1 .3 1 .3 1 .5 1 .5 1 .7 1 .8 1 .9 1 .9 1 .8 1 .8 1 .7 1 .6 1 .5 1 .3 1 .2 1 .3 1 .2 1 .2 1 .2 1 .2 1 .2 1 .2 1 .2 1 .2 1 .2 1 0 1 0 1-.1 1-.3 1-.3 1-.5 1-.4 1-.4 1-.4 1-.2 1-.2 1-.1 1-.1 1 0 1 .1 1 0 1 .2 1 .2 1 .5 1 .5 1 .6 1 .6 1 .6 1 .4 1 .2 1-.1 1-.2 1-.2 1-.4 1-.3 1-.4 1-.4 1-.4 1-.3 1-.4 1-.3 1-.2 1-.3 1-.2 1-.2 1-.1 1 0 1 0 1 .2 1 .2 1 .3 1 .5 1 .5 1 .6 1 .5 1 .5 1 .3 1 .3 1 0 1 0 1-.2 1-.3 1-.4 1-.4 1-.4 1-.4 1-.3 1-.1 1 0 1 .1 1 .2 1 .3 1 .2 1 .2 1 .2 1 .2 1 .1 1 0 1 .1 1-.1 1-.1 1-.1 1-.1 1 0 1 .2 1 .2 1 .4 1 .5 1 .5 1 .5 1 .5 1 .4 1 .3 1 .3 1 .2 1 0 1-.1 1-.3 1-.3 1-.5 1-.5 1-.7 1-.7 1-.7 1-.8 1-.8 1-.7 1-.7 1-.5 1-.2 1-.1 1 .3 1 .4 1 .7 1 .8 1 .9 1 .9 1 .9 1 .8 1 .7 1 .4 1 .3 1 0 1-.1 1-.4 1-.3 1-.5 1-.4 1-.3 1-.4 1-.2 1-.3 1-.1 1-.1 1-.1 1 .1 1 0 1 0 1 0 1 0 1 0 1 0 1-.1 1 .1 1 0 1 0 1 0 1 0 1-.1 1-.2 1-.1 1-.2 1-.3 1-.2 1-.2 1-.2 1-.1 1-.1 1-.1 1-.1 1-.1 1-.2 1-.1 1-.2 1-.3 1-.2 1-.2 1-.1 1-.2 1-.1 1-.1 1-.2 1-.2 1-.2 1-.4 1-.4 1-.5 1-.5 1-.6 1-.6 1-.7 1-.6 1-.6 1-.6 1-.6 1-.5 1-.5 1-.5 1-.5 1-.3 1-.4 1-.2 1-.2 1-.2 1-.1 1-.1 1 0 1-.1 1-.1 1-.1 1-.1 1-.1 1-.1 1-.1 1 0 1 0 1 0 1 0 1-.1 1 0 1 0 1 0 1 .1 1 .1 1 .1 1 .2 1 .1 1 .2 1 .3 1 .5 1 .5 1 .7 1 .6 1 .8 1 .7 1 .7 1 .7 1 .6 1 .6 1 .5 1 .5 1 .4 1 .2 1 .2 1 .2 1 .2 1 .1 1 .1 1-.1 1 0 1-.1 1-.2 1-.1 1-.1 1-.1 1 0 1 0 1-.1 1 0 1-.1 1 0 1 0 1 0 1 0 1 .1 1 .1 1 .2 1 .1 1 .1 1 .2 1 .1 1 .2 1 .2 1 .3 1 .2 1 .2 1 .2 1 .1 1 .1 1 0 1 0 1 0 1-.1 1 0 1 0 1-.1 1-.1 1-.2 1-.1 1-.2 1-.2 1-.1 1-.1 1-.1 1 0 1 .1 1 .2 1 .2 1 .3 1 .2 1 .3 1 .2 1 .1 1 .1 1-.1 1-.1 1-.3 1-.7 1-.8 1-1 1-1.1 1-1 1-.9 1-.7 1-.4 1-.1 1 .2 1 .3 1 .5 1 .5 1 .6 1 .7 1 .7 1 .8 1 .8 1 .8 1 .7 1 .7 1 .6 1 .5 1 .3 1 .1 1 .1 1 0 1 .1 1 0 1 0 1 0 1-.1 1-.2 1-.2 1-.2 1-.3 1-.4 1-.3 1-.4 1-.3 1-.3 1-.2 1-.2 1-.1 1-.1 1 0 1-.1 1-.1 1-.1 1-.2 1-.2 1-.2 1-.2 1-.2 1-.1 1-.1 1-.1 1 0 1-.1 1-.1 1 0 1-.1 1 .1 1 .1 1 .1 1 .1 1 0 1-.2 1-.7 1-.9 1-1.2 1-1.5 1-1.6 1-1.7 1-1.9 1-2.7 1-3.2 1-3.5 1-3.6 1-3.4 1-3 1-2.5 1-1.7 1-.7 1 .3 1 .8 1 1.2 1 1.6 1 1.8 1 2.1 1 2.1 1 2.1 1 2 1 1.8 1 2 1 1.9 1 2 1 1.9 1 1.7 1 1.5 1 1.1 1 .8 1 .7 1 .7 1 .7 1 .7 1 .7 1 .6 1 .7 1 .6 1 .7 1 .6 1 .5 1 .6 1 .5 1 .5 1 .5 1 .5 1 .4 1 .4 1 .4 1 .3 1 .2 1 .1 1 .1 1-.1 1-.2 1-.2 1-.3 1-.2 1-.2 1-.2 1-.1 1-.1 1 0 1 0 1 0 1 0 1-.1 1-.1 1-.1 1-.2 1-.1 1 0 1-.1 1 .1 1 .2 1 .3 1 .3 1 .4 1 .4 1 .4 1 .3 1 .2 1 .2 1 .1 1 0 1 .1 1 .1 1 .2 1 .2 1 .3 1 .2 1 .3 1 .3 1 .2 1 .2 1 .1 1 .1 1 .1 1 .1 1 .1 1 0 1 0 1-.1 1-.1 1-.2 1-.1 1-.2 1 0 1-.1 1 0 1 0 1 0 1-.1 1 0 1-.1 1 0 1-.1 1-.1 1-.1 1-.2 1-.1 1-.2 1-.2 1-.3 1-.3 1-.2 1-.4 1-.3 1-.4 1-.4 1-.3 1-.3 1-.3 1-.2 1 0 1 0 1 .1 1 .2 1 .3 1 .3 1 .4 1 .3 1 .4 1 .4 1 .4 1 .4 1 .5 1 .4 1 .5 1 .3 1 .3 1 .2 1 0 1-.1 1-.2 1-.2 1-.4 1-.4 1-.4 1-.5 1-.6 1-.5 1-.6 1-.5 1-.4 1-.3 1-.2 1-.1 1 0 1 0 1 .1 1 .1 1 0 1 .2 1 .2 1 .2 1 .3 1 .4 1 .4 1 .5 1 .5 1 .4 1 .4 1 .3 1 .3 1 .2 1 .1 1 .1 1 0 1 .1 1 .1 1 .1 1 .2 1 .1 1 .2 1 .1 1 0 1 0 1 0 1-.1 1-.1 1-.1 1-.1 1-.1 1-.1 1-.1 1-.1 1-.1 1-.1 1-.2 1-.2 1-.3 1-.3 1-.3 1-.3 1-.3 1-.1" fill="none" stroke="#BE6EE1" stroke-width="4.6" stroke-linejoin="round"/>
<path d="M132.5 317.2l.7 .1 .7 .1 .7 .1 .7 .3 .7 .4 .7 .4 .7 .5 .7 .4 .7 .3 .7 .1 .7 .1 .7 .1 .7 .1 .7 .1 .7 .1 .7 .3 .7 .2 .7 .3 .7 .1 .7 .1 .7-.1 .7-.1 .7-.1 .7 .1 .7 .2 .7 .3 .7 .1 .7 0 .7-.1 .7-.1 .7 0 .7 .2 .7 .4 .7 .6 .7 .5 .7 .5 .7 .1 .7 0 .7-.3 .7-.5 .7-.4 .7-.5 .7-.4 .7-.4 .7-.5 .7-.4 .7-.5 .7-.4 .7-.4 .7-.4 .7-.3 .7-.4 .7-.4 .7-.4 .7-.4 .7-.4 .7-.3 .7-.4 .7-.3 .7-.3 .7-.2 .7-.1 .7-.1 .7-.2 .7-.4 .7-.5 .7-.7 .7-.8 .7-.7 .7-.5 .7-.4 .7-.3 .7-.2 .7-.3 .7-.4 .7-.6 .7-.8 .7-.8 .7-.9 .7-.9 .7-1 .7-1.1 .7-1.2 .7-1.5 .7-1.7 .7-1.9 .7-2 .7-2.3 .7-2.3 .7-2.3 .7-2.3 .7-2.3 .7-2.1 .7-1.9 .7-1.8 .7-1.7 .7-1.4 .7-1.3 .7-1.1 .7-.8 .7-.6 .7-.5 .7-.3 .7-.3 .7-.2 .7-.2 .7 0 .7 .2 .7 .2 .7 .2 .7 .1 .7-.2 .7-.4 .7-.4 .7-.1 .7 .3 .7 .9 .7 1.5 .7 1.8 .7 2 .7 1.9 .7 1.8 .7 1.6 .7 1.4 .7 1.3 .7 1.3 .7 1.3 .7 1.2 .7 1.2 .7 1.3 .7 1.4 .7 1.5 .7 1.6 .7 1.8 .7 2 .7 2 .7 2.2 .7 2.3 .7 2.3 .7 2.2 .7 2 .7 1.9 .7 1.7 .7 1.5 .7 1.4 .7 1.3 .7 1.3 .7 1.4 .7 1.4 .7 1.4 .7 1.3 .7 1.2 .7 .9 .7 .8 .7 .8 .7 .7 .7 .6 .7 .5 .7 .5 .7 .4 .7 .4 .7 .5 .7 .5 .7 .5 .7 .5 .7 .3 .7 .3 .7 .2 .7 .3 .7 .2 .7 .2 .7 .3 .7 .4 .7 .5 .7 .6 .7 .7 .7 .7 .7 .8 .7 .7 .7 .8 .7 .8 .7 .7 .7 .6 .7 .6 .7 .6 .7 .5 .7 .3 .7 .3 .7 .1 .7 0 .7 .1 .7 .2 .7 .4 .7 .7 .7 .8 .7 .8 .7 .7 .7 .5 .7 .3 .7 .1 .7 0 .7-.1 .7-.1 .7 0 .7 0 .7 .2 .7 .3 .7 .4 .7 .3 .7 .4 .7 .3 .7 .2 .7 .3 .7 .3 .7 .3 .7 .3 .7 .2 .7 0 .7 0 .7 0 .7 0 .7 .2 .7 .3 .7 .4 .7 .3 .7 .3 .7 .1 .7 0 .7-.1 .7-.1 .7-.2 .7-.1 .7-.1 .7 0 .7 .2 .7 .4 .7 .4 .7 .4 .7 .3 .7 .2 .7 0 .7-.2 .7-.2 .7-.3 .7-.1 .7-.1 .7 .1 .7 .1 .7 .1 .7 .1 .7 0 .7-.1 .7-.2 .7-.2 .7-.2 .7-.1 .7 0 .7 .2 .7 .1 .7 .3 .7 .3 .7 .3 .7 .4 .7 .3 .7 .4 .7 .2 .7 .2 .7 0 .7 0 .7-.1 .7-.2 .7-.2 .7-.3 .7-.3 .7-.3 .7-.2 .7 0 .7 0 .7 .2 .7 .2 .7 .3 .7 .3 .7 .3 .7 .3 .7 .2 .7 .1 .7 .1 .7 0 .7 0 .7-.1 .7-.1 .7-.1 .7 0 .7 .1 .7 .1 .7 0 .7 0 .7 .1 .7 .1 .7 .2 .7 .2 .7 .3 .7 .2 .7 .2 .7 .1 .7-.1 .7 0 .7 .1 .7 .1 .7 .2 .7 .3 .7 .2 .7 0 .7 0 .7-.1 .7-.2 .7-.2 .7-.2 .7-.2 .7 0 .7-.1 .7 0 .7 0 .7-.1 .7-.1 .7-.1 .7-.3 .7-.3 .7-.2 .7-.2 .7-.2 .7 0 .7 .1 .7 .2 .7 .2 .7 .2 .7 .1 .7 .1 .7 .1 .7 0 .7 .1 .7 .2 .7 .1 .7 .1 .7-.1 .7-.2 .7-.4 .7-.4 .7-.4 .7-.3 .7-.3 .7-.1 .7-.1 .7 0 .7 0 .7 .1 .7 .1 .7 .2 .7 .2 .7 .2 .7 .1 .7 .2 .7 .1 .7 .1 .7 0 .7-.1 .7-.2 .7-.3 .7-.2 .7-.3 .7-.2 .7-.3 .7-.2 .7-.2 .7-.1 .7 .1 .7 .1 .7 .3 .7 .3 .7 .3 .7 .1 .7 0 .7-.2 .7-.3 .7-.3 .7-.3 .7-.3 .7 0 .7 0 .7 .3 .7 .3 .7 .4 .7 .3 .7 .2 .7 .1 .7-.1 .7-.3 .7-.3 .7-.3 .7-.3 .7-.3 .7-.1 .7-.1 .7 0 .7 0 .7 .1 .7 0 .7 .1 .7 0 .7 0 .7-.1 .7-.2 .7-.2 .7-.3 .7-.1 .7 0 .7 .2 .7 .3 .7 .2 .7 .1 .7-.1 .7-.2 .7-.2 .7-.2 .7-.1 .7 0 .7 .2 .7 .2 .7 .2 .7 .1 .7 .1 .7-.1 .7-.1 .7-.2 .7-.2 .7-.3 .7-.1 .7-.1 .7 0 .7 0 .7 0 .7 0 .7 0 .7 .1 .7 0 .7 0 .7-.1 .7-.1 .7-.2 .7-.2 .7-.1 .7-.1 .7 0 .7 .1 .7 .2 .7 .3 .7 .3 .7 .3 .7 .1 .7 .1 .7-.2 .7-.4 .7-.6 .7-.6 .7-.7 .7-.6 .7-.4 .7-.2 .7 0 .7 .1 .7 .1 .7 0 .7-.1 .7-.2 .7-.3 .7-.3 .7-.3 .7-.2 .7-.3 .7-.2 .7-.2 .7-.3 .7-.2 .7-.2 .7 0 .7 0 .7 0 .7-.1 .7-.3 .7-.3 .7-.5 .7-.4 .7-.3 .7-.2 .7-.1 .7-.1 .7 .1 .7 0 .7 0 .7 0 .7-.2 .7-.2 .7-.4 .7-.4 .7-.4 .7-.4 .7-.4 .7-.3 .7-.1 .7-.1 .7-.1 .7-.1 .7-.1 .7-.2 .7-.1 .7-.1 .7 0 .7 .2 .7 .4 .7 .6 .7 .8 .7 .6 .7 .5 .7 .2 .7-.2 .7-.4 .7-.5 .7-.4 .7-.1 .7 .1 .7 .4 .7 .6 .7 .7 .7 .8 .7 .7 .7 .5 .7 .3 .7 .1 .7 0 .7-.1 .7 .1 .7 .2 .7 .3 .7 .4 .7 .4 .7 .4 .7 .2 .7 .3 .7 .2 .7 .3 .7 .4 .7 .5 .7 .4 .7 .4 .7 .4 .7 .3 .7 .3 .7 .3 .7 .2 .7 .1 .7 .1 .7 0 .7 0 .7-.1 .7-.3 .7-.3 .7-.4 .7-.4 .7-.3 .7-.2 .7 0 .7 .1 .7 .1 .7 .2 .7 .1 .7 .2 .7 .2 .7 .3 .7 .4 .7 .2 .7-.1 .7-.4 .7-.9 .7-1.4 .7-1.9 .7-2.3 .7-2.6 .7-2.7 .7-2.9 .7-3.1 .7-3.2 .7-3.6 .7-3.9 .7-4.3 .7-4.7 .7-4.8 .7-5 .7-4.8 .7-4.5 .7-4 .7-3.5 .7-2.6 .7-1.7 .7-.7 .7 .4 .7 1.4 .7 2.4 .7 2.9 .7 3.5 .7 3.5 .7 3.5 .7 3.2 .7 2.9 .7 2.3 .7 2 .7 1.5 .7 1.3 .7 .9 .7 .8 .7 .8 .7 .7 .7 .7 .7 .8 .7 .8 .7 .7 .7 .6 .7 .5 .7 .6 .7 .5 .7 .7 .7 .7 .7 .8 .7 .8 .7 .7 .7 .8 .7 .7 .7 .7 .7 .6 .7 .6 .7 .3 .7 .3 .7 .2 .7 .2 .7 .3 .7 .5 .7 .6 .7 .7 .7 .7 .7 .6 .7 .5 .7 .3 .7 .2 .7 .2 .7 .3 .7 .4 .7 .4 .7 .5 .7 .4 .7 .4 .7 .3 .7 .4 .7 .5 .7 .5 .7 .5 .7 .5 .7 .4 .7 .3 .7 .3 .7 .2 .7 .2 .7 .2 .7 .3 .7 .2 .7 .2 .7 0 .7 0 .7 0 .7 0 .7-.1 .7 0 .7 0 .7 0 .7 .2 .7 .2 .7 .3 .7 .4 .7 .3 .7 .3 .7 .2 .7 .1 .7 .3 .7 .3 .7 .4 .7 .5 .7 .5 .7 .4 .7 .1 .7-.1 .7-.2 .7-.2 .7-.2 .7-.1 .7 0 .7 0 .7-.1 .7 0 .7-.1 .7-.1 .7 .1 .7 0 .7 .1 .7 .1 .7-.1 .7-.2 .7-.4 .7-.5 .7-.4 .7-.3 .7-.2 .7-.1 .7-.1 .7-.1 .7-.1 .7 0 .7 .1 .7 .2 .7 .4 .7 .4 .7 .3 .7 .1 .7-.1 .7-.3 .7-.3 .7-.3 .7-.2 .7-.1 .7 0 .7 0 .7 0 .7 .1 .7 .1 .7 .2 .7 .2 .7 .1 .7 .2 .7 0 .7-.2 .7-.3 .7-.4 .7-.5 .7-.4 .7-.3 .7-.2 .7-.1 .7 .1 .7 .2 .7 .1 .7 .2 .7 .1 .7 .2 .7 .2 .7 .2 .7 .2 .7 .1 .7 0 .7-.1 .7-.2 .7-.2 .7-.2 .7-.1 .7-.1 .7 0 .7 0 .7-.1 .7-.1 .7-.1 .7-.1 .7 0 .7 .1 .7 .2 .7 .3 .7 .3 .7 .2 .7 .3 .7 .2 .7 .1 .7-.1 .7-.3 .7-.4 .7-.5 .7-.5 .7-.4 .7-.3 .7-.1 .7 .1 .7 .3 .7 .3 .7 .3 .7 .2 .7 .1 .7 0 .7-.2 .7-.3 .7-.3 .7-.3 .7-.2 .7-.2 .7-.1 .7 0 .7 .1 .7 .2 .7 .2 .7 .2 .7 .2 .7 .1 .7 0 .7 0 .7 0 .7-.1 .7-.1 .7-.1 .7-.1 .7-.1 .7-.1 .7-.3 .7-.4 .7-.4 .7-.3 .7-.3 .7-.1 .7-.1 .7-.1 .7-.2 .7-.2 .7-.4 .7-.3 .7-.1 .7-.1 .7 .1 .7 .1 .7 .1 .7 .1 .7 0 .7 0 .7-.1 .7-.3 .7-.4 .7-.5 .7-.4 .7-.4 .7-.2 .7-.1 .7-.2 .7-.1 .7-.2 .7-.2 .7-.2 .7-.2 .7-.2 .7-.3 .7-.3 .7-.4 .7-.5 .7-.5 .7-.3 .7-.3 .7-.1 .7 0 .7-.1 .7-.3 .7-.5 .7-.7 .7-.7 .7-.6 .7-.4 .7-.3 .7-.1 .7-.1 .7 0 .7-.1 .7-.2 .7-.2 .7-.3 .7-.1 .7-.1 .7 .1 .7 .1 .7 .1 .7 0 .7-.3 .7-.5 .7-.6 .7-.8 .7-.6 .7-.6 .7-.3 .7-.2 .7-.1 .7-.1 .7-.1 .7-.2 .7-.3 .7-.4 .7-.3 .7-.2 .7-.2 .7-.2 .7-.1 .7-.1 .7-.2 .7-.1 .7-.2 .7-.3 .7-.4 .7-.5 .7-.5 .7-.5 .7-.1 .7 .1 .7 .3 .7 .4 .7 .4 .7 .3 .7 .3 .7 .3 .7 .3 .7 .3 .7 .4 .7 .4 .7 .4 .7 .5 .7 .4 .7 .4 .7 .4 .7 .3 .7 .3 .7 .3 .7 .4 .7 .4 .7 .4 .7 .6 .7 .6 .7 .7 .7 .7 .7 .7 .7 .6 .7 .4 .7 .3 .7 .1 .7 .1 .7 .1 .7 .2 .7 .3 .7 .6 .7 .8 .7 .7 .7 .7 .7 .6 .7 .5 .7 .6 .7 .5 .7 .6 .7 .6 .7 .6 .7 .6 .7 .5 .7 .5 .7 .4 .7 .3 .7 .4 .7 .3 .7 .5 .7 .4 .7 .5 .7 .4 .7 .2 .7 .1 .7-.1 .7-.1 .7-.1 .7 .1 .7 .2 .7 .4 .7 .4 .7 .3 .7 0 .7-.1 .7-.2 .7-.1 .7-.1 .7 0 .7 0 .7 0 .7 0 .7-.1 .7-.2 .7-.1 .7-.3 .7-.2 .7-.3 .7-.3 .7-.1 .7 .1 .7 .2 .7 .4 .7 .3 .7 .4 .7 .4 .7 .3 .7 .3 .7 .2 .7 .2 .7 .1 .7-.1 .7-.2 .7-.3 .7-.3 .7-.3 .7-.3 .7-.2 .7-.1 .7-.2 .7-.2 .7-.5 .7-.6 .7-.7 .7-.7 .7-.5 .7-.2 .7 .3 .7 .7 .7 .9 .7 .9 .7 .7 .7 .5 .7 .2 .7 .2 .7 .1 .7 .3 .7 .5 .7 .6 .7 .7 .7 .7 .7 .6 .7 .4 .7 .4 .7 .2 .7 .1 .7 0 .7-.1 .7-.1 .7 0 .7 .1 .7 .3 .7 .3 .7 .4 .7 .4 .7 .4 .7 .3 .7 .3 .7 .3 .7 .3 .7 .2 .7 .1 .7 0 .7-.2 .7-.3 .7-.3 .7-.3 .7-.3 .7-.1 .7 0 .7 .1 .7 .2 .7 .1 .7 .2 .7 .1 .7 .2 .7 .1 .7 .3 .7 .3 .7 .3 .7 .2 .7-.1 .7-.2 .7-.2 .7-.3 .7-.2 .7-.1 .7-.2 .7-.1 .7-.2 .7-.3 .7-.4 .7-.4 .7-.4 .7-.3 .7-.2 .7 0 .7 .1 .7 .2 .7 .3 .7 .2 .7 .2 .7 0 .7 .1 .7-.1 .7-.2 .7-.2 .7-.3 .7-.4 .7-.5 .7-.5 .7-.5 .7-.5 .7-.6 .7-.7 .7-.9 .7-1 .7-1.1 .7-1.2 .7-1.3 .7-1.4 .7-1.5 .7-1.6 .7-1.7 .7-1.7 .7-1.6 .7-1.6 .7-1.3 .7-1 .7-.9 .7-.6 .7-.4 .7-.3 .7-.1 .7 0 .7 .1 .7 0 .7 0 .7 .1 .7 .1 .7 .2 .7 .2 .7 .2 .7 .1 .7 .2 .7 .2 .7 .2 .7 .2 .7 .1 .7 .2 .7 .1 .7 .1 .7 .1 .7 .1 .7 0 .7 .1 .7 .2 .7 .2 .7 .2 .7 .3 .7 .3 .7 .2 .7 .3 .7 .3 .7 .4 .7 .4 .7 .3 .7 .3 .7 .3 .7 .2 .7 .2 .7 .2 .7 .1 .7 0 .7 .1 .7 0 .7 .1 .7 .2 .7 .3 .7 .3 .7 .2 .7 .3 .7 .2 .7 .2 .7 .1 .7 .1 .7 0 .7-.1 .7-.1 .7-.1 .7 0 .7 0 .7 .1 .7 .1 .7 .1 .7 .1 .7 .1 .7 .2 .7 .1 .7 .1 .7 .2 .7 .2 .7 .2 .7 .4 .7 .3 .7 .4 .7 .4 .7 .3 .7 .3 .7 .3 .7 .4 .7 .4 .7 .4 .7 .3 .7 .2 .7 .2 .7 .1 .7 .2 .7 .3 .7 .3 .7 .3 .7 .3 .7 .2 .7 .1 .7 .2 .7 .1 .7 .1 .7 .2 .7 .3 .7 .3 .7 .3 .7 .4 .7 .4 .7 .4 .7 .4 .7 .4 .7 .3 .7 .3 .7 .2 .7 .2 .7 0 .7 0 .7 0 .7 0 .7 0 .7 .1 .7 0 .7-.1 .7-.1 .7 0 .7 .1 .7 .2 .7 .5 .7 .5 .7 .5 .7 .3 .7 .3 .7 0 .7 0 .7-.1 .7-.1 .7-.1 .7 0 .7 .1 .7 0 .7 .1 .7 0 .7 .1 .7 .1 .7 .2 .7 .3 .7 .2 .7 .3 .7 .3 .7 .1 .7 .2 .7 .1 .7 .1 .7 0 .7 0 .7-.1 .7-.1 .7-.2 .7-.3 .7-.4 .7-.3 .7-.4 .7-.4 .7-.4 .7-.4 .7-.4 .7-.3 .7-.1 .7 0 .7 .1 .7 .1 .7 .2 .7 0 .7-.1 .7-.2 .7-.2 .7-.3 .7-.3 .7-.3 .7-.4 .7-.3 .7-.4 .7-.3 .7-.2 .7-.1 .7 .2 .7 .3 .7 .4 .7 .4 .7 .4 .7 .2 .7 0 .7-.2 .7-.2 .7-.3 .7-.3 .7-.2 .7-.1 .7 0 .7 .2 .7 .3 .7 .3 .7 .4 .7 .5 .7 .4 .7 .4 .7 .4 .7 .4 .7 .3 .7 .2 .7 .1 .7-.2 .7-.2 .7-.3 .7-.3 .7-.3 .7-.2 .7-.2 .7-.1 .7 .1 .7 .2 .7 .4 .7 .5 .7 .6 .7 .6 .7 .6 .7 .4 .7 .3 .7 .3 .7 .2 .7 .2 .7 .2 .7 .1 .7 0 .7 0 .7 0 .7 0 .7-.2 .7-.2 .7-.4 .7-.4 .7-.4 .7-.2 .7 .1 .7 .2 .7 .3 .7 .5 .7 .4 .7 .5 .7 .4 .7 .3 .7 .2 .7 .1 .7 0 .7-.2 .7-.3 .7-.3 .7-.3 .7-.3 .7-.1 .7 0 .7 .1 .7 .2 .7 .2 .7 .2 .7 .3 .7 .3 .7 .2 .7 .1 .7 0 .7-.1 .7-.2 .7-.3 .7-.4 .7-.2 .7-.1 .7 .2 .7 .3 .7 .4 .7 .4 .7 .3 .7 .3 .7 0 .7 0 .7-.1 .7-.1 .7-.1 .7 0 .7 0 .7-.1 .7 0 .7-.1 .7 0 .7 .1 .7 0 .7 .2 .7 .1 .7 .2 .7 .2 .7 .3 .7 .2 .7 .1 .7 .1 .7-.1 .7-.2 .7-.2 .7-.3 .7-.1 .7-.1 .7 .1 .7 .1 .7 .2 .7 .2 .7 .1 .7 0 .7 0 .7-.1 .7 0 .7-.1 .7 0 .7-.1 .7-.2 .7-.1 .7-.3 .7-.2 .7-.2 .7-.1 .7 0 .7 .2 .7 .2 .7 .1 .7 .2 .7 0 .7 .1 .7 .1 .7 .2 .7 .2 .7 .1 .7 0 .7 0 .7 0 .7-.1 .7-.1 .7-.1 .7-.1 .7-.2 .7-.1 .7-.2 .7 0 .7 0 .7 .2 .7 .2 .7 .2 .7 .1 .7 0 .7 0 .7 0 .7 0 .7 .1 .7 .1 .7 .1 .7 .1 .7 0 .7 0 .7-.1 .7-.1 .7-.1 .7 0 .7 0 .7 0 .7 0 .7 0 .7 0 .7 .1 .7 .1 .7 .3 .7 .2 .7 .1 .7 .1 .7 .1 .7 .1 .7 .2 .7 .2 .7 .2 .7 .1 .7 0 .7-.2 .7-.4 .7-.6 .7-.7 .7-.6 .7-.6 .7-.3 .7 0 .7 .2 .7 .5 .7 .5 .7 .6 .7 .4 .7 .4 .7 .2 .7 .1 .7 .1 .7 0 .7 0 .7 0 .7-.1 .7-.2 .7-.3 .7-.3 .7-.4 .7-.4 .7-.2 .7-.2 .7-.1 .7-.1 .7 0 .7 0 .7 .1 .7 .2 .7 .2 .7 .2 .7 .1 .7 .2 .7 .1 .7 .1 .7 .1 .7 0 .7-.1 .7-.2 .7-.2 .7-.1 .7-.1 .7 0 .7 .2 .7 .2 .7 .2 .7 .2 .7 .2 .7 .3 .7 .2 .7 .3 .7 .2 .7 .1 .7 .1 .7 .1 .7 .2 .7 .3 .7 .4 .7 .4 .7 .4 .7 .2 .7 .2 .7 .1 .7 .1 .7 .1 .7 0 .7-.1 .7-.1 .7-.3 .7-.3 .7-.4 .7-.3 .7-.2 .7-.1 .7 .1 .7 0 .7 .2 .7 .1 .7 .2 .7 .3 .7 .3 .7 .4 .7 .3 .7 .2 .7 .1 .7 0 .7 0 .7-.1 .7-.1 .7 .1 .7 .1 .7 .2 .7 .2 .7 .2 .7 .1 .7 0 .7-.2 .7-.3 .7-.4 .7-.4 .7-.4 .7-.2 .7-.1 .7 .1 .7 .1 .7 .1 .7 .1 .7 0 .7 0 .7 .1 .7 .2 .7 .3 .7 .4 .7 .3 .7 .3 .7 .2 .7 .2 .7 .1 .7 .2 .7 .2 .7 .2 .7 .1 .7 0 .7-.1 .7-.3 .7-.5 .7-.5 .7-.3 .7 0 .7 .1 .7 .3 .7 .2 .7 .1 .7-.1 .7-.4 .7-.4 .7-.5 .7-.4 .7-.2 .7 .1 .7 .3 .7 .4 .7 .4 .7 .4 .7 .3 .7 .3 .7 .2 .7 .2 .7 0 .7-.1 .7-.2 .7-.2 .7-.2 .7-.2 .7 0 .7 .1 .7 .3 .7 .3 .7 .4 .7 .2 .7 .1 .7-.1 .7-.3 .7-.4 .7-.4 .7-.3 .7-.2 .7 0 .7 .1 .7 .3 .7 .3 .7 .4 .7 .4 .7 .3 .7 .2 .7 .1 .7-.1 .7-.1 .7-.2 .7-.4 .7-.3 .7-.4 .7-.4 .7-.1 .7 0 .7 .3 .7 .3 .7 .3 .7 .3 .7 .1 .7 .1 .7 0 .7-.1 .7-.2 .7-.4 .7-.4 .7-.4 .7-.3 .7-.2 .7 0 .7 .2 .7 .3 .7 .5 .7 .6 .7 .5 .7 .4 .7 .1 .7-.2 .7-.4 .7-.5 .7-.5 .7-.3 .7-.2 .7 0 .7 0 .7 0 .7-.1 .7-.1 .7-.2 .7-.2 .7-.2 .7 0 .7 .1 .7 .2 .7 .2 .7 .2 .7 .1 .7-.1 .7-.2 .7-.2 .7-.3 .7-.2 .7-.2 .7-.1 .7-.1 .7-.1 .7-.1 .7 0 .7 0 .7 0 .7 0 .7 .1 .7 0 .7 0 .7 0 .7 0 .7 0 .7 0 .7-.1 .7-.1 .7-.2 .7-.1 .7-.2 .7-.1 .7-.1 .7 0 .7 .2 .7 .1 .7 .1 .7 0 .7-.1 .7-.1 .7-.2 .7-.2 .7-.2 .7-.2 .7-.3 .7-.2 .7-.2 .7-.1 .7 0 .7 .2 .7 .2 .7 .2 .7 .2 .7 0 .7-.2 .7-.3 .7-.4 .7-.4 .7-.3 .7-.3 .7-.1 .7-.2 .7-.1 .7-.1 .7-.3 .7-.3 .7-.4 .7-.5 .7-.6 .7-.7 .7-.8 .7-.8 .7-.8 .7-.8 .7-.7 .7-.5 .7-.3 .7 .1 .7 .2 .7 .3 .7 .5 .7 .4 .7 .5 .7 .6 .7 .6 .7 .7 .7 .7 .7 .7 .7 .5 .7 .4 .7 .4 .7 .2 .7 .2 .7 .1 .7-.1 .7 0 .7 .1 .7 .1 .7 .1 .7 .1 .7 0 .7-.2 .7-.2 .7-.1 .7 0 .7 0 .7 0 .7-.1 .7-.3 .7-.5 .7-.4 .7-.4 .7-.2 .7 0 .7 .1 .7 .1 .7 .1 .7 .2 .7 .2 .7 .3 .7 .3 .7 .3 .7 .2 .7 .1 .7 .1 .7 0 .7-.1 .7 0 .7 .1 .7 .2 .7 .2 .7 .2 .7 .1 .7 0 .7-.1 .7-.2 .7-.1 .7-.1 .7-.1 .7-.1 .7-.2 .7-.1 .7-.1 .7-.1 .7 0 .7 .1 .7 0 .7 0 .7 0 .7-.1 .7-.1 .7-.2 .7-.1 .7-.2 .7 0 .7 .1 .7 0 .7 .1 .7 .1 .7 0 .7 0 .7 0 .7 .2 .7 .2 .7 .3 .7 .3 .7 .2 .7 .1 .7 0 .7 0 .7-.2 .7-.2 .7-.3 .7-.4 .7-.3 .7-.3 .7-.1 .7 .2 .7 .3 .7 .6 .7 .5 .7 .5 .7 .3 .7 .1 .7 0 .7-.1 .7-.1 .7 0 .7 .1 .7 0 .7 0 .7 .1 .7 .1 .7 .1 .7 .3 .7 .2 .7 .3 .7 .3 .7 .2 .7 .2 .7 .1 .7 .2 .7 .3 .7 .3 .7 .2 .7 .1 .7-.1 .7-.1 .7-.2 .7 0 .7 .1 .7 .2 .7 .2 .7 0 .7-.2 .7-.4 .7-.5 .7-.5 .7-.3 .7-.1 .7 .1 .7 .3 .7 .2 .7 .3 .7 .1 .7 0 .7 0 .7 0 .7 0 .7 .1 .7 0 .7 .1 .7-.1 .7-.1 .7-.2 .7-.2 .7-.1 .7 0 .7 0 .7 .1 .7 .1 .7 0 .7 0 .7-.1 .7 0 .7-.1 .7 .1 .7 0 .7 .1 .7 .1 .7 0 .7-.1 .7-.1 .7-.1 .7-.1 .7 0 .7 .1 .7 .2 .7 .3 .7 .3 .7 .4 .7 .2 .7 .2 .7 0 .7 0 .7-.1 .7-.1 .7-.1 .7-.1 .7-.1 .7-.1 .7 .1 .7 .1 .7 .2 .7 .3 .7 .2 .7 .1 .7 0 .7-.2 .7-.3 .7-.3 .7-.3 .7-.2 .7 0 .7 .1 .7 .2 .7 .1 .7 .2 .7 .1 .7 .2 .7 .1 .7 0 .7 0 .7 .1 .7 0 .7 .1 .7 0 .7-.1 .7 0 .7-.1 .7 0 .7 .1 .7 .3 .7 .3 .7 .3 .7 .2 .7 .2 .7-.2 .7-.3 .7-.5 .7-.7 .7-.6 .7-.6 .7-.4 .7-.1 .7-.1 .7 .1 .7 .2 .7 .2 .7 .1 .7 .1 .7 0 .7-.1 .7-.3 .7-.4 .7-.6 .7-.6 .7-.7 .7-.6 .7-.5 .7-.4 .7-.3 .7-.3 .7-.3 .7-.4 .7-.5 .7-.5 .7-.5 .7-.5 .7-.4 .7-.5 .7-.6 .7-.7 .7-.9 .7-.9 .7-1 .7-1.1 .7-1.1 .7-1.2 .7-1.1 .7-1.2 .7-1.2 .7-1.1 .7-1.2 .7-1 .7-.9 .7-.8 .7-.6 .7-.3 .7 0 .7 .4 .7 .9 .7 1.2 .7 1.6 .7 1.7 .7 1.8 .7 1.8 .7 1.6 .7 1.3 .7 1.2 .7 1 .7 .8 .7 .8 .7 .7 .7 .7 .7 .7 .7 .5 .7 .4 .7 .3 .7 .2 .7 .3 .7 .4 .7 .4 .7 .6 .7 .6 .7 .6 .7 .6 .7 .4 .7 .4 .7 .2 .7 .1 .7-.1 .7-.2 .7-.2 .7-.1 .7-.2 .7 0 .7-.1 .7 0 .7 0 .7 .2 .7 .2 .7 .3 .7 .2 .7 .2 .7 0 .7 0 .7 0 .7 0 .7 .2 .7 .2 .7 .1 .7 .2 .7 .1 .7 .1 .7 .1 .7 .1 .7 0 .7-.1 .7-.1 .7-.2 .7-.2 .7-.2 .7-.2 .7-.1 .7 0 .7 .2 .7 .2 .7 .4 .7 .3 .7 .3 .7 .1 .7 0 .7-.1 .7-.1 .7-.1 .7-.1 .7 .1 .7 .2 .7 .3 .7 .3 .7 .2 .7 .3 .7 .2 .7 .2 .7 .1 .7 0 .7 0 .7-.1 .7 0 .7 .1 .7 .2 .7 .2 .7 .3 .7 .2 .7 0 .7 .1 .7 0 .7 .1 .7 .2 .7 .1 .7 .1 .7 0 .7-.1 .7-.2 .7-.2 .7-.4 .7-.4 .7-.4 .7-.4 .7-.4 .7-.1 .7-.1 .7 .1 .7 .1 .7 0 .7 0 .7-.1 .7-.2 .7-.1 .7-.1 .7 0 .7 .2 .7 .1 .7 .1 .7 .1 .7 .2 .7 .3 .7 .5 .7 .6 .7 .5 .7 .4 .7 .2 .7-.1 .7-.1 .7-.2 .7-.2 .7-.2 .7-.1 .7-.2 .7-.1 .7-.2 .7-.2 .7-.1 .7-.1 .7-.1 .7-.1 .7 .1 .7 .1 .7 .3 .7 .4 .7 .4 .7 .2 .7 .1 .7-.1 .7-.4 .7-.5 .7-.4 .7-.4 .7-.3 .7 0 .7 .1 .7 .3 .7 .4 .7 .5 .7 .5 .7 .3 .7 .2 .7 0 .7-.2 .7-.2 .7-.2 .7-.1 .7 0 .7 0 .7-.1 .7-.2 .7-.4 .7-.5 .7-.3 .7-.2 .7 0 .7 .1 .7 .3 .7 .2 .7 .2 .7 0 .7 0 .7 0 .7-.1 .7 0 .7 0 .7 0 .7 0 .7 .1 .7 .1 .7 0 .7 .1 .7 0 .7 0 .7-.2 .7-.2 .7-.4 .7-.4 .7-.2 .7-.1 .7 .1 .7 .2 .7 .3 .7 .2 .7 .2 .7 0 .7-.1 .7-.1 .7-.2 .7-.1 .7-.2 .7-.1 .7-.1 .7 0 .7 0 .7 .1 .7 .3 .7 .4 .7 .4 .7 .4 .7 .2 .7 .1 .7-.1 .7-.3 .7-.3 .7-.3 .7-.2 .7-.1 .7-.1 .7 0 .7 0 .7 0 .7 .1 .7 .2 .7 .2 .7 .1 .7 0 .7-.2 .7-.3 .7-.5 .7-.3 .7-.3 .7 0 .7 .2 .7 .3 .7 .4 .7 .4 .7 .3 .7 .2 .7 .1 .7 0 .7-.1 .7 0 .7 .1 .7 .1 .7 .2 .7 .3 .7 .2 .7 0 .7-.1 .7-.3 .7-.3 .7-.4 .7-.2 .7-.2 .7 0 .7 0 .7 .2 .7 .2 .7 .2 .7 .2 .7 .2 .7 .1 .7 .1 .7 0 .7 .1 .7 0" fill="none" stroke="#DD9900" stroke-width="10" stroke-linejoin="round"/>
<path d="M132.5 316.2l.3 .5 .4 4.5 .3-7.9 .4 5.7 .3 1.2 .4-4.6 .3-3.6 .4 4.8 .3 3 .4-.7 .3-3.9 .4 3.2 .3 1.7 .4-1.7 .3 1.5 .4 7.3 .3-6.7 .4-2.1 .3-2.1 .4 1.9 .3 1.2 .4 4.5 .3-2.1 .4-3.6 .3 7 .4-5.7 .3 1.7 .4-6 .3 0 .4 2 .3 7.1 .4-2.9 .3 2.3 .4-2.5 .3-1.6 .4 .8 .3 .6 .4 3.3 .3-4.2 .4 5 .3-3.7 .4 2.5 .3-3.1 .4 1.5 .3-2.5 .4 1.4 .3-2.6 .4-2.2 .3-2.7 .4 9.1 .3-1.7 .4 5 .3-1.3 .4-3.9 .3 9.5 .4-8 .3 1.7 .4-2.7 .3-2 .4-.3 .3 .3 .4 3.7 .3-4.9 .4-4.9 .3 12.7 .4-7.8 .3 4.5 .4 .3 .3 1 .4-.7 .3 6.1 .4-3.9 .3-1.5 .4 .4 .3-.6 .4 7.7 .3-10 .4 3.8 .3-1 .4-7.5 .3 5.7 .4 7.1 .3-3.2 .4-12.7 .3 8.7 .4-8.8 .3 13.2 .4-7.6 .3-2.1 .4 15.7 .3-10.2 .4-1.2 .3-5.7 .4 5.7 .3-.5 .4 .8 .3-10.9 .4 6.5 .3 .7 .4 1.8 .3-1.5 .4 1.9 .3-2.8 .4 6.4 .3 2.2 .4-14.3 .3 3.4 .4 2.7 .3 1.6 .4-8.9 .3 2.9 .4 2.4 .3 1.3 .4 3.4 .3-1.2 .4-1.5 .3-9.6 .4 15.8 .3-8.6 .4-6.3 .3 3.1 .4 2.7 .3-1.7 .4 .3 .3 3 .4 .2 .3-3 .4 2.2 .3-3.4 .4 9.6 .3-8.5 .4 7.5 .3-15.9 .4 11.7 .3-4.2 .4 1.2 .3-4.8 .4 3.1 .3-2.1 .4-3.3 .3-6.2 .4 15.8 .3-4.1 .4-4.2 .3 .5 .4 1.6 .3 3.1 .4-7.8 .3 12.7 .4-2 .3-9.3 .4 2.9 .3-2.5 .4 2.2 .3-7.5 .4 4.9 .3 .3 .4-.2 .3 .1 .4 2.7 .3-7.7 .4-2.1 .3 2.4 .4 .6 .3 7.1 .4-7.1 .3-.3 .4 6.6 .3-12.2 .4-.8 .3 .8 .4-2 .3 1.9 .4 5.5 .3-12.9 .4 2.9 .3 .1 .4-2.8 .3 4.8 .4-5.1 .3 1.5 .4-11.5 .3 .8 .4-4.9 .3 10 .4 4.6 .3-22.7 .4 14.9 .3-1.7 .4 3.2 .3-9.1 .4 3.5 .3-5.4 .4-4.9 .3 8.7 .4-12.1 .3 10.4 .4-4.5 .3 1.5 .4 5.4 .3-8.7 .4 2.1 .3-1.3 .4-2.7 .3 3.1 .4-3.8 .3 6.9 .4-2.7 .3-3.3 .4 12.9 .3-12.6 .4 2.8 .3 .7 .4-4.9 .3-11 .4 19.1 .3 3.5 .4-13.4 .3-.3 .4 4 .3 1.4 .4 12.7 .3-3.4 .4 3.6 .3-16 .4 3.7 .3-1.2 .4-2.3 .3-4.6 .4 3.8 .3 3 .4-5.1 .3 2.3 .4-4.3 .3 10.8 .4-.5 .3-1.9 .4 3.9 .3 .1 .4 3.1 .3 7.1 .4-7.6 .3 3.6 .4-3.2 .3 11.8 .4-5.8 .3-4.3 .4 2.5 .3-.9 .4 1.1 .3 2.7 .4 6.2 .3-3.4 .4-1.1 .3 2.1 .4-.9 .3 5.1 .4-9.2 .3 6.3 .4 1.1 .3-1.4 .4 6.5 .3-5.2 .4 2.5 .3-5.1 .4 10.9 .3-2.9 .4 3.2 .3-3.4 .4-7.1 .3 10.2 .4 5.3 .3 2.1 .4-4 .3 6.3 .4-10.7 .3 9.1 .4-1.2 .3 3 .4-1.2 .3 9.1 .4-5.7 .3 10 .4-11.2 .3 5.5 .4 1.1 .3 3.1 .4-2.1 .3 1.9 .4-5.6 .3 5.5 .4 4 .3-6.4 .4 5.3 .3-1.6 .4-.7 .3-.5 .4 8.2 .3-1.3 .4-1.9 .3 .5 .4 3.2 .3-.8 .4 5.3 .3 .5 .4-5.5 .3 1.7 .4-.6 .3-1.5 .4 1.6 .3 2.5 .4-1.2 .3 .9 .4-.7 .3 7.8 .4-4.6 .3-6.4 .4 7.6 .3 2.8 .4-2.2 .3-4 .4 .5 .3-1 .4-4.4 .3 7 .4 4.2 .3-1.1 .4-.9 .3 2.8 .4-2.3 .3-3.5 .4 5.7 .3-3.6 .4 5.9 .3-5.8 .4-3.7 .3 7.4 .4-6.5 .3 9.2 .4-4.6 .3 3.4 .4-9.3 .3 7.5 .4 1.2 .3-5.3 .4 5.2 .3-4.5 .4 2.6 .3 .8 .4 2 .3-4.8 .4 1.3 .3 5.9 .4-.6 .3-1.8 .4-1.3 .3 3.5 .4-1.4 .3-1 .4 5.9 .3-6.8 .4 5.9 .3-1.8 .4 .5 .3 .6 .4 1 .3 2.5 .4 1.5 .3-7.4 .4-1.1 .3 8.5 .4-7.3 .3 .5 .4 5.6 .3 5.5 .4-4.3 .3-3.2 .4-.7 .3 11.8 .4-8.6 .3-.8 .4-11.3 .3 8 .4-7.6 .3 16 .4-7.1 .3-.8 .4 3.9 .3-3 .4 3.1 .3 6.8 .4-2.8 .3-5.9 .4 7.7 .3-5.9 .4 1 .3-1.2 .4 12 .3-11.8 .4 3.5 .3-.9 .4 .7 .3-5.9 .4 5.1 .3 10.5 .4-10 .3-3 .4-3.7 .3 5.6 .4 3.4 .3-10.8 .4 2.2 .3 8.2 .4 3.3 .3-4.5 .4 1.3 .3-2.6 .4 .3 .3 1.8 .4-2.2 .3 2.3 .4-3.1 .3 9.2 .4-4.4 .3-5.8 .4 2.2 .3 6.1 .4-3.9 .3-.9 .4-7 .3 10.3 .4-.7 .3 3 .4-6.4 .3 5.3 .4 1.1 .3 .1 .4-1 .3-2.3 .4-6.5 .3 7.9 .4-9.6 .3 3.6 .4 4.6 .3-3.5 .4 3.9 .3 3.8 .4-6.6 .3 5.8 .4 7.7 .3-17.9 .4 7.2 .3 2.1 .4 .2 .3-3.5 .4 4.6 .3-3.7 .4-1.7 .3 2.8 .4 .6 .3 2.6 .4-2.1 .3-6.4 .4 5.7 .3-1.5 .4 2.7 .3-8.6 .4 8.2 .3 1.4 .4-9.9 .3-2.8 .4 14.7 .3 .1 .4-7.6 .3 8.5 .4-6 .3 .8 .4-.3 .3-1 .4 5.5 .3-3.6 .4 5.2 .3-5 .4 4.7 .3-5.4 .4-.3 .3 .7 .4-10.8 .3 12.6 .4-6 .3 10.2 .4-13.5 .3 8.7 .4 .7 .3-2 .4-5.1 .3 7.7 .4-4.1 .3-.3 .4 3 .3 7 .4-13.2 .3 4.4 .4 1.7 .3-3 .4 7.3 .3-4.8 .4-6.2 .3 2.1 .4-.2 .3 3.4 .4 5.3 .3-9.4 .4 .9 .3 1 .4 3 .3-.9 .4-.1 .3-3 .4 6.6 .3-3.1 .4 4 .3-12.1 .4 8 .3-.6 .4 4.3 .3-2 .4-1.2 .3-3.4 .4 4.6 .3 3.3 .4-2.2 .3 5.6 .4-7.4 .3-1.9 .4-1 .3 5.1 .4 .2 .3-1.9 .4 1.5 .3-2.5 .4 3.7 .3-2.1 .4-3.5 .3 2.7 .4 .5 .3-3.7 .4 8.7 .3-3.3 .4-6.3 .3 1.2 .4-7.9 .3 16.5 .4-9.2 .3 6.3 .4-3.1 .3-6.4 .4 3.9 .3 .6 .4 4.1 .3-3 .4-2.8 .3 10.2 .4-6.4 .3-5.9 .4 14.4 .3-7.2 .4-1.6 .3-3.2 .4 5 .3-6.2 .4 11 .3-4.1 .4-.4 .3 .7 .4 1.5 .3-3.9 .4 3 .3-7.2 .4 5.9 .3 .6 .4-4.5 .3-1.9 .4 9.6 .3-.7 .4-8.8 .3 5 .4-3.5 .3 .3 .4 8.4 .3-4.6 .4 1 .3-3.7 .4 4 .3-1.1 .4-2.3 .3 1.1 .4-2 .3 2.7 .4-3.5 .3 2.6 .4 3.9 .3-2.5 .4-.4 .3-5 .4 7.4 .3-2.2 .4 5.8 .3-.7 .4 0 .3-5.6 .4 2.1 .3-6.9 .4-2.4 .3 9.5 .4-1.2 .3 5.3 .4-7.9 .3 1.4 .4 2.5 .3-1.7 .4 2.8 .3-4.2 .4 4.1 .3 .4 .4 1 .3-5.4 .4 5.6 .3-6.3 .4 2 .3 8.7 .4-8.3 .3-.4 .4-1.5 .3 1 .4-.1 .3 1.4 .4-1.1 .3-1.5 .4-1.5 .3 13.1 .4-9.5 .3-3.8 .4 1.9 .3 2.2 .4-3.2 .3 6.7 .4-4.3 .3 1.1 .4-.2 .3-4.4 .4 9.1 .3-2.4 .4-7 .3 4 .4-.2 .3-1.6 .4 .6 .3-1.1 .4 2.8 .3-1.3 .4-4.3 .3 2.4 .4-1.2 .3 4.4 .4-.6 .3-1 .4 1 .3 .5 .4-3.3 .3-3.9 .4 13.8 .3-10.3 .4 .7 .3 3.7 .4 8.7 .3-14.3 .4 3.4 .3 4.2 .4-8.7 .3 3.1 .4 2.7 .3 2.4 .4-7.7 .3 4 .4 1.1 .3-.3 .4-.1 .3 10.1 .4-.3 .3-12.5 .4 .5 .3 1.3 .4-4 .3 1.1 .4 3.9 .3 9.9 .4-11.9 .3-1.1 .4 3.4 .3-2.3 .4-8.8 .3 5.4 .4 9 .3-8.6 .4 5.4 .3-1.5 .4 2.8 .3-2.3 .4-2.3 .3-.2 .4 .2 .3 0 .4 .2 .3 .5 .4 2.1 .3-.5 .4-5.9 .3 5.2 .4 6.2 .3 .4 .4-7.5 .3-2.1 .4 1.8 .3-2.3 .4 1.9 .3 7.4 .4-1.4 .3-4.4 .4 .6 .3 1.1 .4 0 .3-.1 .4 .4 .3-1.3 .4-4.4 .3 5.2 .4-.2 .3-4.5 .4 .5 .3 3.6 .4-1.7 .3 3.6 .4-4.6 .3 2.9 .4-.4 .3-5.2 .4 2.6 .3 .7 .4-.5 .3-3.5 .4 2.8 .3 2.4 .4-2.6 .3 3.2 .4-1.5 .3 .3 .4-2.4 .3 5.1 .4-8 .3 11.8 .4-5.8 .3 5.8 .4-6.1 .3-1.4 .4 .1 .3 6.6 .4-5.6 .3-.8 .4-2.8 .3-.1 .4 2.9 .3 .3 .4 3 .3-6.9 .4 3.8 .3-3.6 .4 1.9 .3 1.9 .4 4.1 .3-8 .4 .8 .3 4.6 .4-1.4 .3-5.3 .4 6.4 .3 5.9 .4-5.4 .3 8.4 .4-8.4 .3-3.2 .4 3.9 .3-2.3 .4-5.4 .3 4 .4 7.5 .3-5.5 .4-2 .3 2.4 .4-.2 .3-4.7 .4 3.1 .3 3 .4-7.1 .3 4.5 .4-4.5 .3 2.5 .4 3.9 .3-3.2 .4 4 .3-1.3 .4-.9 .3-4.4 .4 3.2 .3 4.4 .4-3.3 .3-6.7 .4 5.8 .3-.3 .4 .2 .3-.5 .4 3.4 .3-2.7 .4 3.4 .3 3.3 .4-2.4 .3-2.3 .4-11.5 .3-1.2 .4 7.2 .3 3.2 .4-1.6 .3-2.4 .4 9.5 .3-6.1 .4-2.3 .3 2.7 .4 9.6 .3-7.9 .4 3.7 .3-9.8 .4 6.2 .3-3.1 .4 .2 .3 .6 .4 0 .3 2.8 .4-4.1 .3 1.3 .4-.2 .3 1.2 .4-.5 .3-7.3 .4 10.5 .3-2.7 .4-4.4 .3 3.4 .4 4.7 .3-.5 .4-4.9 .3-1.6 .4 9 .3-5 .4-.7 .3-1.8 .4 4.4 .3-6.6 .4 5.9 .3-.5 .4-2.6 .3-1.1 .4 2.3 .3-2.1 .4 .1 .3-1.3 .4 4.3 .3-6 .4 3.4 .3-.3 .4 10.7 .3-14.8 .4 4.8 .3-2.9 .4 9.2 .3-10.9 .4 9.3 .3-4.3 .4-3.9 .3 2.3 .4-1.2 .3 1.5 .4 3.2 .3-3.2 .4 10.4 .3-5.3 .4-7.5 .3-1.5 .4 5.2 .3-2.3 .4-1 .3 7.4 .4-5.1 .3-2.3 .4 2.1 .3-.1 .4 2.3 .3-3.2 .4 .5 .3-3.5 .4 6.9 .3 1.8 .4-15.7 .3 12.4 .4 6.5 .3-5 .4-1 .3-5.2 .4 12.8 .3-11.3 .4 4.5 .3-1.3 .4-1.7 .3 7 .4-.6 .3-7.6 .4 .1 .3 5 .4-5.2 .3 4.2 .4-6.3 .3 .2 .4 1.2 .3-.7 .4 1.1 .3-2.2 .4-.9 .3 2.4 .4-2.3 .3 1.9 .4 .3 .3 7 .4-7 .3 1.1 .4 4.9 .3-6 .4-1.5 .3 2.1 .4 2.6 .3-4.8 .4 3.5 .3-2.1 .4 .2 .3 .7 .4-1.2 .3-2.8 .4 .5 .3-4.7 .4 11.1 .3-3.3 .4 5.1 .3-7.7 .4 1.6 .3 0 .4-4.3 .3 4.1 .4 .2 .3-1.2 .4-.7 .3-1.3 .4-3.4 .3 6.1 .4-3.5 .3-2.7 .4 15.4 .3-5.7 .4-5.5 .3 .7 .4-2.6 .3 13.1 .4-12.1 .3 4.7 .4-1.4 .3-12.3 .4 2.3 .3 7.2 .4-8 .3 13.6 .4 2.9 .3-7.8 .4-2.4 .3-1.2 .4-1.5 .3 4.2 .4-4 .3 .8 .4 4.1 .3 2.1 .4-3.2 .3 6.3 .4-4.5 .3-3.6 .4-.7 .3-1.9 .4 5.4 .3-2.9 .4 4.1 .3-4.4 .4 4.1 .3-2.5 .4-1.5 .3 1.4 .4-.1 .3-9.2 .4 10 .3-7.7 .4 4.9 .3-.5 .4 2.3 .3-4.8 .4 4 .3 1 .4-3.8 .3 1.7 .4-1.2 .3 2.8 .4 2.2 .3-4.3 .4-10.8 .3 16.4 .4-5 .3-3.6 .4 5 .3-2.1 .4-2.8 .3 2.1 .4 2 .3-1.9 .4-2.5 .3-2.7 .4 5.9 .3 2.8 .4-2.9 .3 .7 .4 3.5 .3-1.7 .4 9.4 .3-6.9 .4 3.2 .3-6.2 .4 2.4 .3 8.4 .4-21.3 .3 10.6 .4 2.3 .3-4.2 .4-3.5 .3 6 .4-6 .3 2.8 .4-3.4 .3 8.9 .4-8.7 .3 12.6 .4-5 .3-1 .4-2.8 .3 3 .4-1.2 .3 6.1 .4-3.7 .3-9.7 .4 16 .3 4.5 .4 .1 .3-12.2 .4 1.9 .3 1.8 .4-6 .3 4.1 .4-.7 .3 5.2 .4-12.4 .3 14.5 .4-15.2 .3 15.4 .4-5.8 .3-2.5 .4 1.6 .3 7.7 .4-8.9 .3 5.9 .4 1.6 .3-5.9 .4 2.2 .3-.3 .4 6 .3-8.8 .4 2.2 .3 2.2 .4-4.7 .3 1.9 .4 4.3 .3-1.2 .4-.4 .3 3.6 .4-5.9 .3 7.5 .4-6.4 .3 6.7 .4-3.4 .3 .1 .4-.9 .3 1.8 .4-3.6 .3 3.3 .4-6 .3 5.4 .4 7.5 .3-.8 .4-9.6 .3 6.8 .4-4 .3-.9 .4-.4 .3 .6 .4 0 .3 7 .4-4.6 .3-5.4 .4 5.7 .3-1.8 .4 9.6 .3-11.8 .4 3.5 .3-1.8 .4-2.5 .3-1.8 .4 8.7 .3-14.5 .4 7.9 .3 1.8 .4-1.5 .3 1.9 .4-3.4 .3 5.4 .4-1.9 .3 .4 .4 7.7 .3-11.9 .4 2.9 .3-3.2 .4 1.8 .3 1.5 .4 2 .3-5.1 .4 5.7 .3-1.1 .4-2 .3 4.1 .4-4.6 .3 10.2 .4-2.1 .3-8.4 .4 7.6 .3-4.9 .4-2.2 .3 .5 .4 1.7 .3 4.4 .4-3.1 .3 1.6 .4-8.7 .3-10.8 .4 5.5 .3 1.8 .4-5.6 .3 3.8 .4-6.2 .3 1.2 .4-1.7 .3 5.2 .4-7.4 .3-6.3 .4 5.2 .3 2.5 .4-6.7 .3-15.3 .4 13.6 .3-9 .4 3.9 .3-2.6 .4-4.8 .3-11.1 .4 2.5 .3-6.8 .4 5.1 .3-13 .4 4.4 .3 .6 .4-.4 .3-6.4 .4-8.1 .3 10.4 .4-9.3 .3 .3 .4-15.2 .3 10.6 .4 9.6 .3-6.4 .4-.1 .3-.7 .4-3.9 .3 4 .4 14.7 .3-12.2 .4 9.7 .3-.4 .4 5.4 .3-4.6 .4 1.1 .3 8.3 .4-.5 .3 7.5 .4 11.2 .3-15.3 .4 3.4 .3-.4 .4 3.5 .3-1 .4 4.1 .3-1.2 .4 1.7 .3 4.8 .4 .5 .3-7.3 .4 1.8 .3 3.1 .4-.3 .3-8.5 .4 11.6 .3 1.1 .4-3 .3-3.8 .4 6.6 .3-8.1 .4 .2 .3 7.7 .4-.7 .3 12.5 .4-13.6 .3-.8 .4 2.2 .3 6.3 .4-2.5 .3-12.9 .4 7.4 .3 12.3 .4-6.8 .3-.7 .4-5.2 .3 3.8 .4-7.8 .3 14.8 .4 2.8 .3-5.9 .4 2.8 .3-6.6 .4 2.5 .3 3 .4 .8 .3-.4 .4-5.9 .3 12 .4-8.3 .3 3.9 .4 2.8 .3-8 .4 4.2 .3 1.3 .4 10.5 .3-9.2 .4-1.9 .3 2.2 .4-1.2 .3-4.6 .4 2.3 .3 3.7 .4 .7 .3-1.5 .4-1.4 .3-4.6 .4 9.2 .3-4.8 .4 4.8 .3 5.1 .4-3.2 .3-2.4 .4-7.3 .3 8.7 .4 8.7 .3-11.4 .4 5.2 .3-3 .4 2.5 .3-.5 .4-3.2 .3 1.6 .4-4.7 .3 .9 .4 2.9 .3 3.6 .4-2.2 .3 4.9 .4-2.5 .3 4.5 .4-2.7 .3-2.8 .4-4 .3 4.8 .4 .4 .3-4.4 .4 1.1 .3 13.8 .4-6.6 .3-4 .4-7.4 .3 6.9 .4 2.4 .3 8 .4-17 .3 10.9 .4 5.9 .3 .6 .4-7.1 .3 2.1 .4-1 .3-10.9 .4 8.1 .3 8.2 .4-10.9 .3 1.5 .4 4.3 .3 3.9 .4-5.4 .3 1.7 .4 8.7 .3-5.9 .4-13.6 .3 11.7 .4-5.7 .3 11.6 .4-5.3 .3 3.3 .4-4.9 .3-6.1 .4 3.7 .3-2.6 .4 7.4 .3 2.1 .4-4.4 .3 3.6 .4-5.6 .3 2.1 .4-.1 .3 .5 .4-8.1 .3 5.1 .4-1.3 .3 5.6 .4-1.1 .3 10.5 .4-9.3 .3-3.5 .4-1.9 .3 5.9 .4 1.7 .3-6.8 .4 4 .3 7.2 .4-2.4 .3-9.1 .4 4.4 .3 4 .4-3.2 .3-10 .4 8.3 .3-.6 .4 .6 .3 10.1 .4-6 .3 7.4 .4-7.7 .3 5.5 .4-8.5 .3 6.6 .4-5.7 .3 2.5 .4-5.4 .3 6.7 .4-4.7 .3 6.9 .4-7.6 .3 .8 .4 .7 .3 4.2 .4-2.4 .3-3.7 .4 1.9 .3 3.5 .4 .9 .3-2.4 .4-3.1 .3 6.6 .4-6.2 .3 2.6 .4 .9 .3-1.3 .4-7.9 .3 4 .4 4.9 .3-1.3 .4 2.3 .3-1.9 .4-.1 .3 2.8 .4 1.4 .3-7.2 .4 4.8 .3 4.5 .4-11.9 .3 3.8 .4 .7 .3 .1 .4 3.4 .3-14.1 .4 4.4 .3 8.3 .4-4.2 .3 1.5 .4-3.3 .3 10.8 .4-7.3 .3-5.7 .4 10.6 .3-4.3 .4-2.5 .3-3 .4-3.2 .3 12 .4-8 .3 1.8 .4 2.7 .3-6.2 .4 7.5 .3-.7 .4 .1 .3-2.1 .4-.6 .3 3.9 .4 7.1 .3-8.8 .4 4.5 .3-8.4 .4 5.5 .3-4.4 .4 .5 .3-6.4 .4 14.1 .3-9.5 .4 1.2 .3 1.2 .4 .6 .3 3.3 .4-8.1 .3-.4 .4 3.3 .3 6.5 .4-1.1 .3 1.5 .4-4.5 .3-10.4 .4 11 .3-2.4 .4-2.2 .3 2.4 .4 3.2 .3-1.2 .4 1.3 .3-1 .4-.3 .3-.2 .4 1.9 .3-.9 .4-.2 .3-2.3 .4-1.3 .3 4.8 .4-1.5 .3 1.2 .4-3.4 .3-8.5 .4 12.2 .3-5.6 .4 5.2 .3-8.5 .4 1.7 .3 .5 .4 .6 .3 6.5 .4-11.6 .3 7.3 .4 1.7 .3-.1 .4 1.1 .3-1.1 .4-4 .3-1.6 .4 7.7 .3-4 .4-1.9 .3 1.9 .4-2.4 .3 6.2 .4-4.7 .3 3 .4-1.1 .3 1.1 .4 5.1 .3-5.7 .4-3.7 .3 5.1 .4-2.8 .3-.4 .4 4.8 .3-5.2 .4 .7 .3 1.1 .4 2.7 .3 0 .4-3 .3-9.6 .4 0 .3 5.9 .4 14.6 .3-10.7 .4 .4 .3 1.5 .4-1.6 .3-3.2 .4 4.8 .3-4.5 .4 1.8 .3-7.8 .4 9.8 .3 1.8 .4-3.9 .3-5.4 .4 5.5 .3-2.2 .4 .7 .3 3.6 .4-.3 .3-.2 .4-1.2 .3 1.1 .4-.8 .3-.6 .4-4.4 .3 9.1 .4-4.8 .3 4.2 .4 .9 .3-5 .4 1.7 .3-.9 .4 2.6 .3 7.5 .4-20.6 .3 14.1 .4-6.1 .3-.3 .4 4 .3-3.7 .4 2.1 .3-3.8 .4-6.5 .3 10.2 .4-3.3 .3 8.3 .4-13.4 .3 4.1 .4 10.1 .3-7.8 .4 2.7 .3-8.5 .4 9.1 .3-1.4 .4 2.9 .3-1.5 .4-.4 .3-1.3 .4 .6 .3 1.8 .4-3.2 .3 2 .4-5.1 .3 7.7 .4-3.1 .3-4.3 .4 1.2 .3 1.1 .4-4.4 .3 5.4 .4 .2 .3 .2 .4-1 .3-2.1 .4 4.6 .3-2.3 .4-10 .3 12.3 .4-9.4 .3 8 .4-.5 .3 5 .4-.4 .3-5.9 .4 1.4 .3-4.5 .4 4.2 .3-1.8 .4 1 .3-.3 .4 5.8 .3-4.6 .4 2.8 .3-3.8 .4-.7 .3 8.1 .4-8.4 .3-5.6 .4 4.5 .3 4.2 .4-2.3 .3 2.7 .4-1 .3 3.3 .4-8.2 .3 7.6 .4-7.1 .3 2.4 .4 6.4 .3-7.3 .4 1.7 .3-1.5 .4-3.5 .3 4.4 .4-6.2 .3-.8 .4 6.5 .3-.9 .4 4.2 .3-3.2 .4-1.1 .3-.9 .4 6.4 .3-2 .4-2.2 .3-4.4 .4 4.1 .3-6.5 .4 2 .3 3.2 .4-5.3 .3-.1 .4 6.3 .3 2.3 .4-5 .3 5.4 .4-7 .3 3.1 .4-.6 .3 3.2 .4-2.1 .3-.1 .4-5.9 .3 2.3 .4 1 .3 3.3 .4 2.2 .3 1.5 .4-2.1 .3-.5 .4 .1 .3-2.3 .4-7.8 .3 2 .4-1.8 .3 7.6 .4-.2 .3-5.1 .4 1.6 .3-2.1 .4 7.1 .3-1.2 .4-1.1 .3-.9 .4-.8 .3-.5 .4-3.7 .3 3.8 .4 .3 .3 .4 .4-6.5 .3 10.6 .4-4.1 .3-.3 .4-3.4 .3 1.9 .4 .7 .3-3.8 .4 3.8 .3-.7 .4 1.7 .3-2.3 .4 1 .3 5.2 .4-5.8 .3-11.8 .4 4.3 .3 5.2 .4 .2 .3 1 .4-1.4 .3-.1 .4-5.8 .3 9.2 .4-3.3 .3 5.9 .4-1.2 .3 2.5 .4-6.7 .3-7.8 .4 5.8 .3 .5 .4-2.4 .3-5.9 .4 9.8 .3 .4 .4-5.7 .3-7.8 .4 12.4 .3-.6 .4-5.4 .3 .6 .4 .7 .3 3.3 .4 2.7 .3-.9 .4-6.4 .3 1.7 .4 1.3 .3 .6 .4-3.4 .3 1.1 .4 1.6 .3 .2 .4 .9 .3-1.9 .4-9.7 .3 6.7 .4 2.5 .3-2 .4 11.8 .3-12.7 .4 6.1 .3-7 .4 5 .3-1 .4 9.2 .3-9.8 .4 4.5 .3-1.7 .4-5.5 .3 1.2 .4-5.4 .3 2.1 .4 7 .3-7.4 .4 1.3 .3-1.8 .4 6 .3-6.9 .4 4.2 .3-4.2 .4 7 .3-7.6 .4 4.4 .3 6.8 .4-6.5 .3-1 .4 1.4 .3-2.7 .4-4.4 .3 6.5 .4 2.4 .3-6.7 .4 1.8 .3 3.6 .4-5.6 .3 .4 .4 0 .3-2.7 .4 8.9 .3-4.2 .4 .1 .3 1 .4 1.6 .3-4.1 .4 8.4 .3-19.9 .4 8.8 .3-1 .4 3.8 .3 1.5 .4 1.3 .3 7.2 .4-4.8 .3-6.3 .4 .1 .3 .2 .4-11.5 .3 11.1 .4 1.9 .3-8.5 .4 5.1 .3-2.2 .4-1.1 .3 3.9 .4 1.1 .3-4.1 .4 5.8 .3 .2 .4 10.1 .3-9.3 .4-11.9 .3 6.2 .4 10.2 .3-9.4 .4 1.1 .3 2.7 .4 3.3 .3-2.9 .4-9.4 .3 9 .4 9 .3-10.2 .4 4.2 .3-2.9 .4-5.4 .3 6.2 .4 1.2 .3 4.3 .4-7 .3 7.7 .4-8.3 .3 2.9 .4 1.1 .3 8.5 .4-8.6 .3-.1 .4-6.8 .3 6.1 .4 3.6 .3 1 .4-2.1 .3 7 .4-14.5 .3 9.6 .4-1.6 .3 1.1 .4-1.1 .3-2.5 .4 .5 .3-1.2 .4 5.8 .3 10.4 .4-14.4 .3 8.6 .4-2.9 .3-2.7 .4-1.8 .3 .9 .4 12.1 .3-8.1 .4 10.5 .3-12.6 .4-1.8 .3 4.6 .4-5.4 .3 5.4 .4 .6 .3 7.2 .4-5.2 .3-12.1 .4 3.2 .3-2.6 .4 11.3 .3 .5 .4 .1 .3 4.3 .4-6.7 .3 3.1 .4 4 .3-2.1 .4-2.2 .3-5 .4 1.1 .3 13.4 .4-11.4 .3-3.5 .4 10.6 .3-1.9 .4-.4 .3 1.6 .4-3 .3 1.6 .4-.6 .3-1.4 .4 5 .3-1.9 .4 .3 .3 1.5 .4 .8 .3 1.5 .4-.7 .3-2.8 .4-3.7 .3 6.4 .4-3.2 .3 2.2 .4 4.9 .3-10.3 .4 5.7 .3-1.5 .4 2.6 .3 .3 .4-2 .3 8.3 .4-5.6 .3-4.3 .4 6.6 .3-1.3 .4-1.9 .3 3.1 .4-.1 .3-3.2 .4 6.1 .3-4 .4-7.3 .3 3.4 .4-6.7 .3 10.6 .4-5.3 .3 4.1 .4 .2 .3-6.3 .4 16.7 .3-4.2 .4 4.2 .3-11.4 .4-.6 .3-2.2 .4 14.2 .3-8.1 .4-6.2 .3-6.5 .4 13.5 .3-4.9 .4 .9 .3 3.3 .4 .3 .3-2.5 .4 3.5 .3-3.9 .4-.3 .3 1.3 .4-.7 .3-1.9 .4 3.8 .3-.7 .4-4.7 .3 3.8 .4-.3 .3 .2 .4 .1 .3 1 .4-1.7 .3 .4 .4 4.5 .3-11.1 .4 8.5 .3-8.4 .4-3.2 .3 13.7 .4-8.4 .3-1.5 .4 8.7 .3-4.1 .4 .9 .3 .9 .4-.6 .3 1.8 .4-2.2 .3 2.9 .4-3.8 .3-2.9 .4 6.5 .3 4.3 .4-3.1 .3-9 .4 5.3 .3 1.2 .4-.5 .3 2.6 .4 7.4 .3-9.6 .4 3.4 .3-5.3 .4 1.2 .3 4.4 .4-7.1 .3 2.9 .4 .5 .3-2.4 .4 3.5 .3 .1 .4-1.4 .3-3.3 .4 .5 .3 2.4 .4-2.7 .3 4 .4 .3 .3-7 .4 6 .3 .5 .4-.2 .3 1.4 .4-1.2 .3-5.1 .4 1 .3 2.1 .4 .1 .3-6.3 .4 .9 .3-4.9 .4 5.6 .3 1.4 .4-10.3 .3 11.6 .4-3.9 .3 1.8 .4 1.6 .3 6.4 .4-4.9 .3 4.2 .4 8.1 .3-9 .4 .1 .3 .2 .4-.7 .3-9.7 .4 8.9 .3-.1 .4-1.8 .3 4.8 .4-4.4 .3 .3 .4-2 .3 4.1 .4 .8 .3 6.5 .4-10.7 .3 7.2 .4-4.1 .3 5.7 .4-3.9 .3 1.8 .4 .2 .3 1.7 .4 1.5 .3-3.4 .4 0 .3-1 .4 .5 .3 5.4 .4-6.3 .3 2.5 .4-1.6 .3 4.1 .4-3.9 .3-1.5 .4 2.3 .3 .8 .4-3.1 .3-2.7 .4 4.4 .3-4.3 .4 8.5 .3-3.6 .4 2.5 .3 2.7 .4-3.5 .3 4.1 .4-4.2 .3-6 .4 6.2 .3-.8 .4-.1 .3 .9 .4 4 .3-1.4 .4-.1 .3-5 .4 4.8 .3 .3 .4-4.4 .3 9 .4-7.3 .3 4.5 .4-3.7 .3-.1 .4 1.4 .3 1 .4-3.9 .3 3.3 .4-5.5 .3 1.8 .4 1.5 .3-9.4 .4 13.5 .3-3.2 .4-2.8 .3 3.7 .4-2.5 .3-1.4 .4 2.1 .3-1.2 .4 0 .3 7.6 .4-11.1 .3 5.9 .4 .1 .3-.1 .4 7.8 .3-16.6 .4 11.2 .3-8.5 .4 .9 .3 4.5 .4 .8 .3 .1 .4-1.8 .3 10.9 .4-5.9 .3-3.1 .4 6.2 .3-8.3 .4 6 .3-4.9 .4-9.8 .3 15.8 .4-7.8 .3-2 .4 1.6 .3 4.3 .4-.2 .3 2.1 .4-6 .3-.3 .4 8.6 .3-8.3 .4-2.6 .3 7.2 .4-5.5 .3 3.8 .4-2.6 .3 2.8 .4-1.9 .3 3.6 .4-5.1 .3-6.5 .4 7.4 .3-5.8 .4 4.4 .3 .1 .4 0 .3-.7 .4 1.3 .3 2.6 .4-7.1 .3 8.6 .4-6.9 .3 6.2 .4-.8 .3-1.7 .4-.4 .3-5.9 .4 12.3 .3-5.3 .4-3.3 .3-1 .4 8.8 .3-5.1 .4 2.2 .3-.6 .4-10 .3 11.4 .4-3 .3-1.3 .4 .1 .3-.2 .4 3.7 .3-5.6 .4-4.2 .3 2.6 .4 4.4 .3-2.5 .4-.3 .3 6.2 .4-6.3 .3-6.4 .4 4.4 .3 0 .4 9.4 .3-14.3 .4 5.2 .3 0 .4-7.1 .3 10.4 .4-9.7 .3-4.8 .4 11.4 .3 1.7 .4-9.4 .3-3.2 .4-5.8 .3 13.3 .4-7.5 .3 9.1 .4-9.8 .3 1.1 .4-3.6 .3-1 .4 .8 .3-9.8 .4 7.3 .3 1.3 .4-4.4 .3-1.2 .4 1.8 .3-.9 .4 3.7 .3-7.3 .4 8.5 .3-8.4 .4 1.2 .3 2.5 .4-1.7 .3-.6 .4-6.1 .3 1.1 .4 9.6 .3 7.7 .4-4.6 .3-7.2 .4-3.5 .3 2.7 .4 1.2 .3-1.4 .4 1.4 .3-1.6 .4 2.7 .3 1.7 .4-2 .3-.9 .4 6.6 .3-6.5 .4-7.8 .3 18.2 .4-5.1 .3-9.5 .4 .5 .3 10.5 .4-7.3 .3 3.5 .4-.4 .3 1.6 .4-4.6 .3 4.7 .4-3.1 .3-1.1 .4 .7 .3 6.7 .4-7 .3 6.5 .4-3.1 .3-2.7 .4-4 .3 9.4 .4-9.1 .3 12.9 .4-8.6 .3 9 .4-17.3 .3 3.7 .4 11.6 .3-7.4 .4 .1 .3 3 .4 .3 .3-3.1 .4 7.7 .3-9.8 .4 1.3 .3 14 .4-10 .3-5.6 .4 .9 .3 3.8 .4 .5 .3 5.6 .4-5.4 .3 .2 .4 .5 .3-.9 .4 .7 .3 5.7 .4-.6 .3-3.9 .4-5.4 .3 7.1 .4-3.1 .3 5.2 .4-2.4 .3-1.2 .4-2 .3 2.3 .4 6.7 .3-5.2 .4-2.7 .3 2.1 .4-2.8 .3 0 .4 3.2 .3 3 .4-2.5 .3-3.2 .4-1 .3 5.4 .4-4.9 .3 4.3 .4 .4 .3-13.2 .4 21.9 .3 .1 .4-13.7 .3 1.8 .4 7.4 .3-8.1 .4 1.4 .3-3.7 .4 8.2 .3-4.4 .4 6.8 .3 4.9 .4-10.5 .3-1.3 .4-4.6 .3 8.5 .4 6.8 .3-16.5 .4 10.3 .3-5.4 .4 2.2 .3-.7 .4 1.5 .3-1.5 .4 6.3 .3-12.9 .4 8.7 .3 .6 .4 6.4 .3-6.9 .4-1 .3-2.4 .4 1.6 .3 4.4 .4-13.6 .3 15.1 .4-.6 .3-3.6 .4 3.4 .3-5.1 .4-1 .3 5.4 .4-.4 .3-2.8 .4 2.9 .3-5.7 .4-3.2 .3 10.8 .4-3.3 .3 2.4 .4-1.9 .3-.3 .4 5.8 .3 1.1 .4-6.5 .3-.9 .4 .1 .3 4.2 .4-4.1 .3 1.3 .4-7.3 .3 5.6 .4 6.2 .3 2.1 .4 5 .3-12.6 .4 2.8 .3 .1 .4 3.8 .3-4.5 .4 5.5 .3-6.4 .4 1.4 .3-1.9 .4-1.3 .3 5.7 .4 1.2 .3-2.6 .4 3.1 .3-1.8 .4 2.5 .3-3.2 .4-.9 .3 3.2 .4-3.9 .3 4.9 .4 .7 .3-5 .4 3.8 .3-1.1 .4 4 .3-9.7 .4 3 .3 1.4 .4 4.9 .3-5.4 .4 1.1 .3 1.5 .4 3 .3-.6 .4-8 .3 5.3 .4 6 .3-5.7 .4-2.1 .3-1.1 .4 3.5 .3 1.6 .4 7 .3-3.4 .4 .9 .3-8.3 .4-.6 .3 2.8 .4 2.8 .3-1.6 .4 4.2 .3-3.4 .4 10.2 .3-9.4 .4-1.5 .3 .4 .4 3.2 .3-2.9 .4-.1 .3-2.8 .4 5.8 .3-2.5 .4-3.6 .3 3.8 .4 1.5 .3 1.7 .4 4.3 .3-9.6 .4 3 .3-1.9 .4 .9 .3 1.5 .4 .9 .3-10.1 .4 4.2 .3 7.7 .4-3.6 .3-7 .4 8.1 .3-.4 .4-1 .3 7 .4-2.6 .3-2.8 .4 3 .3 1.8 .4-6.3 .3-1.7 .4 2.7 .3 1.6 .4 4.7 .3-3.1 .4-.6 .3-1.7 .4 1.7 .3-2.4 .4-9.1 .3 7.1 .4 3.1 .3-.6 .4 5.3 .3-2.4 .4 .3 .3-4.1 .4 3.4 .3-3.9 .4 4.3 .3-5.7 .4 1.1 .3-2.4 .4 5.4 .3 .4 .4 4.2 .3-5.9 .4 .1 .3-.7 .4 3.9 .3-3.4 .4 3.1 .3-.9 .4-1.1 .3-.6 .4 4 .3 2.6 .4-6.7 .3 1.9 .4 4.1 .3-7 .4-2.5 .3 7.5 .4-3.4 .3 2.1 .4 6.2 .3-8.8 .4 2 .3-1.5 .4 7.1 .3-7.3 .4 .4 .3 2.1 .4-3.8 .3 5.4 .4-5.5 .3 3.5 .4 1.6 .3-12.2 .4 8.4 .3 .3 .4 3.5 .3-3.8 .4 2.1 .3-4.4 .4 2 .3 1.7 .4-5.1 .3-.2 .4-1.8 .3 2.6 .4 .5 .3 .8 .4 1.3 .3-4.9 .4 3.3 .3-1 .4 2.9 .3-.3 .4 1.8 .3-.3 .4-4 .3 2.8 .4-2.4 .3 .6 .4 1.4 .3-1.9 .4 4.1 .3-9.8 .4 11.7 .3-5.9 .4 .9 .3-6.2 .4 4.2 .3-5.3 .4 10.2 .3-5.5 .4 9.8 .3-5.3 .4-5.9 .3-8.2 .4 7.4 .3-3 .4 11.5 .3-8.7 .4 6.2 .3-8.2 .4 4.7 .3-6.5 .4 4.4 .3-.3 .4 1.5 .3 2 .4 6.1 .3-3.1 .4-5.6 .3 2.5 .4-.3 .3 6.8 .4-9.3 .3 2.3 .4-1.9 .3 11 .4-10.7 .3 2.1 .4-6.3 .3 9 .4-3.1 .3-5.2 .4 5.7 .3-5.8 .4 4.6 .3 5.8 .4-7.1 .3 .7 .4 2.1 .3-7.1 .4-.1 .3 1.4 .4 14.2 .3-6.7 .4-.4 .3-2.5 .4 1.6 .3-1.6 .4 4.4 .3-.7 .4-6.3 .3 2.8 .4 1.5 .3 3.3 .4-5.9 .3 7.4 .4-1.1 .3-5.9 .4 4.3 .3 4.9 .4-.2 .3-1.9 .4-7.9 .3 10.2 .4-6.8 .3-3.2 .4-2.3 .3 7.9 .4-1.4 .3 .1 .4-2.3 .3 3.3 .4 1 .3-2.1 .4-3.9 .3-1.4 .4 6.3 .3-3.4 .4-4.6 .3 10.6 .4-11.7 .3 8.2 .4 2.4 .3-4.6 .4-.6 .3 2.3 .4 0 .3-3.8 .4 5.5 .3 10 .4-5.1 .3-3.4 .4-3.3 .3 6 .4-12 .3 7.9 .4 1.2 .3 1.5 .4 3.8 .3-5.6 .4-.3 .3 1.8 .4 2.7 .3-8.3 .4 6.3 .3 0 .4-2.9 .3 4.2 .4-.4 .3-7.9 .4 11.9 .3-7.7 .4-4.1 .3 3.4 .4 11.3 .3-11.4 .4 8.6 .3-7.4 .4-1.4 .3 4.8 .4-5.2 .3 3.4 .4-7.2 .3 3.1 .4 2.9 .3-1.6 .4-9 .3 9.6 .4 1.9 .3 1 .4 1.7 .3-8.7 .4 7.6 .3-2.6 .4 2 .3-2.8 .4 .2 .3 5.3 .4-3.6 .3-.3 .4 2 .3-3.6 .4 4.8 .3-2.2 .4 1.4 .3 4.1 .4-5.5 .3 .1 .4 1.4 .3-2 .4 3.4 .3-4.5 .4-1.6 .3 .2 .4 7 .3-6.7 .4-2.6 .3 3.5 .4 1.3 .3 1.4 .4-6.7 .3 4.5 .4 2.7 .3-2.7 .4-1.6 .3 7.1 .4-6.1 .3-2.9 .4 3.8 .3 .9 .4 .9 .3-.5 .4 .5 .3-2 .4 1.7 .3 1 .4 .6 .3-1 .4-3.8 .3 3.5 .4 1.1 .3 4.8 .4-3.2 .3-14.4 .4 18.8 .3-8.9 .4 .7 .3-4.3 .4 3.3 .3-3 .4 3.1 .3-1.1 .4-.7 .3 1.8 .4 4.7 .3-3.9 .4-1.4 .3-4.2 .4 4.4 .3 8.6 .4-1.2 .3-2.2 .4-.5 .3 .8 .4-14.2 .3 15.1 .4-.9 .3-6.7 .4 8.4 .3-4.3 .4-3.5 .3 6.2 .4-9.9 .3 6.9 .4-1.2 .3 .9 .4 4.1 .3-4.3 .4 2.1 .3-6.1 .4 10.8 .3-7.3 .4-4.6 .3 2.3 .4 7.9 .3-15.3 .4 16.6 .3-3.9 .4-3.6 .3 5.8 .4-9.2 .3 6.8 .4-3.8 .3 3.6 .4-8.9 .3 9.2 .4-1.6 .3 3.1 .4-3.2 .3 2.5 .4-3.7 .3 4.4 .4 1.7 .3-11.8 .4 8.1 .3-2.9 .4 6.7 .3 1.8 .4-5.6 .3-2.7 .4 3.9 .3-.8 .4-4.6 .3 1.9 .4-4.2 .3 5.1 .4-1.8 .3 1.1 .4 .6 .3 2.7 .4 .7 .3-4.7 .4-.8 .3 3.5 .4 .1 .3-1.3 .4 3.2 .3-4.8 .4 6.9 .3-4.5 .4 1.7 .3-3.6 .4-4.4 .3 7.3 .4-2.1 .3 .6 .4 2.6 .3-2.7 .4 2.9 .3-4.2 .4 1.7 .3-.8 .4-2 .3 3.2 .4-.4 .3 1 .4-.6 .3-1.8 .4-.8 .3 2.5 .4-.1 .3-2.4 .4 1.8 .3-7.4 .4 2.8 .3 .5 .4 2 .3 3.7 .4 .4 .3 1.1 .4-2.7 .3 1.4 .4-.5 .3-4.1 .4 1.8 .3 6.6 .4-13.1 .3 2 .4 6.4 .3-.3 .4 .9 .3-1.5 .4 2.3 .3-2.5 .4 .7 .3 1.4 .4 3.4 .3-7.3 .4 2.1 .3-.1 .4-5.5 .3 10.7 .4-2.8 .3-2.6 .4-.9 .3-.6 .4 1.9 .3-1 .4 1.5 .3 0 .4 .3 .3 2.4 .4-.7 .3-6.2 .4-.1 .3 5 .4-.9 .3-10.2 .4 8.8 .3-1.4 .4 3.1 .3-2.6 .4 8.4 .3-1.4 .4-14.9 .3 11.5 .4 3.5 .3-6 .4 8.4 .3-10.2 .4-.1 .3-.4 .4 2.5 .3 1.9 .4 1.7 .3-7.5 .4-1 .3 2.7 .4 7.9 .3 5.7 .4-8.1 .3-7 .4 1.1 .3 3.1 .4 1.6 .3 .4 .4-.1 .3-4 .4 6.2 .3-.9 .4-3.5 .3-.2 .4-3.5 .3 2.8 .4-.7 .3 2.2 .4 .9 .3 5 .4-6.2 .3-1 .4 5.1 .3-7.5 .4 1.8 .3 3.5 .4-.1 .3-1 .4-1.5 .3-2.1 .4-2.4 .3 7 .4-.4 .3-.4 .4 .1 .3 4.3 .4 3.9 .3-9.4 .4-1.5 .3-.6 .4 0 .3 10.5 .4-7.9 .3-2.5 .4 .3 .3 3.5 .4-1.2 .3 1.9 .4 7.4 .3-10.3 .4 6.4 .3-7.4 .4 0 .3 11.1 .4-7.3 .3 .2 .4 3.2 .3-5.2 .4 0 .3-2.4 .4 2.6 .3 .5 .4 .1 .3-1.8 .4-2.3 .3 2.1 .4-4.1 .3-1.4 .4 2.8 .3-5.3 .4 13.2 .3-9.9 .4 4.1 .3 6.3 .4-6.8 .3 3 .4 2.9 .3-4.1 .4 2.3 .3-.3 .4-4.5 .3 7.5 .4-3.2 .3-4.4 .4 6.8 .3-.9 .4 2 .3-3.9 .4 1.2 .3-5.5 .4 7.7 .3-8.3 .4 4.2 .3-1 .4 1.7 .3 9.1 .4-3 .3-8.8 .4 4 .3 .3 .4-12.7 .3 14 .4-3.4 .3 0 .4-2.4 .3 2.4 .4-.5 .3-9.8 .4 6.8 .3 8.2 .4-6.7 .3 6.5 .4-4.5 .3 1.5 .4-9.7 .3 2.5 .4-.2 .3 6.9 .4-1.9 .3-3.4 .4 7.2 .3-3.8 .4 1.5 .3 .5 .4-.4 .3-.6 .4-9.5 .3 7.4 .4 4.2 .3-.4 .4 6.8 .3-18.3 .4 7.8 .3-1.3 .4 6.8 .3-1.6 .4 1.9 .3-5.3 .4 6.2 .3-10.7 .4 2.1 .3 2.8 .4 3.4 .3-.6 .4-5.2 .3-.1 .4 6.9 .3-2.7 .4-4.6 .3-5.4 .4 6.7 .3 0 .4 7.5 .3-6.3 .4 8.3 .3-5.7 .4 1.2 .3-6.1 .4 2.6 .3 .3 .4-2.2 .3 4.3 .4-2.7 .3 .3 .4 1.4 .3 2.6 .4 5.3 .3-9.3 .4 9.6 .3-6.5 .4-6.9 .3 4.5 .4 5.4 .3-7.9 .4 3.4 .3 .1 .4-2 .3 4.9 .4-1.2 .3-2.9 .4 8.4 .3-4.2 .4 2.5 .3 3.2 .4-7.9 .3 .2 .4 1.3 .3-7.4 .4 10.2 .3 .9 .4-1.9 .3-2.2 .4 3.6 .3-2 .4 2.6 .3-2.9 .4-1.7 .3 .3 .4 2.2 .3-5.6 .4 8.2 .3 1.8 .4-1.6 .3-4.4 .4-10.5 .3 14.7 .4-6.9 .3-7.8 .4 10.2 .3 5.5 .4-4.5 .3-2.8 .4-2 .3 4.5 .4-1.4 .3-2.2 .4 1.6 .3 5.2 .4-2.8 .3-1.1 .4-2.9 .3 2.8 .4-5 .3 7.5 .4-.3 .3-3 .4 1.2 .3 .3 .4-1.2 .3 7.8 .4-7.7 .3 5 .4 3.9 .3-8.2 .4-4.8 .3 6.7 .4-1.6 .3 .4 .4 6.6 .3-11.6 .4 9.8 .3-5.3 .4-2.4 .3 .5 .4 .5 .3 1.9 .4 6.3 .3-5 .4-1.1 .3 3.7 .4-3.9 .3-2.9 .4 1.8 .3 8.5 .4-5 .3-2.2 .4 6.4 .3-9.3 .4 7.8 .3 .2 .4-6.4 .3 .8 .4-1.7 .3-4.9 .4 5 .3 6.9 .4-9.3 .3 3.4 .4 .7 .3-3.6 .4 1.6 .3 1 .4 2.1 .3 2.4 .4-5.4 .3 2 .4 .5 .3-.8 .4 2.5 .3 3.1 .4-6.8 .3 1 .4-6.1 .3-.8 .4 8.9 .3-3.1 .4 .6 .3 12 .4-10.7 .3 .8 .4-1.4 .3 4.8 .4-6.2 .3 .9 .4 1.8 .3 6.7 .4-7.6 .3 3.6 .4-3.1 .3 1.6 .4-4.7 .3 7.4 .4-2.6 .3-1.5 .4 4.5 .3-6.6 .4 1 .3 4.1 .4 3.1 .3 2.7 .4-8.4 .3 2.1 .4-1.7 .3-2.2 .4 10.2 .3-9.4 .4 4.1 .3-6.9 .4 1.4 .3-5.5 .4 6.4 .3-8.8 .4 10.2 .3 .9 .4 4.9 .3-3 .4 2.1 .3-3.8 .4 2.3 .3-4 .4 2.4 .3-2.6 .4 2.1 .3-1.7 .4 .9 .3 .2 .4 .3 .3-5.6 .4-.4 .3 7.7 .4-12.8 .3 10.1 .4-2.7 .3-.5 .4 2.9 .3-4.2 .4-.7 .3 6.5 .4 3.7 .3-1.9 .4 1.3 .3-4.9 .4 3.4 .3-8.5 .4 3.7 .3 1.7 .4 .8 .3 .1 .4 7 .3-4.3 .4-8 .3 12.8 .4-8.5 .3 3.4 .4-8.5 .3 11.1 .4-6 .3 1.8 .4-.2 .3-2.2 .4-.3 .3-2.3 .4 .2 .3 5.9 .4-1.7 .3 .5 .4 3.8 .3-13.2 .4 4.6 .3 6.1 .4 1.2 .3-3.9 .4 4.1 .3 .5 .4 1.3 .3-3.4 .4 3.3 .3-3.7 .4-4.6 .3 .1 .4 2.7 .3 .8 .4-6 .3 15.4 .4-12.7 .3 5.4 .4-7.2 .3-6.1 .4 9.1 .3 11.5 .4-13.4 .3-6.5 .4 9.6 .3 7.1 .4-5.7 .3-2 .4-3.1 .3 4.9 .4-1.2 .3 10.3 .4-9.7 .3-3.3 .4 5.5 .3 3.1 .4-2.3 .3-3.5 .4 6.3 .3-6.5 .4-1.5 .3-.6 .4-1.8 .3 13.4 .4-6.7 .3 5.7 .4-7.4 .3-2 .4 1 .3-1.1 .4-3.3 .3 3.2 .4-4.4 .3 7.8 .4-6.3 .3 3.3 .4 .9 .3 1.3 .4-3 .3 4.5 .4-5.4 .3 11.7 .4-1 .3-12.3 .4 4.6 .3-2.2 .4-.4 .3 1.3 .4 2.3 .3 4.5 .4 .9 .3-7 .4-.9 .3 2.9 .4 3.2 .3-3.7 .4 3.8 .3-15.5 .4 7.8 .3-4 .4 10.4 .3-5.3 .4 2.3 .3-1 .4 .4 .3-1 .4-2.7 .3 3.6 .4-3.9 .3 2.4 .4-6.4 .3 6.7 .4 .1 .3 10.7 .4-4.1 .3-4.7 .4-.6 .3 3.5 .4 4.9 .3-5.3 .4-.2 .3-3.2 .4 1.5 .3-2.5 .4 .1 .3 1.3 .4 .5 .3-3.7 .4 1.2 .3 .8 .4 1.6 .3-8.8 .4 7.4 .3 5 .4-5.2 .3 2.5 .4-2.5 .3 4 .4-4.9 .3 2.3 .4-2.6 .3-1.3 .4 3.9 .3 .3 .4 2.3 .3-6.4 .4 0 .3 5.4 .4-12.3 .3 8.5 .4 .1 .3-2 .4-.9 .3 5.3 .4-2.2 .3 11.3 .4-9.8 .3-2.1 .4 .6 .3 .9 .4 3.5 .3-2.7 .4-5.4 .3 6.6 .4-4.3 .3-1.6 .4 5.6 .3-2.3 .4 .2 .3 4.8 .4-11.3 .3 5.6 .4-1.2 .3-4.2 .4 8.4 .3-.6 .4-2.2 .3-1.2 .4 2 .3-3.3 .4 5.6 .3-9.8 .4 8.5 .3-1 .4-2.1 .3-2.1 .4 3.6 .3 1.5 .4-1.6 .3 2.4 .4-7.8 .3 5.5 .4 1.7 .3-5.9 .4 3 .3 2.3 .4-.1 .3 .2 .4-2.5 .3 1.5 .4-2.6 .3 0 .4-.8 .3 12.7 .4-19.9 .3 13.2 .4-4.4 .3 .2 .4 3.4 .3-3.2 .4 0 .3 .5 .4-2.2 .3 2 .4 2.9 .3-11.8 .4 7.1 .3-2.3 .4-.6 .3 8.5 .4-3 .3 9 .4-7.4 .3-5.8 .4 .7 .3 4 .4-1.9 .3-1.7 .4 1.4 .3-1.4 .4 7.3 .3-5.6 .4-4.4 .3 1.9 .4 2.5 .3 3.2 .4 .3 .3-2.8 .4-2 .3-2.7 .4-4.6 .3 10.9 .4-1.9 .3-1.4 .4-.2 .3 1.1 .4-.8 .3-9.9 .4 10.7 .3-.4 .4-3.1 .3 2.2 .4 7.5 .3-6.3 .4 0 .3-2 .4-.1 .3 5.3 .4 .8 .3-4.1 .4 .1 .3-.4 .4-1.5 .3-4.1 .4 4.3 .3-.4 .4 1.5 .3-1.4 .4-6.9 .3 2.9 .4 10.6 .3-7.1 .4 5.8 .3-10.3 .4 2.2 .3 2.2 .4-1.6 .3 .7 .4 3.2 .3 2.1 .4-4.9 .3-2.3 .4 .9 .3-1.5 .4 3.4 .3 2.8 .4-7 .3 1.9 .4-1.4 .3 2 .4-6.2 .3 6.6 .4-4.5 .3 4.8 .4-4.9 .3 .3 .4-3.6 .3 4.2 .4-1.7 .3-2.8 .4 3.4 .3-6.8 .4-3.1 .3 10 .4 .7 .3-2 .4 3.3 .3-10.8 .4 6.4 .3 2.5 .4 .6 .3 .8 .4-.2 .3-.6 .4 5.1 .3-6 .4-8.9 .3 10.8 .4-2.9 .3-.8 .4 2.9 .3 11.6 .4-11.2 .3 3 .4 1.4 .3-3.2 .4 5.2 .3-.6 .4-5 .3 .9 .4-1.1 .3 6.8 .4-10.3 .3 7.2 .4 6 .3-2 .4-5.7 .3 4 .4 3.4 .3-9 .4 1.3 .3-3.7 .4 1.7 .3 1.6 .4 2.5 .3-1.7 .4 3.4 .3-3.9 .4 10.4 .3 .4 .4-11.6 .3 2.4 .4 2.1 .3-.3 .4-1.9 .3-10.3 .4 9.7 .3 2.9 .4-4.2 .3-.3 .4 3 .3-2.1 .4 11 .3-8.1 .4-1.9 .3 .5 .4-1.2 .3 5.6 .4-3.8 .3 .8 .4-2 .3-8.1 .4-2.4 .3 10.2 .4-7.4 .3 13.7 .4-6.4 .3 .5 .4-3.1 .3 4.5 .4-1.4 .3-3.4 .4 2.9 .3-5.3 .4 8.5 .3-3.4 .4 1.8 .3-2 .4-.4 .3-7.2 .4 9.8 .3-.8 .4-2 .3 12.1 .4-9.9 .3 2 .4-4.8 .3-1.2 .4 5.4 .3-3.2 .4-.8 .3 12.6 .4-10.1 .3-.6 .4-5.9 .3 7.3 .4-.7 .3-4.3 .4 4.9 .3 0 .4 1.3 .3-1.3 .4-2.3 .3 4.1 .4-5.7 .3 11.2 .4-5.8 .3-3.5 .4 9 .3-2.9 .4-10.9 .3 5.5 .4-5.5 .3-3.9 .4 14.3 .3 3.7 .4-7 .3 .7 .4-.7 .3 .2 .4-.5 .3-1.1 .4-.6 .3-6.6 .4 5.8 .3-.2 .4 2.9 .3 2.2 .4-.4 .3-2.4 .4 .9 .3-8.8 .4 2.9 .3 8.9 .4-4.1 .3 .2 .4-.9 .3 2.7 .4-3.9 .3 2.7 .4-.5 .3-.2 .4-1.2 .3-1 .4-1.4 .3 7.2 .4-8.7 .3 3.2 .4 1.3 .3-9.3 .4 12.8 .3-2.9 .4-.7 .3-.1 .4 1.5 .3-.5 .4-3 .3 3 .4-1.3 .3 2.4 .4 .6 .3-5.8 .4-5.9 .3 8.8 .4 5.7 .3-14.4 .4 12.1 .3 7.4 .4-17.1 .3 3.5 .4 6.8 .3-1.2 .4-4 .3 2.7 .4 10.5 .3-18.3 .4 9.4 .3-.5 .4 1.8 .3-3.6 .4-5 .3 4.1 .4 .2 .3 5.2 .4-1.8 .3-8.1 .4 9.4 .3-2 .4-2.6 .3-3.8 .4 5.6 .3-5.5 .4-4.9 .3 7.3 .4 1.5 .3-1.8 .4-2.4 .3 7.3 .4-.8 .3-7.4 .4 6 .3 .8 .4 2.6 .3-2.7 .4 4.6 .3-.6 .4-3.4 .3 2.9 .4-1.5 .3-4.2 .4-5.4 .3 3 .4 6 .3-5 .4 3.9 .3 .2 .4-.6 .3 7.8 .4-3.6 .3-5.2 .4-3.3 .3 3.7 .4-1.5 .3 2.5 .4-3.2 .3 3 .4-.7 .3 .6 .4 .6 .3 9.8 .4-13 .3-3.5 .4 5.5 .3 3.2 .4 .9 .3-2.3 .4 3.6 .3 .7 .4-8.1 .3 6.4 .4 .4 .3-7.5 .4 5 .3-.4 .4 1.5 .3-3.7 .4 5.9 .3-8.7 .4 4 .3 10.9 .4 0 .3-11.5 .4 11.6 .3-10.8 .4 1.4 .3 1.5 .4-2.8 .3-3.9 .4 4.1 .3-1.6 .4-.4 .3 3 .4 1 .3-.5 .4 8.8 .3 .4 .4-8.5 .3 5.2 .4-16.5 .3 15.7 .4-6.6 .3 2.8 .4 5.7 .3-8.5 .4 .5 .3-10.3 .4 9 .3-4 .4 6.1 .3-3.4 .4 4.5 .3-4.5 .4 7.4 .3-8.3 .4 5 .3 1.5 .4-5.1 .3 11.9 .4-13.8 .3 8.1 .4-3 .3-4.8 .4 3.8 .3 4.2 .4-.9 .3-4.8 .4-5.1 .3 4.3 .4 10.5 .3-10.4 .4 3.7 .3 1.8 .4-3.3 .3 .4 .4 1 .3 1.1 .4 .1 .3 1.8 .4-5.2 .3-2.5 .4 1.7 .3 .5 .4 .9 .3-2.4 .4 0 .3 5.9 .4-2.7 .3 .3 .4 3 .3-7.7 .4 5.1 .3-.6 .4 1.3 .3-6.3 .4 8.7 .3-4.6 .4 2.1 .3-2.4 .4 5.1 .3-5 .4-6.6 .3 4.3 .4 4.4 .3 1.4 .4-3.3 .3-3 .4 3.7 .3 1.7 .4-1.1 .3 3.5 .4-4 .3 0 .4 3.1 .3-7.8 .4-1.4 .3 3.7 .4 6.4 .3-2 .4-.5 .3-2.8 .4 1.8 .3-2.2 .4-3.2 .3 3 .4-3.4 .3 8 .4-6.9 .3 6.5 .4 1.5 .3-4.6 .4 7.4 .3-10 .4 7.7 .3-3.7 .4 .9 .3-.6 .4-1.1 .3 4.3 .4-2.3 .3-4.4 .4 4.3 .3-1.1 .4 2.3 .3-.3 .4-2.2 .3 .8 .4-3.1 .3 1.3 .4 0 .3 5.5 .4-4.4 .3-.2 .4 0 .3-.3 .4-4.7 .3 4.8 .4-3 .3 6.5 .4 3.2 .3-6.4 .4 .9 .3-2 .4 6.4 .3-5 .4 3.2 .3-2.1 .4-.4 .3 2.9 .4-3.1 .3 1.2 .4 .7 .3-9.4 .4 5.5 .3-3.1 .4 4.7 .3-6.7 .4 10.6 .3-.4 .4-4.1 .3 2.9 .4-12.2 .3 14.4 .4-4.1 .3 1.3 .4-1.8 .3-2 .4-2.2 .3 7.2 .4-1.9 .3 3.4 .4-3.9 .3 1.3 .4-6.7 .3 9 .4-5.2 .3 2.5 .4-1.4 .3 2 .4-1 .3-10.8 .4 10 .3 9.7 .4-10.2 .3 .3 .4 4.7 .3-.3 .4-9.5 .3 6.2 .4 1.2 .3-9.5 .4 9.7 .3-2 .4-4.2 .3 8.5 .4-4.4 .3-2.4 .4 .1 .3 7.3 .4-2.9 .3-4.4 .4 5.6 .3-2.2 .4 1.9 .3 5.1 .4-10.5 .3 7.1 .4-5.3 .3 5.4 .4-.6 .3-6.9 .4 3.7 .3-1.9 .4-5.3 .3 5.9 .4-4.4 .3 3.5 .4-3.8 .3 3.8 .4 1.6 .3-8.3 .4 7.3 .3-3.8 .4 5 .3-1.4 .4-2.5 .3 3 .4-.3 .3-6 .4 5.6 .3 1.1 .4 .6 .3 1.5 .4-3 .3-3.5 .4 2.1 .3-4.5 .4 11.9 .3-3.2 .4 5.9 .3-20.9 .4 7.7 .3 6.9 .4-6.6 .3 4.3 .4-8.8 .3 7 .4 .2 .3-7.2 .4 2.1 .3 2.4 .4-1.2 .3 .8 .4 1.7 .3-6.4 .4-.6 .3 5 .4 2.7 .3 6.3 .4-7.8 .3-7 .4 2.1 .3 3.2 .4-4 .3-1.2 .4 5.3 .3-7 .4 5.2 .3 2.8 .4-7.5 .3 10.5 .4-7.4 .3-4.5 .4 1.2 .3-.4 .4 6.8 .3 .7 .4-6 .3-2.6 .4 3 .3-2.9 .4-1 .3 .8 .4-.3 .3 .7 .4-2.9 .3-4 .4 8.3 .3-11.9 .4 15.4 .3-13.8 .4 3.2 .3 3.9 .4-3.5 .3-4.8 .4-4.3 .3 12.6 .4-11.3 .3 7.2 .4-12.6 .3 8.1 .4 .9 .3-6.2 .4 14.5 .3-6.2 .4-8.9 .3-8.1 .4 13.1 .3-7.1 .4 5 .3-.3 .4 .3 .3-.9 .4 3 .3-3.5 .4 9.2 .3-8.6 .4 2 .3 1.6 .4 4.7 .3-.3 .4-3.9 .3 12.4 .4-2.8 .3 4.2 .4-2.5 .3-4.1 .4-5 .3 8.2 .4 7.5 .3-1.2 .4-6.4 .3 1.8 .4-.1 .3-2.5 .4 9.5 .3-6 .4-2.3 .3-.9 .4 6.8 .3 3.6 .4-1.8 .3-4.8 .4 1.9 .3 7 .4-8.1 .3 3 .4-.8 .3-2.7 .4 6 .3 .7 .4-2.3 .3-5 .4-.4 .3 2.2 .4 1.6 .3 4.1 .4-3.6 .3 2.8 .4 4.1 .3-6.6 .4 4.5 .3-.9 .4-3 .3 3.3 .4-1.9 .3 2.1 .4 .6 .3 3.1 .4-5.2 .3-.9 .4 7.4 .3-4.3 .4-2.8 .3 6.7 .4-3.1 .3-2.5 .4-1.3 .3 1.3 .4-6.9 .3 13.1 .4-11.7 .3 5.4 .4-.3 .3 2.8 .4-.4 .3-1.1 .4 8.5 .3-9.6 .4-9.3 .3 10.1 .4-4.4 .3 5.9 .4-6.3 .3-1.1 .4 6.5 .3 6.2 .4-3.4 .3 3.9 .4-8.2 .3 7 .4-10.9 .3 4.8 .4 1.4 .3-.1 .4-7.3 .3 11.1 .4-6.7 .3-3.8 .4 7.7 .3-1.1 .4-.3 .3 1 .4 5.5 .3-4.7 .4-1.5 .3-3.9 .4 7 .3-6.8 .4 4.5 .3-2 .4 2.3 .3-2.6 .4 2.8 .3-2.3 .4 5.3 .3 .1 .4 .3 .3-5.4 .4 2.4 .3-11.6 .4 10.7 .3 2.6 .4-4.8 .3 1.2 .4 0 .3 .8 .4 4.1 .3-1.6 .4-12.8 .3 9.2 .4-1.9 .3 1.2 .4-8.4 .3 10.9 .4 7.3 .3-11.2 .4 3.2 .3-6.9 .4 9.7 .3 3.1 .4-5.5 .3 .8 .4 1.4 .3-3.2 .4-3.6 .3 4.3 .4 5.1 .3-4.1 .4-2.6 .3 2 .4-1.2 .3 5.5 .4-4.9 .3-7.3 .4-2.3 .3 13.3 .4-3.3 .3 .8 .4 2.1 .3-2.6 .4 6.6 .3-6.8 .4-1.4 .3-.4 .4 4 .3-1.9 .4-4.8 .3 6 .4 1.3 .3-1.5 .4 9.4 .3-14.1 .4 9.2 .3-8.7 .4 7.1 .3-2.3 .4 2.7 .3-3.4 .4-6 .3 2.1 .4 3.9 .3 2 .4-6.8 .3 5.4 .4 2.7 .3-3.1 .4-.5 .3 8.5 .4-1.5 .3-9.9 .4 5.5 .3-1.1 .4-2.3 .3 .9 .4 2.3 .3-3.8 .4-1.1 .3 9 .4-9.2 .3 5.2 .4-.4 .3 7 .4-6.3 .3 1.4 .4-3.8 .3 1.1 .4-1.1 .3 2.9 .4-4.4 .3 6.6 .4-9.2 .3 1 .4 11.7 .3-4.1 .4-4.1 .3 .5 .4 1.5 .3-1.6 .4-6.6 .3 .2 .4 3.1 .3-1 .4 3.8 .3-.8 .4 1.6 .3-2.8 .4-1.5 .3 6.8 .4-11.1 .3 7.7 .4-5.3 .3 11.4 .4-5.9 .3 1.6 .4-7.1 .3 10.4 .4-5.7 .3-.3 .4-4.8 .3 5.6 .4-10.9 .3 7.2 .4 .3 .3 2.9 .4 3.7 .3-3.3 .4 1.3 .3-1 .4-4.5 .3 7 .4-.3 .3-5.5 .4-1.6 .3 2.7 .4 2.8 .3-10.9 .4 9.4 .3-.6 .4 7.6 .3-9.7 .4 8.8 .3 1 .4-.9 .3-4.3 .4 1.7 .3-.5 .4-3.4 .3 8.5 .4-6.2 .3-2.7 .4 .4 .3-2.1 .4 3.9 .3-.1 .4 6 .3-6 .4-4.9 .3 10.1 .4-4.3 .3-1 .4-2.2 .3-.4 .4 6.8 .3-3.5 .4-2 .3-5.4 .4 4.9 .3 3.9 .4-2.4 .3 2 .4-2.2 .3-.5 .4-1.1 .3 5.8 .4-12 .3 7.1 .4 3.3 .3-6.4 .4 4.8 .3-8.3 .4 6.2 .3 6.6 .4-.7 .3-3.4 .4-.5 .3-.5 .4 5.2 .3-1.2 .4-7.6 .3 12.7 .4-9.7 .3 4.7 .4-7.1 .3-.8 .4 .9 .3 2.5 .4-3.9 .3 3.3 .4-4.3 .3 5.5 .4 3.6 .3-4.5 .4-10.7 .3 10.3 .4 1 .3 9.3 .4-16.7 .3 5.2 .4-1 .3 .8 .4 5 .3 2.1 .4-3.1 .3-2.5 .4 8.1 .3-4 .4 6.1 .3-9.2 .4-.6 .3-1.7 .4-.1 .3 2.7 .4-2.5 .3 2.1 .4-.5 .3 .3 .4-1.7 .3 4.6 .4-4.7 .3 6.8 .4-.9 .3-4.4 .4 2.5 .3 7.3 .4-13.3 .3 1.9 .4-.5 .3-1.3 .4 2.5 .3-1.4 .4-1.6 .3 .7 .4 .7 .3-2.3 .4 8.1 .3-3.3 .4 9.1 .3-10.5 .4-6.8 .3 14 .4-13.9 .3 14 .4-6 .3 .1 .4 6.4 .3-9.4 .4 4 .3-3.5 .4 2.3 .3-.8 .4-.1 .3 .7 .4 0 .3 4.2 .4-4.8 .3 1.1 .4-4.7 .3 3.2 .4 9 .3-11.1 .4 1.6 .3-.5 .4 6.8 .3-1 .4-3.3 .3-3.5 .4 5.2 .3-3.5 .4-1.6 .3 6.8 .4-4.7 .3 11 .4-12.5 .3 5.9 .4-3.1 .3-1.4 .4-4.6 .3 6.4 .4-3.1 .3-2.5 .4 4.6 .3-10.3 .4 9.6 .3 4.3 .4-3.9 .3 2.5 .4-2.1 .3-1.5 .4 2.1 .3-1.3 .4 2.7 .3 1.8 .4-3.8 .3-.1 .4-1.7 .3 2.4 .4-1 .3-.7 .4 3.2 .3 .7 .4-5 .3-2.9 .4 2.9 .3 2.6 .4-1.2 .3-1 .4 2.1 .3 2.9 .4-.2 .3-7.5 .4 4.1 .3-2.3 .4-1.2 .3 1.6 .4-5.2 .3 7 .4 .5 .3 7.5 .4-2.4 .3-3.9 .4-4.8 .3 4.4 .4-1.1 .3 1.9 .4 4.1 .3-3.5 .4 3.8 .3-8.5 .4 1 .3 6.4 .4-.7 .3-6.9 .4-1.1 .3 4.1 .4-4 .3-.6 .4-.9 .3 15.4 .4-9.9 .3 .6 .4-1.4 .3 2.3 .4-4.5 .3 1.4 .4-.1 .3-.5 .4 2.1 .3-1.9 .4 2 .3-1.3 .4-.2 .3 3.6 .4 .6 .3-5.9 .4 10.8 .3-9.3 .4 3.7 .3 1.4 .4-6.1 .3 .4 .4 4.3 .3-1 .4-2.4 .3-5 .4 .5 .3-.8 .4 4.8 .3-.2 .4 1.7 .3 .7 .4-3.3 .3 1.7 .4 5.9 .3-8.4 .4 3.8 .3-2.5 .4 12.4 .3-12.3 .4-2 .3 4.8 .4 1.4 .3 3.1 .4-3.8 .3-3 .4 4.2 .3-3.1 .4-1.5 .3 2.4 .4 .1 .3 0 .4-4.1 .3 3.6 .4 3.8 .3-6.2 .4 7.5 .3-5.6 .4-.1 .3 4.9 .4 3.4 .3-3.1 .4-1.5 .3-5 .4 .8 .3 2 .4 .3 .3 2.1 .4-4 .3-2.6 .4-1.1 .3 9 .4-5 .3-2.1 .4-2.9 .3 7.7 .4 2.7 .3-8 .4 6 .3-1 .4-4.4 .3-7.2 .4 12.9 .3-1.8 .4 1 .3 .2 .4-2 .3 4.5 .4 1.8 .3-9 .4 1.7 .3-.9 .4-2.1 .3 3.4 .4-.7 .3 1.7 .4 7.9 .3-9.3" fill="none" stroke="#DD9900" stroke-width="5" stroke-linejoin="bevel"/>
<path d="M132.5 221l.7-.1 .7-.2 .7-.3 .7-.2 .7-.1 .7 0 .7 .2 .7 .3 .7 .5 .7 .6 .7 .5 .7 .4 .7 .2 .7-.1 .7-.1 .7-.2 .7-.2 .7-.1 .7 0 .7 0 .7 .2 .7 .2 .7 .1 .7 .1 .7 0 .7-.1 .7-.1 .7-.1 .7 0 .7-.1 .7 .1 .7 .1 .7 .1 .7 .1 .7 .1 .7 0 .7-.1 .7-.1 .7-.3 .7-.3 .7-.5 .7-.5 .7-.6 .7-.6 .7-.4 .7-.3 .7 0 .7 .1 .7 .3 .7 .2 .7 .1 .7-.1 .7-.2 .7-.5 .7-.4 .7-.5 .7-.4 .7-.3 .7-.3 .7-.4 .7-.3 .7-.4 .7-.3 .7-.2 .7-.2 .7-.2 .7-.5 .7-.7 .7-.9 .7-1.1 .7-1 .7-.9 .7-.8 .7-.8 .7-.8 .7-.9 .7-.9 .7-.9 .7-.9 .7-.9 .7-1.1 .7-1.2 .7-1.5 .7-1.7 .7-2 .7-2.2 .7-2.2 .7-2.3 .7-2.3 .7-2.3 .7-2.4 .7-2.7 .7-3 .7-3.3 .7-3.8 .7-4 .7-4.2 .7-4.3 .7-4.1 .7-4 .7-3.8 .7-3.7 .7-3.4 .7-3.2 .7-2.6 .7-2 .7-1.1 .7-.2 .7 .7 .7 1.5 .7 2.1 .7 2.6 .7 3.2 .7 3.4 .7 3.8 .7 3.6 .7 3.4 .7 2.9 .7 2.4 .7 2 .7 1.9 .7 1.9 .7 1.9 .7 1.9 .7 2 .7 1.9 .7 1.9 .7 2.1 .7 2.2 .7 2.4 .7 2.4 .7 2.5 .7 2.4 .7 2.4 .7 2.3 .7 2.2 .7 2.1 .7 2.1 .7 2.1 .7 2.1 .7 2.2 .7 2.2 .7 2 .7 1.9 .7 1.6 .7 1.3 .7 1.2 .7 1 .7 .8 .7 .7 .7 .7 .7 .6 .7 .4 .7 .4 .7 .2 .7 0 .7 0 .7-.2 .7-.2 .7-.3 .7-.1 .7 0 .7 .2 .7 .5 .7 .6 .7 .8 .7 .6 .7 .6 .7 .5 .7 .3 .7 .2 .7 .2 .7 .2 .7 .2 .7 .2 .7 .1 .7 .1 .7 .1 .7 .2 .7 .3 .7 .3 .7 .3 .7 .3 .7 .2 .7 .2 .7 .4 .7 .4 .7 .4 .7 .5 .7 .2 .7 .1 .7-.1 .7-.2 .7-.1 .7 0 .7 .1 .7 .2 .7 .2 .7 .1 .7 0 .7-.1 .7-.1 .7-.3 .7-.2 .7-.1 .7 0 .7 0 .7 0 .7 .1 .7 0 .7-.1 .7 0 .7-.1 .7 0 .7 .1 .7 0 .7 .1 .7 0 .7 0 .7 .1 .7 .2 .7 .2 .7 .2 .7 .2 .7 0 .7-.1 .7 0 .7 0 .7 .2 .7 .3 .7 .5 .7 .5 .7 .4 .7 .2 .7 .1 .7-.2 .7-.3 .7-.5 .7-.7 .7-.6 .7-.5 .7-.3 .7 0 .7 .2 .7 .4 .7 .4 .7 .2 .7 0 .7-.3 .7-.3 .7-.4 .7-.1 .7 0 .7 .2 .7 .3 .7 .4 .7 .4 .7 .2 .7 .1 .7 .1 .7-.1 .7 .1 .7 .1 .7 .2 .7 .4 .7 .4 .7 .5 .7 .3 .7 .2 .7 0 .7-.3 .7-.4 .7-.5 .7-.6 .7-.5 .7-.6 .7-.6 .7-.5 .7-.3 .7-.2 .7 .2 .7 .3 .7 .5 .7 .6 .7 .5 .7 .5 .7 .4 .7 .4 .7 .4 .7 .4 .7 .4 .7 .2 .7 0 .7-.2 .7-.4 .7-.7 .7-.6 .7-.6 .7-.4 .7-.3 .7 0 .7 .1 .7 .3 .7 .3 .7 .3 .7 0 .7-.2 .7-.4 .7-.5 .7-.4 .7-.2 .7 0 .7 .1 .7 .3 .7 .3 .7 .3 .7 .3 .7 .2 .7 .2 .7 .2 .7 .1 .7 .1 .7 0 .7 0 .7 0 .7-.1 .7 0 .7 0 .7 .1 .7 0 .7 0 .7-.1 .7-.1 .7-.1 .7-.1 .7 0 .7 .1 .7 .2 .7 .2 .7 .2 .7 .1 .7 0 .7 0 .7-.2 .7-.1 .7-.1 .7-.2 .7-.3 .7-.3 .7-.5 .7-.5 .7-.4 .7-.3 .7 0 .7 .1 .7 .2 .7 .3 .7 .2 .7 .3 .7 .1 .7 0 .7 0 .7-.2 .7-.2 .7-.2 .7-.2 .7-.2 .7 0 .7 0 .7 .3 .7 .3 .7 .5 .7 .4 .7 .4 .7 .1 .7 0 .7-.1 .7-.1 .7-.2 .7 0 .7 0 .7 0 .7-.1 .7-.1 .7-.3 .7-.2 .7-.2 .7 0 .7 .1 .7 .1 .7 .2 .7 .1 .7 0 .7-.1 .7 0 .7-.1 .7-.1 .7-.1 .7 0 .7-.1 .7-.1 .7 0 .7-.2 .7-.2 .7-.4 .7-.4 .7-.5 .7-.4 .7-.2 .7-.1 .7 .1 .7 .2 .7 .2 .7 .2 .7 .2 .7 0 .7-.2 .7-.3 .7-.2 .7-.1 .7 0 .7 .2 .7 .1 .7 0 .7-.3 .7-.4 .7-.5 .7-.4 .7-.2 .7 .1 .7 .3 .7 .5 .7 .4 .7 .4 .7 .3 .7 .2 .7 .2 .7 0 .7 .1 .7 .1 .7 .2 .7 .2 .7 .2 .7 .1 .7-.1 .7-.4 .7-.5 .7-.5 .7-.5 .7-.2 .7 0 .7 .1 .7 0 .7 0 .7-.3 .7-.3 .7-.3 .7-.3 .7 0 .7 .1 .7 .3 .7 .6 .7 .6 .7 .5 .7 .2 .7-.1 .7-.5 .7-.6 .7-.7 .7-.6 .7-.5 .7-.2 .7-.2 .7-.1 .7-.2 .7-.2 .7-.3 .7-.2 .7-.2 .7-.1 .7 0 .7 .1 .7 0 .7 0 .7-.1 .7-.3 .7-.3 .7-.4 .7-.3 .7-.3 .7-.2 .7-.2 .7-.1 .7-.1 .7 0 .7 .1 .7 .2 .7 .3 .7 .3 .7 .1 .7 0 .7-.1 .7-.3 .7-.3 .7-.2 .7-.3 .7-.2 .7-.1 .7-.2 .7-.2 .7-.2 .7-.2 .7 0 .7 0 .7 .2 .7 .2 .7 .3 .7 .4 .7 .3 .7 .3 .7 .2 .7 .1 .7-.1 .7-.1 .7-.3 .7-.4 .7-.4 .7-.6 .7-.6 .7-.6 .7-.5 .7-.6 .7-.3 .7-.2 .7 .1 .7 .2 .7 .4 .7 .5 .7 .5 .7 .5 .7 .3 .7 .3 .7 .1 .7 0 .7 0 .7 .1 .7 .1 .7 .1 .7 .2 .7 .1 .7 .2 .7 .1 .7 .2 .7 .3 .7 .2 .7 .1 .7 0 .7-.2 .7-.3 .7-.3 .7-.3 .7-.1 .7-.1 .7 0 .7 0 .7 0 .7-.1 .7-.2 .7-.3 .7-.3 .7-.5 .7-.5 .7-.5 .7-.6 .7-.5 .7-.6 .7-.7 .7-.8 .7-.9 .7-1.2 .7-1.6 .7-2 .7-2.4 .7-2.8 .7-3.1 .7-3.5 .7-3.8 .7-4.2 .7-4.8 .7-5.3 .7-5.5 .7-5.5 .7-5 .7-4 .7-2.9 .7-1.7 .7-.5 .7 .4 .7 1.2 .7 1.9 .7 2.4 .7 2.7 .7 3.1 .7 3.1 .7 3.1 .7 2.9 .7 2.7 .7 2.4 .7 2.2 .7 2 .7 1.8 .7 1.4 .7 1.1 .7 .6 .7 .4 .7 .1 .7 .1 .7 0 .7 .1 .7 .1 .7 .1 .7 .2 .7 .4 .7 .7 .7 1.1 .7 1.3 .7 1.3 .7 1.2 .7 1.1 .7 .8 .7 .7 .7 .6 .7 .5 .7 .4 .7 .5 .7 .5 .7 .5 .7 .5 .7 .6 .7 .5 .7 .5 .7 .6 .7 .6 .7 .7 .7 .7 .7 .4 .7 .4 .7 .2 .7 0 .7 0 .7-.1 .7-.2 .7-.2 .7-.2 .7 0 .7 .1 .7 .2 .7 .1 .7 0 .7-.2 .7-.3 .7-.3 .7-.3 .7-.1 .7 0 .7 .3 .7 .4 .7 .6 .7 .6 .7 .5 .7 .4 .7 .2 .7 .1 .7 0 .7 .1 .7 .1 .7 .3 .7 .3 .7 .3 .7 .4 .7 .2 .7 .2 .7 .2 .7 .1 .7 .1 .7 .2 .7 .1 .7 .1 .7 .1 .7 0 .7 .1 .7 0 .7 .1 .7 .1 .7 .3 .7 .4 .7 .5 .7 .7 .7 .7 .7 .6 .7 .6 .7 .5 .7 .2 .7 .1 .7 0 .7-.2 .7-.1 .7-.1 .7-.1 .7 0 .7 0 .7-.2 .7-.2 .7-.3 .7-.3 .7-.3 .7-.2 .7-.1 .7-.1 .7-.1 .7-.1 .7-.1 .7-.2 .7 0 .7 0 .7 0 .7 .2 .7 .3 .7 .3 .7 .4 .7 .4 .7 .4 .7 .3 .7 .2 .7 .1 .7 .1 .7 .1 .7 0 .7 0 .7 0 .7 0 .7 .1 .7 .1 .7 .1 .7 .1 .7 0 .7-.1 .7-.3 .7-.6 .7-.8 .7-.9 .7-.9 .7-.8 .7-.6 .7-.3 .7-.1 .7 .2 .7 .4 .7 .6 .7 .6 .7 .7 .7 .5 .7 .4 .7 .2 .7 0 .7-.2 .7-.1 .7-.2 .7-.2 .7-.3 .7-.3 .7-.3 .7-.4 .7-.4 .7-.3 .7 0 .7 .3 .7 .5 .7 .6 .7 .6 .7 .5 .7 .3 .7 0 .7-.1 .7-.1 .7-.1 .7 0 .7 .1 .7 .1 .7 0 .7 0 .7 0 .7-.1 .7-.3 .7-.3 .7-.5 .7-.6 .7-.6 .7-.3 .7-.2 .7 0 .7 .2 .7 .1 .7 0 .7 0 .7-.1 .7-.2 .7-.1 .7 0 .7 .1 .7 .4 .7 .5 .7 .4 .7 .4 .7 .2 .7 0 .7-.1 .7-.3 .7-.2 .7-.1 .7-.2 .7-.1 .7-.2 .7-.2 .7-.3 .7-.4 .7-.5 .7-.7 .7-.9 .7-1 .7-.9 .7-.8 .7-.5 .7-.2 .7 .3 .7 .6 .7 .8 .7 .9 .7 .8 .7 .7 .7 .6 .7 .3 .7 .1 .7-.1 .7 0 .7 0 .7 .2 .7 .4 .7 .5 .7 .5 .7 .5 .7 .4 .7 .2 .7 0 .7-.2 .7-.2 .7-.2 .7-.2 .7-.1 .7 0 .7 .1 .7 .2 .7 .5 .7 .5 .7 .7 .7 .8 .7 .7 .7 .6 .7 .4 .7 .1 .7-.1 .7-.4 .7-.4 .7-.4 .7-.3 .7-.2 .7-.1 .7-.1 .7-.1 .7-.2 .7-.2 .7-.2 .7-.2 .7 0 .7 0 .7 .2 .7 .1 .7 .1 .7 0 .7 0 .7 .1 .7 .1 .7 .2 .7 .2 .7 .4 .7 .3 .7 .3 .7 .2 .7 .2 .7 0 .7 .1 .7 0 .7-.1 .7 0 .7-.1 .7 .1 .7 .1 .7 .1 .7 0 .7-.1 .7-.3 .7-.3 .7-.2 .7-.1 .7 .2 .7 .2 .7 .3 .7 .2 .7 0 .7 0 .7 0 .7 0 .7 .1 .7 .2 .7 .1 .7 .2 .7 .1 .7 .2 .7 .2 .7 0 .7 0 .7-.2 .7-.2 .7-.2 .7-.1 .7 .1 .7 .1 .7 .4 .7 .4 .7 .5 .7 .5 .7 .3 .7 .2 .7 0 .7-.2 .7-.2 .7-.2 .7 0 .7 0 .7 .1 .7 .2 .7 .1 .7 .1 .7 .1 .7 .1 .7 .1 .7 0 .7 0 .7-.1 .7 0 .7-.1 .7 .1 .7 .1 .7 .1 .7 .2 .7 .1 .7 0 .7-.1 .7-.2 .7-.2 .7-.3 .7-.3 .7-.2 .7-.1 .7-.1 .7 0 .7 .2 .7 .3 .7 .5 .7 .4 .7 .5 .7 .3 .7 .3 .7 .1 .7 .1 .7 .1 .7 0 .7-.1 .7 0 .7 .1 .7 .1 .7 .1 .7 .1 .7 0 .7-.1 .7-.2 .7-.3 .7-.4 .7-.3 .7-.2 .7 0 .7 .3 .7 .5 .7 .6 .7 .6 .7 .4 .7 .2 .7 0 .7-.1 .7-.2 .7-.1 .7 0 .7 .1 .7 .2 .7 .2 .7 .1 .7 .1 .7 0 .7-.1 .7-.1 .7-.2 .7-.2 .7-.1 .7-.1 .7 0 .7 0 .7 .1 .7 .1 .7 0 .7 .1 .7 0 .7 .1 .7 0 .7 0 .7 0 .7 0 .7 .1 .7 .1 .7 .2 .7 .2 .7 .3 .7 .4 .7 .4 .7 .3 .7 .2 .7-.1 .7-.2 .7-.4 .7-.3 .7-.2 .7-.1 .7 .1 .7 0 .7 .1 .7 .1 .7 .1 .7 .4 .7 .5 .7 .8 .7 .8 .7 .9 .7 .7 .7 .4 .7 .2 .7-.2 .7-.3 .7-.4 .7-.5 .7-.4 .7-.4 .7-.4 .7-.3 .7-.1 .7 0 .7 .1 .7 .2 .7 .3 .7 .1 .7 .1 .7 0 .7 .1 .7 .1 .7 .3 .7 .3 .7 .4 .7 .4 .7 .1 .7 0 .7-.2 .7-.3 .7-.2 .7-.2 .7 .1 .7 .4 .7 .4 .7 .4 .7 .1 .7-.3 .7-.6 .7-.9 .7-1.1 .7-.9 .7-.9 .7-.7 .7-.7 .7-.7 .7-1 .7-1.2 .7-1.3 .7-1.3 .7-1.2 .7-.9 .7-.7 .7-.5 .7-.5 .7-.5 .7-.7 .7-.9 .7-1 .7-1 .7-.9 .7-.8 .7-.6 .7-.7 .7-.6 .7-.7 .7-.8 .7-.8 .7-.9 .7-.9 .7-.9 .7-.9 .7-.9 .7-.9 .7-1 .7-1.1 .7-.9 .7-.6 .7-.2 .7 .1 .7 .3 .7 .4 .7 .5 .7 .4 .7 .4 .7 .5 .7 .5 .7 .7 .7 .8 .7 .7 .7 .7 .7 .4 .7 .3 .7 .2 .7 .2 .7 .4 .7 .6 .7 .8 .7 1 .7 1 .7 .8 .7 .5 .7 .2 .7 0 .7-.2 .7-.2 .7-.1 .7 .1 .7 .2 .7 .4 .7 .5 .7 .4 .7 .2 .7 0 .7-.2 .7-.3 .7-.2 .7-.1 .7 .1 .7 .3 .7 .4 .7 .4 .7 .4 .7 .2 .7 .1 .7 .1 .7 .1 .7 .2 .7 .3 .7 .3 .7 .3 .7 .3 .7 .3 .7 .5 .7 .5 .7 .5 .7 .5 .7 .3 .7 .2 .7 0 .7-.1 .7-.2 .7-.1 .7-.1 .7 0 .7 .2 .7 .3 .7 .3 .7 .4 .7 .3 .7 .2 .7 .2 .7 .1 .7 .2 .7 .2 .7 .2 .7 .2 .7 .1 .7 .2 .7 .2 .7 .2 .7 .2 .7 .3 .7 .1 .7 0 .7-.1 .7-.1 .7-.2 .7-.2 .7-.1 .7 0 .7 .2 .7 .2 .7 .3 .7 .2 .7 .2 .7-.1 .7-.1 .7-.1 .7 0 .7 0 .7 .1 .7 .2 .7 .3 .7 .2 .7 .2 .7 .2 .7 .2 .7 .3 .7 .3 .7 .4 .7 .3 .7 .1 .7 0 .7-.1 .7-.1 .7-.1 .7 0 .7 0 .7-.1 .7-.1 .7-.2 .7-.3 .7-.2 .7-.1 .7 0 .7 .2 .7 .3 .7 .3 .7 .3 .7 .3 .7 .2 .7 .1 .7 .1 .7 .1 .7 0 .7-.2 .7-.2 .7-.3 .7-.2 .7-.2 .7-.1 .7 .1 .7 .2 .7 .3 .7 .3 .7 .3 .7 .3 .7 .3 .7 .1 .7 .1 .7-.1 .7-.2 .7-.2 .7-.2 .7-.3 .7-.2 .7-.1 .7-.1 .7 .1 .7 .1 .7 .1 .7 0 .7 0 .7-.1 .7-.2 .7-.3 .7-.4 .7-.4 .7-.4 .7-.4 .7-.2 .7-.1 .7 .2 .7 .3 .7 .2 .7 .2 .7 0 .7 0 .7-.1 .7-.1 .7 .1 .7 .2 .7 .3 .7 .3 .7 .4 .7 .5 .7 .5 .7 .4 .7 .2 .7 .1 .7-.1 .7-.1 .7-.1 .7-.1 .7 0 .7-.1 .7-.1 .7-.1 .7-.1 .7-.1 .7 .1 .7 .2 .7 .3 .7 .2 .7 .2 .7 .1 .7-.1 .7-.2 .7-.4 .7-.3 .7-.4 .7-.4 .7-.3 .7-.3 .7-.1 .7 0 .7 .2 .7 .2 .7 .1 .7 .2 .7 .2 .7 .2 .7 .2 .7 .2 .7 .1 .7-.1 .7-.1 .7-.1 .7 .1 .7 .1 .7 .2 .7 .2 .7 .1 .7 0 .7-.1 .7-.2 .7-.1 .7 0 .7 0 .7 0 .7 .1 .7-.1 .7-.2 .7-.2 .7-.1 .7 0 .7 .3 .7 .4 .7 .4 .7 .3 .7 .2 .7-.1 .7-.3 .7-.3 .7-.3 .7-.1 .7-.1 .7 .2 .7 .4 .7 .5 .7 .5 .7 .5 .7 .4 .7 .2 .7 0 .7-.2 .7-.3 .7-.5 .7-.5 .7-.5 .7-.4 .7-.2 .7 0 .7 .2 .7 .4 .7 .5 .7 .7 .7 .7 .7 .5 .7 .3 .7 0 .7-.1 .7-.2 .7-.1 .7-.1 .7 0 .7 .1 .7 .3 .7 .2 .7 .2 .7 .1 .7 0 .7 0 .7 .1 .7 .1 .7 .2 .7 .3 .7 .3 .7 .3 .7 .3 .7 .2 .7 .1 .7 .1 .7 0 .7 .1 .7 0 .7 .1 .7 .1 .7-.1 .7-.2 .7-.3 .7-.3 .7-.4 .7-.2 .7-.1 .7 .1 .7 .3 .7 .3 .7 .4 .7 .3 .7 .1 .7 0 .7-.1 .7-.2 .7-.2 .7-.1 .7 0 .7 .3 .7 .4 .7 .4 .7 .4 .7 0 .7-.2 .7-.6 .7-.6 .7-.7 .7-.6 .7-.3 .7 0 .7 .2 .7 .5 .7 .6 .7 .7 .7 .7 .7 .6 .7 .5 .7 .3 .7 0 .7-.2 .7-.3 .7-.4 .7-.2 .7-.1 .7 0 .7 0 .7 0 .7-.1 .7 0 .7 .2 .7 .3 .7 .4 .7 .4 .7 .4 .7 .3 .7 .1 .7 0 .7-.2 .7-.2 .7-.2 .7-.2 .7-.1 .7-.1 .7 0 .7 .1 .7 0 .7 .1 .7 .1 .7 .2 .7 .2 .7 .3 .7 .2 .7 .1 .7-.1 .7-.3 .7-.4 .7-.4 .7-.2 .7 .1 .7 .3 .7 .5 .7 .5 .7 .3 .7 .1 .7-.2 .7-.2 .7-.3 .7-.2 .7-.2 .7 0 .7-.2 .7-.1 .7-.3 .7-.3 .7-.3 .7-.2 .7-.2 .7-.2 .7 0 .7 .1 .7 .2 .7 .3 .7 .5 .7 .5 .7 .5 .7 .4 .7 .3 .7 .1 .7 0 .7-.2 .7-.3 .7-.3 .7-.3 .7-.1 .7-.1 .7-.1 .7 .1 .7 0 .7 .1 .7 0 .7 .1 .7 .1 .7 0 .7-.1 .7-.3 .7-.4 .7-.5 .7-.4 .7-.4 .7-.3 .7 0 .7 .2 .7 .4 .7 .6 .7 .6 .7 .6 .7 .4 .7 .3 .7 .2 .7 .1 .7 .1 .7 .1 .7 .1 .7 .1 .7 0 .7-.1 .7-.2 .7-.3 .7-.2 .7-.2 .7-.1 .7 .1 .7 .2 .7 .2 .7 .3 .7 .1 .7 0 .7-.2 .7-.2 .7-.3 .7-.2 .7-.2 .7 0 .7 .1 .7 .2 .7 0 .7 0 .7-.1 .7-.1 .7-.2 .7-.1 .7 0 .7 .1 .7 0 .7 .1 .7 .1 .7 .3 .7 .4 .7 .5 .7 .4 .7 .4 .7 .1 .7-.1 .7-.3 .7-.3 .7-.2 .7 0 .7 .1 .7 .3 .7 .4 .7 .4 .7 .3 .7 .1 .7 0 .7-.1 .7-.1 .7-.2 .7-.2 .7-.4 .7-.5 .7-.6 .7-.5 .7-.5 .7-.2 .7 .1 .7 .2 .7 .3 .7 .4 .7 .3 .7 .3 .7 .3 .7 .4 .7 .4 .7 .4 .7 .2 .7 .2 .7 0 .7-.1 .7-.1 .7-.2 .7-.1 .7-.2 .7-.2 .7-.2 .7 0 .7 0 .7 .1 .7 .2 .7 .3 .7 .1 .7 .1 .7 0 .7-.1 .7 0 .7 0 .7 .1 .7 .1 .7 .1 .7 0 .7-.1 .7-.2 .7-.2 .7-.1 .7 0 .7 .1 .7 .1 .7 .1 .7-.1 .7-.2 .7-.3 .7-.3 .7-.3 .7-.1 .7 0 .7 .1 .7 .1 .7 .1 .7 .1 .7 .1 .7-.1 .7 0 .7-.1 .7 .1 .7 .3 .7 .4 .7 .5 .7 .5 .7 .3 .7 .2 .7-.1 .7-.2 .7-.3 .7-.3 .7-.2 .7-.1 .7 .2 .7 .2 .7 .3 .7 .2 .7 .1 .7 0 .7-.1 .7-.1 .7-.1 .7 0 .7 0 .7 0 .7 .1 .7 .1 .7 .2 .7 .1 .7 .2 .7 .1 .7 0 .7 0 .7 0 .7 0 .7 0 .7 .2 .7 .1 .7 .1 .7-.2 .7-.3 .7-.5 .7-.6 .7-.5 .7-.4 .7-.1 .7 .1 .7 .3 .7 .2 .7 .1 .7-.2 .7-.4 .7-.5 .7-.6 .7-.5 .7-.4 .7-.1 .7 0 .7 .1 .7 .2 .7 .2 .7 .2 .7 .2 .7 .1 .7 .1 .7 0 .7 0 .7-.2 .7-.2 .7-.3 .7-.3 .7-.2 .7-.2 .7-.1 .7-.2 .7-.1 .7-.2 .7-.3 .7-.3 .7-.5 .7-.5 .7-.6 .7-.8 .7-.7 .7-.8 .7-.6 .7-.4 .7-.4 .7-.2 .7-.3 .7-.4 .7-.4 .7-.4 .7-.4 .7-.3 .7-.1 .7 .1 .7 .2 .7 .2 .7 .3 .7 .2 .7 .2 .7 .3 .7 .4 .7 .5 .7 .5 .7 .6 .7 .4 .7 .2 .7-.1 .7-.3 .7-.4 .7-.3 .7-.1 .7 .1 .7 .4 .7 .5 .7 .5 .7 .3 .7 0 .7-.1 .7-.4 .7-.3 .7-.3 .7 0 .7 .2 .7 .4 .7 .6 .7 .6 .7 .4 .7 .2 .7-.1 .7-.3 .7-.4 .7-.4 .7-.3 .7-.2 .7 .1 .7 .4 .7 .5 .7 .6 .7 .5 .7 .4 .7 .3 .7 .1 .7-.1 .7-.2 .7-.2 .7-.2 .7-.2 .7-.2 .7 0 .7 0 .7 .2 .7 .2 .7 .4 .7 .4 .7 .3 .7 .3 .7 .1 .7-.1 .7-.2 .7-.2 .7-.3 .7-.4 .7-.4 .7-.4 .7-.4 .7-.3 .7-.3 .7-.1 .7-.1 .7 0 .7 .2 .7 .4 .7 .3 .7 .3 .7 .2 .7 0 .7-.2 .7-.3 .7-.4 .7-.4 .7-.2 .7 0 .7 .3 .7 .5 .7 .6 .7 .6 .7 .4 .7 .1 .7-.1 .7-.3 .7-.3 .7-.3 .7-.1 .7 0 .7 .1 .7 .2 .7 0 .7-.1 .7-.1 .7-.3 .7-.2 .7-.1 .7 0 .7 .1 .7 .2 .7 .3 .7 .3 .7 .3 .7 .3 .7 .1 .7 .1 .7-.1 .7-.1 .7-.2 .7-.3 .7-.2 .7-.1 .7-.1 .7 .1 .7 .1 .7 .1 .7 0 .7-.2 .7-.3 .7-.3 .7-.3 .7-.1 .7 0 .7 .1 .7 .2 .7 0 .7 0 .7 0 .7-.1 .7 0 .7 .1 .7 .3 .7 .4 .7 .4 .7 .1 .7-.1 .7-.2 .7-.4 .7-.3 .7-.3 .7-.2 .7-.1 .7 0 .7 .1 .7 .1 .7 0 .7 .1 .7 .2 .7 .2 .7 .2 .7 .2 .7 .1 .7 .1 .7 0 .7-.1 .7 0 .7 .1 .7 .1 .7 .1 .7 0 .7-.2 .7-.3 .7-.3 .7-.4 .7-.3 .7-.1 .7 .1 .7 .2 .7 .2 .7 .2 .7 .2 .7 0 .7 .1 .7 0 .7 0 .7 .1 .7 .2 .7 .2 .7 .3 .7 .2 .7 .2 .7 .1 .7 .1 .7 .1 .7 .1 .7 .2 .7 .1 .7 0 .7-.1 .7-.2 .7-.2 .7-.3 .7-.2 .7-.1 .7 0 .7 .2 .7 .3 .7 .2 .7 .2 .7 .2 .7 .1 .7 .1 .7 .1 .7 0 .7 .1 .7 .2 .7 .2 .7 .2 .7 .3 .7 .3 .7 .2 .7 .3 .7 .3 .7 .4 .7 .3 .7 .3 .7 .2 .7 0 .7-.1 .7 0 .7 0 .7 .1 .7 0 .7 0 .7-.2 .7-.4 .7-.5 .7-.5 .7-.4 .7-.2 .7-.1 .7-.1 .7 0 .7-.1 .7-.1 .7-.1 .7-.2 .7-.1 .7-.2 .7-.1 .7-.3 .7-.2 .7-.1 .7-.1 .7-.1 .7-.2 .7-.2 .7-.5 .7-.6 .7-.7 .7-1 .7-1.3 .7-1.6 .7-2.1 .7-2.4 .7-2.6 .7-2.6 .7-2.4 .7-2.1 .7-1.7 .7-1.3 .7-.9 .7-.5 .7-.1 .7 .2 .7 .5 .7 .6 .7 .6 .7 .7 .7 .7 .7 .7 .7 .6 .7 .7 .7 .6 .7 .7 .7 .6 .7 .7 .7 .8 .7 .8 .7 .8 .7 .8 .7 .7 .7 .6 .7 .5 .7 .4 .7 .3 .7 .1 .7 .1 .7 .2 .7 .5 .7 .7 .7 1 .7 1.2 .7 1.1 .7 1 .7 .7 .7 .4 .7 0 .7 0 .7-.1 .7 0 .7 .2 .7 .4 .7 .5 .7 .5 .7 .4 .7 .3 .7 .2 .7 .2 .7 .2 .7 .1 .7 .1 .7 0 .7-.1 .7-.1 .7-.1 .7 0 .7 .1 .7 .2 .7 .2 .7 .1 .7 .2 .7 .2 .7 .2 .7 .2 .7 .1 .7 0 .7-.1 .7 0 .7-.1 .7 0 .7 .1 .7 .2 .7 .2 .7 .2 .7 .1 .7 .2 .7 .1 .7 .1 .7 .1 .7 0 .7 0 .7-.1 .7 0 .7 0 .7 .1 .7 .2 .7 .2 .7 .2 .7 .2 .7 .1 .7 0 .7-.1 .7-.2 .7-.1 .7-.2 .7 0 .7 .1 .7 .2 .7 .3 .7 .4 .7 .3 .7 .2 .7 .2 .7 .2 .7 .1 .7 .1 .7 .1 .7 0 .7 0 .7-.1 .7-.1 .7-.2 .7-.1 .7-.2 .7-.2 .7-.2 .7-.3 .7-.3 .7-.4 .7-.3 .7-.3 .7-.1 .7 .2 .7 .4 .7 .7 .7 .8 .7 .8 .7 .6 .7 .4 .7 .1 .7 0 .7-.2 .7-.1 .7 0 .7 0 .7 0 .7 0 .7-.1 .7 0 .7 0 .7 0 .7-.2 .7-.2 .7-.1 .7 0 .7 .2 .7 .3 .7 .4 .7 .2 .7 0 .7-.4 .7-.5 .7-.6 .7-.5 .7-.2 .7 .1 .7 .3 .7 .5 .7 .7 .7 .7 .7 .6 .7 .5 .7 .3 .7 0 .7-.2 .7-.4 .7-.5 .7-.5 .7-.4 .7-.3 .7-.2 .7 .1 .7 .2 .7 .3 .7 .1 .7 0 .7-.1 .7-.2 .7 0 .7 .1 .7 .3 .7 .3 .7 .4 .7 .3 .7 .2 .7 .1 .7 0 .7 0 .7-.1 .7-.3 .7-.4 .7-.6 .7-.8 .7-.7 .7-.7 .7-.5 .7-.1 .7 .1 .7 .4 .7 .4 .7 .5 .7 .4 .7 .2 .7 0 .7 0 .7 0 .7 0 .7 .1 .7 .2 .7 .2 .7 .3 .7 .1 .7 .1 .7-.2 .7-.3 .7-.4 .7-.4 .7-.5 .7-.3 .7-.2 .7-.1 .7 .1 .7 .2 .7 .2 .7 .3 .7 .2 .7 .1 .7 0 .7 .1 .7 0 .7 0 .7 .2 .7 .1 .7 .1 .7 .1 .7 0 .7 0 .7-.1 .7-.1 .7-.1 .7-.1 .7-.2 .7-.2 .7-.2 .7-.3 .7-.2 .7-.1 .7-.1 .7 0 .7 .2 .7 .3 .7 .4 .7 .4 .7 .4 .7 .5 .7 .3 .7 .2 .7 .1 .7 0 .7-.1 .7-.1 .7-.1 .7-.1 .7-.1 .7-.3 .7-.4 .7-.4 .7-.4 .7-.3 .7-.2 .7-.2 .7-.1 .7 0 .7 .1 .7 .1 .7 .1 .7 .2 .7 .1 .7 .2 .7 .2 .7 .1 .7 .1 .7-.2 .7-.2 .7-.3 .7-.4 .7-.3 .7-.2 .7-.1 .7-.1 .7-.1 .7-.1 .7 0 .7-.1 .7-.1 .7-.1 .7-.3 .7-.2 .7-.3 .7-.2 .7-.2 .7-.1" fill="none" stroke="#00CCCC" stroke-width="10" stroke-linejoin="round"/>
<path d="M132.5 219.4l.3 8 .4-12.1 .3 12.2 .4-9.3 .3 1.1 .4 4.4 .3-4.3 .4 1.1 .3-10.2 .4 12.5 .3-2.1 .4-1.6 .3 4.5 .4-4.6 .3 1.5 .4-4.1 .3 3.8 .4-2.2 .3 .9 .4 4.6 .3-4.2 .4 1.9 .3 11.3 .4-2.3 .3-6.7 .4-1.7 .3-2.2 .4-1.8 .3 13.5 .4-9.4 .3-5.1 .4 6 .3 1.8 .4-1.8 .3 5.3 .4-14.7 .3 8.8 .4-.4 .3-6.8 .4 8.3 .3 3 .4-3.4 .3-2.9 .4 6.1 .3-3.8 .4 .1 .3 2.3 .4-6.5 .3 7.6 .4-1.9 .3 1.4 .4-6.2 .3 6.4 .4-6.4 .3-2.9 .4 10.4 .3 .2 .4 .3 .3-4.9 .4-1.8 .3-10 .4 13.1 .3 .8 .4 1.8 .3-5.7 .4-1 .3 3.9 .4 2.1 .3 5.7 .4-13.1 .3 3.9 .4 5.4 .3-5.9 .4 1.2 .3-11 .4 11.7 .3 4.7 .4-2.7 .3 1.4 .4-3.8 .3-3.8 .4 5 .3-5.6 .4 6.6 .3-10.9 .4 10.6 .3-7.4 .4 2.7 .3-.6 .4 3.1 .3-5.3 .4 2.7 .3-11.4 .4 9.8 .3 1.5 .4-4.8 .3 6.2 .4-2.1 .3 2.9 .4-.9 .3-1.9 .4 5 .3-3.7 .4 2.2 .3-4.8 .4 1.5 .3-3.7 .4 15.3 .3-14.8 .4 0 .3-4.4 .4 4.2 .3 4.7 .4-1 .3-6.6 .4 3.5 .3 .3 .4 1.8 .3-1.9 .4 .8 .3 3.1 .4-2 .3-3.4 .4 .6 .3-.9 .4-4.4 .3 1.9 .4 .9 .3 .2 .4-.3 .3 1.9 .4 9.3 .3-7.6 .4-.1 .3-.8 .4-2.1 .3 5.3 .4-5.1 .3-2 .4-7 .3 6.1 .4-3.3 .3-2.1 .4 4.4 .3 2.5 .4-5.3 .3 4.2 .4-3.1 .3-5 .4 13.6 .3-10.9 .4-1.6 .3 5.7 .4-9.9 .3 6.9 .4-6.4 .3 2.1 .4-2.5 .3 6.5 .4-5.8 .3 11.4 .4-10.7 .3 .1 .4-2.4 .3-2.7 .4 .2 .3 8.2 .4-12.4 .3 16.2 .4-11.6 .3-4.9 .4 1.6 .3-3.2 .4-1 .3 .1 .4-14.4 .3 12.3 .4 10.4 .3-14.7 .4 3.9 .3-4.4 .4-4.2 .3 9 .4-22.1 .3 10.4 .4 15.1 .3-19 .4 6.1 .3-5.8 .4 1.2 .3-4.6 .4-4.5 .3 2.7 .4-18.1 .3 10.4 .4-3.1 .3-1.2 .4-8.5 .3 .1 .4 1.9 .3-4.3 .4 3 .3-5.1 .4 3 .3-5 .4-4 .3-5.8 .4 4.7 .3-9.5 .4-7.8 .3 21 .4-13.8 .3 2.8 .4-4 .3 1.2 .4-14.2 .3 9.5 .4 8.4 .3 0 .4-4.9 .3 19 .4-15.7 .3 7.5 .4-4.5 .3 10.2 .4-4.1 .3-1.8 .4-3.3 .3 8.1 .4 2.2 .3 6.6 .4 .9 .3 13.5 .4 1.3 .3-5.2 .4-.7 .3 4.8 .4 5.4 .3-21.9 .4 8.6 .3 6.2 .4-4.8 .3 9.5 .4-2.7 .3 1.1 .4 1.5 .3-3.6 .4 10.8 .3-.2 .4 .5 .3-11.4 .4 11.7 .3 3.6 .4-5.8 .3 4.8 .4-11.3 .3 7 .4 5.1 .3 3.7 .4 1.5 .3 7.3 .4-6.7 .3-9.8 .4 18 .3-11.6 .4 2.7 .3 18 .4-6.5 .3-3.3 .4-2.7 .3 5.2 .4 .5 .3 8 .4-5 .3-5.1 .4 15.4 .3-5.1 .4-5.4 .3 1.1 .4 6.4 .3-4.9 .4 8.6 .3 .9 .4-10 .3 14.6 .4 .6 .3 4.3 .4-4 .3 1 .4-4.9 .3-6.2 .4 4.3 .3 17.2 .4-7.7 .3 7.1 .4-8.9 .3 4.1 .4-9.5 .3 3.6 .4 2 .3 2.7 .4 .3 .3-.2 .4-.4 .3 1.4 .4 9.1 .3-9.6 .4 4.4 .3-11.5 .4 7 .3 1.5 .4 .7 .3-3.3 .4 1.8 .3 8.8 .4-6.5 .3-.4 .4-7.7 .3-.6 .4 5 .3-1.4 .4 16.5 .3-24.1 .4 11.3 .3-6.2 .4 8.7 .3-9.3 .4 1.4 .3 .7 .4 4.3 .3 2.8 .4 2.8 .3-5.3 .4 .3 .3 5.7 .4-1.2 .3-7 .4 8.2 .3 .6 .4-7.3 .3 4.7 .4-4.1 .3 .8 .4 2.6 .3 .3 .4-.3 .3 .6 .4-3.2 .3 5.9 .4-4.7 .3 8.1 .4-5.8 .3-1.8 .4-1.8 .3 3.6 .4-.8 .3 2.1 .4-.9 .3-8.9 .4 12.8 .3-11.5 .4 11.6 .3-.2 .4 3.2 .3-5.1 .4-5.2 .3 3.6 .4 0 .3 1.6 .4-1.9 .3 2.5 .4-4.5 .3 1.9 .4 1.6 .3-.8 .4-4.3 .3 14.1 .4-7.5 .3 2.2 .4-4.9 .3 8.8 .4-4.2 .3 7.6 .4-14 .3 3 .4-.7 .3 1.8 .4-3.2 .3-3.1 .4 5.4 .3 1.3 .4-2 .3 13.1 .4-12.8 .3-1 .4 5.1 .3-3.5 .4-1.8 .3 .2 .4 9.6 .3 1.1 .4-7.6 .3-3.1 .4 3.9 .3-4.7 .4 1.4 .3 1.8 .4-1 .3-.4 .4 11.3 .3-13.8 .4 4.6 .3-9.6 .4 3 .3 2.9 .4 15 .3-10 .4 2.6 .3-12.5 .4 9.5 .3-2 .4-.1 .3 2.5 .4-3.5 .3 1.8 .4-2.3 .3 1.4 .4 1.1 .3-4.2 .4 2 .3 1.4 .4 .5 .3 3.3 .4-2 .3-.6 .4 4.1 .3-7.7 .4-2.2 .3 4.6 .4-3.6 .3 4.8 .4 .2 .3-5.1 .4 6.5 .3-1.5 .4-1 .3 6.8 .4-1.9 .3-7 .4-1 .3 9.9 .4-10 .3 6.4 .4-4.1 .3 .6 .4 1.5 .3 6.1 .4-18.5 .3 8.2 .4 5.8 .3-2.8 .4-1 .3 10.7 .4-11 .3 4.1 .4 7.1 .3-6.5 .4-.6 .3 .1 .4 1.2 .3-5.2 .4 3 .3 2.2 .4 2 .3 .6 .4-.1 .3-11.2 .4 4.6 .3 .7 .4 5.5 .3-5.8 .4-1.5 .3-8.9 .4 9.2 .3 4.6 .4-13.7 .3 7.2 .4 2.1 .3 1.9 .4-1.3 .3 6 .4-7.9 .3 3.4 .4 2.4 .3 3.9 .4-2 .3-9.1 .4 7.4 .3-1.5 .4-2.1 .3-9.5 .4 6.4 .3 6.1 .4-8.4 .3 4.5 .4-.7 .3 4.6 .4-3.5 .3-4.8 .4 5 .3-.5 .4 3.4 .3-3.4 .4 3.2 .3-1.4 .4 4.8 .3-3 .4-2.8 .3 .6 .4-.1 .3 4.9 .4-9 .3 3.8 .4 .8 .3-.7 .4 1.2 .3-.8 .4-.6 .3 2.3 .4-3.1 .3 2.3 .4 1.3 .3-6.7 .4 3.1 .3 9 .4 1.6 .3 2.9 .4-20.4 .3 12 .4 3.4 .3-1.4 .4-3.7 .3-.4 .4 .5 .3-1.4 .4 2.3 .3-2.9 .4-2.7 .3-2.9 .4 11.4 .3-3.3 .4-6 .3 7.1 .4-5.3 .3 2.8 .4-2.2 .3-1.7 .4-.7 .3-3.1 .4 .2 .3-.3 .4 .9 .3 9.6 .4-3.6 .3-4.7 .4 4.7 .3 .2 .4-.3 .3-3 .4 2.5 .3 5.1 .4-5.5 .3 .9 .4 6.7 .3-9.3 .4 4.6 .3-2.1 .4 3 .3-4 .4 1.4 .3-1.3 .4 5.5 .3 1.5 .4-5 .3 10.1 .4-9 .3 1.6 .4 1.6 .3-7.4 .4 14.1 .3-12.8 .4 .8 .3-3.5 .4 7 .3-4.8 .4 2.9 .3-4.4 .4 1.6 .3 .3 .4-1.6 .3-6.5 .4 11.6 .3 5.3 .4-10.6 .3-1.1 .4 2.6 .3-4.9 .4 7.3 .3-2.2 .4 1.4 .3 5.3 .4-1.3 .3 1.9 .4 .6 .3-6.2 .4-.7 .3-8.8 .4 3.4 .3 5.5 .4 4.1 .3-4.7 .4-11.6 .3 9.1 .4 5.5 .3-6.5 .4 .8 .3 1.2 .4 2.8 .3 3 .4-6.7 .3 3.6 .4-.6 .3-.6 .4 1 .3 2.8 .4-6.2 .3 2.8 .4-5.5 .3 5.6 .4 2.9 .3 9 .4-12.2 .3-1.6 .4 2.4 .3-1.6 .4-4 .3 5.2 .4 2.9 .3 2.1 .4 5.4 .3-11.7 .4-1.3 .3-2.8 .4 4.7 .3 3.7 .4-5.8 .3 6.6 .4-2.2 .3-5 .4 4.2 .3 2.4 .4 3.4 .3-10.7 .4 7.3 .3-.8 .4-5.2 .3 .7 .4 10.1 .3-9.4 .4-.8 .3 3.8 .4-6.5 .3 4.4 .4-1 .3 1.4 .4 .5 .3 .3 .4-1.6 .3 5.6 .4-1.3 .3 3.1 .4-7.3 .3 2.5 .4-2.6 .3-1.5 .4 3.2 .3 6.3 .4-4.4 .3-5.1 .4-.7 .3 5.3 .4-.9 .3 2.6 .4-8.6 .3 8.6 .4-4.9 .3-1.6 .4 .8 .3 13.3 .4-3.7 .3-14.4 .4 4.5 .3 3.5 .4-11 .3 0 .4 .8 .3 12.8 .4-6 .3-.2 .4 4.6 .3-4.6 .4 3.8 .3-3.3 .4-.7 .3 .9 .4-2.9 .3-2.8 .4 11.1 .3 0 .4-4.9 .3 1.9 .4 2.8 .3-5.3 .4 2.7 .3 .6 .4-8.8 .3 1.9 .4 6.8 .3-.6 .4-5.2 .3 7 .4-.5 .3-4.5 .4 0 .3-3.8 .4 4.7 .3-4.8 .4 5.5 .3 .7 .4-.4 .3-7.3 .4 7.6 .3 1.5 .4-6.8 .3 5.1 .4 2.7 .3-6.7 .4 9.2 .3 3.8 .4-7.9 .3 2.7 .4-6.7 .3 3.4 .4 5.2 .3-14.8 .4 11.7 .3-6 .4 5.6 .3-2 .4 2 .3-3.9 .4 .4 .3 6.8 .4-13.1 .3 2.6 .4 14 .3-4 .4-10.2 .3 14.2 .4-12.2 .3 7.4 .4 .4 .3-16.1 .4-1.7 .3 10.6 .4 8.3 .3-3.8 .4-3.9 .3 5.2 .4-6 .3 .4 .4-2.1 .3 11.9 .4-5.4 .3-3.5 .4-1.9 .3 11.3 .4-10 .3-2.1 .4 2.3 .3 2.6 .4 .6 .3-7.9 .4 12.9 .3-6.2 .4-8.6 .3 11 .4 6 .3-6.1 .4-15.9 .3 11.9 .4 .8 .3 4.5 .4-5.2 .3-6.4 .4 13.3 .3 1.1 .4-8.1 .3-7.6 .4 11.5 .3-1.6 .4 7.5 .3-21.9 .4 11.6 .3-1.5 .4-3.3 .3 7.4 .4-3.5 .3-7.4 .4 4.2 .3 7.7 .4-2.4 .3-3.7 .4 4.5 .3-6.3 .4 6.1 .3-.2 .4-13.5 .3 12.2 .4 2 .3 .4 .4-.7 .3 3.2 .4-2.6 .3 3.9 .4-7 .3-8.6 .4 5.7 .3 1.6 .4-6.6 .3 3.2 .4 5.4 .3-2.5 .4 .4 .3 4.2 .4 1.9 .3 .2 .4-5.5 .3 2.9 .4 2.3 .3-8.3 .4 1 .3 4.3 .4-3.4 .3-1.1 .4 2.2 .3-10.8 .4 11.4 .3-7.7 .4 5.6 .3-.4 .4 1.4 .3-3.3 .4 4.5 .3 1.8 .4-3 .3 7.9 .4-2.2 .3-6.1 .4-7.1 .3 11.4 .4-5.2 .3 1.1 .4 1.9 .3 11.6 .4-14 .3 1.5 .4 1.2 .3 .5 .4-4.5 .3 3.6 .4-.4 .3 .9 .4-6.4 .3 .3 .4 15.1 .3-6.9 .4 .1 .3 3.3 .4 1.7 .3-9.6 .4 3.2 .3-1.3 .4-.8 .3 1.1 .4-3.2 .3 6 .4-5.2 .3-3.6 .4-8 .3 13.3 .4-3.9 .3 11 .4-11.7 .3 1.7 .4 13.4 .3-11.8 .4 6.2 .3-3.6 .4-7.9 .3 2 .4 2 .3 5.8 .4-6.4 .3 1 .4 .1 .3-1.4 .4 4.4 .3-10.7 .4 4.9 .3 6.3 .4-2.8 .3-.9 .4-1.2 .3-3.6 .4 4.3 .3 12.5 .4-11.6 .3-.2 .4 11.6 .3-7.2 .4 7.1 .3-4.1 .4-6.9 .3-3.2 .4 2.7 .3-2.3 .4 4.5 .3-7.9 .4 4.2 .3 4.1 .4-4.3 .3 1 .4-6.5 .3 3.7 .4 10.2 .3-7.1 .4-2.5 .3 1.2 .4 2.6 .3 .1 .4 .7 .3-5.7 .4-.7 .3 3.6 .4-1 .3 .3 .4-3.5 .3 1.3 .4 3.9 .3-3.6 .4 3.6 .3-10.8 .4 16.2 .3-11.2 .4 2.9 .3 6.5 .4-8.9 .3-.4 .4 15 .3-6.6 .4-5.6 .3-7.6 .4 8.1 .3-3.3 .4-.6 .3 9.9 .4-6.1 .3-1.4 .4-6.9 .3 6.1 .4 5.6 .3-6.4 .4 .2 .3 2.3 .4-3.3 .3 2.8 .4 2.2 .3-4.7 .4 1.7 .3 .7 .4-1.7 .3-1.8 .4-2.4 .3 5.6 .4 6.8 .3-18.8 .4 16 .3 4.4 .4-8.8 .3 9.3 .4-7.8 .3-1.6 .4-.6 .3 0 .4 1.7 .3-4.2 .4 4.5 .3-2 .4 1.5 .3 5.9 .4-10.1 .3 1.8 .4-1.3 .3-5.8 .4 8.8 .3 0 .4 11.3 .3-11.6 .4-1.7 .3 6.5 .4-17.9 .3 10.4 .4 4.2 .3-6.4 .4 2.8 .3 5.2 .4-5.5 .3-1.2 .4 7.8 .3-11.8 .4 10.8 .3-6 .4-1.5 .3 3 .4-.1 .3 9.3 .4-6.8 .3-2.7 .4 .7 .3-2.1 .4 13.3 .3-12.7 .4 6.1 .3-3.9 .4 4.9 .3-7.4 .4 .5 .3-.5 .4 4.8 .3 4.5 .4-4.6 .3-4 .4 4 .3-1.6 .4-2 .3-3.7 .4 .9 .3 4.4 .4-5 .3 3.6 .4 2.8 .3-2 .4-.4 .3-3.2 .4-2.7 .3-4.4 .4 1.1 .3 5.6 .4 3.1 .3-1 .4-2.6 .3 1.4 .4 1.4 .3 3.5 .4-1.9 .3-10 .4 8.6 .3-3.3 .4 7.7 .3 .8 .4-4.7 .3 1.8 .4-.6 .3 1.9 .4-5.5 .3-.6 .4 5 .3 6.4 .4-11.4 .3 3.2 .4-.1 .3-1.3 .4 3.4 .3-7 .4 3.6 .3 .5 .4 8.7 .3-6.5 .4 .3 .3 10.3 .4-14.9 .3 3.6 .4-6.1 .3 1.5 .4 5.6 .3 1.9 .4-2.5 .3-.5 .4 2.5 .3 5.4 .4-1.8 .3-3.3 .4-3.8 .3 3.2 .4-5.2 .3 8.3 .4-7.7 .3 13.2 .4-12.9 .3-.4 .4 .8 .3 1.3 .4-3.1 .3 1 .4 7.2 .3 1.8 .4-10.8 .3 3.6 .4-.2 .3 4.2 .4-2.3 .3-2.1 .4 3.6 .3-2.2 .4-3.9 .3 6 .4-3.4 .3 5.3 .4-3.9 .3-5.6 .4 6.5 .3-2 .4-.5 .3-1 .4 1.8 .3-8.7 .4 7 .3 6.9 .4-10.4 .3-1.6 .4 3.6 .3 .6 .4-1.4 .3 .6 .4 1.4 .3 1.3 .4-11.3 .3 6.7 .4 1.6 .3-12.4 .4 18.8 .3-7.5 .4-2.2 .3-1.4 .4-5.4 .3-4.5 .4 7.1 .3 3.4 .4-5.7 .3-17.1 .4-.1 .3 7.5 .4-1.8 .3-2 .4 2.3 .3-1.4 .4 5.5 .3-18.6 .4-1.9 .3 11.5 .4-16.2 .3-15.2 .4 12.9 .3-9.9 .4-8.8 .3-.4 .4-.3 .3-1.2 .4-4.1 .3 3.3 .4-2.8 .3 13.8 .4-7.5 .3-10.4 .4-.6 .3 14.1 .4-3.1 .3 14.2 .4-12.7 .3-2.3 .4-5.3 .3 16.6 .4-9.6 .3 10.8 .4 .6 .3 3.8 .4 8.2 .3-10.5 .4 4.9 .3 5.1 .4-4.6 .3-1.2 .4 3.5 .3 15 .4-3 .3-5.8 .4-9 .3 15.6 .4-2.7 .3-1.1 .4-.3 .3 3.5 .4-1.1 .3 9.9 .4-7.6 .3 5.8 .4 1.2 .3-1 .4-6.2 .3 .8 .4-.4 .3-12.7 .4 21.3 .3-13.3 .4 5.2 .3 1.5 .4 1.6 .3-2.8 .4 1 .3 3 .4-2.6 .3 .5 .4 3.5 .3-11.8 .4 7.9 .3-11.1 .4 7.2 .3-5.9 .4 16.5 .3-6.1 .4 2.3 .3 3.6 .4-.8 .3 6 .4-6.7 .3 2.6 .4 3.7 .3-10.1 .4 6.1 .3-5.6 .4 7.4 .3-1.6 .4 6.5 .3-3.9 .4-3.3 .3 9.6 .4-5.2 .3-10.7 .4 9.8 .3 1.7 .4-9.4 .3 6.3 .4 2.9 .3 .6 .4 1 .3-1.3 .4 .4 .3 1.4 .4-1 .3 3.9 .4 .5 .3-14.9 .4 8 .3-1.6 .4 4.5 .3 .1 .4 3.7 .3-.2 .4 3 .3-3.5 .4-.9 .3 12 .4-11.5 .3-2 .4-.9 .3-7.6 .4 17.3 .3-5.3 .4-3.5 .3 6 .4-2.3 .3-2.9 .4 9 .3-3.2 .4-5.9 .3-.1 .4-3.7 .3-1.3 .4 4.5 .3-1.8 .4-4.1 .3 9.4 .4 6.9 .3-7.4 .4 4.4 .3-1.2 .4-3.5 .3-1.1 .4-1.3 .3 1.2 .4-1.5 .3-2.1 .4 3.8 .3 1.5 .4-.7 .3 1.7 .4-3.6 .3-11.1 .4 9.6 .3 1.2 .4 2.4 .3-1.2 .4 2.4 .3-4.1 .4 2.7 .3-12.1 .4 14.2 .3 3.2 .4-.1 .3 .6 .4-8.1 .3 15.1 .4-11.1 .3-3.8 .4-2.3 .3-.8 .4 8.2 .3 0 .4 2.1 .3-1.5 .4-1 .3-4 .4 6.3 .3-14.4 .4 13.9 .3-5.1 .4 0 .3 10 .4 1 .3-4.5 .4-4.7 .3 2.7 .4-1 .3-3.6 .4 2.6 .3-4.8 .4 17.7 .3-12.6 .4 1.9 .3-1.5 .4 3.8 .3-.7 .4 2.3 .3-14.9 .4 9.3 .3 4 .4-.1 .3 3.1 .4-9.8 .3 5.3 .4 .4 .3 1 .4-1.3 .3 3.5 .4-7.5 .3-1.8 .4 5.8 .3-4.2 .4 5.2 .3 1.5 .4-6.7 .3 6 .4 .8 .3 .1 .4-10 .3 12.4 .4-.6 .3-3.7 .4 1.6 .3 2.6 .4 1.6 .3-6.2 .4 5.2 .3-3.2 .4 8.8 .3-3.3 .4-5.9 .3 0 .4 1.1 .3 8.9 .4-13 .3 4.7 .4 .8 .3 .9 .4-8.9 .3 7.7 .4-1.2 .3-.9 .4 11 .3-15 .4 7.2 .3-5 .4 10.9 .3-7.8 .4-.3 .3-2.1 .4 2.6 .3 4.3 .4-11.2 .3 8 .4-5.5 .3 1.4 .4 7 .3-10.9 .4 8.8 .3-9.6 .4 7.5 .3 .9 .4-5.2 .3 7.4 .4-6 .3 2.6 .4-2.3 .3 5.1 .4-5 .3 .2 .4-10 .3 17.7 .4-14.8 .3 7.7 .4 2.8 .3-2.7 .4 2.2 .3-1.9 .4 6 .3-8.8 .4-7.4 .3 5.8 .4 5.7 .3 .5 .4 3.1 .3 4.4 .4-9 .3 4.3 .4-4.3 .3-.3 .4-3.6 .3 9.2 .4-6 .3 2.6 .4-1.1 .3 12 .4-14.5 .3 2.7 .4 2.6 .3-6.3 .4 6.9 .3-3.2 .4-5.8 .3 14.8 .4-10.1 .3 .5 .4 3 .3 6.2 .4-11.6 .3-2 .4 6.8 .3-.8 .4-1.9 .3 1.5 .4 6.4 .3-3.6 .4-3.5 .3 5.3 .4 .2 .3-3.3 .4-7.7 .3 5.4 .4 .4 .3 4 .4-4.8 .3 .8 .4 1 .3-8.1 .4-1.4 .3-2.1 .4 4.3 .3 3 .4-5.8 .3 8.8 .4-.2 .3-.9 .4-11.8 .3 12.3 .4-4.9 .3-7.5 .4 15.3 .3 2.8 .4-12.6 .3 8 .4-9.1 .3 8.4 .4 .3 .3-.3 .4 11.5 .3-11.3 .4-4.7 .3 10.7 .4-8.7 .3 2 .4-.8 .3 3.8 .4-9.4 .3 5 .4 .7 .3 1.1 .4 5.1 .3-7.6 .4 .5 .3 2.7 .4-4.5 .3 3.1 .4-1.6 .3 2.5 .4-.4 .3 1 .4-2.1 .3-2.1 .4-9.6 .3 12.9 .4-3.5 .3-9.5 .4 11.2 .3-1 .4 3.6 .3-3.4 .4 .7 .3 3.2 .4-.6 .3-5.4 .4 4.5 .3 6.3 .4-1 .3-1.8 .4-6.1 .3 10.6 .4-11.8 .3 2.4 .4-4.4 .3 5.6 .4 1.5 .3-.4 .4-13.8 .3 23.7 .4-13.2 .3 3.9 .4 4.4 .3-3.8 .4-2.7 .3 .1 .4-4.6 .3 3.4 .4 4.5 .3-2.1 .4-.2 .3 .2 .4-2.8 .3 12.4 .4-12.6 .3-2 .4 4.8 .3-5.2 .4 14.2 .3-9.9 .4-5.5 .3-5.6 .4 11.3 .3-9.4 .4 .8 .3 7.1 .4 .3 .3 4.1 .4-8.5 .3 9.3 .4-5.3 .3 4.9 .4-8.4 .3-4 .4 7.6 .3-2.4 .4 2.7 .3 3.7 .4 1.6 .3-11.2 .4 3.7 .3 .6 .4-2 .3 3.4 .4-7.5 .3 4.5 .4-3.9 .3 6.7 .4 7.7 .3-11.5 .4 9.2 .3-6.7 .4 3.9 .3 1.6 .4-3.2 .3 1.1 .4-.9 .3 5.7 .4-4 .3-3.5 .4-1.3 .3-2.2 .4 4.1 .3-2.8 .4 0 .3 7.7 .4-3.3 .3-1.5 .4 3.7 .3-3.9 .4-1.1 .3 2.4 .4-.8 .3-3.9 .4 1.4 .3 2 .4-3.6 .3 8.9 .4-15.2 .3 12.9 .4 5.9 .3-10.9 .4-4.6 .3 5.9 .4-4.5 .3 1.8 .4-4.1 .3-1.9 .4 11 .3-15.9 .4-1.3 .3 10.5 .4-.3 .3-4.7 .4 .7 .3 3.1 .4-.5 .3 1.1 .4-1.1 .3 12.9 .4-15.1 .3 6.3 .4-3.3 .3 2.5 .4 .4 .3 6.2 .4-2.5 .3-1.7 .4 1.9 .3-.4 .4 .6 .3-2.8 .4 1.6 .3 .7 .4-5.8 .3-6 .4 13 .3-3.7 .4 6.3 .3-13.6 .4 7.7 .3 3.9 .4-5.7 .3 4.1 .4-1.2 .3-.3 .4-.4 .3 13.2 .4-12.1 .3-3.4 .4 11.2 .3-10.1 .4 6.2 .3-.9 .4 .7 .3 .8 .4-6.2 .3-5.5 .4 8.5 .3 .2 .4-2.2 .3 6 .4-8.6 .3 5.3 .4 .2 .3-12.5 .4 15.7 .3-4.5 .4 .9 .3-3.7 .4 3.2 .3 .5 .4 1.1 .3-9.9 .4 8.6 .3 .5 .4 8.3 .3-7.4 .4 .8 .3-2 .4 .4 .3 11.7 .4-12.3 .3 13 .4-11.4 .3 5.3 .4-5.6 .3 3 .4 .1 .3-4.5 .4-.6 .3 8.8 .4-8.8 .3 4.4 .4-6.5 .3 3.6 .4-.9 .3-1.1 .4-.5 .3 11.9 .4-7.9 .3-1.7 .4 .9 .3 3.5 .4-2.5 .3-6.3 .4 1.7 .3 8.4 .4-4.9 .3 .3 .4-4.6 .3-.6 .4 1.6 .3 1.4 .4 2 .3-1.5 .4 2.6 .3-2 .4 .6 .3 8.1 .4-16.8 .3 9.8 .4 1.1 .3-5.8 .4 8.1 .3-9.4 .4 8.3 .3-6.7 .4 2.8 .3-.2 .4 1.4 .3 .6 .4-9.9 .3 12.3 .4-3.3 .3 6.2 .4-10.1 .3 3.4 .4 8.9 .3-7.3 .4-1.1 .3-.2 .4 6.4 .3-18.5 .4 24.8 .3-12.6 .4 3.9 .3-3.7 .4 3.8 .3-9.3 .4 5.1 .3 3.3 .4 9.7 .3-12.2 .4-6.8 .3 9.1 .4-1.1 .3-5.4 .4 1.2 .3 3.1 .4-3.9 .3 10.2 .4 6.1 .3-9.9 .4 1.7 .3-5.5 .4-3.9 .3 7.6 .4 1 .3-1.4 .4-5.3 .3-6.6 .4 10.7 .3-4.6 .4 2.4 .3 1.7 .4-2.2 .3 9.5 .4-8.5 .3 2 .4 9.8 .3-8.7 .4-2.4 .3 3.5 .4-5.8 .3-2.1 .4-3.4 .3 10.4 .4-.1 .3 .2 .4 0 .3-.8 .4 6.9 .3-7.7 .4-4.6 .3 2.5 .4 1.8 .3 1.6 .4-2 .3 .7 .4-1.3 .3 4 .4 2 .3-5.4 .4 4.6 .3-6.4 .4 13.7 .3-11.6 .4 2.6 .3-.5 .4-7.1 .3 7 .4-8.9 .3 8.2 .4 .4 .3 8 .4-11.7 .3-4.6 .4 9.2 .3-2.6 .4 2 .3-2.6 .4 4 .3-6.4 .4 4.9 .3 2.7 .4 2.7 .3-6.8 .4 1.8 .3 8 .4-12.7 .3 8.3 .4-1.6 .3 7.2 .4-9.4 .3-.2 .4 .7 .3-1.4 .4-6.4 .3 8.1 .4-1.4 .3 1 .4 1.8 .3-2.6 .4-3.1 .3 7.8 .4 3.9 .3-10.3 .4 3.6 .3-1.9 .4 2.9 .3-9.5 .4 14.1 .3-2 .4-8.8 .3 5.7 .4-2.6 .3-1.5 .4 7.2 .3-1.7 .4-1.8 .3 .4 .4 3.8 .3-6 .4 1.3 .3-2.7 .4 2.4 .3-3.3 .4 2.5 .3 2.5 .4-3.3 .3 3.4 .4 1.9 .3-2.1 .4-1.2 .3-.6 .4-5.9 .3 9.5 .4 5.8 .3-11 .4 4.3 .3-.9 .4 2.7 .3-1.8 .4-4.9 .3-1.2 .4 3.2 .3-2.1 .4 4.3 .3-6.8 .4 7.6 .3 1.5 .4-11.7 .3 14 .4-1.6 .3-12.2 .4 9 .3-10.4 .4 9.9 .3-6.1 .4 6.9 .3-7.1 .4 .6 .3 15.9 .4-6.5 .3-1.8 .4 1.5 .3-5.9 .4-2.6 .3 4 .4 4.2 .3-.1 .4-.5 .3-2.6 .4 .8 .3 2.2 .4-1.6 .3-3.5 .4 2.7 .3 7.4 .4 1.8 .3-15.5 .4 1.6 .3-2.5 .4 7.6 .3 5.5 .4-5.4 .3-1.5 .4 6.5 .3-7.6 .4 3 .3 4.8 .4-.4 .3-9.4 .4 3 .3 1 .4 3.5 .3-1.1 .4-1.3 .3-1.3 .4-.9 .3 2.6 .4 2.7 .3-4.5 .4-.7 .3-10.4 .4 7.1 .3 .6 .4 4.2 .3 3.4 .4-3.6 .3-3.5 .4 .5 .3 12.2 .4-7.3 .3-2.8 .4 5.9 .3 3.9 .4-7.6 .3-.6 .4-.6 .3 0 .4 5.6 .3-2.6 .4 4.1 .3-15.6 .4 4.9 .3 4.9 .4 .5 .3-1.1 .4 .6 .3 5.6 .4-5.2 .3-2.7 .4 2.3 .3-1.8 .4 2.9 .3-.3 .4 1.2 .3 8.6 .4-10.4 .3-9.1 .4 9.1 .3 .1 .4 3.1 .3 3.7 .4-10.7 .3 9.2 .4-8.9 .3 4.5 .4-13.1 .3 16.5 .4-4.7 .3-2.3 .4 10.9 .3-14 .4 4.9 .3 1.1 .4-2 .3 1.1 .4 5.3 .3-7.3 .4 3.7 .3-3.4 .4 4 .3-3.3 .4 .8 .3 1.9 .4-2.6 .3 4.6 .4-4.9 .3 6.8 .4-2.1 .3-6.5 .4 4.9 .3-7.2 .4 3.4 .3 2.2 .4 3.5 .3-.9 .4-.6 .3-3.7 .4 1.7 .3 3.5 .4-1.6 .3-1.4 .4-5.4 .3-1.4 .4 15.1 .3-7.2 .4 6.1 .3-7.9 .4 3.3 .3-3 .4 7.5 .3-7.8 .4 3.2 .3 9.2 .4-7.3 .3-1.7 .4-1.4 .3 1.3 .4-12.5 .3 7.7 .4 2.8 .3-6.2 .4 5.7 .3 2.1 .4 5.1 .3 2 .4-17.5 .3 10.9 .4 2 .3 .9 .4-6.4 .3-8.3 .4 10 .3 .9 .4-1.8 .3 .7 .4 4.2 .3-4.1 .4-.5 .3 1.3 .4 1.9 .3-2.9 .4 3.3 .3 7.3 .4-3.6 .3-1.1 .4 5.2 .3-1.1 .4-6 .3 1.4 .4-2.9 .3 1.6 .4 6.1 .3-6.3 .4-.5 .3 1.9 .4-1.5 .3-5.5 .4 4.9 .3-3.5 .4 10.7 .3-3.9 .4-2.6 .3-6.3 .4 1.6 .3 3 .4 2.4 .3-5.5 .4 4.3 .3-2.3 .4-1.9 .3 .5 .4 0 .3 8.8 .4-7.3 .3-1.6 .4 8.9 .3 5.1 .4-6.6 .3-8.8 .4 2.1 .3 .3 .4-1.3 .3 5.5 .4-7.4 .3 10.6 .4-3.7 .3-2.6 .4-2.5 .3 6.3 .4 2.3 .3-2.2 .4-3.2 .3 5.8 .4-3.1 .3 .5 .4 5.2 .3-4.4 .4-6.6 .3 6.7 .4-3.7 .3 4.8 .4-2.6 .3-.3 .4-4.8 .3-5.8 .4 20.4 .3-20.3 .4 1.7 .3 7.5 .4 7.4 .3-7.1 .4 11.8 .3-10.5 .4 1.4 .3-.2 .4 3.9 .3 2 .4-11.4 .3 3.1 .4-2 .3 10.9 .4-10.6 .3-1.7 .4-9 .3 11.5 .4-14.8 .3 13.5 .4-3.7 .3 3.5 .4 10.7 .3-14.1 .4 1.4 .3-.3 .4-4.8 .3 6 .4-.9 .3 .6 .4-6.2 .3-4.7 .4 5.9 .3-4.8 .4 2.6 .3-10.6 .4 11 .3-.9 .4-.8 .3 .1 .4-8.8 .3 8.3 .4 1.3 .3-3.4 .4 1.6 .3 2.4 .4-3.7 .3 6.5 .4-4.7 .3-3 .4-7.6 .3 5.9 .4-10.3 .3 18.6 .4-18.6 .3 5.2 .4-1.1 .3 8.1 .4 1 .3-4.7 .4 1.9 .3-7.8 .4 8 .3-12.7 .4 3.8 .3 6.1 .4-3.5 .3 5.4 .4-3.6 .3-8.5 .4 2.2 .3 14 .4-12.3 .3 1 .4-11.1 .3 15.9 .4-9.5 .3-5.6 .4 4.7 .3 5.9 .4-7.1 .3 13.2 .4-6.8 .3-8.1 .4 10.6 .3-8 .4-6 .3-3.9 .4-5.1 .3 11.8 .4 2.8 .3-8.1 .4 1.9 .3 15.5 .4-7.7 .3-5.2 .4 10.5 .3-8.4 .4-2.1 .3 1.5 .4-.5 .3 4.7 .4-2.7 .3 2.3 .4 .8 .3-.6 .4 0 .3-.5 .4-1.2 .3-3 .4 8.7 .3-14.7 .4 16 .3 .7 .4 1.2 .3-2 .4 8 .3-9.6 .4 .9 .3-1.5 .4-11.1 .3 13.1 .4 .7 .3-.1 .4-9.4 .3 5.7 .4 2.2 .3 1.7 .4-2.4 .3 2.3 .4-.7 .3-3.5 .4 11.1 .3-4.2 .4 11.9 .3-11.7 .4 .3 .3-2.1 .4 4.8 .3-3.6 .4 4.2 .3-4 .4 2.8 .3-.8 .4-2.2 .3-5.3 .4 3.5 .3 2.5 .4 .4 .3-2.8 .4 .8 .3 .9 .4 2.1 .3-6.6 .4 5.7 .3 2.5 .4 2.5 .3-3.9 .4 8.4 .3-6 .4 1 .3-7.9 .4 4.9 .3-9.6 .4 11.3 .3-3 .4 6.8 .3-9.9 .4-2 .3 6.2 .4-3.3 .3 4.7 .4-.9 .3-10.4 .4 8.5 .3-1.6 .4 .7 .3 16.5 .4-12 .3 2.4 .4-3.8 .3-2.7 .4 2.3 .3 3.3 .4-2.4 .3-11.9 .4 13.2 .3-.2 .4 1.6 .3-11.9 .4 15.8 .3-5.6 .4-.8 .3-.7 .4 6.3 .3-6.5 .4 .5 .3 7.4 .4-5.6 .3-8.1 .4 3.4 .3 7.6 .4-3.9 .3-.2 .4 0 .3 12.3 .4-10.4 .3 5.7 .4-2.3 .3 0 .4-.1 .3-4.6 .4 5.6 .3-3.8 .4-3.6 .3 1.4 .4 2.8 .3-.3 .4 12.8 .3-11.5 .4 0 .3-8.9 .4 1 .3 5.4 .4 1.5 .3 7.4 .4-14.9 .3 10.2 .4-1 .3-3.5 .4 9 .3-7.2 .4 5 .3-6 .4 2.7 .3 2.4 .4 1.8 .3-5.7 .4-1.7 .3 4.4 .4-.1 .3-9.4 .4 9.2 .3 6.9 .4-10 .3 3.6 .4 5.4 .3-7.2 .4 4.6 .3 2.1 .4-13.7 .3 6.4 .4-.6 .3 8.6 .4-5.1 .3-5.6 .4 4 .3-1.1 .4 14.7 .3-7.4 .4-.7 .3-9.5 .4 4.5 .3 .6 .4-1.1 .3 6.8 .4-5.4 .3 3 .4-1.9 .3-1.3 .4-5.2 .3 10.5 .4-4.5 .3-6.5 .4 6.6 .3-8.2 .4 7 .3 7.2 .4-6.8 .3-.1 .4-.2 .3 2.3 .4-.5 .3-.8 .4 5.2 .3-4.4 .4 4.2 .3-4.6 .4-.4 .3-2.4 .4-3.2 .3 7.5 .4-1.6 .3-3.1 .4 4.6 .3 1.8 .4-.9 .3-12.3 .4 10.3 .3 2.6 .4-2.2 .3 .4 .4 3.5 .3-7.1 .4 .4 .3 6.5 .4 3.7 .3-10.2 .4-3.5 .3 11 .4-3 .3-2.9 .4-5.7 .3 8.6 .4-4.4 .3 9.7 .4 .2 .3-3.5 .4 9.6 .3-13.5 .4-3.2 .3 6.2 .4-3.7 .3 4.2 .4-8.3 .3 5.4 .4 2.6 .3 5.9 .4-13.3 .3 5.8 .4 8.1 .3-15.5 .4 7.4 .3 2.8 .4-2.6 .3 4.4 .4-5 .3-.9 .4-8.6 .3 10.2 .4 11.3 .3-5.1 .4-18.4 .3 2.8 .4 2.1 .3 11.8 .4-5.5 .3-1 .4 4.4 .3-3.7 .4 .5 .3 2.6 .4 3.6 .3-8.9 .4 .5 .3-.1 .4 10.8 .3-7.2 .4 3.2 .3-7 .4 7.9 .3-6.3 .4 2.8 .3-3.9 .4 3 .3 2.4 .4-6.1 .3 12.7 .4-5 .3-2.3 .4 .7 .3-4.5 .4-3.8 .3 4.3 .4-3.1 .3 3.2 .4 4.1 .3-6.4 .4-2.9 .3 9.9 .4 3.6 .3-7.6 .4-2.2 .3 8 .4-12.6 .3 6.2 .4 4.6 .3-1.1 .4 .4 .3-2.7 .4 1.9 .3-3.5 .4 6.3 .3-1.6 .4 4.5 .3-4.9 .4-.5 .3-5.5 .4 3.9 .3-7 .4 12.7 .3-3.1 .4-2.9 .3 3.6 .4 .8 .3-5.8 .4 2.7 .3-6.1 .4-3.4 .3 10.7 .4-5.6 .3 2.2 .4 .6 .3 7.7 .4-4.8 .3-2.4 .4 2.9 .3-5.7 .4-3.7 .3 3.8 .4 3 .3-2.1 .4 13.7 .3-11.9 .4 .1 .3 1.8 .4-2.2 .3-3.8 .4 .5 .3 2.9 .4-2.1 .3-.7 .4 2 .3 4.3 .4 1.4 .3-6.8 .4-1 .3-6 .4-3.1 .3 11.2 .4-2.2 .3 3.3 .4-4.6 .3 5.6 .4-.6 .3 5.7 .4-2.7 .3-8.3 .4 5.2 .3-1.4 .4-7.6 .3 9.1 .4 10.1 .3-14.8 .4-8 .3 9.1 .4 2.7 .3-1.7 .4 3.9 .3-3.9 .4 6.7 .3-9.2 .4 .6 .3 13.8 .4-16.4 .3 9.2 .4-8.7 .3 2.2 .4 5 .3 2.7 .4-2.8 .3 11.4 .4 0 .3-16.5 .4 4 .3 0 .4-3.2 .3 4.7 .4 3.4 .3-2.4 .4 .7 .3-5.2 .4 2.7 .3-4.1 .4 6.2 .3 4.3 .4-6.9 .3 .2 .4 2.1 .3 3.2 .4-11.3 .3 8.4 .4 3 .3-8.6 .4 1.3 .3 1.6 .4 1 .3-1.1 .4 .9 .3-1.4 .4 .3 .3-1.1 .4 3 .3 6 .4 5.1 .3-13.3 .4-7.5 .3 9.6 .4 7.2 .3 0 .4-6.7 .3-2.6 .4-5.2 .3 6 .4 1.6 .3 .7 .4-.6 .3 1.6 .4-8.2 .3 5.4 .4-.5 .3 .4 .4-.2 .3 1 .4-6.2 .3-6.9 .4 11.9 .3 1.2 .4-1.3 .3 .7 .4-.8 .3 4.2 .4 0 .3-7.6 .4 5.2 .3-.8 .4-7.8 .3 1.6 .4 9.6 .3-1.5 .4-6 .3 4.7 .4 4.8 .3-5.2 .4 .6 .3 .8 .4-1.3 .3 4.8 .4-7.3 .3-.4 .4-2.8 .3 5.2 .4-1.1 .3 1.5 .4-3.6 .3 3.5 .4 .2 .3-1.7 .4 5.1 .3-3.3 .4 .7 .3 7.6 .4-3.3 .3-3.7 .4-13.6 .3 13.6 .4-2.9 .3-.7 .4 3.3 .3-4.4 .4 5.9 .3 .6 .4-7.3 .3 .3 .4 10.9 .3-16.4 .4 13 .3-.8 .4-.5 .3-11.3 .4 17.1 .3-10.7 .4 8 .3-4.8 .4-1.5 .3-2.2 .4-8.7 .3 9.8 .4-2.4 .3-7.3 .4 13.8 .3 9.5 .4-10.7 .3 3.5 .4 6.4 .3-16.3 .4 5.8 .3 0 .4-1.8 .3 4.5 .4-1.6 .3-4.2 .4 11.6 .3-12.8 .4-3 .3 10.6 .4-3 .3 1.8 .4-11.2 .3 3.6 .4 4.4 .3 .6 .4 1.7 .3-1.8 .4-1.1 .3 11 .4-12.9 .3 4.7 .4-2.8 .3 6.3 .4-2.4 .3 0 .4-1.4 .3 .2 .4 12.8 .3-13 .4 2 .3-7.4 .4 6.3 .3 2.4 .4-2.8 .3 2.4 .4-.7 .3-6.6 .4 5.2 .3-9.6 .4 3.8 .3 7.5 .4-4.3 .3-5.1 .4 7.8 .3 2.1 .4-3.8 .3-1.3 .4 .7 .3-8 .4 2.1 .3 8.5 .4-2.7 .3 2.5 .4 6.7 .3-2.8 .4 .5 .3 3.1 .4-5.3 .3-1.9 .4-6.2 .3 8.8 .4-7.3 .3 3.6 .4-.2 .3 9.3 .4-2.6 .3-6.9 .4 1.4 .3 .8 .4-8 .3-3.1 .4 12 .3-.5 .4 1.1 .3 3.9 .4-9.4 .3 10 .4-8.4 .3 9.6 .4-10.5 .3 3.2 .4 3.1 .3-5.4 .4-1.8 .3 2.9 .4 .8 .3 6.6 .4-7.5 .3 4 .4 2.4 .3-16.2 .4 10.3 .3 7.8 .4-5 .3-4.4 .4 3.8 .3-.7 .4 4.7 .3-.8 .4-4.5 .3 13.3 .4-19.9 .3 14.2 .4-11.7 .3 6.2 .4-1 .3 4.3 .4-3.8 .3-1.8 .4 4 .3-2.9 .4 .4 .3 4.1 .4-4.6 .3 1.4 .4 3.2 .3 .3 .4-2 .3 .3 .4-7.6 .3 6.1 .4 .5 .3-5.2 .4 9.7 .3-3.7 .4-7 .3 .6 .4-.5 .3 1.2 .4 5 .3-6.4 .4 5 .3-1.2 .4 3.3 .3 .6 .4-.8 .3-.3 .4-.3 .3 2.2 .4-2.6 .3-3 .4-2.3 .3 6.1 .4 2.5 .3-1.3 .4-.1 .3 1 .4-9.2 .3 10.6 .4-13.8 .3 10 .4-1 .3-4 .4 5.2 .3-5.7 .4-2.8 .3 9.9 .4 3.4 .3-5.8 .4 3.8 .3 5 .4-6.1 .3-2.8 .4 8.2 .3-10 .4-.1 .3 4 .4 2.2 .3-5.9 .4 .7 .3-8.5 .4 4.3 .3 4.4 .4-4.4 .3-5 .4 13.5 .3 2.4 .4-9.6 .3 3.2 .4-10.6 .3 11.4 .4-4.4 .3 5.5 .4 1 .3 .5 .4-7.5 .3 8.7 .4 .7 .3-6 .4 12.3 .3-11.5 .4-1 .3-1.7 .4 13 .3 3.1 .4-9.1 .3-4.7 .4-1.7 .3 7 .4 0 .3-1.8 .4-14 .3 6.3 .4 6.5 .3-9.3 .4 12.3 .3 7.4 .4-.1 .3-7 .4-12.7 .3 3.8 .4 16.2 .3-10.7 .4-5.5 .3-7.2 .4 7.3 .3 10 .4-6.7 .3 4.1 .4 4.9 .3-8.4 .4 8.1 .3-1.9 .4-9.9 .3 .2 .4 10.4 .3-1.7 .4-.3 .3-2.2 .4 7.2 .3-9.2 .4 4.1 .3-.8 .4-3.2 .3-1.4 .4-3.2 .3 13.3 .4-4.7 .3-1.2 .4-4.7 .3 6 .4-6.8 .3 4.3 .4-5 .3 3.6 .4 1.2 .3 1.2 .4 4.2 .3 2.4 .4-6.1 .3-10.9 .4 7.5 .3 3 .4 2.6 .3-15.5 .4 10 .3 8 .4-.4 .3-1.6 .4-9.3 .3 2.6 .4 8.3 .3-.3 .4 2.8 .3-7.4 .4 .1 .3-4.3 .4 4.3 .3-4.1 .4 6.3 .3-3.2 .4-2.8 .3-2.3 .4-.6 .3 .8 .4 10.4 .3-7.3 .4 1.5 .3-4.7 .4 9.8 .3 6.8 .4-12.2 .3 8 .4 1.8 .3-8.4 .4-5.8 .3 5.7 .4-4.8 .3 9 .4-.1 .3-8.9 .4 2.3 .3 2.9 .4-4.2 .3 6.6 .4-3.9 .3 1.2 .4-1.6 .3 3.7 .4-.2 .3 .2 .4-4.4 .3 0 .4-1.3 .3 8.1 .4-10.6 .3 3.9 .4-8.2 .3 10.7 .4 7.5 .3-8.5 .4-9.5 .3 8.1 .4 2.6 .3-5.3 .4 4.1 .3-1.5 .4-7 .3 11.3 .4-4.7 .3-1.7 .4 4.9 .3-1.7 .4-1.1 .3-3.9 .4 17.8 .3-11.6 .4-1.1 .3 1.1 .4-.9 .3 3.3 .4 1.6 .3-6.3 .4 8.7 .3-8.7 .4 3 .3 6.5 .4-5.8 .3-9.5 .4 8.7 .3 3.4 .4-12.1 .3 4.6 .4 2.6 .3-.2 .4 12.2 .3-17.4 .4 2.5 .3 4.8 .4-6.3 .3 6.2 .4 .1 .3-.6 .4-1 .3 .4 .4-.8 .3 .2 .4-.4 .3-.4 .4-2 .3 4.2 .4 .4 .3-.5 .4-.2 .3 3.3 .4 2.8 .3-13.3 .4 6.5 .3 .5 .4-5.4 .3 4.3 .4 .8 .3-8.1 .4 8.2 .3-5 .4 4.9 .3-2.5 .4-2.3 .3-1.6 .4 7.3 .3-12.4 .4 11.5 .3-6.5 .4 9 .3-.4 .4-5.3 .3 3 .4 3.1 .3-6.7 .4 8.1 .3-2 .4 6.1 .3-6.7 .4-9.1 .3 7.7 .4 2.3 .3-1.8 .4-.8 .3-1.4 .4 4.1 .3-5.7 .4 6.7 .3-4.6 .4 2.6 .3 5.8 .4-5.7 .3 3.9 .4-10.6 .3 6.1 .4 1.2 .3-5.2 .4 5.6 .3-.3 .4-1.7 .3 3.4 .4-15.3 .3 19 .4-12.7 .3 8.6 .4-6.7 .3-8.2 .4 13 .3-.4 .4 2 .3 2.1 .4-4.7 .3 .5 .4 .5 .3-2.1 .4 4.6 .3-.6 .4-6.6 .3 5.7 .4-4.6 .3 .9 .4 2.6 .3-1 .4 1 .3-3.2 .4 5.2 .3-7.8 .4-7 .3 9.2 .4 3.1 .3 4.1 .4-5.5 .3-4.7 .4 18.3 .3-10.7 .4-3.5 .3-.8 .4-1.4 .3-1 .4 7.2 .3-7.1 .4 6.6 .3-2.3 .4 1.8 .3-2.1 .4-4 .3-7.2 .4 16.1 .3-.1 .4-8.4 .3 2.6 .4 1.8 .3 7.5 .4-8.3 .3 1.5 .4-12.7 .3 4.9 .4 9.7 .3-2.2 .4-7.1 .3 9.1 .4-5.2 .3 8.8 .4 6.6 .3-4.3 .4-11.5 .3 4.2 .4 4.2 .3-3.9 .4-7.9 .3 4.7 .4 3.7 .3-2.4 .4-2.9 .3 4.3 .4 3.8 .3-2.7 .4-3.8 .3-1.1 .4-1.9 .3 3.2 .4 2.8 .3 5.2 .4-8.1 .3 4.5 .4 5.6 .3-9 .4 3.8 .3 9.6 .4-14.8 .3 2.8 .4 4.5 .3-9.3 .4-2.1 .3 7.7 .4-.4 .3 5.1 .4-4.5 .3 4.5 .4-5.6 .3 .8 .4 2.6 .3-4.3 .4 0 .3 2.5 .4-9.1 .3 7 .4-3.9 .3 4 .4-12.1 .3 4.4 .4 8.2 .3-2 .4 3.6 .3-1.4 .4-.5 .3 4.4 .4-12.4 .3 15.2 .4-13.3 .3-2 .4 17.1 .3-12.8 .4 3.6 .3-.8 .4-1.1 .3 2.3 .4 4.9 .3-5.6 .4 1.7 .3 7.3 .4-8.7 .3-1.2 .4 1.4 .3 3.3 .4-1.5 .3 7.4 .4-10.4 .3 8.5 .4-8.1 .3-11.3 .4 13.5 .3 6 .4-9.8 .3 8.2 .4-1.6 .3-5.5 .4 4.4 .3-4.4 .4 2.6 .3-1.1 .4-3 .3 2.5 .4-.2 .3-5.6 .4 11.3 .3-6.7 .4 .3 .3 9.8 .4-9.1 .3 0 .4 4.8 .3-5.2 .4 9.5 .3-8.4 .4-.8 .3-.6 .4-.1 .3 12.1 .4-10.5 .3-6.8 .4 .5 .3 9.3 .4 2.7 .3 3.2 .4-15.4 .3 4.3 .4 6.1 .3-.1 .4 .1 .3-7.4 .4 6.3 .3-.3 .4 3.5 .3-6.1 .4 1.6 .3-4.4 .4 5.5 .3-14.1 .4 16.2 .3-2.9 .4-3.1 .3-1.5 .4 3 .3 2.5 .4 4.4 .3 2.4 .4-8.8 .3-2.1 .4-3 .3 7 .4-1.4 .3-3.6 .4 3.1 .3-1.1 .4 4 .3-9.3 .4 2.9 .3-.2 .4 3.4 .3-1.3 .4 2.2 .3-.8 .4-1.3 .3 3 .4-1.1 .3-5.3 .4 3.8 .3 1.8 .4 .2 .3-1.3 .4-3.1 .3 7.2 .4-3.6 .3 1 .4 3.4 .3-12.8 .4 3.3 .3 7.1 .4-7.6 .3-6.8 .4 23.1 .3-19 .4 12.6 .3 6.9 .4-12.1 .3 1.8 .4-6.1 .3 17.4 .4-6.9 .3-7.2 .4-4.7 .3 9.3 .4 9.5 .3-16.5 .4 9.6 .3-.9 .4-7.4 .3-.5 .4 .3 .3 1.2 .4 1.4 .3-2.5 .4 1.6 .3 2 .4 .2 .3 11.5 .4-16.3 .3 9.6 .4-8 .3-.6 .4 8.2 .3-4.6 .4 1.2 .3 3.8 .4-2.9 .3-.1 .4-3.9 .3-.2 .4 1.6 .3-.9 .4-2.5 .3 5.5 .4 .6 .3 3.3 .4-4.8 .3-1.2 .4-1.2 .3 .4 .4 4.3 .3-1.4 .4-7.7 .3 6.2 .4 4.6 .3-1.3 .4-5 .3 4.5 .4 .4 .3-3.1 .4 3.9 .3-9.1 .4 11.4 .3-3 .4-4.9 .3 3.9 .4-3.2 .3 3 .4-4.5 .3 2.7 .4-8.1 .3 18.1 .4-9.4 .3 3.9 .4-4.6 .3 .3 .4 4 .3 6.6 .4-13.3 .3-.8 .4 4.2 .3-2.6 .4 12.4 .3-11.8 .4-5.8 .3-3.2 .4 10.9 .3-3.8 .4-.8 .3 3.6 .4-4.1 .3 1.5 .4 0 .3 3.8 .4-.9 .3 4.4 .4-8.5 .3 14.3 .4-12 .3-1.5 .4 8.6 .3-11.1 .4 12.4 .3-19.8 .4 6.9 .3 4.3 .4-2.5 .3 4.2 .4-1.4 .3-3.2 .4 2 .3-11.8 .4 17.9 .3-13.8 .4 6.4 .3 7.4 .4-5.8 .3 .2 .4 .8 .3 .5 .4-3.3 .3-3.6 .4 6 .3-1.2 .4 1 .3 7.6 .4-8 .3-3.8 .4 1.8 .3 6.3 .4-7.3 .3 .5 .4 9.3 .3-7.8 .4 1.7 .3 5.4 .4-2.7 .3-15.4 .4 10.9 .3 1.5 .4-6.2 .3 .8 .4 6.3 .3-.6 .4 9.4 .3-19.6 .4-.6 .3 20.3 .4-10.7 .3-7.8 .4 7 .3-.4 .4 .2 .3 2 .4-1.8 .3-2 .4-1.7 .3-2.5 .4 15.4 .3-12.9 .4-2 .3 3.2 .4 .1 .3-1.1 .4 4.1 .3-4.4 .4-2 .3-5.3 .4 .7 .3 4.8 .4-2.5 .3-2.3 .4 8.2 .3-4.5 .4 2.4 .3 2 .4-12.6 .3 16.7 .4-8.5 .3-2.1 .4 1.3 .3-3 .4 1.4 .3 2.2 .4-4.4 .3 3 .4-1.7 .3 4.9 .4-5.6 .3 4.8 .4-15 .3 12.3 .4 .3 .3-.5 .4 .9 .3 4.2 .4-4.1 .3 3.6 .4-1.4 .3-5.5 .4 1.6 .3-2.2 .4 7.1 .3-8.7 .4 10.5 .3-4 .4-.8 .3 1.1 .4-.1 .3 .8 .4-.5 .3-2 .4 7.6 .3-4.7 .4 11.9 .3-17.4 .4 12.6 .3-6.5 .4 .7 .3 6.1 .4-14.9 .3 4.1 .4 4.1 .3-2.3 .4-10.1 .3 10.3 .4 3.7 .3 0 .4-12.2 .3 9.2 .4 6.1 .3-3.1 .4-.3 .3 9.6 .4-11.9 .3-4.8 .4 7.4 .3 .2 .4-.8 .3 8.1 .4-6.8 .3-8.6 .4 8.3 .3-8.3 .4 7.7 .3-.5 .4-12.4 .3 9.2 .4 2.7 .3-.9 .4-3.1 .3 5.6 .4 6.8 .3-16.6 .4 11.7 .3-3.9 .4-.9 .3 5.3 .4 3.9 .3 4.6 .4-4.5 .3-11.9 .4-7.5 .3 14.8 .4 .3 .3-6.8 .4 4.8 .3 .7 .4-2.1 .3-2.9 .4 2.5 .3-.6 .4-10.4 .3 10.3 .4-.3 .3 4 .4-.4 .3 .4 .4-3.3 .3 2.6 .4-5.7 .3 7.6 .4 4.8 .3-4.7 .4-.4 .3-1.6 .4 2 .3-2.8 .4-2 .3 5.1 .4-2.7 .3 6.5 .4-5.9 .3-.4 .4-9.1 .3 6.1 .4 4.8 .3-2.4 .4 7.1 .3-5.7 .4-3.1 .3-.3 .4 .7 .3-1.1 .4 3.2 .3-6.4 .4 6.8 .3-1.1 .4 5.4 .3 .4 .4-7.1 .3-1.5 .4 2.8 .3 .6 .4 1.9 .3 7.9 .4-4.4 .3-6.2 .4 1.2 .3 .2 .4 4.4 .3-10.3 .4 8.8 .3-5.7 .4-3.1 .3 16.6 .4-12.5 .3 3.7 .4-3.5 .3-.8 .4 2.2 .3-3 .4 .2 .3-5.4 .4 9.8 .3 4.5 .4-18.7 .3 10.4 .4 6.6 .3-3.9 .4-5.5 .3 2.2 .4-.6 .3-6.2 .4 4.6 .3-.1 .4 4.8 .3 2.7 .4-2.6 .3 1.2 .4 3.7 .3-2.2 .4-8.4 .3-4.6 .4 17 .3-9.1 .4 6.8 .3-8.2 .4 8.6 .3-5.4 .4-9.4 .3 22.1 .4-17.3 .3-5.5 .4 13.7 .3-4.7 .4-8 .3-2.7 .4 11.5 .3-4.7 .4 4.2 .3 2.8 .4 6.4 .3-9.9 .4 2.4 .3 1.3 .4 1.2 .3-3.1 .4 3.1 .3-3.3 .4 2.5 .3-1.2 .4-1.3 .3 4.9 .4-6.3 .3 .4 .4 1.1 .3-7.2 .4 8 .3-11.2 .4 15 .3-5.8 .4 6.4 .3-9.4 .4 6.2 .3-1.3 .4-.2 .3 5.3 .4-11.9 .3 12.3 .4-8.2 .3-.4 .4 4 .3-2.3 .4-3.9 .3 5 .4 4.4 .3-17.2 .4 11.5 .3-2.8 .4 5.5 .3 1 .4-7.3 .3 8.4 .4-5.7 .3 4 .4-7.1 .3 4.5 .4 1.4 .3-1.2 .4 1.6 .3 1.2 .4 3.9 .3-5.5 .4-4.9 .3 6.3 .4-3.2 .3 2.3 .4-.1 .3 3.5 .4-4.5 .3-3.4 .4 2 .3 1.6 .4-.4 .3-3.8 .4 6.9 .3-3.1 .4 0 .3-3.7 .4 3.1 .3-2.2 .4 .8 .3 .1 .4 2.1 .3-1.8 .4 6.6 .3-3.2 .4 8.9 .3-10.5 .4-1.4 .3-.3 .4-8.3 .3 10.9 .4-3.4 .3-9.2 .4 16.9 .3-8.7 .4-3.3 .3 8.1 .4 .5 .3 0 .4-1.8 .3-11.2 .4 10.5 .3 8.6 .4-9.2 .3-1.5 .4 2.2 .3 .7 .4-2.9 .3 4.6 .4 1.2 .3-14.6 .4 5 .3 5.6 .4-7.5 .3 4.2 .4 8 .3 7.6 .4-8.3 .3-7.9 .4 7.1 .3-2.6 .4 11.7 .3-14.4 .4 7.7 .3-17.7 .4 9.2 .3 8.6 .4-5.7 .3-3.1 .4 4.8 .3-3.4 .4 2.3 .3-1.3 .4-5.8 .3-.8 .4 13.3 .3-1.4 .4-5 .3-2.3 .4-2 .3 13.2 .4-8.3 .3-12.7 .4 13.4 .3 1.5 .4-4.2 .3 13 .4-18.8 .3 2.3 .4 6 .3-1 .4-.8 .3 2.8 .4 5.1 .3-2.4 .4-2.3 .3-4 .4 .2 .3-1.9 .4 8.5 .3-3.3 .4-1 .3-7.4 .4 11.1 .3-8.5 .4 4.4 .3 7.1 .4-8.3 .3 .9 .4 8 .3-9.5 .4 1.5 .3-.6 .4 .2 .3 .3 .4 12.9 .3-9.1 .4-12 .3 9.6 .4-13.2 .3 5.9 .4 7.2 .3 .3 .4-4.7 .3 3.1 .4-.4 .3 3 .4-2.4 .3-.3 .4 4.6 .3-2.2 .4-6.7 .3 5.6 .4-3.1 .3 .7 .4 3.1 .3 3.7 .4-5.7 .3 1.3 .4-6.6 .3 9.3 .4-6.4 .3 2.9 .4-1.3 .3 2.3 .4-1.9 .3 1.6 .4-.2 .3 1.4 .4 .7 .3-1.4 .4 2.2 .3 3.2 .4-5.8 .3-9.2 .4 12.2 .3-2.9 .4 3.2 .3 1.4 .4-10.7 .3 5.7 .4 3.1 .3-2.6 .4 .1 .3 .2 .4 12.5 .3-14.9 .4-1.3 .3 6.6 .4 1.4 .3-12.3 .4 9.2 .3 3.6 .4-2.4 .3-6.2 .4 .5 .3 3.4 .4-.6 .3-2.7 .4 3.9 .3-3.5 .4-3.1 .3 6.5 .4 7.5 .3-11.5 .4 1 .3 3.3 .4 7.8 .3-8.2 .4-2.6 .3 3.6 .4-2.1 .3-3.6 .4 6.2 .3-1.5 .4 9 .3-9.4 .4-3.1 .3 2.6 .4 1.4 .3-1.7 .4 1.3 .3 2.5 .4 .8 .3-1.9 .4-.8 .3-5 .4 6.5 .3-4 .4 4.9 .3 6.1 .4-4 .3-6.3 .4 1.8 .3-.1 .4 3.1 .3-3.3 .4-.6 .3 1.9 .4-.1 .3 3.5 .4 2.7 .3-2.3 .4 7.9 .3-11.7 .4-1.2 .3 2.5 .4 2.8 .3-2.7 .4-1.3 .3-4.5 .4 6 .3 3.8 .4-6.2 .3 5 .4-3.9 .3-2.9 .4 13.4 .3-8.9 .4 8.8 .3-10.3 .4 1.5 .3-4.4 .4 2.3 .3-1.1 .4 2.5 .3 5.9 .4-7.1 .3-12.7 .4 10.7 .3 1.9 .4 2.7 .3-2.4 .4-3.9 .3 4 .4 4 .3-4.8 .4 3.9 .3-3.8 .4-7.6 .3 17.4 .4-18.7 .3 6.3 .4 3.2 .3 2.1 .4-6.4 .3 7.5 .4-2.9 .3-8 .4 5.5 .3 5.6 .4-5.8 .3 4.9 .4-7.8 .3 7.7 .4-3.1 .3-12.2 .4 4.7 .3 7.6 .4 1.5 .3-5.1 .4-1.3 .3 12.4 .4-6.4 .3 8.1 .4-16.3 .3 3.6 .4-6 .3 7.1 .4-2.5 .3-5.7 .4 1.9 .3 9.8 .4-1.7 .3 2.9 .4-3.9 .3-6.5 .4-1.3 .3-.6 .4 .8 .3-7.6 .4 1.6 .3-1.8 .4 2.7 .3-13.6 .4 9 .3-9.2 .4 5.9 .3-4.5 .4 14.3 .3-18 .4 2.8 .3-2 .4 .6 .3 4.4 .4-9.5 .3 8.9 .4-.7 .3-9.2 .4 18.2 .3-8.7 .4-8.2 .3 9.2 .4-1.1 .3-4.7 .4 9.5 .3 2.9 .4-3.4 .3-2 .4 4.8 .3-15.7 .4 9 .3 4.2 .4-4.1 .3 5.5 .4-1.3 .3 4.3 .4 9.3 .3-20.9 .4 11.1 .3-10.2 .4 8.7 .3-1.2 .4 1.4 .3 3.1 .4-15.5 .3 14.8 .4 4.5 .3 .7 .4-5.2 .3 1.7 .4-5.3 .3 1.4 .4 15.3 .3-21.1 .4 16.5 .3-8.2 .4 2.9 .3-2.7 .4-3.1 .3 11.4 .4-3.3 .3 4.3 .4-3.6 .3 1.3 .4-7.1 .3-7.3 .4 6.9 .3 11 .4-13.9 .3 4.2 .4 .5 .3-1.5 .4 6.2 .3 2.5 .4 5.8 .3-10.1 .4-4.2 .3 18 .4-14 .3 7.1 .4 4.8 .3-7.6 .4 13.5 .3-14.2 .4-2.1 .3 8.6 .4-3.1 .3-3 .4-7.2 .3 7.4 .4 3 .3-.4 .4-2.6 .3 1.7 .4-.7 .3-5.2 .4 8 .3-.8 .4 4.6 .3-1.3 .4-4.1 .3 3.6 .4-1.6 .3 5.4 .4-9 .3 1.1 .4 1.7 .3-4.4 .4 5.3 .3-1.3 .4 3.2 .3 1.1 .4-9.1 .3 18.4 .4-9.5 .3-.3 .4-5 .3 .2 .4 7.4 .3-13.2 .4 3.4 .3 5.9 .4-3.4 .3 2.8 .4 .2 .3-1 .4 4.1 .3-6.4 .4 5.8 .3-3.1 .4 6.5 .3-9.9 .4 1.5 .3 1.3 .4-1.5 .3 1.4 .4 .8 .3 3.9 .4-1.1 .3 1.3 .4-2.5 .3-2.3 .4-2.4 .3 12.7 .4-7.2 .3-4 .4 1.4 .3 2.3 .4-.7 .3-8.2 .4 6.9 .3 2.2 .4 3 .3-6.7 .4 .7 .3 2.1 .4-1.2 .3 5.7 .4-3.3 .3-3.3 .4 2.9 .3 .3 .4-2.3 .3 3 .4 2 .3-5.6 .4 1.2 .3-2.3 .4 2.6 .3 4.5 .4-.5 .3 4.3 .4-7.4 .3-4.8 .4 1.9 .3 4 .4-5.4 .3 7.1 .4-3.5 .3 1.7 .4-.5 .3-.3 .4 5 .3-12.8 .4 13.8 .3-10.8 .4 1.1 .3 1.6 .4 7.8 .3 6.5 .4-14.9 .3 4.4 .4 .4 .3-4 .4 5.4 .3-2.3 .4-2.2 .3 0 .4 3.5 .3-10.2 .4 12.7 .3-.2 .4-2.8 .3-10.7 .4 12.1 .3-2.7 .4-5.9 .3 5.3 .4 .8 .3-4 .4 12.7 .3-8.4 .4 4 .3-2.6 .4-1.7 .3 1 .4 0 .3-1 .4-4.2 .3 9.1 .4-3.9 .3 0 .4-.4 .3-.2 .4 6.9 .3 .3 .4-4.3 .3-10.4 .4 7.3 .3 2.5 .4-1.2 .3 3 .4-5.3 .3 6.4 .4-6.2 .3 1.5 .4-2.1 .3 4.6 .4-6.3 .3 7.2 .4-1.4 .3-5 .4 5.9 .3-9.1 .4 6 .3 4 .4-5.7 .3 3.1 .4-.9 .3-12.2 .4 11.7 .3 12.9 .4-20.1 .3 4.1 .4-7.8 .3 11.8 .4-2.4 .3-6 .4 2.4 .3-.6 .4 7.9 .3-6.3 .4 13.4 .3-8.6 .4-1.7 .3 7.5 .4-2.8 .3-4.2 .4 1.9 .3 .4 .4 6.2 .3 2 .4-7 .3-6.2 .4 4.8 .3-7.1 .4 5.8 .3 3.1 .4 1 .3-4.7 .4-.8 .3 4 .4 3.9 .3-2.2 .4-2.1 .3-2.7 .4-.4 .3 3.9 .4-1.1 .3-13.3 .4 12.1 .3 10.8 .4-12.7 .3 10.9 .4-5.7 .3-2.9 .4-4.3 .3 3.8 .4 8.3 .3-20.5 .4 11.1 .3 0 .4 4.5 .3-11.4 .4 5.7 .3 8.3 .4-3.3 .3-4.5 .4 4.8 .3 3.7 .4 3.6 .3 1.2 .4-11 .3-5.6 .4 5.5 .3-4.1 .4 4.2 .3-6.8 .4 8.3 .3-9 .4 5.2 .3 6.4 .4-9.8 .3 2.4 .4 2 .3-.2 .4 4.7 .3-9.9 .4 5.9 .3 4 .4-.4 .3 3.1 .4-16.3 .3 22.5 .4-13 .3 6.5 .4 6.5 .3-12.7 .4 .5 .3-.3 .4 12.5 .3-12.3 .4 1.5 .3-2 .4 2.6 .3-.3 .4 .4 .3-1.6 .4-.8 .3-1.3 .4 1.9 .3 0 .4 .5 .3-8.5 .4 2.1 .3 7.9 .4 0 .3-7.1 .4 7.4 .3 5.4 .4-.1 .3-7.4 .4-4.8 .3 7.2 .4-2.8 .3 5.7 .4-5.5 .3-3.3 .4-2 .3-5.5 .4 15.9 .3 1.1 .4-12.2 .3 7.3 .4-3.4 .3 6.6 .4 4.6 .3-9.7 .4-.6 .3 6.6 .4-7.6 .3 7.3 .4 3.1 .3-11.3 .4 2.1 .3 3.3 .4-5 .3 4.2 .4-2.3 .3 10.2 .4-5.2 .3 3.3 .4-7.1 .3 1.9 .4-4.8 .3 4.2 .4-6.8 .3 3 .4 3.4 .3 3.2 .4-8.2 .3 1.3 .4-3.6 .3-6.1 .4 9.8 .3 1.7 .4-7.9 .3 4 .4 5.9 .3 2.9 .4-13.2 .3 11.3 .4-4.3 .3 1 .4 9.2 .3-9.7 .4-2 .3 7 .4-6.7 .3 3.9 .4-.2 .3-4.8 .4 7 .3-1.8 .4-7 .3 8.1 .4-3.4 .3-.2 .4 3.6 .3-11.2 .4 11.7 .3-2.2 .4 1.3 .3 .7 .4 1.8 .3-.1 .4-6.3 .3 2.4 .4-.2 .3 1.9 .4 1.4 .3-4.6 .4 1.4 .3 .5 .4-5.3 .3 9.8 .4-4.9 .3-5.2 .4 2.2 .3-6.9 .4 7.6 .3-2.3 .4 7.5 .3-.9 .4-4.6 .3 2.5 .4-2.6 .3-8.9 .4 10.1 .3 2.4 .4-.8 .3-.2 .4-1 .3 3.4 .4 5.5 .3-14.8 .4 1.3 .3 7 .4 .9 .3-2.9 .4-4.5 .3 3.2 .4 1.1 .3 1.5 .4-2.4 .3 1.2 .4 2.2 .3-.6 .4-4 .3-.8 .4 3.7 .3 3.7 .4 5.1 .3-14.4 .4 7.2 .3-4.5 .4 0 .3 2.5 .4 6.7 .3-8.9 .4-3 .3 3.3 .4-.1 .3 7 .4-3.9 .3 .6 .4-2.5 .3 .8 .4 2 .3-11.2 .4 12.8 .3-2 .4-10.5 .3 10.2 .4-2.9 .3-5.5 .4 8.5 .3-.2 .4-.7 .3-2.6 .4-3.2 .3 1.7 .4 2.3 .3-1.2 .4 1 .3-.7 .4 8.2 .3-6.6 .4 4.8 .3-10.2 .4 8.5 .3-.3 .4-1.7 .3-1.6 .4 6.1 .3-3.9 .4-2.1 .3 5.7 .4 6.8 .3-10.8 .4-2.8 .3-3.4 .4 3.1 .3 8.8 .4-6.7 .3-2.1 .4 5.3 .3-4.4 .4 2.3 .3 10.6 .4-10.9 .3 .7 .4-4.1 .3 6.1 .4-5.2 .3 2.9 .4-9.2 .3 6.7 .4 2.6 .3-4.7 .4 2.9 .3 .3 .4 .9 .3-1 .4-.9 .3-1.2 .4 1.8 .3-5.7 .4 3.3 .3 7.4 .4-10.4 .3 5 .4 5.2 .3-1.9 .4-5.6 .3 1.8 .4-1.2 .3-.9 .4 1 .3 7 .4-1.5 .3-3.6 .4 0 .3-.8 .4 2.1 .3 1.4 .4-3.6 .3 3.1 .4 5.6 .3-6.9 .4 1 .3-8.5 .4 3.6 .3 .8 .4 .6 .3 3.4 .4-6.2 .3 1.2 .4 2.3 .3 4 .4-4.2 .3 3.2 .4-4.3 .3 .6 .4 .6 .3-3.7 .4 2.4 .3 0 .4 2 .3-5.2 .4 7.2 .3-.2 .4-.9 .3-3.3 .4 6 .3-5.7 .4-.1 .3-2.3 .4-4.7 .3 9.6 .4-1.5 .3-2.5 .4 1.7 .3 .6 .4-2 .3-.1" fill="none" stroke="#00CCCC" stroke-width="5" stroke-linejoin="bevel"/></g>
<rect x="131.8" y="18.8" width="1669.7" height="1346.4" fill="none" stroke="#000" stroke-width="5.5"/><path d="M181.4 1365V1377 M306.0 1365V1390 M430.6 1365V1377 M555.2 1365V1390 M679.9 1365V1377 M804.5 1365V1390 M929.1 1365V1377 M1053.7 1365V1390 M1178.4 1365V1377 M1303.0 1365V1390 M1427.6 1365V1377 M1552.2 1365V1390 M1676.9 1365V1377 M1801.5 1365V1390" stroke="#000" stroke-width="4.8" fill="none"/>
</svg>
</body></html>
